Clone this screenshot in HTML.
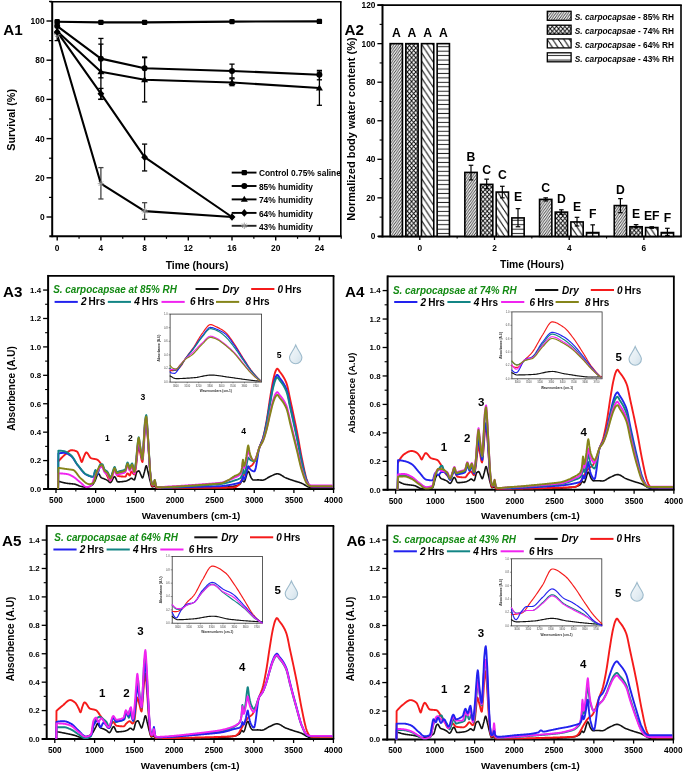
<!DOCTYPE html>
<html><head><meta charset="utf-8"><style>
html,body{margin:0;padding:0;background:#fff;}
svg{display:block;font-family:"Liberation Sans",sans-serif;will-change:transform;}
</style></head><body>
<svg width="685" height="774" viewBox="0 0 685 774">
<rect width="685" height="774" fill="#fff"/>
<line x1="49.7" y1="1.8" x2="341.6" y2="1.8" stroke="#000" stroke-width="1.6" stroke-linecap="butt"/>
<line x1="340.8" y1="1.8" x2="340.8" y2="236.2" stroke="#000" stroke-width="1.6" stroke-linecap="butt"/>
<line x1="52.2" y1="1" x2="52.2" y2="237.2" stroke="#000" stroke-width="2.0" stroke-linecap="butt"/>
<line x1="49.3" y1="236.2" x2="341.6" y2="236.2" stroke="#000" stroke-width="2.0" stroke-linecap="butt"/>
<line x1="46.5" y1="217" x2="52.2" y2="217" stroke="#000" stroke-width="1.4" stroke-linecap="butt"/>
<text x="44.6" y="220.01" font-size="8.4" text-anchor="end" font-weight="bold" font-style="normal" fill="#000">0</text>
<line x1="46.5" y1="177.8" x2="52.2" y2="177.8" stroke="#000" stroke-width="1.4" stroke-linecap="butt"/>
<text x="44.6" y="180.81" font-size="8.4" text-anchor="end" font-weight="bold" font-style="normal" fill="#000">20</text>
<line x1="46.5" y1="138.6" x2="52.2" y2="138.6" stroke="#000" stroke-width="1.4" stroke-linecap="butt"/>
<text x="44.6" y="141.61" font-size="8.4" text-anchor="end" font-weight="bold" font-style="normal" fill="#000">40</text>
<line x1="46.5" y1="99.4" x2="52.2" y2="99.4" stroke="#000" stroke-width="1.4" stroke-linecap="butt"/>
<text x="44.6" y="102.41" font-size="8.4" text-anchor="end" font-weight="bold" font-style="normal" fill="#000">60</text>
<line x1="46.5" y1="60.2" x2="52.2" y2="60.2" stroke="#000" stroke-width="1.4" stroke-linecap="butt"/>
<text x="44.6" y="63.21" font-size="8.4" text-anchor="end" font-weight="bold" font-style="normal" fill="#000">80</text>
<line x1="46.5" y1="21" x2="52.2" y2="21" stroke="#000" stroke-width="1.4" stroke-linecap="butt"/>
<text x="44.6" y="24.01" font-size="8.4" text-anchor="end" font-weight="bold" font-style="normal" fill="#000">100</text>
<line x1="49" y1="197.4" x2="52.2" y2="197.4" stroke="#000" stroke-width="1.2" stroke-linecap="butt"/>
<line x1="49" y1="158.2" x2="52.2" y2="158.2" stroke="#000" stroke-width="1.2" stroke-linecap="butt"/>
<line x1="49" y1="119" x2="52.2" y2="119" stroke="#000" stroke-width="1.2" stroke-linecap="butt"/>
<line x1="49" y1="79.8" x2="52.2" y2="79.8" stroke="#000" stroke-width="1.2" stroke-linecap="butt"/>
<line x1="49" y1="40.6" x2="52.2" y2="40.6" stroke="#000" stroke-width="1.2" stroke-linecap="butt"/>
<line x1="49" y1="1.4" x2="52.2" y2="1.4" stroke="#000" stroke-width="1.2" stroke-linecap="butt"/>
<line x1="57.2" y1="236.2" x2="57.2" y2="240.4" stroke="#000" stroke-width="1.4" stroke-linecap="butt"/>
<text x="57.2" y="250.91" font-size="8.4" text-anchor="middle" font-weight="bold" font-style="normal" fill="#000">0</text>
<line x1="100.9" y1="236.2" x2="100.9" y2="240.4" stroke="#000" stroke-width="1.4" stroke-linecap="butt"/>
<text x="100.9" y="250.91" font-size="8.4" text-anchor="middle" font-weight="bold" font-style="normal" fill="#000">4</text>
<line x1="144.6" y1="236.2" x2="144.6" y2="240.4" stroke="#000" stroke-width="1.4" stroke-linecap="butt"/>
<text x="144.6" y="250.91" font-size="8.4" text-anchor="middle" font-weight="bold" font-style="normal" fill="#000">8</text>
<line x1="188.3" y1="236.2" x2="188.3" y2="240.4" stroke="#000" stroke-width="1.4" stroke-linecap="butt"/>
<text x="188.3" y="250.91" font-size="8.4" text-anchor="middle" font-weight="bold" font-style="normal" fill="#000">12</text>
<line x1="232" y1="236.2" x2="232" y2="240.4" stroke="#000" stroke-width="1.4" stroke-linecap="butt"/>
<text x="232" y="250.91" font-size="8.4" text-anchor="middle" font-weight="bold" font-style="normal" fill="#000">16</text>
<line x1="275.7" y1="236.2" x2="275.7" y2="240.4" stroke="#000" stroke-width="1.4" stroke-linecap="butt"/>
<text x="275.7" y="250.91" font-size="8.4" text-anchor="middle" font-weight="bold" font-style="normal" fill="#000">20</text>
<line x1="319.4" y1="236.2" x2="319.4" y2="240.4" stroke="#000" stroke-width="1.4" stroke-linecap="butt"/>
<text x="319.4" y="250.91" font-size="8.4" text-anchor="middle" font-weight="bold" font-style="normal" fill="#000">24</text>
<line x1="79.05" y1="236.2" x2="79.05" y2="238.8" stroke="#000" stroke-width="1.2" stroke-linecap="butt"/>
<line x1="122.75" y1="236.2" x2="122.75" y2="238.8" stroke="#000" stroke-width="1.2" stroke-linecap="butt"/>
<line x1="166.45" y1="236.2" x2="166.45" y2="238.8" stroke="#000" stroke-width="1.2" stroke-linecap="butt"/>
<line x1="210.15" y1="236.2" x2="210.15" y2="238.8" stroke="#000" stroke-width="1.2" stroke-linecap="butt"/>
<line x1="253.85" y1="236.2" x2="253.85" y2="238.8" stroke="#000" stroke-width="1.2" stroke-linecap="butt"/>
<line x1="297.55" y1="236.2" x2="297.55" y2="238.8" stroke="#000" stroke-width="1.2" stroke-linecap="butt"/>
<line x1="341.25" y1="236.2" x2="341.25" y2="238.8" stroke="#000" stroke-width="1.2" stroke-linecap="butt"/>
<text x="197" y="268.92" font-size="10.4" text-anchor="middle" font-weight="bold" font-style="normal" fill="#000">Time (hours)</text>
<text x="11.2" y="123.77" font-size="10.8" text-anchor="middle" font-weight="bold" font-style="normal" fill="#000" transform="rotate(-90 11.2 119.9)">Survival (%)</text>
<text x="3.2" y="35.24" font-size="15.2" text-anchor="start" font-weight="bold" font-style="normal" fill="#000">A1</text>
<clipPath id="c1"><rect x="52" y="2" width="288" height="234"/></clipPath>
<g clip-path="url(#c1)">
<line x1="57.2" y1="40.6" x2="57.2" y2="21.98" stroke="#000" stroke-width="1.3" stroke-linecap="butt"/>
<line x1="54.6" y1="40.6" x2="59.8" y2="40.6" stroke="#000" stroke-width="1.3" stroke-linecap="butt"/>
<line x1="54.6" y1="21.98" x2="59.8" y2="21.98" stroke="#000" stroke-width="1.3" stroke-linecap="butt"/>
<line x1="100.9" y1="77.84" x2="100.9" y2="38.44" stroke="#000" stroke-width="1.3" stroke-linecap="butt"/>
<line x1="98.3" y1="77.84" x2="103.5" y2="77.84" stroke="#000" stroke-width="1.3" stroke-linecap="butt"/>
<line x1="98.3" y1="38.44" x2="103.5" y2="38.44" stroke="#000" stroke-width="1.3" stroke-linecap="butt"/>
<line x1="100.9" y1="99.4" x2="100.9" y2="44.13" stroke="#000" stroke-width="1.3" stroke-linecap="butt"/>
<line x1="98.3" y1="99.4" x2="103.5" y2="99.4" stroke="#000" stroke-width="1.3" stroke-linecap="butt"/>
<line x1="98.3" y1="44.13" x2="103.5" y2="44.13" stroke="#000" stroke-width="1.3" stroke-linecap="butt"/>
<line x1="100.9" y1="99.2" x2="100.9" y2="88.42" stroke="#000" stroke-width="1.3" stroke-linecap="butt"/>
<line x1="98.3" y1="99.2" x2="103.5" y2="99.2" stroke="#000" stroke-width="1.3" stroke-linecap="butt"/>
<line x1="98.3" y1="88.42" x2="103.5" y2="88.42" stroke="#000" stroke-width="1.3" stroke-linecap="butt"/>
<line x1="144.6" y1="79.8" x2="144.6" y2="57.06" stroke="#000" stroke-width="1.3" stroke-linecap="butt"/>
<line x1="142" y1="79.8" x2="147.2" y2="79.8" stroke="#000" stroke-width="1.3" stroke-linecap="butt"/>
<line x1="142" y1="57.06" x2="147.2" y2="57.06" stroke="#000" stroke-width="1.3" stroke-linecap="butt"/>
<line x1="144.6" y1="101.95" x2="144.6" y2="57.65" stroke="#000" stroke-width="1.3" stroke-linecap="butt"/>
<line x1="142" y1="101.95" x2="147.2" y2="101.95" stroke="#000" stroke-width="1.3" stroke-linecap="butt"/>
<line x1="142" y1="57.65" x2="147.2" y2="57.65" stroke="#000" stroke-width="1.3" stroke-linecap="butt"/>
<line x1="144.6" y1="170.94" x2="144.6" y2="144.09" stroke="#000" stroke-width="1.3" stroke-linecap="butt"/>
<line x1="142" y1="170.94" x2="147.2" y2="170.94" stroke="#000" stroke-width="1.3" stroke-linecap="butt"/>
<line x1="142" y1="144.09" x2="147.2" y2="144.09" stroke="#000" stroke-width="1.3" stroke-linecap="butt"/>
<line x1="232" y1="77.84" x2="232" y2="64.12" stroke="#000" stroke-width="1.3" stroke-linecap="butt"/>
<line x1="229.4" y1="77.84" x2="234.6" y2="77.84" stroke="#000" stroke-width="1.3" stroke-linecap="butt"/>
<line x1="229.4" y1="64.12" x2="234.6" y2="64.12" stroke="#000" stroke-width="1.3" stroke-linecap="butt"/>
<line x1="232" y1="85.68" x2="232" y2="78.82" stroke="#000" stroke-width="1.3" stroke-linecap="butt"/>
<line x1="229.4" y1="85.68" x2="234.6" y2="85.68" stroke="#000" stroke-width="1.3" stroke-linecap="butt"/>
<line x1="229.4" y1="78.82" x2="234.6" y2="78.82" stroke="#000" stroke-width="1.3" stroke-linecap="butt"/>
<line x1="319.4" y1="79.8" x2="319.4" y2="70.39" stroke="#000" stroke-width="1.3" stroke-linecap="butt"/>
<line x1="316.8" y1="79.8" x2="322" y2="79.8" stroke="#000" stroke-width="1.3" stroke-linecap="butt"/>
<line x1="316.8" y1="70.39" x2="322" y2="70.39" stroke="#000" stroke-width="1.3" stroke-linecap="butt"/>
<line x1="319.4" y1="105.28" x2="319.4" y2="71.96" stroke="#000" stroke-width="1.3" stroke-linecap="butt"/>
<line x1="316.8" y1="105.28" x2="322" y2="105.28" stroke="#000" stroke-width="1.3" stroke-linecap="butt"/>
<line x1="316.8" y1="71.96" x2="322" y2="71.96" stroke="#000" stroke-width="1.3" stroke-linecap="butt"/>
<line x1="100.9" y1="198.97" x2="100.9" y2="167.61" stroke="#444" stroke-width="1.3" stroke-linecap="butt"/>
<line x1="98.3" y1="198.97" x2="103.5" y2="198.97" stroke="#444" stroke-width="1.3" stroke-linecap="butt"/>
<line x1="98.3" y1="167.61" x2="103.5" y2="167.61" stroke="#444" stroke-width="1.3" stroke-linecap="butt"/>
<line x1="144.6" y1="219.35" x2="144.6" y2="202.69" stroke="#444" stroke-width="1.3" stroke-linecap="butt"/>
<line x1="142" y1="219.35" x2="147.2" y2="219.35" stroke="#444" stroke-width="1.3" stroke-linecap="butt"/>
<line x1="142" y1="202.69" x2="147.2" y2="202.69" stroke="#444" stroke-width="1.3" stroke-linecap="butt"/>
<polyline points="57.2,21.78 100.9,22.37 144.6,22.37 232,21.59 319.4,21.39" fill="none" stroke="#000" stroke-width="2.1" stroke-linejoin="round" stroke-linecap="round"/>
<polyline points="57.2,26.1 100.9,58.63 144.6,68.24 232,70.98 319.4,74.7" fill="none" stroke="#000" stroke-width="2.1" stroke-linejoin="round" stroke-linecap="round"/>
<polyline points="57.2,31.19 100.9,71.76 144.6,79.8 232,82.54 319.4,88.03" fill="none" stroke="#000" stroke-width="2.1" stroke-linejoin="round" stroke-linecap="round"/>
<polyline points="57.2,31.98 100.9,93.72 144.6,157.22 232,217" fill="none" stroke="#000" stroke-width="2.1" stroke-linejoin="round" stroke-linecap="round"/>
<polyline points="57.2,34.72 100.9,183.68 144.6,211.12 232,217" fill="none" stroke="#000" stroke-width="2.1" stroke-linejoin="round" stroke-linecap="round"/>
<path d="M54,34.72 H60.4 M54.96,32.48 L59.44,36.96 M54.96,36.96 L59.44,32.48 M57.2,31.52 V37.92" stroke="#999" stroke-width="0.9" fill="none"/>
<path d="M97.7,183.68 H104.1 M98.66,181.44 L103.14,185.92 M98.66,185.92 L103.14,181.44 M100.9,180.48 V186.88" stroke="#999" stroke-width="0.9" fill="none"/>
<path d="M141.4,211.12 H147.8 M142.36,208.88 L146.84,213.36 M142.36,213.36 L146.84,208.88 M144.6,207.92 V214.32" stroke="#999" stroke-width="0.9" fill="none"/>
<path d="M228.8,217 H235.2 M229.76,214.76 L234.24,219.24 M229.76,219.24 L234.24,214.76 M232,213.8 V220.2" stroke="#999" stroke-width="0.9" fill="none"/>
<rect x="54.5" y="19.08" width="5.4" height="5.4" rx="1.2" fill="#000"/>
<rect x="98.2" y="19.67" width="5.4" height="5.4" rx="1.2" fill="#000"/>
<rect x="141.9" y="19.67" width="5.4" height="5.4" rx="1.2" fill="#000"/>
<rect x="229.3" y="18.89" width="5.4" height="5.4" rx="1.2" fill="#000"/>
<rect x="316.7" y="18.69" width="5.4" height="5.4" rx="1.2" fill="#000"/>
<circle cx="57.2" cy="26.1" r="3" fill="#000"/>
<circle cx="100.9" cy="58.63" r="3" fill="#000"/>
<circle cx="144.6" cy="68.24" r="3" fill="#000"/>
<circle cx="232" cy="70.98" r="3" fill="#000"/>
<circle cx="319.4" cy="74.7" r="3" fill="#000"/>
<path d="M57.2,27.59 L60.7,33.59 L53.7,33.59Z" fill="#000"/>
<path d="M100.9,68.16 L104.4,74.16 L97.4,74.16Z" fill="#000"/>
<path d="M144.6,76.2 L148.1,82.2 L141.1,82.2Z" fill="#000"/>
<path d="M232,78.94 L235.5,84.94 L228.5,84.94Z" fill="#000"/>
<path d="M319.4,84.43 L322.9,90.43 L315.9,90.43Z" fill="#000"/>
<path d="M57.2,28.18 L60.6,31.98 L57.2,35.78 L53.8,31.98Z" fill="#000"/>
<path d="M100.9,89.92 L104.3,93.72 L100.9,97.52 L97.5,93.72Z" fill="#000"/>
<path d="M144.6,153.42 L148,157.22 L144.6,161.02 L141.2,157.22Z" fill="#000"/>
<path d="M232,213.2 L235.4,217 L232,220.8 L228.6,217Z" fill="#000"/>
<line x1="231.7" y1="172.6" x2="256.5" y2="172.6" stroke="#000" stroke-width="1.9" stroke-linecap="butt"/>
<rect x="241.6" y="169.9" width="5.4" height="5.4" rx="1.2" fill="#000"/>
<text x="258.9" y="176.41" font-size="8.4" text-anchor="start" font-weight="bold" font-style="normal" fill="#000">Control 0.75% saline</text>
<line x1="231.7" y1="186" x2="256.5" y2="186" stroke="#000" stroke-width="1.9" stroke-linecap="butt"/>
<circle cx="244.3" cy="186" r="3" fill="#000"/>
<text x="258.9" y="189.81" font-size="8.4" text-anchor="start" font-weight="bold" font-style="normal" fill="#000">85% humidity</text>
<line x1="231.7" y1="199.4" x2="256.5" y2="199.4" stroke="#000" stroke-width="1.9" stroke-linecap="butt"/>
<path d="M244.3,195.8 L247.8,201.8 L240.8,201.8Z" fill="#000"/>
<text x="258.9" y="203.21" font-size="8.4" text-anchor="start" font-weight="bold" font-style="normal" fill="#000">74% humidity</text>
<line x1="231.7" y1="212.9" x2="256.5" y2="212.9" stroke="#000" stroke-width="1.9" stroke-linecap="butt"/>
<path d="M244.3,209.1 L247.7,212.9 L244.3,216.7 L240.9,212.9Z" fill="#000"/>
<text x="258.9" y="216.71" font-size="8.4" text-anchor="start" font-weight="bold" font-style="normal" fill="#000">64% humidity</text>
<line x1="231.7" y1="225.8" x2="256.5" y2="225.8" stroke="#222" stroke-width="1.9" stroke-linecap="butt"/>
<path d="M241.1,225.8 H247.5 M242.06,223.56 L246.54,228.04 M242.06,228.04 L246.54,223.56 M244.3,222.6 V229" stroke="#999" stroke-width="0.9" fill="none"/>
<text x="258.9" y="229.61" font-size="8.4" text-anchor="start" font-weight="bold" font-style="normal" fill="#000">43% humidity</text>
</g>
<defs>
<pattern id="h85" patternUnits="userSpaceOnUse" width="2.5" height="3.6">
<rect width="2.5" height="3.6" fill="#fff"/><path d="M-1.25,5.4 L1.25,1.8 M-1.25,1.8 L1.25,-1.8 M0,3.6 L2.5,0 M1.25,5.4 L3.75,1.8 M1.25,1.8 L3.75,-1.8" stroke="#2a2a2a" stroke-width="0.85"/></pattern>
<pattern id="h74" patternUnits="userSpaceOnUse" width="4.2" height="4.8">
<rect width="4.2" height="4.8" fill="#fff"/><path d="M0,0 L4.2,4.8 M0,4.8 L4.2,0" stroke="#000" stroke-width="0.9"/></pattern>
<pattern id="h64" patternUnits="userSpaceOnUse" width="5.6" height="8.4">
<rect width="5.6" height="8.4" fill="#fff"/><path d="M0,0 L5.6,8.4 M-5.6,0 L0,8.4 M5.6,0 L11.2,8.4" stroke="#111" stroke-width="1.1"/></pattern>
<pattern id="h43" patternUnits="userSpaceOnUse" width="10" height="4.45">
<rect width="10" height="4.45" fill="#fff"/><path d="M0,2.2 H10" stroke="#222" stroke-width="1.0"/></pattern>
</defs>
<line x1="377.4" y1="5.1" x2="681.8" y2="5.1" stroke="#000" stroke-width="1.6" stroke-linecap="butt"/>
<line x1="681" y1="5.1" x2="681" y2="236.4" stroke="#000" stroke-width="1.6" stroke-linecap="butt"/>
<line x1="382.5" y1="4.3" x2="382.5" y2="237.4" stroke="#000" stroke-width="2.0" stroke-linecap="butt"/>
<line x1="378.2" y1="236.4" x2="681.8" y2="236.4" stroke="#000" stroke-width="2.0" stroke-linecap="butt"/>
<line x1="377.4" y1="236.4" x2="382.5" y2="236.4" stroke="#000" stroke-width="1.3" stroke-linecap="butt"/>
<text x="375.4" y="239.37" font-size="8.3" text-anchor="end" font-weight="bold" font-style="normal" fill="#000">0</text>
<line x1="377.4" y1="197.85" x2="382.5" y2="197.85" stroke="#000" stroke-width="1.3" stroke-linecap="butt"/>
<text x="375.4" y="200.82" font-size="8.3" text-anchor="end" font-weight="bold" font-style="normal" fill="#000">20</text>
<line x1="377.4" y1="159.3" x2="382.5" y2="159.3" stroke="#000" stroke-width="1.3" stroke-linecap="butt"/>
<text x="375.4" y="162.27" font-size="8.3" text-anchor="end" font-weight="bold" font-style="normal" fill="#000">40</text>
<line x1="377.4" y1="120.75" x2="382.5" y2="120.75" stroke="#000" stroke-width="1.3" stroke-linecap="butt"/>
<text x="375.4" y="123.72" font-size="8.3" text-anchor="end" font-weight="bold" font-style="normal" fill="#000">60</text>
<line x1="377.4" y1="82.2" x2="382.5" y2="82.2" stroke="#000" stroke-width="1.3" stroke-linecap="butt"/>
<text x="375.4" y="85.17" font-size="8.3" text-anchor="end" font-weight="bold" font-style="normal" fill="#000">80</text>
<line x1="377.4" y1="43.65" x2="382.5" y2="43.65" stroke="#000" stroke-width="1.3" stroke-linecap="butt"/>
<text x="375.4" y="46.62" font-size="8.3" text-anchor="end" font-weight="bold" font-style="normal" fill="#000">100</text>
<line x1="377.4" y1="5.1" x2="382.5" y2="5.1" stroke="#000" stroke-width="1.3" stroke-linecap="butt"/>
<text x="375.4" y="8.07" font-size="8.3" text-anchor="end" font-weight="bold" font-style="normal" fill="#000">120</text>
<line x1="379.6" y1="217.12" x2="382.5" y2="217.12" stroke="#000" stroke-width="1.1" stroke-linecap="butt"/>
<line x1="379.6" y1="178.57" x2="382.5" y2="178.57" stroke="#000" stroke-width="1.1" stroke-linecap="butt"/>
<line x1="379.6" y1="140.03" x2="382.5" y2="140.03" stroke="#000" stroke-width="1.1" stroke-linecap="butt"/>
<line x1="379.6" y1="101.47" x2="382.5" y2="101.47" stroke="#000" stroke-width="1.1" stroke-linecap="butt"/>
<line x1="379.6" y1="62.93" x2="382.5" y2="62.93" stroke="#000" stroke-width="1.1" stroke-linecap="butt"/>
<line x1="379.6" y1="24.38" x2="382.5" y2="24.38" stroke="#000" stroke-width="1.1" stroke-linecap="butt"/>
<line x1="419.8" y1="236.4" x2="419.8" y2="240" stroke="#000" stroke-width="1.3" stroke-linecap="butt"/>
<text x="419.8" y="251.17" font-size="8.3" text-anchor="middle" font-weight="bold" font-style="normal" fill="#000">0</text>
<line x1="494.5" y1="236.4" x2="494.5" y2="240" stroke="#000" stroke-width="1.3" stroke-linecap="butt"/>
<text x="494.5" y="251.17" font-size="8.3" text-anchor="middle" font-weight="bold" font-style="normal" fill="#000">2</text>
<line x1="569.2" y1="236.4" x2="569.2" y2="240" stroke="#000" stroke-width="1.3" stroke-linecap="butt"/>
<text x="569.2" y="251.17" font-size="8.3" text-anchor="middle" font-weight="bold" font-style="normal" fill="#000">4</text>
<line x1="643.9" y1="236.4" x2="643.9" y2="240" stroke="#000" stroke-width="1.3" stroke-linecap="butt"/>
<text x="643.9" y="251.17" font-size="8.3" text-anchor="middle" font-weight="bold" font-style="normal" fill="#000">6</text>
<line x1="457.15" y1="236.4" x2="457.15" y2="238.6" stroke="#000" stroke-width="1.1" stroke-linecap="butt"/>
<line x1="531.85" y1="236.4" x2="531.85" y2="238.6" stroke="#000" stroke-width="1.1" stroke-linecap="butt"/>
<line x1="606.55" y1="236.4" x2="606.55" y2="238.6" stroke="#000" stroke-width="1.1" stroke-linecap="butt"/>
<text x="532" y="268.32" font-size="10.4" text-anchor="middle" font-weight="bold" font-style="normal" fill="#000">Time (Hours)</text>
<text x="351.3" y="132.94" font-size="11.0" text-anchor="middle" font-weight="bold" font-style="normal" fill="#000" transform="rotate(-90 351.3 129)">Normalized body water content (%)</text>
<text x="344.6" y="34.74" font-size="15.2" text-anchor="start" font-weight="bold" font-style="normal" fill="#000">A2</text>
<rect x="390.15" y="43.65" width="12.3" height="192.75" fill="url(#h85)" stroke="#000" stroke-width="1.6"/>
<rect x="405.82" y="43.65" width="12.3" height="192.75" fill="url(#h74)" stroke="#000" stroke-width="1.6"/>
<rect x="421.48" y="43.65" width="12.3" height="192.75" fill="url(#h64)" stroke="#000" stroke-width="1.6"/>
<rect x="437.15" y="43.65" width="12.3" height="192.75" fill="url(#h43)" stroke="#000" stroke-width="1.6"/>
<rect x="464.85" y="172.41" width="12.3" height="63.99" fill="url(#h85)" stroke="#000" stroke-width="1.6"/>
<rect x="480.52" y="184.36" width="12.3" height="52.04" fill="url(#h74)" stroke="#000" stroke-width="1.6"/>
<rect x="496.18" y="192.07" width="12.3" height="44.33" fill="url(#h64)" stroke="#000" stroke-width="1.6"/>
<rect x="511.85" y="217.9" width="12.3" height="18.5" fill="url(#h43)" stroke="#000" stroke-width="1.6"/>
<rect x="539.55" y="199.39" width="12.3" height="37.01" fill="url(#h85)" stroke="#000" stroke-width="1.6"/>
<rect x="555.22" y="212.11" width="12.3" height="24.29" fill="url(#h74)" stroke="#000" stroke-width="1.6"/>
<rect x="570.88" y="221.94" width="12.3" height="14.46" fill="url(#h64)" stroke="#000" stroke-width="1.6"/>
<rect x="586.55" y="232.55" width="12.3" height="3.85" fill="url(#h43)" stroke="#000" stroke-width="1.6"/>
<rect x="614.25" y="205.56" width="12.3" height="30.84" fill="url(#h85)" stroke="#000" stroke-width="1.6"/>
<rect x="629.92" y="226.76" width="12.3" height="9.64" fill="url(#h74)" stroke="#000" stroke-width="1.6"/>
<rect x="645.58" y="227.53" width="12.3" height="8.87" fill="url(#h64)" stroke="#000" stroke-width="1.6"/>
<rect x="661.25" y="232.55" width="12.3" height="3.85" fill="url(#h43)" stroke="#000" stroke-width="1.6"/>
<line x1="471" y1="179.92" x2="471" y2="165.28" stroke="#000" stroke-width="1.2" stroke-linecap="butt"/>
<line x1="468.7" y1="165.28" x2="473.3" y2="165.28" stroke="#000" stroke-width="1.2" stroke-linecap="butt"/>
<line x1="468.7" y1="179.92" x2="473.3" y2="179.92" stroke="#000" stroke-width="1.2" stroke-linecap="butt"/>
<line x1="486.67" y1="188.79" x2="486.67" y2="179.15" stroke="#000" stroke-width="1.2" stroke-linecap="butt"/>
<line x1="484.37" y1="179.15" x2="488.97" y2="179.15" stroke="#000" stroke-width="1.2" stroke-linecap="butt"/>
<line x1="484.37" y1="188.79" x2="488.97" y2="188.79" stroke="#000" stroke-width="1.2" stroke-linecap="butt"/>
<line x1="502.33" y1="197.85" x2="502.33" y2="186.28" stroke="#000" stroke-width="1.2" stroke-linecap="butt"/>
<line x1="500.03" y1="186.28" x2="504.63" y2="186.28" stroke="#000" stroke-width="1.2" stroke-linecap="butt"/>
<line x1="500.03" y1="197.85" x2="504.63" y2="197.85" stroke="#000" stroke-width="1.2" stroke-linecap="butt"/>
<line x1="518" y1="226.76" x2="518" y2="208.64" stroke="#000" stroke-width="1.2" stroke-linecap="butt"/>
<line x1="515.7" y1="208.64" x2="520.3" y2="208.64" stroke="#000" stroke-width="1.2" stroke-linecap="butt"/>
<line x1="515.7" y1="226.76" x2="520.3" y2="226.76" stroke="#000" stroke-width="1.2" stroke-linecap="butt"/>
<line x1="545.7" y1="200.93" x2="545.7" y2="197.85" stroke="#000" stroke-width="1.2" stroke-linecap="butt"/>
<line x1="543.4" y1="197.85" x2="548" y2="197.85" stroke="#000" stroke-width="1.2" stroke-linecap="butt"/>
<line x1="543.4" y1="200.93" x2="548" y2="200.93" stroke="#000" stroke-width="1.2" stroke-linecap="butt"/>
<line x1="561.37" y1="214.23" x2="561.37" y2="209.8" stroke="#000" stroke-width="1.2" stroke-linecap="butt"/>
<line x1="559.07" y1="209.8" x2="563.67" y2="209.8" stroke="#000" stroke-width="1.2" stroke-linecap="butt"/>
<line x1="559.07" y1="214.23" x2="563.67" y2="214.23" stroke="#000" stroke-width="1.2" stroke-linecap="butt"/>
<line x1="577.03" y1="225.99" x2="577.03" y2="217.32" stroke="#000" stroke-width="1.2" stroke-linecap="butt"/>
<line x1="574.73" y1="217.32" x2="579.33" y2="217.32" stroke="#000" stroke-width="1.2" stroke-linecap="butt"/>
<line x1="574.73" y1="225.99" x2="579.33" y2="225.99" stroke="#000" stroke-width="1.2" stroke-linecap="butt"/>
<line x1="592.7" y1="236.4" x2="592.7" y2="224.84" stroke="#000" stroke-width="1.2" stroke-linecap="butt"/>
<line x1="590.4" y1="224.84" x2="595" y2="224.84" stroke="#000" stroke-width="1.2" stroke-linecap="butt"/>
<line x1="590.4" y1="236.4" x2="595" y2="236.4" stroke="#000" stroke-width="1.2" stroke-linecap="butt"/>
<line x1="620.4" y1="212.69" x2="620.4" y2="198.62" stroke="#000" stroke-width="1.2" stroke-linecap="butt"/>
<line x1="618.1" y1="198.62" x2="622.7" y2="198.62" stroke="#000" stroke-width="1.2" stroke-linecap="butt"/>
<line x1="618.1" y1="212.69" x2="622.7" y2="212.69" stroke="#000" stroke-width="1.2" stroke-linecap="butt"/>
<line x1="636.07" y1="227.73" x2="636.07" y2="224.64" stroke="#000" stroke-width="1.2" stroke-linecap="butt"/>
<line x1="633.77" y1="224.64" x2="638.37" y2="224.64" stroke="#000" stroke-width="1.2" stroke-linecap="butt"/>
<line x1="633.77" y1="227.73" x2="638.37" y2="227.73" stroke="#000" stroke-width="1.2" stroke-linecap="butt"/>
<line x1="651.73" y1="228.3" x2="651.73" y2="226.76" stroke="#000" stroke-width="1.2" stroke-linecap="butt"/>
<line x1="649.43" y1="226.76" x2="654.03" y2="226.76" stroke="#000" stroke-width="1.2" stroke-linecap="butt"/>
<line x1="649.43" y1="228.3" x2="654.03" y2="228.3" stroke="#000" stroke-width="1.2" stroke-linecap="butt"/>
<line x1="667.4" y1="235.44" x2="667.4" y2="228.3" stroke="#000" stroke-width="1.2" stroke-linecap="butt"/>
<line x1="665.1" y1="228.3" x2="669.7" y2="228.3" stroke="#000" stroke-width="1.2" stroke-linecap="butt"/>
<line x1="665.1" y1="235.44" x2="669.7" y2="235.44" stroke="#000" stroke-width="1.2" stroke-linecap="butt"/>
<text x="396.3" y="37.17" font-size="12.2" text-anchor="middle" font-weight="bold" font-style="normal" fill="#000">A</text>
<text x="411.97" y="37.17" font-size="12.2" text-anchor="middle" font-weight="bold" font-style="normal" fill="#000">A</text>
<text x="427.63" y="37.17" font-size="12.2" text-anchor="middle" font-weight="bold" font-style="normal" fill="#000">A</text>
<text x="443.3" y="37.17" font-size="12.2" text-anchor="middle" font-weight="bold" font-style="normal" fill="#000">A</text>
<text x="471" y="160.67" font-size="12.2" text-anchor="middle" font-weight="bold" font-style="normal" fill="#000">B</text>
<text x="486.67" y="173.77" font-size="12.2" text-anchor="middle" font-weight="bold" font-style="normal" fill="#000">C</text>
<text x="502.33" y="179.07" font-size="12.2" text-anchor="middle" font-weight="bold" font-style="normal" fill="#000">C</text>
<text x="518" y="201.37" font-size="12.2" text-anchor="middle" font-weight="bold" font-style="normal" fill="#000">E</text>
<text x="545.7" y="191.67" font-size="12.2" text-anchor="middle" font-weight="bold" font-style="normal" fill="#000">C</text>
<text x="561.37" y="203.17" font-size="12.2" text-anchor="middle" font-weight="bold" font-style="normal" fill="#000">D</text>
<text x="577.03" y="211.07" font-size="12.2" text-anchor="middle" font-weight="bold" font-style="normal" fill="#000">E</text>
<text x="592.7" y="218.37" font-size="12.2" text-anchor="middle" font-weight="bold" font-style="normal" fill="#000">F</text>
<text x="620.4" y="194.37" font-size="12.2" text-anchor="middle" font-weight="bold" font-style="normal" fill="#000">D</text>
<text x="636.07" y="218.37" font-size="12.2" text-anchor="middle" font-weight="bold" font-style="normal" fill="#000">E</text>
<text x="651.73" y="219.77" font-size="12.2" text-anchor="middle" font-weight="bold" font-style="normal" fill="#000">EF</text>
<text x="667.4" y="221.87" font-size="12.2" text-anchor="middle" font-weight="bold" font-style="normal" fill="#000">F</text>
<rect x="547.3" y="11.3" width="23.8" height="9" fill="url(#h85)" stroke="#000" stroke-width="1.3"/>
<text x="574.8" y="20.07" font-size="8.3" font-weight="bold"><tspan font-style="italic">S. carpocapsae</tspan> - 85% RH</text>
<rect x="547.3" y="25.2" width="23.8" height="9" fill="url(#h74)" stroke="#000" stroke-width="1.3"/>
<text x="574.8" y="33.97" font-size="8.3" font-weight="bold"><tspan font-style="italic">S. carpocapsae</tspan> - 74% RH</text>
<rect x="547.3" y="38.9" width="23.8" height="9" fill="url(#h64)" stroke="#000" stroke-width="1.3"/>
<text x="574.8" y="47.67" font-size="8.3" font-weight="bold"><tspan font-style="italic">S. carpocapsae</tspan> - 64% RH</text>
<rect x="547.3" y="52.8" width="23.8" height="9" fill="url(#h43)" stroke="#000" stroke-width="1.3"/>
<text x="574.8" y="61.57" font-size="8.3" font-weight="bold"><tspan font-style="italic">S. carpocapsae</tspan> - 43% RH</text>
<defs><linearGradient id="dropg" x1="0" y1="0" x2="1" y2="1"><stop offset="0" stop-color="#f4f8fb"/><stop offset="0.6" stop-color="#e3edf3"/><stop offset="1" stop-color="#cfdfe9"/></linearGradient></defs>
<line x1="47.9" y1="275.85" x2="334.35" y2="275.85" stroke="#000" stroke-width="1.8" stroke-linecap="butt"/>
<line x1="333.55" y1="275.85" x2="333.55" y2="489" stroke="#000" stroke-width="1.8" stroke-linecap="butt"/>
<line x1="48.1" y1="274.95" x2="48.1" y2="490" stroke="#000" stroke-width="2.0" stroke-linecap="butt"/>
<line x1="43.1" y1="489" x2="334.35" y2="489" stroke="#000" stroke-width="2.0" stroke-linecap="butt"/>
<line x1="43.1" y1="489" x2="48.1" y2="489" stroke="#000" stroke-width="1.3" stroke-linecap="butt"/>
<text x="41.1" y="491.83" font-size="7.9" text-anchor="end" font-weight="bold" font-style="normal" fill="#000">0.0</text>
<line x1="43.1" y1="460.58" x2="48.1" y2="460.58" stroke="#000" stroke-width="1.3" stroke-linecap="butt"/>
<text x="41.1" y="463.41" font-size="7.9" text-anchor="end" font-weight="bold" font-style="normal" fill="#000">0.2</text>
<line x1="43.1" y1="432.16" x2="48.1" y2="432.16" stroke="#000" stroke-width="1.3" stroke-linecap="butt"/>
<text x="41.1" y="434.99" font-size="7.9" text-anchor="end" font-weight="bold" font-style="normal" fill="#000">0.4</text>
<line x1="43.1" y1="403.74" x2="48.1" y2="403.74" stroke="#000" stroke-width="1.3" stroke-linecap="butt"/>
<text x="41.1" y="406.57" font-size="7.9" text-anchor="end" font-weight="bold" font-style="normal" fill="#000">0.6</text>
<line x1="43.1" y1="375.32" x2="48.1" y2="375.32" stroke="#000" stroke-width="1.3" stroke-linecap="butt"/>
<text x="41.1" y="378.15" font-size="7.9" text-anchor="end" font-weight="bold" font-style="normal" fill="#000">0.8</text>
<line x1="43.1" y1="346.9" x2="48.1" y2="346.9" stroke="#000" stroke-width="1.3" stroke-linecap="butt"/>
<text x="41.1" y="349.73" font-size="7.9" text-anchor="end" font-weight="bold" font-style="normal" fill="#000">1.0</text>
<line x1="43.1" y1="318.48" x2="48.1" y2="318.48" stroke="#000" stroke-width="1.3" stroke-linecap="butt"/>
<text x="41.1" y="321.31" font-size="7.9" text-anchor="end" font-weight="bold" font-style="normal" fill="#000">1.2</text>
<line x1="43.1" y1="290.06" x2="48.1" y2="290.06" stroke="#000" stroke-width="1.3" stroke-linecap="butt"/>
<text x="41.1" y="292.89" font-size="7.9" text-anchor="end" font-weight="bold" font-style="normal" fill="#000">1.4</text>
<line x1="45.1" y1="474.79" x2="48.1" y2="474.79" stroke="#000" stroke-width="1.1" stroke-linecap="butt"/>
<line x1="45.1" y1="446.37" x2="48.1" y2="446.37" stroke="#000" stroke-width="1.1" stroke-linecap="butt"/>
<line x1="45.1" y1="417.95" x2="48.1" y2="417.95" stroke="#000" stroke-width="1.1" stroke-linecap="butt"/>
<line x1="45.1" y1="389.53" x2="48.1" y2="389.53" stroke="#000" stroke-width="1.1" stroke-linecap="butt"/>
<line x1="45.1" y1="361.11" x2="48.1" y2="361.11" stroke="#000" stroke-width="1.1" stroke-linecap="butt"/>
<line x1="45.1" y1="332.69" x2="48.1" y2="332.69" stroke="#000" stroke-width="1.1" stroke-linecap="butt"/>
<line x1="45.1" y1="304.27" x2="48.1" y2="304.27" stroke="#000" stroke-width="1.1" stroke-linecap="butt"/>
<line x1="56" y1="489" x2="56" y2="493" stroke="#000" stroke-width="1.3" stroke-linecap="butt"/>
<text x="56" y="502.72" font-size="8.3" text-anchor="middle" font-weight="bold" font-style="normal" fill="#000">500</text>
<line x1="95.65" y1="489" x2="95.65" y2="493" stroke="#000" stroke-width="1.3" stroke-linecap="butt"/>
<text x="95.65" y="502.72" font-size="8.3" text-anchor="middle" font-weight="bold" font-style="normal" fill="#000">1000</text>
<line x1="135.3" y1="489" x2="135.3" y2="493" stroke="#000" stroke-width="1.3" stroke-linecap="butt"/>
<text x="135.3" y="502.72" font-size="8.3" text-anchor="middle" font-weight="bold" font-style="normal" fill="#000">1500</text>
<line x1="174.95" y1="489" x2="174.95" y2="493" stroke="#000" stroke-width="1.3" stroke-linecap="butt"/>
<text x="174.95" y="502.72" font-size="8.3" text-anchor="middle" font-weight="bold" font-style="normal" fill="#000">2000</text>
<line x1="214.6" y1="489" x2="214.6" y2="493" stroke="#000" stroke-width="1.3" stroke-linecap="butt"/>
<text x="214.6" y="502.72" font-size="8.3" text-anchor="middle" font-weight="bold" font-style="normal" fill="#000">2500</text>
<line x1="254.25" y1="489" x2="254.25" y2="493" stroke="#000" stroke-width="1.3" stroke-linecap="butt"/>
<text x="254.25" y="502.72" font-size="8.3" text-anchor="middle" font-weight="bold" font-style="normal" fill="#000">3000</text>
<line x1="293.9" y1="489" x2="293.9" y2="493" stroke="#000" stroke-width="1.3" stroke-linecap="butt"/>
<text x="293.9" y="502.72" font-size="8.3" text-anchor="middle" font-weight="bold" font-style="normal" fill="#000">3500</text>
<line x1="333.55" y1="489" x2="333.55" y2="493" stroke="#000" stroke-width="1.3" stroke-linecap="butt"/>
<text x="333.55" y="502.72" font-size="8.3" text-anchor="middle" font-weight="bold" font-style="normal" fill="#000">4000</text>
<line x1="75.83" y1="489" x2="75.83" y2="491.5" stroke="#000" stroke-width="1.1" stroke-linecap="butt"/>
<line x1="115.47" y1="489" x2="115.47" y2="491.5" stroke="#000" stroke-width="1.1" stroke-linecap="butt"/>
<line x1="155.12" y1="489" x2="155.12" y2="491.5" stroke="#000" stroke-width="1.1" stroke-linecap="butt"/>
<line x1="194.78" y1="489" x2="194.78" y2="491.5" stroke="#000" stroke-width="1.1" stroke-linecap="butt"/>
<line x1="234.42" y1="489" x2="234.42" y2="491.5" stroke="#000" stroke-width="1.1" stroke-linecap="butt"/>
<line x1="274.07" y1="489" x2="274.07" y2="491.5" stroke="#000" stroke-width="1.1" stroke-linecap="butt"/>
<line x1="313.72" y1="489" x2="313.72" y2="491.5" stroke="#000" stroke-width="1.1" stroke-linecap="butt"/>
<text x="11.3" y="392.08" font-size="10.0" text-anchor="middle" font-weight="bold" font-style="normal" fill="#000" transform="rotate(-90 11.3 388.5)">Absorbence (A.U)</text>
<text x="191" y="518.81" font-size="9.8" text-anchor="middle" font-weight="bold" font-style="normal" fill="#000">Wavenumbers (cm-1)</text>
<text x="3" y="296.94" font-size="15.2" text-anchor="start" font-weight="bold" font-style="normal" fill="#000">A3</text>
<text x="53.2" y="292.82" font-size="10.1" font-weight="bold" font-style="italic" fill="#138a13" textLength="123.6" lengthAdjust="spacingAndGlyphs">S. carpocapsae at 85% RH</text>
<line x1="195.5" y1="289" x2="218.7" y2="289" stroke="#111111" stroke-width="2.0" stroke-linecap="butt"/>
<text x="222.5" y="292.58" font-size="10" font-weight="bold" font-style="italic">Dry</text>
<line x1="251.2" y1="289" x2="274.4" y2="289" stroke="#f51b1b" stroke-width="2.0" stroke-linecap="butt"/>
<text x="277.4" y="292.58" font-size="10" font-weight="bold"><tspan font-style="italic">0</tspan><tspan dx="2">Hrs</tspan></text>
<line x1="54.6" y1="301.9" x2="77.8" y2="301.9" stroke="#2222ee" stroke-width="2.0" stroke-linecap="butt"/>
<text x="81" y="305.48" font-size="10" font-weight="bold"><tspan font-style="italic">2</tspan><tspan dx="2">Hrs</tspan></text>
<line x1="107.8" y1="301.9" x2="131" y2="301.9" stroke="#138585" stroke-width="2.0" stroke-linecap="butt"/>
<text x="134.2" y="305.48" font-size="10" font-weight="bold"><tspan font-style="italic">4</tspan><tspan dx="2">Hrs</tspan></text>
<line x1="161.5" y1="301.9" x2="184.7" y2="301.9" stroke="#f024f0" stroke-width="2.0" stroke-linecap="butt"/>
<text x="190" y="305.48" font-size="10" font-weight="bold"><tspan font-style="italic">6</tspan><tspan dx="2">Hrs</tspan></text>
<line x1="216" y1="301.9" x2="239.2" y2="301.9" stroke="#85851a" stroke-width="2.0" stroke-linecap="butt"/>
<text x="245.4" y="305.48" font-size="10" font-weight="bold"><tspan font-style="italic">8</tspan><tspan dx="2">Hrs</tspan></text>
<clipPath id="cpA3"><rect x="49.1" y="276.85" width="283.45" height="212.15"/></clipPath>
<g clip-path="url(#cpA3)">
<polyline points="58.14,489 58.38,481.18 58.85,481.33 59.33,481.48 59.81,481.62 60.28,481.76 60.76,481.9 61.23,482.03 61.71,482.16 62.19,482.28 62.66,482.41 63.14,482.52 63.61,482.64 64.09,482.75 64.56,482.85 65.04,482.95 65.52,483.04 65.99,483.13 66.47,483.21 66.94,483.29 67.1,483.32 67.42,483.36 67.89,483.43 68.37,483.48 68.85,483.54 69.32,483.58 69.8,483.63 70.27,483.67 70.75,483.71 71.23,483.75 71.7,483.8 72.18,483.84 72.65,483.89 73.13,483.95 73.6,484.01 74.08,484.08 74.56,484.15 74.64,484.17 75.03,484.25 75.51,484.38 75.98,484.54 76.46,484.71 76.94,484.91 77.41,485.11 77.89,485.32 78.36,485.52 78.84,485.72 79.31,485.91 79.79,486.08 80.27,486.22 80.58,486.3 80.74,486.34 81.22,486.45 81.69,486.56 82.17,486.67 82.64,486.78 83.12,486.88 83.6,486.97 84.07,487.06 84.55,487.14 85.02,487.2 85.5,487.25 85.98,487.28 86.45,487.29 86.53,487.29 86.93,487.28 87.4,487.23 87.88,487.13 88.35,487 88.83,486.84 89.31,486.64 89.78,486.42 90.26,486.17 90.73,485.9 91.21,485.61 91.69,485.29 92.16,484.96 92.48,484.74 92.64,484.61 93.11,484.08 93.59,483.39 94.06,482.59 94.54,481.74 94.86,481.18 95.02,480.89 95.49,479.81 95.97,478.54 96.44,477.2 96.92,475.91 97.39,474.81 97.87,474.02 98.35,473.66 98.43,473.65 98.82,473.84 99.3,474.47 99.77,475.35 100.25,476.29 100.73,477.12 101.2,477.63 101.68,477.9 102.15,478.11 102.63,478.28 103.1,478.43 103.58,478.58 104.06,478.75 104.45,478.91 104.53,478.95 105.01,479.16 105.48,479.38 105.96,479.61 106.43,479.85 106.91,480.11 107.39,480.38 107.54,480.47 107.86,480.7 108.34,481.13 108.81,481.6 109.29,482.05 109.77,482.4 110.24,482.59 110.4,482.61 110.72,482.51 111.19,482.05 111.67,481.3 112.14,480.37 112.62,479.37 113.1,478.39 113.57,477.54 114.05,476.92 114.52,476.64 114.6,476.64 115,476.85 115.47,477.57 115.95,478.6 116.43,479.74 116.9,480.81 117.38,481.59 117.85,481.89 118.33,481.89 118.81,481.88 119.28,481.86 119.76,481.84 120.23,481.81 120.71,481.77 121.18,481.73 121.66,481.68 122.14,481.63 122.61,481.58 123.09,481.52 123.56,481.45 124.04,481.38 124.52,481.31 124.99,481.24 125.31,481.18 125.47,481.16 125.94,481.04 126.42,480.9 126.89,480.72 127.37,480.52 127.85,480.31 128.32,480.08 128.8,479.84 128.96,479.76 129.27,479.57 129.75,479.18 130.22,478.77 130.7,478.41 131.18,478.22 131.33,478.2 131.65,478.26 132.13,478.51 132.6,478.88 133.08,479.29 133.56,479.65 134.03,479.87 134.27,479.91 134.51,479.74 134.98,478.59 135.46,476.74 135.93,474.7 136.41,472.94 136.89,471.95 137.36,471.53 137.84,471.17 138.31,470.92 138.79,470.81 138.87,470.81 139.26,471.1 139.74,472.02 140.22,473.25 140.69,474.45 140.85,474.79 141.17,475.52 141.64,476.75 142.12,477.69 142.44,477.92 142.6,477.85 143.07,476.92 143.55,475.28 144.02,473.38 144.42,471.95 144.5,471.68 144.97,469.7 145.45,467.59 145.93,466.05 146.24,465.7 146.4,465.79 146.88,467.01 147.35,469.08 147.83,471.3 147.99,471.95 148.31,473.22 148.78,475.29 149.26,477.42 149.73,479.48 150.21,481.34 150.37,481.89 150.68,483.04 151.16,484.84 151.64,486.28 152.11,486.87 152.59,486.81 153.06,486.65 153.54,486.46 154.01,486.29 154.49,486.17 154.73,486.16 154.97,486.28 155.44,487.04 155.92,487.93 156.31,488.29 156.39,488.3 156.87,488.36 157.35,488.4 157.82,488.42 158.3,488.43 158.77,488.43 159.25,488.43 159.72,488.43 160.2,488.43 160.68,488.43 161.15,488.43 161.63,488.43 162.1,488.43 162.58,488.43 163.06,488.43 163.53,488.43 164.01,488.43 164.48,488.43 164.96,488.43 165.43,488.43 165.91,488.43 166.39,488.43 166.86,488.43 167.34,488.43 167.81,488.43 168.29,488.43 168.76,488.43 169.24,488.43 169.72,488.43 170.19,488.43 170.67,488.43 171.14,488.43 171.62,488.43 172.1,488.43 172.57,488.43 173.05,488.43 173.52,488.43 174,488.43 174.47,488.43 174.95,488.43 175.43,488.43 175.9,488.43 176.38,488.43 176.85,488.43 177.33,488.43 177.8,488.43 178.28,488.43 178.76,488.43 179.23,488.43 179.71,488.42 180.18,488.42 180.66,488.42 181.14,488.42 181.61,488.42 182.09,488.42 182.56,488.41 183.04,488.41 183.51,488.41 183.99,488.41 184.47,488.4 184.94,488.4 185.42,488.4 185.89,488.39 186.37,488.39 186.84,488.39 187.32,488.38 187.8,488.38 188.27,488.38 188.75,488.37 189.22,488.37 189.7,488.37 190.18,488.36 190.65,488.36 191.13,488.35 191.6,488.35 192.08,488.34 192.55,488.34 193.03,488.33 193.51,488.33 193.98,488.32 194.46,488.32 194.93,488.31 195.41,488.31 195.89,488.3 196.36,488.3 196.84,488.29 197.31,488.28 197.79,488.28 198.26,488.27 198.74,488.27 199.22,488.26 199.69,488.25 200.17,488.25 200.64,488.24 201.12,488.23 201.59,488.23 202.07,488.22 202.55,488.21 203.02,488.21 203.5,488.2 203.97,488.19 204.45,488.18 204.93,488.18 205.4,488.17 205.88,488.16 206.35,488.15 206.67,488.15 206.83,488.14 207.3,488.14 207.78,488.12 208.26,488.11 208.73,488.1 209.21,488.08 209.68,488.07 210.16,488.05 210.63,488.03 211.11,488.01 211.59,487.99 212.06,487.96 212.54,487.94 213.01,487.92 213.49,487.89 213.97,487.86 214.44,487.84 214.92,487.81 215.39,487.78 215.87,487.75 216.34,487.72 216.82,487.69 217.3,487.66 217.77,487.62 218.25,487.59 218.72,487.56 219.2,487.53 219.68,487.49 220.15,487.46 220.63,487.43 221.1,487.39 221.58,487.36 222.05,487.33 222.53,487.29 223.01,487.26 223.48,487.23 223.96,487.2 224.43,487.17 224.91,487.13 225.38,487.1 225.86,487.07 226.34,487.03 226.81,487 227.29,486.96 227.76,486.93 228.24,486.89 228.72,486.85 229.19,486.81 229.67,486.76 230.14,486.71 230.62,486.67 231.09,486.61 231.57,486.56 232.05,486.5 232.52,486.44 233,486.38 233.47,486.31 233.95,486.23 234.42,486.16 234.9,486.07 235.38,485.97 235.85,485.86 236.33,485.73 236.8,485.58 237.28,485.41 237.76,485.22 238.23,485.01 238.71,484.77 239.18,484.51 239.66,484.23 239.98,484.03 240.13,483.89 240.61,483.18 241.09,482.22 241.56,481.28 242.04,480.62 242.35,480.47 242.51,480.51 242.99,480.97 243.47,481.59 243.94,481.89 244.42,481.55 244.89,480.61 245.37,479.25 245.84,477.64 246.32,475.92 246.8,474.28 247.27,472.86 247.75,471.85 248.22,471.39 248.3,471.38 248.7,471.66 249.17,472.58 249.65,473.9 250.13,475.36 250.6,476.69 251.08,477.63 251.55,478.31 252.03,478.96 252.51,479.51 252.98,479.9 253.46,480.05 253.93,480.04 254.41,480.03 254.88,480.02 255.36,480 255.84,479.98 256.31,479.96 256.79,479.94 257.26,479.92 257.74,479.91 258.21,479.91 258.69,479.92 259.17,479.95 259.64,479.99 260.12,480.04 260.59,480.09 261.07,480.14 261.55,480.17 262.02,480.19 262.18,480.19 262.5,480.18 262.97,480.12 263.45,480.01 263.92,479.86 264.4,479.67 264.88,479.45 265.35,479.2 265.83,478.94 266.3,478.66 266.78,478.36 267.26,478.07 267.73,477.77 268.21,477.48 268.68,477.21 269.16,476.95 269.63,476.71 270.11,476.5 270.59,476.29 271.06,476.07 271.54,475.85 272.01,475.61 272.49,475.38 272.96,475.14 273.44,474.92 273.92,474.7 274.39,474.5 274.87,474.31 275.34,474.15 275.82,474.01 276.3,473.9 276.77,473.83 277.25,473.8 277.41,473.8 277.72,473.81 278.2,473.87 278.67,473.97 279.15,474.12 279.63,474.31 280.1,474.52 280.58,474.77 281.05,475.04 281.53,475.32 282,475.62 282.48,475.92 282.96,476.23 283.43,476.53 283.91,476.83 284.38,477.11 284.86,477.38 285.34,477.63 285.81,477.85 285.97,477.92 286.29,478.05 286.76,478.23 287.24,478.42 287.71,478.6 288.19,478.78 288.67,478.95 289.14,479.13 289.62,479.3 290.09,479.46 290.57,479.63 291.05,479.79 291.52,479.95 292,480.11 292.47,480.28 292.95,480.44 293.42,480.6 293.9,480.76 294.38,480.92 294.85,481.07 295.33,481.22 295.8,481.36 296.28,481.5 296.75,481.64 297.23,481.78 297.71,481.92 298.18,482.06 298.66,482.2 299.13,482.35 299.61,482.5 300.09,482.66 300.56,482.83 301.04,483 301.51,483.19 301.83,483.32 301.99,483.38 302.46,483.61 302.94,483.85 303.42,484.12 303.89,484.4 304.37,484.7 304.84,485 305.32,485.3 305.79,485.6 306.27,485.89 306.75,486.17 307.22,486.43 307.7,486.66 308.17,486.87 308.65,487.06 309.13,487.27 309.6,487.47 310.08,487.65 310.55,487.82 311.03,487.97 311.5,488.07 311.98,488.14 312.14,488.15 312.46,488.16 312.93,488.18 313.41,488.2 313.88,488.22 314.36,488.24 314.84,488.26 315.31,488.28 315.79,488.3 316.26,488.32 316.74,488.33 317.21,488.35 317.69,488.36 318.17,488.38 318.64,488.39 319.12,488.4 319.59,488.42 320.07,488.43 320.54,488.44 321.02,488.45 321.5,488.46 321.97,488.47 322.45,488.48 322.92,488.49 323.4,488.5 323.88,488.5 324.35,488.51 324.83,488.52 325.3,488.52 325.78,488.53 326.25,488.54 326.73,488.54 327.21,488.55 327.68,488.55 328.16,488.55 328.63,488.56 329.11,488.56 329.58,488.56 330.06,488.57 330.54,488.57 331.01,488.57 331.49,488.57 331.96,488.57 332.44,488.57 332.92,488.57 333.39,488.57 333.55,488.57" fill="none" stroke="#111111" stroke-width="1.6" stroke-linejoin="round" stroke-linecap="round"/>
<polyline points="58.54,461.15 59.01,460.6 59.49,460.06 59.97,459.53 60.44,459.01 60.92,458.5 61.39,458 61.87,457.52 62.34,457.05 62.82,456.59 63.3,456.16 63.77,455.74 63.93,455.61 64.25,455.33 64.72,454.91 65.2,454.47 65.67,454.02 66.15,453.57 66.63,453.12 67.1,452.69 67.58,452.26 68.05,451.87 68.53,451.5 69.01,451.16 69.48,450.87 69.96,450.62 70.43,450.42 70.91,450.29 71.38,450.22 71.62,450.21 71.86,450.21 72.34,450.23 72.81,450.28 73.29,450.34 73.76,450.43 74.24,450.54 74.71,450.67 75.19,450.82 75.67,450.99 76.14,451.17 76.62,451.38 76.86,451.49 77.09,451.64 77.57,452.21 78.05,453.05 78.52,454.07 79,455.19 79.47,456.31 79.79,457.03 79.95,457.41 80.42,458.87 80.9,460.43 81.38,461.62 81.77,462 81.85,461.98 82.33,461.29 82.8,459.91 83.28,458.33 83.75,457.03 84.23,455.95 84.71,454.81 85.18,453.75 85.66,452.94 86.13,452.51 86.29,452.48 86.61,452.54 87.09,452.86 87.56,453.38 88.04,454.05 88.51,454.81 88.99,455.62 89.46,456.4 89.94,457.11 90.42,457.69 90.89,458.09 91.05,458.16 91.37,458.29 91.84,458.44 92.32,458.56 92.8,458.67 93.27,458.76 93.75,458.83 94.22,458.91 94.7,458.98 95.17,459.07 95.65,459.17 96.13,459.29 96.6,459.44 97,459.59 97.08,459.62 97.55,459.88 98.03,460.24 98.5,460.68 98.98,461.19 99.46,461.75 99.93,462.35 100.41,462.99 100.73,463.42 100.88,463.65 101.36,464.47 101.84,465.41 102.31,466.4 102.79,467.38 102.95,467.69 103.26,468.29 103.74,469.21 104.21,470.13 104.69,471.04 105.17,471.94 105.64,472.81 105.96,473.37 106.12,473.65 106.59,474.57 107.07,475.57 107.54,476.58 108.02,477.57 108.5,478.49 108.97,479.29 109.45,479.91 109.92,480.33 110.4,480.47 110.88,480.05 111.35,478.98 111.83,477.52 112.3,475.97 112.7,474.79 112.78,474.57 113.25,472.9 113.73,471.09 114.21,469.69 114.6,469.25 114.68,469.26 115.16,469.75 115.63,470.79 116.11,472.14 116.59,473.57 117.06,474.83 117.54,475.7 117.85,475.93 118.01,475.96 118.49,476.05 118.96,476.14 119.44,476.21 119.92,476.28 120.39,476.35 120.87,476.4 121.34,476.45 121.82,476.5 122.29,476.53 122.77,476.56 123.25,476.59 123.72,476.61 124.2,476.62 124.67,476.63 125.15,476.64 125.31,476.64 125.63,476.46 126.1,475.68 126.58,474.66 127.05,473.75 127.53,473.37 128,473.6 128.48,474.16 128.96,474.81 129.43,475.33 129.83,475.5 129.91,475.47 130.38,474.28 130.86,472.46 131.33,471.52 131.81,471.73 132.29,472.26 132.76,472.95 133.24,473.66 133.71,474.23 134.19,474.5 134.27,474.51 134.67,473.93 135.14,472.02 135.62,469.29 136.09,466.26 136.57,462.03 137.04,456.97 137.28,454.9 137.52,453.04 138,449.31 138.47,446.76 138.71,446.37 138.95,446.69 139.42,448.72 139.9,451.32 140.06,452.05 140.38,453.54 140.85,456.11 141.33,458.68 141.8,460.78 142.28,461.92 142.44,462 142.75,460.73 143.23,455.41 143.71,448.52 143.86,446.37 144.18,441.52 144.66,433.39 144.97,429.32 145.13,427.81 145.61,423.56 146.08,420.99 146.24,420.79 146.56,422.07 147.04,427.38 147.51,433.99 147.59,435 147.99,440.52 148.46,448.11 148.94,455.7 149.18,459.16 149.42,462.51 149.89,469.29 150.37,475.33 150.76,479.05 150.84,479.64 151.32,483.08 151.79,485.58 152.11,486.16 152.27,486.14 152.75,485.95 153.22,485.61 153.7,485.22 154.17,484.9 154.65,484.74 154.73,484.74 155.12,485.16 155.6,486.31 156.08,487.36 156.31,487.58 156.55,487.64 157.03,487.74 157.5,487.82 157.98,487.86 158.3,487.86 158.46,487.86 158.93,487.86 159.41,487.86 159.88,487.86 160.36,487.86 160.83,487.86 161.31,487.86 161.79,487.86 162.26,487.86 162.74,487.86 163.21,487.86 163.69,487.86 164.17,487.86 164.64,487.86 165.12,487.86 165.59,487.86 166.07,487.86 166.54,487.86 167.02,487.86 167.5,487.86 167.97,487.86 168.45,487.86 168.92,487.86 169.4,487.86 169.87,487.86 170.35,487.86 170.83,487.86 171.3,487.86 171.78,487.86 172.25,487.86 172.73,487.86 173.21,487.86 173.68,487.86 174.16,487.86 174.63,487.86 175.11,487.86 175.58,487.86 176.06,487.86 176.54,487.86 177.01,487.86 177.49,487.86 177.96,487.86 178.44,487.86 178.91,487.86 179.39,487.86 179.87,487.86 180.34,487.86 180.82,487.86 181.29,487.86 181.77,487.86 182.25,487.86 182.72,487.86 183.2,487.86 183.67,487.86 184.15,487.86 184.62,487.86 185.1,487.86 185.58,487.86 186.05,487.86 186.53,487.86 187,487.86 187.48,487.86 187.96,487.86 188.43,487.86 188.91,487.86 189.38,487.86 189.86,487.86 190.33,487.86 190.81,487.86 191.29,487.86 191.76,487.86 192.24,487.86 192.71,487.86 193.19,487.86 193.66,487.86 194.14,487.86 194.62,487.86 195.09,487.86 195.57,487.86 196.04,487.86 196.52,487.86 197,487.86 197.47,487.86 197.95,487.86 198.42,487.86 198.9,487.86 199.37,487.86 199.85,487.86 200.33,487.86 200.8,487.86 201.28,487.86 201.75,487.86 202.23,487.86 202.7,487.86 203.18,487.86 203.66,487.86 204.13,487.86 204.61,487.86 205.08,487.86 205.56,487.86 206.04,487.86 206.51,487.86 206.99,487.86 207.46,487.86 207.94,487.86 208.41,487.86 208.89,487.86 209.37,487.86 209.84,487.86 210.32,487.86 210.79,487.86 211.27,487.86 211.75,487.86 212.22,487.86 212.62,487.86 212.7,487.86 213.17,487.86 213.65,487.86 214.12,487.86 214.6,487.86 215.08,487.86 215.55,487.86 216.03,487.86 216.5,487.86 216.98,487.86 217.45,487.86 217.93,487.86 218.41,487.86 218.88,487.86 219.36,487.86 219.83,487.86 220.31,487.86 220.55,487.86 220.79,487.86 221.26,487.86 221.74,487.85 222.21,487.84 222.69,487.83 223.16,487.82 223.64,487.8 224.12,487.79 224.59,487.77 225.07,487.75 225.54,487.73 226.02,487.71 226.49,487.69 226.97,487.66 227.45,487.64 227.92,487.62 228.4,487.6 228.87,487.58 229.35,487.56 229.83,487.54 230.3,487.53 230.78,487.51 231.25,487.49 231.73,487.47 232.2,487.45 232.68,487.43 233.16,487.4 233.63,487.36 234.11,487.32 234.42,487.29 234.58,487.28 235.06,487.17 235.54,487.01 236.01,486.8 236.49,486.54 236.96,486.24 237.44,485.9 237.91,485.54 238.39,485.16 238.87,484.69 239.34,484.07 239.82,483.34 240.29,482.52 240.77,481.65 241.24,480.77 241.56,480.19 241.72,479.89 242.2,478.92 242.67,477.86 243.15,476.75 243.62,475.65 244.1,474.6 244.58,473.65 244.73,473.37 245.05,472.82 245.53,472.03 246,471.26 246.48,470.53 246.95,469.84 247.43,469.18 247.91,468.58 248.38,468.02 248.7,467.69 248.86,467.53 249.33,467.11 249.81,466.74 250.28,466.42 250.76,466.1 251.24,465.78 251.71,465.41 252.19,464.98 252.58,464.56 252.66,464.46 253.14,463.81 253.62,463.02 254.09,462.11 254.57,461.11 255.04,460.04 255.52,458.93 255.99,457.79 256.07,457.6 256.47,456.59 256.95,455.24 257.42,453.79 257.9,452.28 258.37,450.74 258.85,449.23 259.33,447.77 259.56,447.08 259.8,446.42 260.28,445.17 260.75,443.99 261.23,442.83 261.7,441.63 262.18,440.36 262.66,438.96 263.05,437.67 263.13,437.39 263.61,435.61 264.08,433.62 264.56,431.46 265.03,429.15 265.51,426.73 265.99,424.21 266.46,421.63 266.54,421.2 266.94,418.92 267.41,415.96 267.89,412.81 268.37,409.56 268.84,406.28 269.32,403.05 269.79,399.93 270.03,398.45 270.27,396.98 270.74,394 271.22,391.02 271.7,388.1 272.17,385.3 272.65,382.69 273.12,380.34 273.28,379.62 273.6,378.23 274.07,376.19 274.55,374.31 275.03,372.66 275.5,371.34 275.66,370.99 275.98,370.33 276.45,369.41 276.93,368.78 277.25,368.64 277.41,368.67 277.88,369 278.36,369.61 278.83,370.37 279.31,371.14 279.63,371.6 279.78,371.8 280.26,372.42 280.74,373.03 281.21,373.65 281.69,374.29 282.16,374.95 282.64,375.65 283.12,376.39 283.43,376.92 283.59,377.19 284.07,378.01 284.54,378.88 285.02,379.81 285.49,380.81 285.97,381.91 286.45,383.13 286.76,384.01 286.92,384.49 287.4,386.18 287.87,388.17 288.35,390.39 288.82,392.73 289.3,395.13 289.78,397.5 290.17,399.38 290.25,399.75 290.73,401.93 291.2,404.12 291.68,406.31 292.16,408.5 292.63,410.7 293.11,412.9 293.58,415.13 294.06,417.36 294.53,419.62 295.01,421.9 295.49,424.2 295.96,426.54 296.44,428.9 296.91,431.3 297.39,433.78 297.87,436.35 298.34,438.99 298.82,441.68 299.29,444.39 299.77,447.09 300.24,449.76 300.72,452.38 301.2,454.91 301.67,457.33 301.91,458.49 302.15,459.65 302.62,461.98 303.1,464.33 303.57,466.67 304.05,468.96 304.53,471.18 305,473.3 305.48,475.28 305.95,477.11 306.43,478.74 306.91,480.15 306.98,480.37 307.38,481.4 307.86,482.57 308.33,483.64 308.81,484.53 309.28,485.21 309.52,485.45 309.76,485.65 310.24,486.03 310.71,486.37 311.19,486.63 311.66,486.81 312.14,486.87 312.61,486.87 313.09,486.87 313.57,486.87 314.04,486.87 314.52,486.87 314.99,486.87 315.47,486.87 315.95,486.87 316.42,486.87 316.9,486.87 317.37,486.87 317.85,486.87 318.32,486.87 318.8,486.87 319.28,486.87 319.75,486.87 320.23,486.87 320.7,486.87 321.18,486.87 321.65,486.87 322.13,486.87 322.61,486.87 323.08,486.87 323.56,486.87 324.03,486.87 324.51,486.87 324.99,486.87 325.46,486.87 325.94,486.87 326.41,486.87 326.89,486.87 327.36,486.87 327.84,486.87 328.32,486.87 328.79,486.87 329.27,486.87 329.74,486.87 330.22,486.87 330.7,486.87 331.17,486.87 331.65,486.87 332.12,486.87 332.6,486.87 333.07,486.87 333.55,486.87" fill="none" stroke="#f51b1b" stroke-width="1.9" stroke-linejoin="round" stroke-linecap="round"/>
<polyline points="58.14,489 58.38,453.62 58.85,453.46 59.33,453.32 59.81,453.21 60.28,453.12 60.76,453.05 61.23,453 61.71,452.96 62.19,452.94 62.66,452.92 63.14,452.91 63.61,452.91 64.09,452.91 64.17,452.91 64.56,452.92 65.04,452.98 65.52,453.07 65.99,453.2 66.47,453.37 66.94,453.56 67.42,453.78 67.89,454.02 68.37,454.28 68.85,454.56 69.32,454.85 69.8,455.16 70.27,455.47 70.75,455.78 70.91,455.89 71.23,456.13 71.7,456.56 72.18,457.07 72.65,457.66 73.13,458.31 73.6,459 74.08,459.73 74.56,460.49 75.03,461.25 75.51,462.02 75.98,462.77 76.46,463.5 76.94,464.19 77.41,464.83 77.65,465.13 77.89,465.42 78.36,466.02 78.84,466.62 79.31,467.24 79.79,467.86 80.27,468.48 80.74,469.09 81.22,469.7 81.69,470.3 82.17,470.88 82.64,471.44 83.12,471.98 83.6,472.49 84.07,472.96 84.55,473.41 85.02,473.81 85.5,474.17 85.98,474.49 86.45,474.75 86.53,474.79 86.93,474.98 87.4,475.2 87.88,475.42 88.35,475.64 88.83,475.84 89.31,476.04 89.78,476.22 90.26,476.38 90.73,476.53 91.21,476.65 91.69,476.76 92.16,476.84 92.64,476.89 93.11,476.92 93.27,476.92 93.59,476.57 94.06,475.06 94.54,473.04 95.02,471.28 95.49,470.53 95.97,471.28 96.44,472.86 96.92,474.27 97.24,474.63 97.39,474.55 97.87,473.56 98.35,471.78 98.82,469.69 99.3,467.74 99.77,466.42 100.01,466.13 100.25,466.01 100.73,465.79 101.2,465.61 101.68,465.5 102.15,465.45 102.23,465.45 102.63,465.79 103.1,466.87 103.58,468.29 104.06,469.63 104.45,470.38 104.53,470.48 105.01,470.97 105.48,471.36 105.96,471.69 106.43,472.01 106.91,472.37 107.39,472.81 107.54,472.98 107.86,473.45 108.34,474.44 108.81,475.61 109.29,476.75 109.77,477.66 110.24,478.15 110.4,478.19 110.72,478.01 111.19,477.19 111.67,475.93 112.14,474.51 112.62,473.18 112.7,472.98 113.1,471.85 113.57,470.27 114.05,468.9 114.52,468.2 114.6,468.19 115,468.65 115.47,470.04 115.95,471.66 116.43,472.81 116.66,472.98 116.9,472.97 117.38,472.91 117.85,472.79 118.33,472.65 118.81,472.49 119.28,472.34 119.44,472.3 119.76,472.21 120.23,472.1 120.71,472 121.18,471.9 121.66,471.79 122.14,471.68 122.61,471.56 123.09,471.42 123.56,471.26 124.04,471.07 124.52,470.85 124.99,470.58 125.31,470.38 125.47,470.19 125.94,468.89 126.42,466.97 126.89,465.13 127.37,464.03 127.53,463.94 127.85,464.2 128.32,465.33 128.8,466.87 129.27,468.27 129.75,468.99 129.83,469.01 130.22,468.65 130.7,467.56 131.18,466.21 131.65,465.12 132.05,464.76 132.13,464.79 132.6,465.88 133.08,467.94 133.56,470.15 134.03,471.66 134.27,471.89 134.51,471.65 134.98,470 135.46,467.26 135.93,464.04 136.09,462.95 136.41,460.19 136.89,454.9 137.28,451.04 137.36,450.41 137.84,446.43 138.31,443.18 138.71,442.11 138.79,442.15 139.26,443.99 139.74,447.1 140.06,448.93 140.22,449.71 140.69,452.32 141.17,455.01 141.64,457.33 142.12,458.83 142.44,459.16 142.6,458.77 143.07,453.99 143.55,446.56 143.86,441.89 144.02,439.67 144.5,432.15 144.97,426.55 145.45,423.44 145.93,421.28 146.24,420.79 146.4,421.12 146.88,425.11 147.35,431.37 147.59,434.43 147.83,437.53 148.31,444.73 148.78,452.37 149.18,458.31 149.26,459.43 149.73,466.58 150.21,473.37 150.68,478.25 150.76,478.77 151.16,480.95 151.64,482.97 152.11,484.03 152.59,484.43 153.06,484.68 153.38,484.74 153.54,484.63 154.01,483.44 154.49,482.13 154.73,481.89 154.97,482.21 155.44,484.05 155.92,485.88 156.08,486.16 156.39,486.44 156.87,486.79 157.35,487.05 157.82,487.22 158.3,487.29 158.77,487.32 159.25,487.34 159.72,487.36 160.2,487.38 160.68,487.4 161.15,487.41 161.63,487.43 162.1,487.44 162.58,487.45 163.06,487.46 163.53,487.47 164.01,487.48 164.48,487.48 164.96,487.49 165.43,487.49 165.91,487.49 166.39,487.49 166.86,487.49 167.02,487.49 167.34,487.49 167.81,487.49 168.29,487.49 168.76,487.49 169.24,487.48 169.72,487.47 170.19,487.47 170.67,487.46 171.14,487.45 171.62,487.44 172.1,487.43 172.57,487.42 173.05,487.41 173.52,487.4 174,487.39 174.47,487.37 174.95,487.36 175.43,487.35 175.9,487.34 176.38,487.33 176.85,487.31 177.33,487.3 177.8,487.29 178.28,487.28 178.76,487.27 178.91,487.27 179.23,487.26 179.71,487.25 180.18,487.24 180.66,487.23 181.14,487.22 181.61,487.21 182.09,487.2 182.56,487.18 183.04,487.17 183.51,487.16 183.99,487.15 184.47,487.14 184.94,487.13 185.42,487.12 185.89,487.1 186.37,487.09 186.84,487.08 187.32,487.07 187.8,487.06 188.27,487.04 188.75,487.03 189.22,487.02 189.7,487.01 190.18,487 190.65,486.99 190.81,486.98 191.13,486.97 191.6,486.96 192.08,486.95 192.55,486.94 193.03,486.93 193.51,486.92 193.98,486.9 194.46,486.89 194.93,486.88 195.41,486.87 195.89,486.86 196.36,486.85 196.84,486.83 197.31,486.82 197.79,486.81 198.26,486.8 198.74,486.79 199.22,486.77 199.69,486.76 200.17,486.75 200.64,486.74 201.12,486.72 201.59,486.71 202.07,486.7 202.55,486.69 202.7,486.68 203.02,486.68 203.5,486.66 203.97,486.65 204.45,486.64 204.93,486.63 205.4,486.61 205.88,486.6 206.35,486.59 206.83,486.58 207.3,486.56 207.78,486.55 208.26,486.54 208.73,486.52 209.21,486.51 209.68,486.5 210.16,486.48 210.63,486.47 211.11,486.46 211.59,486.44 212.06,486.43 212.54,486.42 212.62,486.41 213.01,486.4 213.49,486.39 213.97,486.38 214.44,486.36 214.92,486.35 215.39,486.34 215.87,486.33 216.34,486.31 216.82,486.3 217.3,486.29 217.77,486.27 218.25,486.26 218.72,486.24 219.2,486.22 219.68,486.2 220.15,486.18 220.55,486.16 220.63,486.15 221.1,486.13 221.58,486.09 222.05,486.05 222.53,486 223.01,485.95 223.48,485.9 223.96,485.84 224.43,485.77 224.91,485.71 225.38,485.64 225.86,485.57 226.34,485.49 226.81,485.42 227.29,485.34 227.76,485.27 228.24,485.19 228.72,485.12 228.87,485.09 229.19,485.04 229.67,484.96 230.14,484.88 230.62,484.8 231.09,484.71 231.57,484.61 232.05,484.52 232.52,484.42 233,484.33 233.47,484.23 233.95,484.13 234.42,484.03 234.9,483.93 235.38,483.83 235.85,483.72 236.33,483.62 236.8,483.51 237.28,483.4 237.76,483.27 238.23,483.14 238.39,483.09 238.71,482.99 239.18,482.85 239.66,482.67 240.13,482.45 240.37,482.31 240.61,482.13 241.09,481.62 241.56,480.89 241.96,480.12 242.04,479.9 242.51,477.47 242.91,476.21 242.99,476.25 243.47,477.55 243.94,479.04 244.1,479.18 244.42,478.99 244.89,478.11 245.37,476.72 245.84,475.06 246.32,473.37 246.8,471.26 247.27,469.11 247.75,467.26 248.22,466.26 248.7,466.76 249.17,467.75 249.49,468.31 249.65,468.52 250.13,469.14 250.6,469.66 250.84,469.84 251.08,470.01 251.55,470.32 252.03,470.61 252.51,470.87 252.98,471.09 253.46,471.25 253.93,471.35 254.33,471.38 254.41,471.37 254.88,470.78 255.36,469.44 255.84,467.48 256.31,465.04 256.79,462.27 257.26,459.32 257.74,456.33 258.21,453.44 258.69,450.8 259.17,448.55 259.56,447.08 259.64,446.83 260.12,445.48 260.59,444.31 261.07,443.26 261.55,442.23 262.02,441.18 262.5,440.01 262.97,438.67 263.05,438.42 263.45,437.09 263.92,435.32 264.4,433.38 264.88,431.3 265.35,429.1 265.83,426.81 266.3,424.45 266.54,423.26 266.78,422.02 267.26,419.37 267.73,416.52 268.21,413.56 268.68,410.54 269.16,407.54 269.63,404.63 270.03,402.32 270.11,401.88 270.59,399.15 271.06,396.4 271.54,393.68 272.01,391.07 272.49,388.6 272.96,386.35 273.28,385 273.44,384.36 273.92,382.46 274.39,380.67 274.87,379.07 275.34,377.75 275.66,377.06 275.82,376.76 276.3,375.87 276.77,375.17 277.25,374.89 277.72,375.1 278.2,375.64 278.67,376.36 279.15,377.15 279.63,377.85 280.1,378.47 280.58,379.08 281.05,379.7 281.53,380.33 282,380.98 282.48,381.67 282.96,382.39 283.43,383.17 283.91,383.99 284.38,384.84 284.86,385.74 285.34,386.71 285.81,387.77 286.29,388.94 286.76,390.24 287.24,391.8 287.71,393.68 288.19,395.81 288.67,398.1 289.14,400.47 289.62,402.82 290.09,405.08 290.17,405.44 290.57,407.23 291.05,409.38 291.52,411.52 292,413.66 292.47,415.81 292.95,417.96 293.42,420.12 293.9,422.29 294.38,424.48 294.85,426.68 295.33,428.9 295.8,431.14 296.28,433.4 296.75,435.69 296.91,436.46 297.23,438.02 297.71,440.45 298.18,442.94 298.66,445.48 299.13,448.04 299.61,450.6 300.09,453.12 300.56,455.58 301.04,457.96 301.51,460.23 301.91,462.02 301.99,462.36 302.46,464.47 302.94,466.6 303.42,468.71 303.89,470.79 304.37,472.8 304.84,474.71 305.32,476.51 305.79,478.15 306.27,479.62 306.75,480.89 306.98,481.44 307.22,481.95 307.7,482.95 308.17,483.85 308.65,484.63 309.13,485.23 309.52,485.56 309.6,485.61 310.08,485.9 310.55,486.15 311.03,486.36 311.5,486.51 311.98,486.58 312.14,486.58 312.46,486.58 312.93,486.58 313.41,486.58 313.88,486.58 314.36,486.58 314.84,486.58 315.31,486.58 315.79,486.58 316.26,486.58 316.74,486.58 317.21,486.58 317.69,486.58 318.17,486.58 318.64,486.58 319.12,486.58 319.59,486.58 320.07,486.58 320.54,486.58 321.02,486.58 321.5,486.58 321.65,486.58 321.97,486.58 322.45,486.58 322.92,486.58 323.4,486.58 323.88,486.58 324.35,486.58 324.83,486.58 325.3,486.58 325.78,486.58 326.25,486.58 326.73,486.58 327.21,486.58 327.68,486.58 328.16,486.58 328.63,486.58 329.11,486.58 329.58,486.58 330.06,486.58 330.54,486.58 331.01,486.58 331.49,486.58 331.96,486.58 332.44,486.58 332.92,486.58 333.39,486.58 333.55,486.58" fill="none" stroke="#2222ee" stroke-width="1.9" stroke-linejoin="round" stroke-linecap="round"/>
<polyline points="58.14,489 58.38,450.63 58.85,450.64 59.33,450.65 59.81,450.68 60.28,450.71 60.76,450.75 61.23,450.79 61.71,450.85 62.19,450.91 62.66,450.97 63.14,451.04 63.61,451.11 64.09,451.19 64.17,451.2 64.56,451.28 65.04,451.41 65.52,451.58 65.99,451.78 66.47,452.01 66.94,452.27 67.42,452.55 67.89,452.86 68.37,453.19 68.85,453.53 69.32,453.89 69.8,454.27 70.27,454.65 70.75,455.05 70.91,455.18 71.23,455.47 71.7,455.96 72.18,456.54 72.65,457.17 73.13,457.86 73.6,458.59 74.08,459.35 74.56,460.12 75.03,460.91 75.51,461.68 75.98,462.45 76.46,463.19 76.94,463.89 77.41,464.54 77.65,464.84 77.89,465.14 78.36,465.75 78.84,466.36 79.31,466.98 79.79,467.6 80.27,468.23 80.74,468.84 81.22,469.45 81.69,470.04 82.17,470.62 82.64,471.18 83.12,471.71 83.6,472.22 84.07,472.69 84.55,473.13 85.02,473.53 85.5,473.89 85.98,474.2 86.45,474.47 86.53,474.51 86.93,474.69 87.4,474.92 87.88,475.14 88.35,475.35 88.83,475.56 89.31,475.75 89.78,475.93 90.26,476.1 90.73,476.24 91.21,476.37 91.69,476.48 92.16,476.56 92.64,476.61 93.11,476.64 93.27,476.64 93.59,476.27 94.06,474.69 94.54,472.59 95.02,470.75 95.49,469.96 95.97,470.63 96.44,472.06 96.92,473.33 97.24,473.65 97.39,473.58 97.87,472.55 98.35,470.7 98.82,468.53 99.3,466.51 99.77,465.14 100.01,464.84 100.25,464.71 100.73,464.48 101.2,464.31 101.68,464.18 102.15,464.13 102.23,464.13 102.63,464.49 103.1,465.61 103.58,467.08 104.06,468.47 104.45,469.25 104.53,469.35 105.01,469.86 105.48,470.27 105.96,470.61 106.43,470.94 106.91,471.31 107.39,471.77 107.54,471.95 107.86,472.43 108.34,473.46 108.81,474.67 109.29,475.85 109.77,476.8 110.24,477.31 110.4,477.35 110.72,477.16 111.19,476.31 111.67,475.01 112.14,473.53 112.62,472.15 112.7,471.95 113.1,470.77 113.57,469.14 114.05,467.71 114.52,466.99 114.6,466.97 115,467.46 115.47,468.89 115.95,470.57 116.43,471.76 116.66,471.95 116.9,471.94 117.38,471.87 117.85,471.75 118.33,471.6 118.81,471.44 119.28,471.28 119.44,471.24 119.76,471.15 120.23,471.03 120.71,470.92 121.18,470.82 121.66,470.71 122.14,470.6 122.61,470.48 123.09,470.33 123.56,470.16 124.04,469.96 124.52,469.73 124.99,469.46 125.31,469.25 125.47,469.06 125.94,467.7 126.42,465.72 126.89,463.8 127.37,462.66 127.53,462.57 127.85,462.84 128.32,464.01 128.8,465.6 129.27,467.06 129.75,467.81 129.83,467.83 130.22,467.46 130.7,466.32 131.18,464.93 131.65,463.79 132.05,463.42 132.13,463.45 132.6,464.58 133.08,466.72 133.56,469.01 134.03,470.57 134.27,470.81 134.51,470.55 134.98,468.69 135.46,465.6 135.93,461.97 136.09,460.75 136.41,457.64 136.89,451.68 137.28,447.34 137.36,446.63 137.84,442.14 138.31,438.48 138.71,437.28 138.79,437.33 139.26,439.49 139.74,443.15 140.06,445.29 140.22,446.2 140.69,449.28 141.17,452.44 141.64,455.16 142.12,456.93 142.44,457.31 142.6,456.88 143.07,451.62 143.55,443.45 143.86,438.32 144.02,435.87 144.5,427.61 144.97,421.44 145.45,418.02 145.93,415.65 146.24,415.11 146.4,415.46 146.88,419.78 147.35,426.56 147.59,429.89 147.83,433.24 148.31,441.04 148.78,449.32 149.18,455.75 149.26,456.96 149.73,464.67 150.21,471.99 150.68,477.33 150.76,477.92 151.16,480.44 151.64,482.82 152.11,484.03 152.59,484.44 153.06,484.68 153.38,484.74 153.54,484.56 154.01,482.6 154.49,480.43 154.73,480.05 154.97,480.52 155.44,483.2 155.92,485.8 156.08,486.16 156.39,486.45 156.87,486.81 157.35,487.07 157.82,487.23 158.3,487.29 158.77,487.3 159.25,487.31 159.72,487.32 160.2,487.33 160.68,487.33 161.15,487.34 161.63,487.34 162.1,487.35 162.58,487.35 163.06,487.35 163.53,487.36 164.01,487.36 164.48,487.36 164.96,487.36 165.43,487.36 165.91,487.37 166.39,487.37 166.86,487.37 167.02,487.37 167.34,487.37 167.81,487.36 168.29,487.35 168.76,487.34 169.24,487.33 169.72,487.32 170.19,487.3 170.67,487.28 171.14,487.26 171.62,487.23 172.1,487.21 172.57,487.18 173.05,487.16 173.52,487.13 174,487.1 174.47,487.07 174.95,487.04 175.43,487.01 175.9,486.98 176.38,486.95 176.85,486.92 177.33,486.89 177.8,486.86 178.28,486.83 178.76,486.81 178.91,486.8 179.23,486.78 179.71,486.75 180.18,486.73 180.66,486.7 181.14,486.68 181.61,486.65 182.09,486.62 182.56,486.59 183.04,486.56 183.51,486.54 183.99,486.51 184.47,486.48 184.94,486.45 185.42,486.42 185.89,486.39 186.37,486.36 186.84,486.33 187.32,486.3 187.8,486.27 188.27,486.24 188.75,486.21 189.22,486.18 189.7,486.16 190.18,486.13 190.65,486.1 190.81,486.09 191.13,486.07 191.6,486.04 192.08,486.01 192.55,485.98 193.03,485.95 193.51,485.92 193.98,485.89 194.46,485.86 194.93,485.83 195.41,485.8 195.89,485.77 196.36,485.74 196.84,485.72 197.31,485.69 197.79,485.66 198.26,485.63 198.74,485.6 199.22,485.57 199.69,485.54 200.17,485.5 200.64,485.47 201.12,485.44 201.59,485.41 202.07,485.38 202.55,485.35 202.7,485.34 203.02,485.32 203.5,485.29 203.97,485.26 204.45,485.23 204.93,485.2 205.4,485.16 205.88,485.13 206.35,485.1 206.83,485.07 207.3,485.04 207.78,485.01 208.26,484.97 208.73,484.94 209.21,484.91 209.68,484.88 210.16,484.84 210.63,484.81 211.11,484.78 211.59,484.74 212.06,484.71 212.54,484.67 212.62,484.67 213.01,484.64 213.49,484.6 213.97,484.57 214.44,484.54 214.92,484.51 215.39,484.47 215.87,484.44 216.34,484.41 216.82,484.37 217.3,484.33 217.77,484.3 218.25,484.26 218.72,484.21 219.2,484.17 219.68,484.12 220.15,484.07 220.55,484.03 220.63,484.02 221.1,483.96 221.58,483.89 222.05,483.81 222.53,483.73 223.01,483.64 223.48,483.55 223.96,483.45 224.43,483.35 224.91,483.24 225.38,483.13 225.86,483.02 226.34,482.9 226.81,482.78 227.29,482.66 227.76,482.54 228.24,482.41 228.72,482.29 228.87,482.25 229.19,482.17 229.67,482.03 230.14,481.89 230.62,481.75 231.09,481.59 231.57,481.44 232.05,481.28 232.52,481.12 233,480.96 233.47,480.79 233.95,480.63 234.42,480.47 234.9,480.32 235.38,480.17 235.85,480.02 236.33,479.87 236.8,479.72 237.28,479.55 237.76,479.37 238.23,479.18 238.39,479.11 238.71,478.97 239.18,478.76 239.66,478.5 240.13,478.17 240.37,477.97 240.61,477.72 241.09,476.98 241.56,475.92 241.96,474.79 242.04,474.47 242.51,470.94 242.91,469.11 242.99,469.16 243.47,471.05 243.94,473.22 244.1,473.43 244.42,473.19 244.89,472.11 245.37,470.41 245.84,468.38 246.32,466.3 246.8,463.71 247.27,461.08 247.75,458.81 248.22,457.6 248.7,457.96 249.17,458.67 249.49,459.07 249.65,459.23 250.13,459.67 250.6,460.05 250.84,460.18 251.08,460.3 251.55,460.52 252.03,460.73 252.51,460.92 252.98,461.08 253.46,461.2 253.93,461.27 254.33,461.29 254.41,461.28 254.88,460.98 255.36,460.27 255.84,459.22 256.31,457.9 256.79,456.38 257.26,454.73 257.74,453.02 258.21,451.31 258.69,449.67 259.17,448.17 259.56,447.08 259.64,446.88 260.12,445.74 260.59,444.68 261.07,443.64 261.55,442.59 262.02,441.49 262.5,440.29 262.97,438.95 263.05,438.71 263.45,437.43 263.92,435.72 264.4,433.84 264.88,431.83 265.35,429.7 265.83,427.49 266.3,425.21 266.54,424.06 266.78,422.86 267.26,420.3 267.73,417.54 268.21,414.68 268.68,411.76 269.16,408.86 269.63,406.05 270.03,403.82 270.11,403.39 270.59,400.75 271.06,398.09 271.54,395.47 272.01,392.94 272.49,390.56 272.96,388.38 273.28,387.08 273.44,386.46 273.92,384.62 274.39,382.89 274.87,381.34 275.34,380.07 275.66,379.4 275.82,379.11 276.3,378.25 276.77,377.58 277.25,377.31 277.72,377.52 278.2,378.05 278.67,378.77 279.15,379.55 279.63,380.25 280.1,380.87 280.58,381.48 281.05,382.09 281.53,382.72 282,383.36 282.48,384.05 282.96,384.77 283.43,385.54 283.91,386.35 284.38,387.19 284.86,388.09 285.34,389.05 285.81,390.1 286.29,391.26 286.76,392.55 287.24,394.1 287.71,395.97 288.19,398.08 288.67,400.35 289.14,402.69 289.62,405.01 290.09,407.25 290.17,407.6 290.57,409.37 291.05,411.49 291.52,413.6 292,415.72 292.47,417.83 292.95,419.96 293.42,422.08 293.9,424.22 294.38,426.37 294.85,428.53 295.33,430.71 295.8,432.91 296.28,435.12 296.75,437.36 296.91,438.11 297.23,439.64 297.71,442.01 298.18,444.45 298.66,446.93 299.13,449.42 299.61,451.91 300.09,454.36 300.56,456.75 301.04,459.05 301.51,461.24 301.91,462.96 301.99,463.29 302.46,465.32 302.94,467.35 303.42,469.38 303.89,471.36 304.37,473.28 304.84,475.1 305.32,476.81 305.79,478.37 306.27,479.75 306.75,480.94 306.98,481.45 307.22,481.93 307.7,482.85 308.17,483.69 308.65,484.4 309.13,484.95 309.52,485.25 309.6,485.3 310.08,485.55 310.55,485.78 311.03,485.96 311.5,486.09 311.98,486.15 312.14,486.16 312.46,486.16 312.93,486.16 313.41,486.16 313.88,486.16 314.36,486.16 314.84,486.16 315.31,486.16 315.79,486.16 316.26,486.16 316.74,486.16 317.21,486.16 317.69,486.16 318.17,486.16 318.64,486.16 319.12,486.16 319.59,486.16 320.07,486.16 320.54,486.16 321.02,486.16 321.5,486.16 321.65,486.16 321.97,486.16 322.45,486.16 322.92,486.16 323.4,486.16 323.88,486.16 324.35,486.16 324.83,486.16 325.3,486.16 325.78,486.16 326.25,486.16 326.73,486.16 327.21,486.16 327.68,486.16 328.16,486.16 328.63,486.16 329.11,486.16 329.58,486.16 330.06,486.16 330.54,486.16 331.01,486.16 331.49,486.16 331.96,486.16 332.44,486.16 332.92,486.16 333.39,486.16 333.55,486.16" fill="none" stroke="#138585" stroke-width="1.9" stroke-linejoin="round" stroke-linecap="round"/>
<polyline points="58.14,489 58.38,473.37 58.85,473.37 59.33,473.38 59.81,473.39 60.28,473.41 60.76,473.43 61.23,473.46 61.71,473.49 62.19,473.52 62.66,473.56 63.14,473.6 63.61,473.65 64.09,473.7 64.56,473.75 65.04,473.81 65.52,473.87 65.99,473.93 66.47,473.99 66.94,474.06 67.1,474.08 67.42,474.13 67.89,474.24 68.37,474.37 68.85,474.54 69.32,474.72 69.8,474.93 70.27,475.15 70.75,475.39 71.23,475.64 71.7,475.89 72.18,476.15 72.65,476.42 73.05,476.64 73.13,476.68 73.6,476.96 74.08,477.27 74.56,477.61 75.03,477.96 75.51,478.33 75.98,478.72 76.46,479.12 76.94,479.52 77.41,479.94 77.89,480.35 78.36,480.77 78.84,481.18 79.31,481.58 79.79,481.98 80.27,482.36 80.58,482.61 80.74,482.73 81.22,483.13 81.69,483.57 82.17,484.03 82.64,484.5 83.12,484.96 83.6,485.41 84.07,485.83 84.55,486.21 85.02,486.52 85.5,486.77 85.98,486.94 86.45,487.01 86.53,487.01 86.93,487 87.4,486.94 87.88,486.85 88.35,486.73 88.83,486.57 89.31,486.39 89.78,486.17 90.26,485.94 90.73,485.68 90.89,485.59 91.21,485.32 91.69,484.63 92.16,483.67 92.64,482.5 93.11,481.21 93.59,479.87 94.06,478.56 94.54,477.35 94.86,476.64 95.02,476.31 95.49,475.32 95.97,474.34 96.44,473.41 96.92,472.51 97.24,471.95 97.39,471.67 97.87,470.79 98.35,469.89 98.82,469.06 99.3,468.35 99.77,467.84 100.01,467.69 100.25,467.56 100.73,467.34 101.2,467.16 101.68,467.03 102.15,466.98 102.23,466.97 102.63,467.33 103.1,468.45 103.58,469.92 104.06,471.31 104.45,472.09 104.53,472.19 105.01,472.71 105.48,473.11 105.96,473.45 106.43,473.78 106.91,474.15 107.39,474.61 107.54,474.79 107.86,475.28 108.34,476.31 108.81,477.51 109.29,478.69 109.77,479.64 110.24,480.15 110.4,480.19 110.72,480 111.19,479.15 111.67,477.85 112.14,476.37 112.62,474.99 112.7,474.79 113.1,473.62 113.57,471.98 114.05,470.55 114.52,469.83 114.6,469.82 115,470.3 115.47,471.73 115.95,473.41 116.43,474.61 116.66,474.79 116.9,474.78 117.38,474.71 117.85,474.59 118.33,474.44 118.81,474.28 119.28,474.13 119.44,474.08 119.76,473.99 120.23,473.87 120.71,473.77 121.18,473.66 121.66,473.56 122.14,473.44 122.61,473.32 123.09,473.17 123.56,473 124.04,472.81 124.52,472.57 124.99,472.3 125.31,472.09 125.47,471.9 125.94,470.54 126.42,468.56 126.89,466.65 127.37,465.5 127.53,465.41 127.85,465.68 128.32,466.86 128.8,468.45 129.27,469.9 129.75,470.65 129.83,470.67 130.22,470.3 130.7,469.16 131.18,467.77 131.65,466.64 132.05,466.26 132.13,466.29 132.6,467.42 133.08,469.56 133.56,471.85 134.03,473.42 134.27,473.65 134.51,473.39 134.98,471.56 135.46,468.53 135.93,464.96 136.09,463.76 136.41,460.71 136.89,454.85 137.28,450.58 137.36,449.88 137.84,445.47 138.31,441.87 138.71,440.69 138.79,440.74 139.26,442.73 139.74,446.1 140.06,448.08 140.22,448.92 140.69,451.75 141.17,454.67 141.64,457.18 142.12,458.81 142.44,459.16 142.6,458.74 143.07,453.6 143.55,445.62 143.86,440.61 144.02,438.23 144.5,430.15 144.97,424.13 145.45,420.8 145.93,418.47 146.24,417.95 146.4,418.29 146.88,422.45 147.35,428.97 147.59,432.16 147.83,435.39 148.31,442.89 148.78,450.85 149.18,457.03 149.26,458.19 149.73,465.63 150.21,472.68 150.68,477.79 150.76,478.34 151.16,480.7 151.64,482.89 152.11,484.03 152.59,484.43 153.06,484.68 153.38,484.74 153.54,484.57 154.01,482.79 154.49,480.83 154.73,480.47 154.97,480.91 155.44,483.39 155.92,485.82 156.08,486.16 156.39,486.45 156.87,486.81 157.35,487.07 157.82,487.24 158.3,487.29 158.77,487.29 159.25,487.28 159.72,487.26 160.2,487.23 160.68,487.2 161.15,487.17 161.63,487.13 162.1,487.08 162.58,487.04 163.06,486.99 163.53,486.94 164.01,486.89 164.48,486.84 164.96,486.79 165.43,486.75 165.91,486.71 166.39,486.67 166.86,486.63 167.02,486.62 167.34,486.6 167.81,486.57 168.29,486.54 168.76,486.51 169.24,486.49 169.72,486.46 170.19,486.43 170.67,486.41 171.14,486.38 171.62,486.36 172.1,486.33 172.57,486.31 173.05,486.28 173.52,486.26 174,486.23 174.47,486.21 174.95,486.18 175.43,486.16 175.9,486.13 176.38,486.11 176.85,486.08 177.33,486.06 177.8,486.03 178.28,486 178.76,485.97 178.91,485.96 179.23,485.94 179.71,485.91 180.18,485.88 180.66,485.85 181.14,485.82 181.61,485.79 182.09,485.76 182.56,485.72 183.04,485.69 183.51,485.66 183.99,485.63 184.47,485.59 184.94,485.56 185.42,485.52 185.89,485.49 186.37,485.46 186.84,485.42 187.32,485.39 187.8,485.35 188.27,485.32 188.75,485.29 189.22,485.25 189.7,485.22 190.18,485.18 190.65,485.15 190.81,485.14 191.13,485.12 191.6,485.08 192.08,485.05 192.55,485.01 193.03,484.98 193.51,484.95 193.98,484.91 194.46,484.88 194.93,484.84 195.41,484.81 195.89,484.78 196.36,484.74 196.84,484.71 197.31,484.67 197.79,484.64 198.26,484.6 198.74,484.57 199.22,484.53 199.69,484.5 200.17,484.46 200.64,484.43 201.12,484.39 201.59,484.36 202.07,484.32 202.55,484.28 202.7,484.27 203.02,484.25 203.5,484.21 203.97,484.18 204.45,484.14 204.93,484.1 205.4,484.07 205.88,484.03 206.35,483.99 206.83,483.96 207.3,483.92 207.78,483.88 208.26,483.85 208.73,483.81 209.21,483.77 209.68,483.73 210.16,483.69 210.63,483.66 211.11,483.62 211.59,483.58 212.06,483.54 212.54,483.5 212.62,483.49 213.01,483.46 213.49,483.42 213.97,483.38 214.44,483.34 214.92,483.31 215.39,483.27 215.87,483.23 216.34,483.19 216.82,483.15 217.3,483.11 217.77,483.07 218.25,483.02 218.72,482.97 219.2,482.92 219.68,482.86 220.15,482.8 220.55,482.75 220.63,482.74 221.1,482.66 221.58,482.57 222.05,482.47 222.53,482.35 223.01,482.23 223.48,482.09 223.96,481.95 224.43,481.8 224.91,481.64 225.38,481.48 225.86,481.31 226.34,481.14 226.81,480.96 227.29,480.79 227.76,480.61 228.24,480.43 228.72,480.25 228.87,480.19 229.19,480.07 229.67,479.88 230.14,479.67 230.62,479.46 231.09,479.24 231.57,479.01 232.05,478.78 232.52,478.55 233,478.32 233.47,478.09 233.95,477.86 234.42,477.63 234.9,477.42 235.38,477.21 235.85,477 236.33,476.8 236.8,476.59 237.28,476.36 237.76,476.12 238.23,475.85 238.39,475.76 238.71,475.57 239.18,475.27 239.66,474.92 240.13,474.47 240.37,474.19 240.61,473.84 241.09,472.82 241.56,471.37 241.96,469.82 242.04,469.38 242.51,464.53 242.91,462 242.99,462.08 243.47,464.67 243.94,467.65 244.1,467.94 244.42,467.69 244.89,466.51 245.37,464.64 245.84,462.42 246.32,460.15 246.8,457.32 247.27,454.44 247.75,451.97 248.22,450.63 248.7,451.6 249.17,453.53 249.49,454.61 249.65,455.03 250.13,456.23 250.6,457.23 250.84,457.6 251.08,457.91 251.55,458.52 252.03,459.08 252.51,459.59 252.98,460.01 253.46,460.33 253.93,460.53 254.33,460.58 254.41,460.57 254.88,460.27 255.36,459.57 255.84,458.54 256.31,457.24 256.79,455.77 257.26,454.17 257.74,452.53 258.21,450.91 258.69,449.39 259.17,448.03 259.56,447.08 259.64,446.91 260.12,445.96 260.59,445.1 261.07,444.29 261.55,443.48 262.02,442.64 262.5,441.71 262.97,440.67 263.05,440.48 263.45,439.47 263.92,438.12 264.4,436.65 264.88,435.06 265.35,433.38 265.83,431.64 266.3,429.84 266.54,428.93 266.78,427.99 267.26,425.97 267.73,423.8 268.21,421.54 268.68,419.24 269.16,416.96 269.63,414.74 270.03,412.99 270.11,412.64 270.59,410.56 271.06,408.47 271.54,406.4 272.01,404.41 272.49,402.53 272.96,400.82 273.28,399.79 273.44,399.3 273.92,397.85 274.39,396.49 274.87,395.27 275.34,394.26 275.66,393.74 275.82,393.51 276.3,392.83 276.77,392.3 277.25,392.09 277.72,392.29 278.2,392.8 278.67,393.5 279.15,394.25 279.63,394.92 280.1,395.51 280.58,396.1 281.05,396.69 281.53,397.29 282,397.91 282.48,398.56 282.96,399.25 283.43,399.99 283.91,400.76 284.38,401.57 284.86,402.42 285.34,403.34 285.81,404.34 286.29,405.44 286.76,406.66 287.24,408.12 287.71,409.89 288.19,411.87 288.67,414 289.14,416.2 289.62,418.36 290.09,420.43 290.17,420.76 290.57,422.39 291.05,424.33 291.52,426.27 292,428.21 292.47,430.14 292.95,432.07 293.42,434 293.9,435.94 294.38,437.87 294.85,439.8 295.33,441.74 295.8,443.68 296.28,445.63 296.75,447.59 296.91,448.24 297.23,449.56 297.71,451.61 298.18,453.71 298.66,455.82 299.13,457.94 299.61,460.04 300.09,462.08 300.56,464.06 301.04,465.93 301.51,467.69 301.91,469.04 301.99,469.3 302.46,470.87 302.94,472.43 303.42,473.98 303.89,475.48 304.37,476.91 304.84,478.26 305.32,479.51 305.79,480.62 306.27,481.59 306.75,482.39 306.98,482.72 307.22,483.02 307.7,483.6 308.17,484.11 308.65,484.54 309.13,484.86 309.52,485.02 309.6,485.04 310.08,485.17 310.55,485.27 311.03,485.36 311.5,485.42 311.98,485.45 312.14,485.45 312.46,485.45 312.93,485.45 313.41,485.45 313.88,485.45 314.36,485.45 314.84,485.45 315.31,485.45 315.79,485.45 316.26,485.45 316.74,485.45 317.21,485.45 317.69,485.45 318.17,485.45 318.64,485.45 319.12,485.45 319.59,485.45 320.07,485.45 320.54,485.45 321.02,485.45 321.5,485.45 321.65,485.45 321.97,485.45 322.45,485.45 322.92,485.45 323.4,485.45 323.88,485.45 324.35,485.45 324.83,485.45 325.3,485.45 325.78,485.45 326.25,485.45 326.73,485.45 327.21,485.45 327.68,485.45 328.16,485.45 328.63,485.45 329.11,485.45 329.58,485.45 330.06,485.45 330.54,485.45 331.01,485.45 331.49,485.45 331.96,485.45 332.44,485.45 332.92,485.45 333.39,485.45 333.55,485.45" fill="none" stroke="#f024f0" stroke-width="1.9" stroke-linejoin="round" stroke-linecap="round"/>
<polyline points="58.14,489 58.38,467.83 58.85,467.9 59.33,467.98 59.81,468.05 60.28,468.12 60.76,468.2 61.23,468.27 61.71,468.34 62.19,468.41 62.66,468.48 63.14,468.55 63.61,468.63 64.09,468.7 64.56,468.77 65.04,468.84 65.52,468.9 65.99,468.97 66.47,469.04 66.94,469.11 67.42,469.18 67.89,469.25 68.37,469.31 68.85,469.37 69.32,469.42 69.8,469.47 70.27,469.52 70.75,469.58 71.23,469.64 71.7,469.7 72.18,469.78 72.65,469.87 73.05,469.96 73.13,469.98 73.6,470.17 74.08,470.46 74.56,470.84 75.03,471.3 75.51,471.82 75.98,472.4 76.46,473.02 76.94,473.67 77.41,474.33 77.89,474.99 78.36,475.65 78.84,476.28 79.31,476.88 79.79,477.43 80.27,477.91 80.58,478.2 80.74,478.34 81.22,478.75 81.69,479.18 82.17,479.62 82.64,480.06 83.12,480.5 83.6,480.94 84.07,481.36 84.55,481.78 85.02,482.17 85.5,482.54 85.98,482.89 86.45,483.2 86.93,483.48 87.4,483.72 87.88,483.91 88.35,484.05 88.83,484.14 89.31,484.17 89.78,484.15 90.26,484.09 90.73,483.99 91.21,483.86 91.69,483.68 92.16,483.48 92.64,483.24 93.11,482.96 93.59,482.66 93.67,482.61 94.06,482.02 94.54,480.64 95.02,478.77 95.49,476.68 95.97,474.63 96.44,472.9 96.68,472.23 96.92,471.65 97.39,470.48 97.87,469.35 98.35,468.31 98.82,467.39 99.3,466.65 99.77,466.14 100.01,465.98 100.25,465.86 100.73,465.64 101.2,465.45 101.68,465.33 102.15,465.27 102.23,465.27 102.63,465.62 103.1,466.75 103.58,468.22 104.06,469.61 104.45,470.38 104.53,470.49 105.01,471 105.48,471.4 105.96,471.75 106.43,472.07 106.91,472.44 107.39,472.9 107.54,473.08 107.86,473.57 108.34,474.6 108.81,475.81 109.29,476.99 109.77,477.93 110.24,478.45 110.4,478.48 110.72,478.3 111.19,477.45 111.67,476.14 112.14,474.67 112.62,473.29 112.7,473.08 113.1,471.91 113.57,470.27 114.05,468.85 114.52,468.13 114.6,468.11 115,468.59 115.47,470.03 115.95,471.71 116.43,472.9 116.66,473.08 116.9,473.08 117.38,473.01 117.85,472.89 118.33,472.74 118.81,472.58 119.28,472.42 119.44,472.37 119.76,472.29 120.23,472.17 120.71,472.06 121.18,471.96 121.66,471.85 122.14,471.74 122.61,471.61 123.09,471.47 123.56,471.3 124.04,471.1 124.52,470.87 124.99,470.59 125.31,470.38 125.47,470.19 125.94,468.84 126.42,466.85 126.89,464.94 127.37,463.8 127.53,463.71 127.85,463.98 128.32,465.15 128.8,466.74 129.27,468.19 129.75,468.95 129.83,468.96 130.22,468.59 130.7,467.46 131.18,466.06 131.65,464.93 132.05,464.56 132.13,464.59 132.6,465.71 133.08,467.86 133.56,470.15 134.03,471.71 134.27,471.95 134.51,471.68 134.98,469.79 135.46,466.65 135.93,462.96 136.09,461.72 136.41,458.56 136.89,452.5 137.28,448.08 137.36,447.36 137.84,442.8 138.31,439.07 138.71,437.84 138.79,437.9 139.26,440.2 139.74,444.09 140.06,446.37 140.22,447.34 140.69,450.61 141.17,453.98 141.64,456.88 142.12,458.75 142.44,459.16 142.6,458.73 143.07,453.41 143.55,445.15 143.86,439.98 144.02,437.5 144.5,429.15 144.97,422.92 145.45,419.47 145.93,417.07 146.24,416.53 146.4,416.87 146.88,421.12 147.35,427.76 147.59,431.02 147.83,434.31 148.31,441.96 148.78,450.08 149.18,456.39 149.26,457.58 149.73,465.15 150.21,472.33 150.68,477.56 150.76,478.13 151.16,480.57 151.64,482.86 152.11,484.03 152.59,484.43 153.06,484.68 153.38,484.74 153.54,484.56 154.01,482.6 154.49,480.43 154.73,480.05 154.97,480.52 155.44,483.2 155.92,485.8 156.08,486.16 156.39,486.45 156.87,486.81 157.35,487.08 157.82,487.24 158.3,487.29 158.77,487.29 159.25,487.29 159.72,487.28 160.2,487.28 160.68,487.27 161.15,487.26 161.63,487.24 162.1,487.23 162.58,487.22 163.06,487.2 163.53,487.18 164.01,487.17 164.48,487.15 164.96,487.13 165.43,487.11 165.91,487.1 166.39,487.08 166.86,487.06 167.02,487.06 167.34,487.04 167.81,487.03 168.29,487.01 168.76,486.99 169.24,486.97 169.72,486.94 170.19,486.92 170.67,486.9 171.14,486.87 171.62,486.85 172.1,486.82 172.57,486.8 173.05,486.77 173.52,486.74 174,486.71 174.47,486.69 174.95,486.66 175.43,486.63 175.9,486.6 176.38,486.57 176.85,486.54 177.33,486.51 177.8,486.49 178.28,486.46 178.76,486.43 178.91,486.42 179.23,486.4 179.71,486.37 180.18,486.34 180.66,486.31 181.14,486.28 181.61,486.25 182.09,486.22 182.56,486.19 183.04,486.16 183.51,486.13 183.99,486.09 184.47,486.06 184.94,486.03 185.42,486 185.89,485.96 186.37,485.93 186.84,485.9 187.32,485.87 187.8,485.83 188.27,485.8 188.75,485.77 189.22,485.73 189.7,485.7 190.18,485.67 190.65,485.63 190.81,485.62 191.13,485.6 191.6,485.57 192.08,485.54 192.55,485.5 193.03,485.47 193.51,485.44 193.98,485.41 194.46,485.37 194.93,485.34 195.41,485.31 195.89,485.27 196.36,485.24 196.84,485.21 197.31,485.17 197.79,485.14 198.26,485.11 198.74,485.07 199.22,485.04 199.69,485.01 200.17,484.97 200.64,484.94 201.12,484.9 201.59,484.87 202.07,484.83 202.55,484.8 202.7,484.79 203.02,484.76 203.5,484.73 203.97,484.7 204.45,484.66 204.93,484.63 205.4,484.59 205.88,484.56 206.35,484.52 206.83,484.48 207.3,484.45 207.78,484.41 208.26,484.38 208.73,484.34 209.21,484.3 209.68,484.27 210.16,484.23 210.63,484.19 211.11,484.15 211.59,484.12 212.06,484.08 212.54,484.04 212.62,484.03 213.01,484 213.49,483.96 213.97,483.93 214.44,483.89 214.92,483.86 215.39,483.83 215.87,483.79 216.34,483.76 216.82,483.72 217.3,483.68 217.77,483.64 218.25,483.59 218.72,483.55 219.2,483.49 219.68,483.44 220.15,483.37 220.55,483.32 220.63,483.3 221.1,483.22 221.58,483.11 222.05,482.98 222.53,482.82 223.01,482.65 223.48,482.47 223.96,482.27 224.43,482.06 224.91,481.83 225.38,481.6 225.86,481.36 226.34,481.11 226.81,480.86 227.29,480.6 227.76,480.35 228.24,480.1 228.72,479.85 228.87,479.76 229.19,479.59 229.67,479.32 230.14,479.02 230.62,478.72 231.09,478.4 231.57,478.07 232.05,477.74 232.52,477.41 233,477.09 233.47,476.78 233.95,476.49 234.42,476.21 234.9,475.96 235.38,475.73 235.85,475.51 236.33,475.29 236.8,475.07 237.28,474.84 237.76,474.59 238.23,474.32 238.39,474.22 238.71,474.01 239.18,473.7 239.66,473.33 240.13,472.85 240.37,472.55 240.61,472.18 241.09,471.1 241.56,469.55 241.96,467.9 242.04,467.43 242.51,462.27 242.91,459.59 242.99,459.67 243.47,462.43 243.94,465.6 244.1,465.9 244.42,465.6 244.89,464.2 245.37,461.99 245.84,459.35 246.32,456.67 246.8,453.31 247.27,449.89 247.75,446.96 248.22,445.38 248.7,446.93 249.17,450 249.49,451.74 249.65,452.4 250.13,454.32 250.6,455.93 250.84,456.52 251.08,457.02 251.55,457.99 252.03,458.89 252.51,459.7 252.98,460.38 253.46,460.89 253.93,461.2 254.33,461.29 254.41,461.28 254.88,460.96 255.36,460.2 255.84,459.09 256.31,457.71 256.79,456.14 257.26,454.44 257.74,452.7 258.21,451.01 258.69,449.42 259.17,448.03 259.56,447.08 259.64,446.91 260.12,445.99 260.59,445.16 261.07,444.39 261.55,443.64 262.02,442.85 262.5,441.98 262.97,441 263.05,440.82 263.45,439.86 263.92,438.59 264.4,437.19 264.88,435.68 265.35,434.09 265.83,432.44 266.3,430.73 266.54,429.87 266.78,428.98 267.26,427.06 267.73,425 268.21,422.86 268.68,420.68 269.16,418.51 269.63,416.41 270.03,414.75 270.11,414.42 270.59,412.45 271.06,410.47 271.54,408.5 272.01,406.61 272.49,404.83 272.96,403.21 273.28,402.23 273.44,401.77 273.92,400.39 274.39,399.1 274.87,397.95 275.34,396.99 275.66,396.49 275.82,396.28 276.3,395.63 276.77,395.13 277.25,394.93 277.72,395.13 278.2,395.64 278.67,396.34 279.15,397.08 279.63,397.76 280.1,398.35 280.58,398.93 281.05,399.52 281.53,400.12 282,400.74 282.48,401.39 282.96,402.07 283.43,402.81 283.91,403.58 284.38,404.38 284.86,405.23 285.34,406.14 285.81,407.14 286.29,408.23 286.76,409.45 287.24,410.9 287.71,412.65 288.19,414.63 288.67,416.75 289.14,418.92 289.62,421.07 290.09,423.11 290.17,423.44 290.57,425.05 291.05,426.97 291.52,428.89 292,430.8 292.47,432.71 292.95,434.62 293.42,436.52 293.9,438.43 294.38,440.33 294.85,442.23 295.33,444.14 295.8,446.04 296.28,447.95 296.75,449.87 296.91,450.51 297.23,451.8 297.71,453.8 298.18,455.85 298.66,457.91 299.13,459.97 299.61,462.01 300.09,464 300.56,465.91 301.04,467.72 301.51,469.41 301.91,470.71 301.99,470.96 302.46,472.46 302.94,473.95 303.42,475.43 303.89,476.85 304.37,478.22 304.84,479.5 305.32,480.68 305.79,481.73 306.27,482.64 306.75,483.38 306.98,483.69 307.22,483.97 307.7,484.49 308.17,484.96 308.65,485.35 309.13,485.64 309.52,485.79 309.6,485.81 310.08,485.91 310.55,486.01 311.03,486.08 311.5,486.13 311.98,486.16 312.14,486.16 312.46,486.16 312.93,486.16 313.41,486.16 313.88,486.16 314.36,486.16 314.84,486.16 315.31,486.16 315.79,486.16 316.26,486.16 316.74,486.16 317.21,486.16 317.69,486.16 318.17,486.16 318.64,486.16 319.12,486.16 319.59,486.16 320.07,486.16 320.54,486.16 321.02,486.16 321.5,486.16 321.65,486.16 321.97,486.16 322.45,486.16 322.92,486.16 323.4,486.16 323.88,486.16 324.35,486.16 324.83,486.16 325.3,486.16 325.78,486.16 326.25,486.16 326.73,486.16 327.21,486.16 327.68,486.16 328.16,486.16 328.63,486.16 329.11,486.16 329.58,486.16 330.06,486.16 330.54,486.16 331.01,486.16 331.49,486.16 331.96,486.16 332.44,486.16 332.92,486.16 333.39,486.16 333.55,486.16" fill="none" stroke="#85851a" stroke-width="1.9" stroke-linejoin="round" stroke-linecap="round"/>
</g>
<rect x="170.1" y="314.1" width="91.5" height="68" fill="#fff" stroke="#333" stroke-width="0.8"/>
<line x1="168.6" y1="382.1" x2="170.1" y2="382.1" stroke="#333" stroke-width="0.5" stroke-linecap="butt"/>
<text x="167.6" y="383.03" font-size="2.6" text-anchor="end" font-weight="normal" font-style="normal" fill="#444">0.0</text>
<line x1="168.6" y1="368.5" x2="170.1" y2="368.5" stroke="#333" stroke-width="0.5" stroke-linecap="butt"/>
<text x="167.6" y="369.43" font-size="2.6" text-anchor="end" font-weight="normal" font-style="normal" fill="#444">0.2</text>
<line x1="168.6" y1="354.9" x2="170.1" y2="354.9" stroke="#333" stroke-width="0.5" stroke-linecap="butt"/>
<text x="167.6" y="355.83" font-size="2.6" text-anchor="end" font-weight="normal" font-style="normal" fill="#444">0.4</text>
<line x1="168.6" y1="341.3" x2="170.1" y2="341.3" stroke="#333" stroke-width="0.5" stroke-linecap="butt"/>
<text x="167.6" y="342.23" font-size="2.6" text-anchor="end" font-weight="normal" font-style="normal" fill="#444">0.6</text>
<line x1="168.6" y1="327.7" x2="170.1" y2="327.7" stroke="#333" stroke-width="0.5" stroke-linecap="butt"/>
<text x="167.6" y="328.63" font-size="2.6" text-anchor="end" font-weight="normal" font-style="normal" fill="#444">0.8</text>
<line x1="168.6" y1="314.1" x2="170.1" y2="314.1" stroke="#333" stroke-width="0.5" stroke-linecap="butt"/>
<text x="167.6" y="315.03" font-size="2.6" text-anchor="end" font-weight="normal" font-style="normal" fill="#444">1.0</text>
<line x1="175.82" y1="382.1" x2="175.82" y2="383.3" stroke="#333" stroke-width="0.5" stroke-linecap="butt"/>
<text x="175.82" y="386.63" font-size="2.6" text-anchor="middle" font-weight="normal" font-style="normal" fill="#444">3000</text>
<line x1="187.26" y1="382.1" x2="187.26" y2="383.3" stroke="#333" stroke-width="0.5" stroke-linecap="butt"/>
<text x="187.26" y="386.63" font-size="2.6" text-anchor="middle" font-weight="normal" font-style="normal" fill="#444">3100</text>
<line x1="198.69" y1="382.1" x2="198.69" y2="383.3" stroke="#333" stroke-width="0.5" stroke-linecap="butt"/>
<text x="198.69" y="386.63" font-size="2.6" text-anchor="middle" font-weight="normal" font-style="normal" fill="#444">3200</text>
<line x1="210.13" y1="382.1" x2="210.13" y2="383.3" stroke="#333" stroke-width="0.5" stroke-linecap="butt"/>
<text x="210.13" y="386.63" font-size="2.6" text-anchor="middle" font-weight="normal" font-style="normal" fill="#444">3300</text>
<line x1="221.57" y1="382.1" x2="221.57" y2="383.3" stroke="#333" stroke-width="0.5" stroke-linecap="butt"/>
<text x="221.57" y="386.63" font-size="2.6" text-anchor="middle" font-weight="normal" font-style="normal" fill="#444">3400</text>
<line x1="233.01" y1="382.1" x2="233.01" y2="383.3" stroke="#333" stroke-width="0.5" stroke-linecap="butt"/>
<text x="233.01" y="386.63" font-size="2.6" text-anchor="middle" font-weight="normal" font-style="normal" fill="#444">3500</text>
<line x1="244.44" y1="382.1" x2="244.44" y2="383.3" stroke="#333" stroke-width="0.5" stroke-linecap="butt"/>
<text x="244.44" y="386.63" font-size="2.6" text-anchor="middle" font-weight="normal" font-style="normal" fill="#444">3600</text>
<line x1="255.88" y1="382.1" x2="255.88" y2="383.3" stroke="#333" stroke-width="0.5" stroke-linecap="butt"/>
<text x="255.88" y="386.63" font-size="2.6" text-anchor="middle" font-weight="normal" font-style="normal" fill="#444">3700</text>
<text x="215.85" y="392.05" font-size="3.2" text-anchor="middle" font-weight="bold" font-style="normal" fill="#333">Wavenumbers (cm-1)</text>
<text x="159.1" y="349.25" font-size="3.2" text-anchor="middle" font-weight="bold" font-style="normal" fill="#333" transform="rotate(-90 159.1 348.1)">Absorbance (A.U)</text>
<polyline points="170.1,375.97 171.1,376.54 172.1,377.12 173.1,377.67 174.1,378.13 175.1,378.45 176.1,378.59 176.24,378.59 177.1,378.59 178.1,378.58 179.1,378.56 180.1,378.54 181.1,378.5 182.1,378.46 183.1,378.42 184.1,378.37 185.1,378.32 186.1,378.26 187.1,378.19 188.1,378.13 189.1,378.06 190.1,377.99 191.1,377.92 192.1,377.84 193.1,377.77 193.76,377.72 194.1,377.69 195.1,377.59 196.1,377.46 197.1,377.31 198.1,377.13 199.1,376.94 200.1,376.74 201.1,376.54 202.1,376.33 203.1,376.12 204.1,375.92 205.1,375.74 206.1,375.56 207.1,375.41 208.1,375.28 209.1,375.18 210.1,375.12 211.1,375.09 211.29,375.09 212.1,375.1 213.1,375.13 214.1,375.19 215.1,375.26 216.1,375.35 217.1,375.46 218.1,375.59 219.1,375.72 220.1,375.87 221.1,376.02 222.1,376.17 223.1,376.33 224.1,376.49 225.1,376.65 226.1,376.81 227.1,376.96 228.1,377.1 228.82,377.19 229.1,377.23 230.1,377.36 231.1,377.49 232.1,377.63 233.1,377.77 234.1,377.92 235.1,378.06 236.1,378.21 237.1,378.35 238.1,378.5 239.1,378.65 240.1,378.8 241.1,378.94 242.1,379.09 243.1,379.23 244.1,379.38 245.1,379.52 246.1,379.65 247.1,379.79 248.1,379.92 249.1,380.05 250.1,380.17 251.1,380.29 251.61,380.35 252.1,380.4 253.1,380.51 254.1,380.62 255.1,380.72 256.1,380.82 257.1,380.92 258.1,381.02 259.1,381.11 260.1,381.2 260.37,381.22" fill="none" stroke="#111111" stroke-width="1.15" stroke-linejoin="round" stroke-linecap="round"/>
<polyline points="170.1,370.71 171.1,370.69 172.1,370.65 173.1,370.57 174.1,370.47 175.1,370.35 176.1,370.2 176.24,370.18 177.1,369.89 178.1,369.21 179.1,368.27 180.1,367.14 181.1,365.93 181.49,365.45 182.1,364.6 183.1,362.82 184.1,360.9 185,359.32 185.1,359.16 186.1,357.64 187.1,356.19 188.1,354.81 189.1,353.46 190.1,352.13 191.1,350.8 192.1,349.43 193.1,348.02 193.76,347.05 194.1,346.54 195.1,344.96 196.1,343.3 197.1,341.59 198.1,339.88 199.1,338.19 200.1,336.55 201.1,335.01 202.1,333.59 202.53,333.03 203.1,332.27 204.1,330.87 205.1,329.44 206.1,328.05 207.1,326.8 208.1,325.75 209.1,325.01 210.1,324.64 210.42,324.62 211.1,324.66 212.1,324.88 213.1,325.24 214.1,325.69 215.1,326.19 216.1,326.68 216.55,326.89 217.1,327.14 218.1,327.62 219.1,328.12 220.1,328.65 221.1,329.22 222.1,329.83 223.1,330.49 224.1,331.2 225.1,331.98 225.32,332.15 226.1,332.85 227.1,333.89 228.1,335.07 229.1,336.36 230.1,337.74 231.1,339.18 232.1,340.64 233.1,342.12 234.08,343.54 234.1,343.57 235.1,345.05 236.1,346.6 237.1,348.2 238.1,349.83 239.1,351.49 240.1,353.14 241.1,354.79 242.1,356.4 242.84,357.56 243.1,357.96 244.1,359.53 245.1,361.11 246.1,362.68 247.1,364.25 248.1,365.78 249.1,367.27 250.1,368.69 251.1,370.05 251.61,370.71 252.1,371.33 253.1,372.56 254.1,373.77 255.1,374.93 256.1,376.05 257.1,377.13 258.1,378.17 259.1,379.16 260.1,380.1 260.37,380.35" fill="none" stroke="#f51b1b" stroke-width="1.15" stroke-linejoin="round" stroke-linecap="round"/>
<polyline points="170.1,371.94 171.1,372.69 172.1,373.11 173.1,373.29 174.1,373.34 174.48,373.34 175.1,373.19 176.1,372.4 177.1,371.15 178.1,369.64 179.1,368.1 179.74,367.2 180.1,366.72 181.1,365.28 182.1,363.74 183.1,362.17 184.1,360.63 185,359.32 185.1,359.18 186.1,357.81 187.1,356.48 188.1,355.19 189.1,353.92 190.1,352.66 191.1,351.39 192.1,350.11 193.1,348.81 193.76,347.92 194.1,347.47 195.1,346.07 196.1,344.63 197.1,343.16 198.1,341.69 199.1,340.24 200.1,338.82 201.1,337.46 202.1,336.18 202.53,335.66 203.1,334.95 204.1,333.6 205.1,332.21 206.1,330.84 207.1,329.6 208.1,328.56 209.1,327.81 210.1,327.44 210.42,327.42 211.1,327.46 212.1,327.62 213.1,327.89 214.1,328.23 215.1,328.61 216.1,329 216.55,329.17 217.1,329.38 218.1,329.78 219.1,330.21 220.1,330.69 221.1,331.2 222.1,331.76 223.1,332.37 224.1,333.03 225.1,333.74 225.32,333.9 226.1,334.56 227.1,335.55 228.1,336.68 229.1,337.94 230.1,339.28 231.1,340.69 232.1,342.13 233.1,343.56 234.08,344.95 234.1,344.97 235.1,346.4 236.1,347.89 237.1,349.42 238.1,350.99 239.1,352.58 240.1,354.18 241.1,355.76 242.1,357.31 242.84,358.44 243.1,358.82 244.1,360.34 245.1,361.88 246.1,363.41 247.1,364.93 248.1,366.42 249.1,367.87 250.1,369.27 251.1,370.59 251.61,371.23 252.1,371.84 253.1,373.05 254.1,374.23 255.1,375.37 256.1,376.47 257.1,377.53 258.1,378.55 259.1,379.53 260.1,380.45 260.37,380.7" fill="none" stroke="#2222ee" stroke-width="1.15" stroke-linejoin="round" stroke-linecap="round"/>
<polyline points="170.1,368.43 171.1,369.22 172.1,369.73 173.1,370.02 174.1,370.15 175.1,370.18 175.36,370.18 176.1,370.03 177.1,369.39 178.1,368.42 179.1,367.25 180.1,366.04 180.62,365.45 181.1,364.88 182.1,363.54 183.1,362.07 184.1,360.58 185,359.32 185.1,359.18 186.1,357.89 187.1,356.63 188.1,355.4 189.1,354.19 190.1,352.99 191.1,351.78 192.1,350.55 193.1,349.3 193.76,348.45 194.1,348.01 195.1,346.66 196.1,345.26 197.1,343.83 198.1,342.4 199.1,340.98 200.1,339.6 201.1,338.28 202.1,337.03 202.53,336.53 203.1,335.85 204.1,334.56 205.1,333.22 206.1,331.92 207.1,330.73 208.1,329.73 209.1,329.02 210.1,328.67 210.42,328.65 211.1,328.68 212.1,328.84 213.1,329.1 214.1,329.43 215.1,329.82 216.1,330.22 216.55,330.4 217.1,330.63 218.1,331.12 219.1,331.7 220.1,332.34 221.1,333.05 222.1,333.82 223.1,334.63 224.1,335.47 225.1,336.34 225.32,336.53 226.1,337.26 227.1,338.29 228.1,339.4 229.1,340.59 230.1,341.83 231.1,343.12 232.1,344.43 233.1,345.76 234.08,347.05 234.1,347.07 235.1,348.42 236.1,349.82 237.1,351.25 238.1,352.72 239.1,354.21 240.1,355.69 241.1,357.17 242.1,358.61 242.84,359.67 243.1,360.03 244.1,361.44 245.1,362.86 246.1,364.28 247.1,365.69 248.1,367.08 249.1,368.43 250.1,369.73 251.1,370.98 251.61,371.58 252.1,372.16 253.1,373.31 254.1,374.43 255.1,375.52 256.1,376.58 257.1,377.61 258.1,378.59 259.1,379.54 260.1,380.46 260.37,380.7" fill="none" stroke="#138585" stroke-width="1.15" stroke-linejoin="round" stroke-linecap="round"/>
<polyline points="170.1,369.48 171.1,369.47 172.1,369.42 173.1,369.35 174.1,369.25 175.1,369.13 176.1,368.98 176.24,368.96 177.1,368.53 178.1,367.51 179.1,366.19 180.1,364.84 180.62,364.22 181.1,363.68 182.1,362.53 183.1,361.37 184.1,360.25 185,359.32 185.1,359.22 186.1,358.27 187.1,357.38 188.1,356.53 189.1,355.7 190.1,354.86 191.1,354 192.01,353.18 192.1,353.1 193.1,352.15 194.1,351.15 195.1,350.14 196.1,349.1 197.1,348.06 198.1,347.02 199.1,345.99 200.1,344.98 201.1,344 202.1,343.06 202.53,342.67 203.1,342.13 204.1,341.09 205.1,340 206.1,338.92 207.1,337.93 208.1,337.1 209.1,336.5 210.1,336.2 210.42,336.18 211.1,336.22 212.1,336.42 213.1,336.74 214.1,337.15 215.1,337.61 216.1,338.08 216.55,338.29 217.1,338.55 218.1,339.09 219.1,339.7 220.1,340.38 221.1,341.11 222.1,341.87 223.1,342.66 224.1,343.45 225.1,344.25 225.32,344.42 226.1,345.04 227.1,345.86 228.1,346.7 229.1,347.57 230.1,348.46 231.1,349.38 232.1,350.33 233.1,351.31 234.08,352.31 234.1,352.33 235.1,353.39 236.1,354.52 237.1,355.71 238.1,356.93 239.1,358.17 240.1,359.43 241.1,360.68 242.1,361.92 242.84,362.82 243.1,363.13 244.1,364.35 245.1,365.6 246.1,366.86 247.1,368.11 248.1,369.34 249.1,370.55 250.1,371.7 251.1,372.8 251.61,373.34 252.1,373.84 253.1,374.84 254.1,375.82 255.1,376.77 256.1,377.68 257.1,378.57 258.1,379.42 259.1,380.24 260.1,381.02 260.37,381.22" fill="none" stroke="#f024f0" stroke-width="1.15" stroke-linejoin="round" stroke-linecap="round"/>
<polyline points="170.1,365.45 171.1,366.74 172.1,367.68 173.1,368.31 174.1,368.7 175.1,368.89 176.1,368.95 176.24,368.96 177.1,368.66 178.1,367.73 179.1,366.47 180.1,365.17 180.62,364.57 181.1,364.05 182.1,362.87 183.1,361.66 184.1,360.54 185,359.67 185.1,359.58 186.1,358.8 187.1,358.12 188.1,357.5 189.1,356.9 190.1,356.29 191.1,355.62 192.01,354.94 192.1,354.86 193.1,353.99 194.1,353.02 195.1,351.98 196.1,350.88 197.1,349.75 198.1,348.6 199.1,347.47 200.1,346.36 201.1,345.29 202.1,344.29 202.53,343.89 203.1,343.35 204.1,342.3 205.1,341.2 206.1,340.13 207.1,339.14 208.1,338.32 209.1,337.72 210.1,337.43 210.42,337.41 211.1,337.44 212.1,337.6 213.1,337.86 214.1,338.2 215.1,338.58 216.1,338.98 216.55,339.16 217.1,339.4 218.1,339.91 219.1,340.51 220.1,341.19 221.1,341.93 222.1,342.71 223.1,343.51 224.1,344.32 225.1,345.13 225.32,345.3 226.1,345.92 227.1,346.74 228.1,347.58 229.1,348.44 230.1,349.34 231.1,350.26 232.1,351.21 233.1,352.19 234.08,353.18 234.1,353.2 235.1,354.27 236.1,355.41 237.1,356.6 238.1,357.83 239.1,359.09 240.1,360.34 241.1,361.59 242.1,362.81 242.84,363.7 243.1,364 244.1,365.18 245.1,366.37 246.1,367.57 247.1,368.75 248.1,369.91 249.1,371.05 250.1,372.14 251.1,373.18 251.61,373.69 252.1,374.17 253.1,375.12 254.1,376.05 255.1,376.96 256.1,377.84 257.1,378.68 258.1,379.5 259.1,380.28 260.1,381.03 260.37,381.22" fill="none" stroke="#85851a" stroke-width="1.15" stroke-linejoin="round" stroke-linecap="round"/>
<text x="107.3" y="440.98" font-size="8.6" text-anchor="middle" font-weight="bold" font-style="normal" fill="#000">1</text>
<text x="130.3" y="440.98" font-size="8.6" text-anchor="middle" font-weight="bold" font-style="normal" fill="#000">2</text>
<text x="143" y="400.38" font-size="8.6" text-anchor="middle" font-weight="bold" font-style="normal" fill="#000">3</text>
<text x="243.6" y="434.08" font-size="8.6" text-anchor="middle" font-weight="bold" font-style="normal" fill="#000">4</text>
<text x="279.2" y="357.58" font-size="8.6" text-anchor="middle" font-weight="bold" font-style="normal" fill="#000">5</text>
<path d="M295.7,345 C297.87,350.67 301.9,354.19 301.9,357.6 A6.2,6.2 0 0 1 289.5,357.6 C289.5,354.19 293.53,350.67 295.7,345Z" fill="url(#dropg)" stroke="#9dbacb" stroke-width="1.1"/>
<line x1="387.4" y1="276.35" x2="674.65" y2="276.35" stroke="#000" stroke-width="1.8" stroke-linecap="butt"/>
<line x1="673.85" y1="276.35" x2="673.85" y2="489.8" stroke="#000" stroke-width="1.8" stroke-linecap="butt"/>
<line x1="387.6" y1="275.45" x2="387.6" y2="490.8" stroke="#000" stroke-width="2.0" stroke-linecap="butt"/>
<line x1="382.6" y1="489.8" x2="674.65" y2="489.8" stroke="#000" stroke-width="2.0" stroke-linecap="butt"/>
<line x1="382.6" y1="489.8" x2="387.6" y2="489.8" stroke="#000" stroke-width="1.3" stroke-linecap="butt"/>
<text x="380.6" y="492.63" font-size="7.9" text-anchor="end" font-weight="bold" font-style="normal" fill="#000">0.0</text>
<line x1="382.6" y1="461.34" x2="387.6" y2="461.34" stroke="#000" stroke-width="1.3" stroke-linecap="butt"/>
<text x="380.6" y="464.17" font-size="7.9" text-anchor="end" font-weight="bold" font-style="normal" fill="#000">0.2</text>
<line x1="382.6" y1="432.88" x2="387.6" y2="432.88" stroke="#000" stroke-width="1.3" stroke-linecap="butt"/>
<text x="380.6" y="435.71" font-size="7.9" text-anchor="end" font-weight="bold" font-style="normal" fill="#000">0.4</text>
<line x1="382.6" y1="404.42" x2="387.6" y2="404.42" stroke="#000" stroke-width="1.3" stroke-linecap="butt"/>
<text x="380.6" y="407.25" font-size="7.9" text-anchor="end" font-weight="bold" font-style="normal" fill="#000">0.6</text>
<line x1="382.6" y1="375.96" x2="387.6" y2="375.96" stroke="#000" stroke-width="1.3" stroke-linecap="butt"/>
<text x="380.6" y="378.79" font-size="7.9" text-anchor="end" font-weight="bold" font-style="normal" fill="#000">0.8</text>
<line x1="382.6" y1="347.5" x2="387.6" y2="347.5" stroke="#000" stroke-width="1.3" stroke-linecap="butt"/>
<text x="380.6" y="350.33" font-size="7.9" text-anchor="end" font-weight="bold" font-style="normal" fill="#000">1.0</text>
<line x1="382.6" y1="319.04" x2="387.6" y2="319.04" stroke="#000" stroke-width="1.3" stroke-linecap="butt"/>
<text x="380.6" y="321.87" font-size="7.9" text-anchor="end" font-weight="bold" font-style="normal" fill="#000">1.2</text>
<line x1="382.6" y1="290.58" x2="387.6" y2="290.58" stroke="#000" stroke-width="1.3" stroke-linecap="butt"/>
<text x="380.6" y="293.41" font-size="7.9" text-anchor="end" font-weight="bold" font-style="normal" fill="#000">1.4</text>
<line x1="384.6" y1="475.57" x2="387.6" y2="475.57" stroke="#000" stroke-width="1.1" stroke-linecap="butt"/>
<line x1="384.6" y1="447.11" x2="387.6" y2="447.11" stroke="#000" stroke-width="1.1" stroke-linecap="butt"/>
<line x1="384.6" y1="418.65" x2="387.6" y2="418.65" stroke="#000" stroke-width="1.1" stroke-linecap="butt"/>
<line x1="384.6" y1="390.19" x2="387.6" y2="390.19" stroke="#000" stroke-width="1.1" stroke-linecap="butt"/>
<line x1="384.6" y1="361.73" x2="387.6" y2="361.73" stroke="#000" stroke-width="1.1" stroke-linecap="butt"/>
<line x1="384.6" y1="333.27" x2="387.6" y2="333.27" stroke="#000" stroke-width="1.1" stroke-linecap="butt"/>
<line x1="384.6" y1="304.81" x2="387.6" y2="304.81" stroke="#000" stroke-width="1.1" stroke-linecap="butt"/>
<line x1="395.6" y1="489.8" x2="395.6" y2="493.8" stroke="#000" stroke-width="1.3" stroke-linecap="butt"/>
<text x="395.6" y="503.52" font-size="8.3" text-anchor="middle" font-weight="bold" font-style="normal" fill="#000">500</text>
<line x1="435.35" y1="489.8" x2="435.35" y2="493.8" stroke="#000" stroke-width="1.3" stroke-linecap="butt"/>
<text x="435.35" y="503.52" font-size="8.3" text-anchor="middle" font-weight="bold" font-style="normal" fill="#000">1000</text>
<line x1="475.1" y1="489.8" x2="475.1" y2="493.8" stroke="#000" stroke-width="1.3" stroke-linecap="butt"/>
<text x="475.1" y="503.52" font-size="8.3" text-anchor="middle" font-weight="bold" font-style="normal" fill="#000">1500</text>
<line x1="514.85" y1="489.8" x2="514.85" y2="493.8" stroke="#000" stroke-width="1.3" stroke-linecap="butt"/>
<text x="514.85" y="503.52" font-size="8.3" text-anchor="middle" font-weight="bold" font-style="normal" fill="#000">2000</text>
<line x1="554.6" y1="489.8" x2="554.6" y2="493.8" stroke="#000" stroke-width="1.3" stroke-linecap="butt"/>
<text x="554.6" y="503.52" font-size="8.3" text-anchor="middle" font-weight="bold" font-style="normal" fill="#000">2500</text>
<line x1="594.35" y1="489.8" x2="594.35" y2="493.8" stroke="#000" stroke-width="1.3" stroke-linecap="butt"/>
<text x="594.35" y="503.52" font-size="8.3" text-anchor="middle" font-weight="bold" font-style="normal" fill="#000">3000</text>
<line x1="634.1" y1="489.8" x2="634.1" y2="493.8" stroke="#000" stroke-width="1.3" stroke-linecap="butt"/>
<text x="634.1" y="503.52" font-size="8.3" text-anchor="middle" font-weight="bold" font-style="normal" fill="#000">3500</text>
<line x1="673.85" y1="489.8" x2="673.85" y2="493.8" stroke="#000" stroke-width="1.3" stroke-linecap="butt"/>
<text x="673.85" y="503.52" font-size="8.3" text-anchor="middle" font-weight="bold" font-style="normal" fill="#000">4000</text>
<line x1="415.48" y1="489.8" x2="415.48" y2="492.3" stroke="#000" stroke-width="1.1" stroke-linecap="butt"/>
<line x1="455.23" y1="489.8" x2="455.23" y2="492.3" stroke="#000" stroke-width="1.1" stroke-linecap="butt"/>
<line x1="494.98" y1="489.8" x2="494.98" y2="492.3" stroke="#000" stroke-width="1.1" stroke-linecap="butt"/>
<line x1="534.73" y1="489.8" x2="534.73" y2="492.3" stroke="#000" stroke-width="1.1" stroke-linecap="butt"/>
<line x1="574.48" y1="489.8" x2="574.48" y2="492.3" stroke="#000" stroke-width="1.1" stroke-linecap="butt"/>
<line x1="614.23" y1="489.8" x2="614.23" y2="492.3" stroke="#000" stroke-width="1.1" stroke-linecap="butt"/>
<line x1="653.98" y1="489.8" x2="653.98" y2="492.3" stroke="#000" stroke-width="1.1" stroke-linecap="butt"/>
<text x="351.5" y="396.22" font-size="9.55" text-anchor="middle" font-weight="bold" font-style="normal" fill="#000" transform="rotate(-90 351.5 392.8)">Absorbence (A.U)</text>
<text x="530.4" y="519.31" font-size="9.8" text-anchor="middle" font-weight="bold" font-style="normal" fill="#000">Wavenumbers (cm-1)</text>
<text x="345" y="296.94" font-size="15.2" text-anchor="start" font-weight="bold" font-style="normal" fill="#000">A4</text>
<text x="393" y="293.82" font-size="10.1" font-weight="bold" font-style="italic" fill="#138a13" textLength="123.6" lengthAdjust="spacingAndGlyphs">S. carpocapsae at 74% RH</text>
<line x1="535.1" y1="290" x2="558.3" y2="290" stroke="#111111" stroke-width="2.0" stroke-linecap="butt"/>
<text x="562.1" y="293.58" font-size="10" font-weight="bold" font-style="italic">Dry</text>
<line x1="590.8" y1="290" x2="614" y2="290" stroke="#f51b1b" stroke-width="2.0" stroke-linecap="butt"/>
<text x="617" y="293.58" font-size="10" font-weight="bold"><tspan font-style="italic">0</tspan><tspan dx="2">Hrs</tspan></text>
<line x1="394.2" y1="302" x2="417.4" y2="302" stroke="#2222ee" stroke-width="2.0" stroke-linecap="butt"/>
<text x="420.6" y="305.58" font-size="10" font-weight="bold"><tspan font-style="italic">2</tspan><tspan dx="2">Hrs</tspan></text>
<line x1="447.4" y1="302" x2="470.6" y2="302" stroke="#138585" stroke-width="2.0" stroke-linecap="butt"/>
<text x="473.8" y="305.58" font-size="10" font-weight="bold"><tspan font-style="italic">4</tspan><tspan dx="2">Hrs</tspan></text>
<line x1="501.1" y1="302" x2="524.3" y2="302" stroke="#f024f0" stroke-width="2.0" stroke-linecap="butt"/>
<text x="529.6" y="305.58" font-size="10" font-weight="bold"><tspan font-style="italic">6</tspan><tspan dx="2">Hrs</tspan></text>
<line x1="555.6" y1="302" x2="578.8" y2="302" stroke="#85851a" stroke-width="2.0" stroke-linecap="butt"/>
<text x="585" y="305.58" font-size="10" font-weight="bold"><tspan font-style="italic">8</tspan><tspan dx="2">Hrs</tspan></text>
<clipPath id="cpA4"><rect x="388.6" y="277.35" width="284.25" height="212.45"/></clipPath>
<g clip-path="url(#cpA4)">
<polyline points="397.51,489.8 397.99,481.83 398.46,481.86 398.94,481.95 399.42,482.08 399.89,482.26 400.37,482.46 400.85,482.68 401.32,482.92 401.8,483.16 402.28,483.39 402.75,483.61 403.23,483.81 403.71,483.98 404.19,484.11 404.66,484.21 405.14,484.3 405.62,484.39 406.09,484.46 406.57,484.54 407.05,484.6 407.53,484.66 408,484.72 408.48,484.78 408.96,484.84 409.43,484.89 409.91,484.94 410.39,485 410.86,485.06 411.34,485.12 411.82,485.18 412.3,485.25 412.77,485.32 413.25,485.4 413.73,485.49 414.2,485.59 414.6,485.67 414.68,485.69 415.16,485.83 415.63,486 416.11,486.21 416.59,486.44 417.06,486.69 417.54,486.96 418.02,487.22 418.5,487.48 418.97,487.74 419.45,487.97 419.93,488.19 420.4,488.37 420.88,488.51 421.36,488.61 421.84,488.66 421.99,488.66 422.31,488.66 422.79,488.66 423.27,488.65 423.74,488.64 424.22,488.63 424.7,488.62 425.17,488.6 425.65,488.58 426.13,488.55 426.61,488.52 427.08,488.49 427.56,488.45 428.04,488.41 428.51,488.36 428.99,488.31 429.47,488.26 429.94,488.2 430.42,488.13 430.9,488.06 431.38,487.99 431.85,487.91 432.33,487.82 432.41,487.81 432.81,487.44 433.28,486.36 433.76,484.77 434.24,482.88 434.71,480.91 435.19,479.06 435.67,477.56 436.07,476.71 436.15,476.58 436.62,475.84 437.1,475.17 437.58,474.67 438.05,474.44 438.13,474.43 438.53,474.62 439.01,475.25 439.48,476.13 439.96,477.07 440.44,477.9 440.92,478.42 441.39,478.68 441.87,478.89 442.35,479.07 442.82,479.22 443.3,479.37 443.78,479.54 444.17,479.7 444.25,479.73 444.73,479.95 445.21,480.17 445.69,480.4 446.16,480.64 446.64,480.89 447.12,481.17 447.28,481.26 447.59,481.49 448.07,481.91 448.55,482.39 449.02,482.84 449.5,483.19 449.98,483.38 450.14,483.4 450.46,483.3 450.93,482.84 451.41,482.09 451.89,481.16 452.36,480.15 452.84,479.17 453.32,478.32 453.79,477.71 454.27,477.43 454.35,477.42 454.75,477.64 455.23,478.35 455.7,479.38 456.18,480.53 456.66,481.6 457.13,482.38 457.61,482.69 458.09,482.68 458.56,482.67 459.04,482.65 459.52,482.63 460,482.6 460.47,482.56 460.95,482.52 461.43,482.47 461.9,482.42 462.38,482.37 462.86,482.31 463.33,482.24 463.81,482.17 464.29,482.1 464.77,482.03 465.08,481.97 465.24,481.95 465.72,481.83 466.2,481.69 466.67,481.51 467.15,481.31 467.63,481.09 468.1,480.87 468.58,480.63 468.74,480.55 469.06,480.36 469.54,479.97 470.01,479.55 470.49,479.2 470.97,479 471.12,478.99 471.44,479.04 471.92,479.29 472.4,479.67 472.87,480.08 473.35,480.44 473.83,480.66 474.07,480.69 474.31,480.53 474.78,479.37 475.26,477.53 475.74,475.48 476.21,473.72 476.69,472.72 477.17,472.3 477.64,471.95 478.12,471.7 478.6,471.59 478.68,471.59 479.08,471.87 479.55,472.79 480.03,474.02 480.51,475.23 480.67,475.57 480.98,476.3 481.46,477.53 481.94,478.48 482.25,478.7 482.41,478.63 482.89,477.7 483.37,476.06 483.85,474.16 484.24,472.72 484.32,472.46 484.8,470.47 485.28,468.36 485.75,466.82 486.07,466.46 486.23,466.56 486.71,467.78 487.18,469.85 487.66,472.07 487.82,472.72 488.14,474 488.62,476.07 489.09,478.2 489.57,480.27 490.05,482.13 490.21,482.69 490.52,483.83 491,485.63 491.48,487.07 491.95,487.67 492.43,487.6 492.91,487.45 493.38,487.26 493.86,487.08 494.34,486.97 494.58,486.95 494.82,487.08 495.29,487.84 495.77,488.72 496.17,489.09 496.25,489.1 496.72,489.16 497.2,489.2 497.68,489.22 498.16,489.23 498.63,489.23 499.11,489.23 499.59,489.23 500.06,489.23 500.54,489.23 501.02,489.23 501.49,489.23 501.97,489.23 502.45,489.23 502.93,489.23 503.4,489.23 503.88,489.23 504.36,489.23 504.83,489.23 505.31,489.23 505.79,489.23 506.26,489.23 506.74,489.23 507.22,489.23 507.7,489.23 508.17,489.23 508.65,489.23 509.13,489.23 509.6,489.23 510.08,489.23 510.56,489.23 511.03,489.23 511.51,489.23 511.99,489.23 512.47,489.23 512.94,489.23 513.42,489.23 513.9,489.23 514.37,489.23 514.85,489.23 515.33,489.23 515.8,489.23 516.28,489.23 516.76,489.23 517.24,489.23 517.71,489.23 518.19,489.23 518.67,489.23 519.14,489.22 519.62,489.22 520.1,489.22 520.57,489.22 521.05,489.22 521.53,489.22 522,489.21 522.48,489.21 522.96,489.21 523.44,489.21 523.91,489.21 524.39,489.2 524.87,489.2 525.34,489.2 525.82,489.19 526.3,489.19 526.78,489.19 527.25,489.18 527.73,489.18 528.21,489.18 528.68,489.17 529.16,489.17 529.64,489.16 530.11,489.16 530.59,489.16 531.07,489.15 531.55,489.15 532.02,489.14 532.5,489.14 532.98,489.13 533.45,489.13 533.93,489.12 534.41,489.12 534.88,489.11 535.36,489.11 535.84,489.1 536.32,489.1 536.79,489.09 537.27,489.08 537.75,489.08 538.22,489.07 538.7,489.07 539.18,489.06 539.65,489.05 540.13,489.05 540.61,489.04 541.09,489.03 541.56,489.03 542.04,489.02 542.52,489.01 542.99,489 543.47,489 543.95,488.99 544.42,488.98 544.9,488.97 545.38,488.97 545.86,488.96 546.33,488.95 546.65,488.95 546.81,488.94 547.29,488.93 547.76,488.92 548.24,488.91 548.72,488.9 549.19,488.88 549.67,488.86 550.15,488.85 550.62,488.83 551.1,488.81 551.58,488.79 552.06,488.76 552.53,488.74 553.01,488.71 553.49,488.69 553.96,488.66 554.44,488.63 554.92,488.61 555.39,488.58 555.87,488.55 556.35,488.52 556.83,488.49 557.3,488.45 557.78,488.42 558.26,488.39 558.73,488.36 559.21,488.33 559.69,488.29 560.16,488.26 560.64,488.23 561.12,488.19 561.6,488.16 562.07,488.13 562.55,488.09 563.03,488.06 563.5,488.03 563.98,487.99 564.46,487.96 564.94,487.93 565.41,487.9 565.89,487.87 566.37,487.83 566.84,487.8 567.32,487.76 567.8,487.72 568.27,487.69 568.75,487.64 569.23,487.6 569.71,487.56 570.18,487.51 570.66,487.46 571.14,487.41 571.61,487.36 572.09,487.3 572.57,487.24 573.04,487.17 573.52,487.1 574,487.03 574.48,486.95 574.95,486.87 575.43,486.77 575.91,486.65 576.38,486.52 576.86,486.37 577.34,486.2 577.81,486.01 578.29,485.8 578.77,485.57 579.25,485.31 579.72,485.02 580.04,484.82 580.2,484.68 580.68,483.97 581.15,483.01 581.63,482.07 582.11,481.41 582.43,481.26 582.58,481.3 583.06,481.76 583.54,482.38 584.01,482.69 584.49,482.34 584.97,481.4 585.45,480.04 585.92,478.42 586.4,476.7 586.88,475.06 587.35,473.64 587.83,472.62 588.31,472.17 588.39,472.15 588.79,472.43 589.26,473.36 589.74,474.68 590.22,476.14 590.69,477.47 591.17,478.42 591.65,479.09 592.12,479.74 592.6,480.3 593.08,480.69 593.56,480.84 594.03,480.83 594.51,480.82 594.99,480.8 595.46,480.79 595.94,480.76 596.42,480.74 596.89,480.72 597.37,480.71 597.85,480.7 598.33,480.69 598.8,480.7 599.28,480.73 599.76,480.78 600.23,480.83 600.71,480.88 601.19,480.92 601.66,480.96 602.14,480.98 602.3,480.98 602.62,480.97 603.1,480.9 603.57,480.79 604.05,480.64 604.53,480.45 605,480.23 605.48,479.99 605.96,479.72 606.43,479.44 606.91,479.15 607.39,478.85 607.87,478.56 608.34,478.27 608.82,477.99 609.3,477.73 609.77,477.49 610.25,477.28 610.73,477.07 611.2,476.85 611.68,476.63 612.16,476.39 612.63,476.16 613.11,475.92 613.59,475.7 614.07,475.48 614.54,475.28 615.02,475.09 615.5,474.93 615.97,474.79 616.45,474.68 616.93,474.61 617.4,474.58 617.56,474.57 617.88,474.59 618.36,474.65 618.84,474.75 619.31,474.9 619.79,475.09 620.27,475.3 620.74,475.55 621.22,475.82 621.7,476.1 622.18,476.4 622.65,476.7 623.13,477.01 623.61,477.31 624.08,477.61 624.56,477.9 625.04,478.17 625.51,478.41 625.99,478.63 626.15,478.7 626.47,478.83 626.95,479.02 627.42,479.21 627.9,479.39 628.38,479.57 628.85,479.74 629.33,479.91 629.81,480.08 630.28,480.25 630.76,480.41 631.24,480.58 631.72,480.74 632.19,480.9 632.67,481.06 633.15,481.22 633.62,481.39 634.1,481.55 634.58,481.7 635.05,481.86 635.53,482 636.01,482.15 636.49,482.29 636.96,482.43 637.44,482.57 637.92,482.71 638.39,482.85 638.87,482.99 639.35,483.14 639.82,483.29 640.3,483.45 640.78,483.62 641.25,483.79 641.73,483.98 642.05,484.11 642.21,484.18 642.69,484.4 643.16,484.65 643.64,484.91 644.12,485.2 644.59,485.49 645.07,485.8 645.55,486.1 646.03,486.4 646.5,486.69 646.98,486.97 647.46,487.22 647.93,487.46 648.41,487.67 648.89,487.86 649.36,488.06 649.84,488.26 650.32,488.45 650.8,488.62 651.27,488.76 651.75,488.87 652.23,488.94 652.38,488.95 652.7,488.96 653.18,488.98 653.66,489 654.13,489.02 654.61,489.04 655.09,489.06 655.57,489.08 656.04,489.1 656.52,489.11 657,489.13 657.47,489.15 657.95,489.16 658.43,489.18 658.9,489.19 659.38,489.2 659.86,489.21 660.34,489.23 660.81,489.24 661.29,489.25 661.77,489.26 662.24,489.27 662.72,489.28 663.2,489.29 663.67,489.3 664.15,489.3 664.63,489.31 665.11,489.32 665.58,489.32 666.06,489.33 666.54,489.34 667.01,489.34 667.49,489.35 667.97,489.35 668.44,489.35 668.92,489.36 669.4,489.36 669.88,489.36 670.35,489.37 670.83,489.37 671.31,489.37 671.78,489.37 672.26,489.37 672.74,489.37 673.21,489.37 673.69,489.37 673.85,489.37" fill="none" stroke="#111111" stroke-width="1.6" stroke-linejoin="round" stroke-linecap="round"/>
<polyline points="397.99,462.48 398.46,461.66 398.94,460.85 399.42,460.06 399.89,459.3 400.37,458.57 400.85,457.87 401.32,457.2 401.8,456.58 402.28,456 402.75,455.47 403.23,455 403.71,454.58 404.19,454.23 404.66,453.9 405.14,453.59 405.62,453.28 406.09,452.98 406.57,452.69 407.05,452.41 407.53,452.15 408,451.91 408.48,451.69 408.96,451.49 409.43,451.32 409.91,451.18 410.39,451.07 410.86,451 411.34,450.96 411.58,450.95 411.82,450.96 412.3,451 412.77,451.08 413.25,451.19 413.73,451.33 414.2,451.5 414.68,451.7 415.16,451.92 415.63,452.15 416.11,452.4 416.59,452.67 416.83,452.8 417.06,452.96 417.54,453.36 418.02,453.87 418.5,454.47 418.97,455.11 419.45,455.79 419.85,456.36 419.93,456.48 420.4,457.43 420.88,458.51 421.36,459.3 421.68,459.49 421.84,459.44 422.31,458.78 422.79,457.71 423.27,456.64 423.43,456.36 423.74,455.81 424.22,454.92 424.7,454.06 425.17,453.4 425.65,453.09 425.73,453.09 426.13,453.16 426.61,453.41 427.08,453.8 427.56,454.31 428.04,454.9 428.51,455.52 428.99,456.16 429.47,456.77 429.94,457.31 430.42,457.75 430.9,458.07 431.38,458.28 431.85,458.46 432.33,458.62 432.81,458.75 433.28,458.87 433.76,458.97 434.24,459.08 434.71,459.18 435.19,459.3 435.67,459.43 436.15,459.58 436.62,459.75 437.1,459.96 437.58,460.2 438.05,460.56 438.53,461.07 439.01,461.7 439.48,462.41 439.96,463.16 440.44,463.92 440.52,464.04 440.92,464.71 441.39,465.62 441.87,466.61 442.35,467.64 442.82,468.67 443.3,469.68 443.78,470.61 444.25,471.44 444.73,472.2 445.21,472.92 445.69,473.6 446.16,474.25 446.64,474.85 447.12,475.4 447.28,475.57 447.59,475.92 448.07,476.48 448.55,477.03 449.02,477.52 449.5,477.89 449.98,478.1 450.22,478.13 450.46,478.05 450.93,477.46 451.41,476.46 451.89,475.22 452.36,473.92 452.84,472.74 453.32,471.86 453.79,471.45 453.87,471.44 454.27,471.6 454.75,472.14 455.23,472.95 455.7,473.9 456.18,474.87 456.66,475.75 457.13,476.4 457.61,476.71 458.09,476.8 458.56,476.89 459.04,476.96 459.52,477.04 460,477.1 460.47,477.16 460.95,477.21 461.43,477.26 461.9,477.3 462.38,477.33 462.86,477.36 463.33,477.39 463.81,477.4 464.29,477.41 464.77,477.42 465,477.42 465.24,477.38 465.72,477.06 466.2,476.53 466.67,475.86 467.15,475.16 467.63,474.5 467.95,474.15 468.1,473.98 468.58,473.44 469.06,472.88 469.54,472.33 470.01,471.88 470.49,471.56 470.97,471.44 471.44,471.7 471.92,472.36 472.4,473.22 472.87,474.09 473.35,474.8 473.83,475.14 473.91,475.14 474.31,474.15 474.78,472.26 475.26,469.72 475.74,466.7 475.9,465.61 476.21,462.93 476.69,458.01 477.09,454.23 477.17,453.55 477.64,449.09 478.12,445.95 478.28,445.69 478.6,446.2 479.08,448.35 479.55,451.15 479.87,452.8 480.03,453.57 480.51,456.26 480.98,459.07 481.46,461.34 481.94,462.45 482.02,462.48 482.41,461.06 482.89,456.61 483.37,450.83 483.69,447.11 483.85,445.21 484.32,438.44 484.8,432.88 485.28,429.17 485.75,426.41 486.07,425.76 486.23,426.07 486.71,429.81 487.18,435.68 487.42,438.57 487.66,441.5 488.14,448.34 488.62,455.64 489.01,461.34 489.09,462.42 489.57,469.31 490.05,475.88 490.52,480.72 490.6,481.26 491,483.68 491.48,486.01 491.95,486.95 492.43,486.83 492.91,486.53 493.38,486.15 493.86,485.79 494.34,485.56 494.58,485.53 494.82,485.71 495.29,486.79 495.77,488.08 496.17,488.66 496.25,488.69 496.72,488.86 497.2,488.98 497.68,489.06 498.16,489.09 498.63,489.09 499.11,489.09 499.59,489.08 500.06,489.08 500.54,489.08 501.02,489.08 501.49,489.07 501.97,489.07 502.45,489.06 502.93,489.06 503.4,489.05 503.88,489.04 504.36,489.04 504.83,489.03 505.31,489.02 505.79,489.02 506.26,489.01 506.74,489.01 506.9,489 507.22,489 507.7,488.99 508.17,488.99 508.65,488.98 509.13,488.97 509.6,488.96 510.08,488.95 510.56,488.95 511.03,488.94 511.51,488.93 511.99,488.92 512.47,488.91 512.94,488.9 513.42,488.89 513.9,488.88 514.37,488.87 514.85,488.86 515.33,488.85 515.8,488.84 516.28,488.83 516.76,488.82 517.24,488.81 517.71,488.8 518.19,488.79 518.67,488.78 518.83,488.78 519.14,488.77 519.62,488.76 520.1,488.75 520.57,488.74 521.05,488.73 521.53,488.72 522,488.7 522.48,488.69 522.96,488.68 523.44,488.67 523.91,488.66 524.39,488.65 524.87,488.64 525.34,488.62 525.82,488.61 526.3,488.6 526.78,488.59 527.25,488.58 527.73,488.57 528.21,488.55 528.68,488.54 529.16,488.53 529.64,488.52 530.11,488.51 530.59,488.49 530.75,488.49 531.07,488.48 531.55,488.47 532.02,488.46 532.5,488.45 532.98,488.44 533.45,488.42 533.93,488.41 534.41,488.4 534.88,488.39 535.36,488.38 535.84,488.37 536.32,488.35 536.79,488.34 537.27,488.33 537.75,488.32 538.22,488.31 538.7,488.29 539.18,488.28 539.65,488.27 540.13,488.26 540.61,488.25 541.09,488.23 541.56,488.22 542.04,488.21 542.52,488.2 542.67,488.19 542.99,488.18 543.47,488.17 543.95,488.16 544.42,488.15 544.9,488.13 545.38,488.12 545.86,488.11 546.33,488.1 546.81,488.08 547.29,488.07 547.76,488.06 548.24,488.05 548.72,488.03 549.19,488.02 549.67,488.01 550.15,487.99 550.62,487.98 551.1,487.97 551.58,487.95 552.06,487.94 552.53,487.92 552.61,487.92 553.01,487.91 553.49,487.9 553.96,487.88 554.44,487.87 554.92,487.85 555.39,487.84 555.87,487.82 556.35,487.81 556.83,487.79 557.3,487.78 557.78,487.76 558.26,487.75 558.73,487.73 559.21,487.71 559.69,487.7 560.16,487.68 560.56,487.67 560.64,487.66 561.12,487.64 561.6,487.63 562.07,487.61 562.55,487.59 563.03,487.57 563.5,487.55 563.98,487.53 564.46,487.52 564.94,487.5 565.41,487.47 565.89,487.45 566.37,487.43 566.84,487.41 567.32,487.39 567.8,487.37 568.27,487.34 568.75,487.32 568.91,487.31 569.23,487.29 569.71,487.27 570.18,487.25 570.66,487.23 571.14,487.21 571.61,487.18 572.09,487.16 572.57,487.13 573.04,487.09 573.52,487.05 574,487.01 574.48,486.95 574.95,486.87 575.43,486.72 575.91,486.52 576.38,486.28 576.86,485.99 577.34,485.67 577.81,485.32 578.29,484.95 578.45,484.82 578.77,484.52 579.25,483.93 579.72,483.2 580.2,482.39 580.68,481.53 581.15,480.67 581.63,479.84 582.11,479.01 582.58,478.15 583.06,477.26 583.54,476.37 584.01,475.5 584.49,474.67 584.81,474.15 584.97,473.89 585.45,473.13 585.92,472.37 586.4,471.62 586.88,470.9 587.35,470.21 587.83,469.57 588.31,468.98 588.79,468.45 589.26,468.01 589.74,467.63 590.22,467.29 590.69,466.98 591.17,466.66 591.65,466.31 592.12,465.9 592.6,465.41 592.68,465.32 593.08,464.81 593.56,464.06 594.03,463.19 594.51,462.21 594.99,461.16 595.46,460.06 595.94,458.92 596.18,458.35 596.42,457.76 596.89,456.45 597.37,455.03 597.85,453.53 598.33,452 598.8,450.47 599.28,448.99 599.68,447.82 599.76,447.6 600.23,446.32 600.71,445.13 601.19,443.97 601.66,442.79 602.14,441.56 602.62,440.21 603.1,438.72 603.17,438.45 603.57,437.01 604.05,435.1 604.53,433 605,430.75 605.48,428.37 605.96,425.89 606.43,423.33 606.67,422.04 606.91,420.71 607.39,417.83 607.87,414.75 608.34,411.54 608.82,408.27 609.3,405.03 609.77,401.88 610.17,399.39 610.25,398.9 610.73,395.95 611.2,392.97 611.68,390.03 612.16,387.2 612.63,384.54 613.11,382.1 613.43,380.64 613.59,379.94 614.07,377.88 614.54,375.95 615.02,374.22 615.5,372.79 615.82,372.04 615.97,371.71 616.45,370.75 616.93,370 617.4,369.7 617.88,369.91 618.36,370.44 618.84,371.16 619.31,371.94 619.79,372.65 620.27,373.26 620.74,373.87 621.22,374.49 621.7,375.12 622.18,375.77 622.65,376.45 623.13,377.18 623.61,377.96 624.08,378.77 624.56,379.62 625.04,380.52 625.51,381.5 625.99,382.56 626.47,383.73 626.95,385.03 627.42,386.6 627.9,388.5 628.38,390.64 628.85,392.95 629.33,395.33 629.81,397.71 630.28,400 630.36,400.37 630.76,402.19 631.24,404.37 631.72,406.55 632.19,408.74 632.67,410.93 633.15,413.13 633.62,415.34 634.1,417.57 634.58,419.81 635.05,422.08 635.53,424.37 636.01,426.69 636.49,429.04 636.96,431.42 637.12,432.22 637.44,433.86 637.92,436.39 638.39,439.01 638.87,441.68 639.35,444.38 639.82,447.08 640.3,449.76 640.78,452.39 641.25,454.95 641.73,457.4 642.13,459.35 642.21,459.74 642.69,462.05 643.16,464.39 643.64,466.73 644.12,469.04 644.59,471.28 645.07,473.43 645.55,475.46 646.03,477.34 646.5,479.04 646.98,480.52 647.22,481.18 647.46,481.8 647.93,483 648.41,484.1 648.89,485.06 649.36,485.81 649.76,486.25 649.84,486.32 650.32,486.71 650.8,487.06 651.27,487.35 651.75,487.56 652.23,487.66 652.38,487.67 652.7,487.67 653.18,487.67 653.66,487.67 654.13,487.67 654.61,487.67 655.09,487.67 655.57,487.67 656.04,487.67 656.52,487.67 657,487.67 657.47,487.67 657.95,487.67 658.43,487.67 658.9,487.67 659.38,487.67 659.86,487.67 660.34,487.67 660.81,487.67 661.29,487.67 661.77,487.67 661.92,487.67 662.24,487.67 662.72,487.67 663.2,487.67 663.67,487.67 664.15,487.67 664.63,487.67 665.11,487.67 665.58,487.67 666.06,487.67 666.54,487.67 667.01,487.67 667.49,487.67 667.97,487.67 668.44,487.67 668.92,487.67 669.4,487.67 669.88,487.67 670.35,487.67 670.83,487.67 671.31,487.67 671.78,487.67 672.26,487.67 672.74,487.67 673.21,487.67 673.69,487.67 673.85,487.67" fill="none" stroke="#f51b1b" stroke-width="1.9" stroke-linejoin="round" stroke-linecap="round"/>
<polyline points="397.51,489.8 397.99,460.2 398.46,460.21 398.94,460.23 399.42,460.27 399.89,460.31 400.37,460.37 400.85,460.44 401.32,460.51 401.8,460.59 402.28,460.68 402.75,460.77 403.23,460.86 403.71,460.96 404.19,461.06 404.66,461.16 405.14,461.28 405.62,461.4 406.09,461.55 406.57,461.7 407.05,461.87 407.53,462.05 408,462.24 408.48,462.45 408.96,462.66 409.43,462.89 409.91,463.13 410.39,463.37 410.86,463.63 411.34,463.9 411.58,464.04 411.82,464.19 412.3,464.53 412.77,464.92 413.25,465.37 413.73,465.85 414.2,466.36 414.68,466.91 415.16,467.47 415.63,468.06 416.11,468.65 416.59,469.25 417.06,469.84 417.54,470.43 418.02,471 418.5,471.55 418.97,472.07 419.05,472.15 419.45,472.59 419.93,473.14 420.4,473.73 420.88,474.33 421.36,474.94 421.84,475.56 422.31,476.16 422.79,476.75 423.27,477.32 423.74,477.84 424.22,478.32 424.7,478.75 425.17,479.11 425.65,479.4 426.13,479.61 426.45,479.7 426.61,479.73 427.08,479.82 427.56,479.91 428.04,480 428.51,480.08 428.99,480.15 429.47,480.21 429.94,480.27 430.42,480.32 430.9,480.35 431.38,480.38 431.85,480.4 432.33,480.41 432.41,480.41 432.81,480.04 433.28,478.84 433.76,477.16 434.24,475.39 434.71,473.9 435.19,473.07 435.35,473.01 435.67,473.08 436.15,473.39 436.62,473.86 437.1,474.38 437.58,474.83 438.05,475.1 438.29,475.14 438.53,475.09 439.01,474.72 439.48,474.11 439.96,473.42 440.44,472.76 440.92,472.3 441.31,472.15 441.39,472.15 441.87,472.15 442.35,472.15 442.82,472.15 443.3,472.15 443.78,472.15 444.17,472.15 444.25,472.15 444.73,472.28 445.21,472.56 445.69,472.97 446.16,473.46 446.64,474.01 447.12,474.57 447.28,474.76 447.59,475.23 448.07,476.22 448.55,477.39 449.02,478.52 449.5,479.44 449.98,479.93 450.14,479.97 450.46,479.79 450.93,478.97 451.41,477.71 451.89,476.29 452.36,474.95 452.44,474.76 452.84,473.62 453.32,472.04 453.79,470.67 454.27,469.97 454.35,469.95 454.75,470.42 455.23,471.81 455.7,473.43 456.18,474.58 456.42,474.76 456.66,474.75 457.13,474.68 457.61,474.57 458.09,474.42 458.56,474.27 459.04,474.12 459.2,474.07 459.52,473.99 460,473.87 460.47,473.77 460.95,473.67 461.43,473.57 461.9,473.46 462.38,473.33 462.86,473.2 463.33,473.03 463.81,472.84 464.29,472.62 464.77,472.35 465.08,472.15 465.24,471.96 465.72,470.65 466.2,468.74 466.67,466.89 467.15,465.79 467.31,465.7 467.63,465.96 468.1,467.1 468.58,468.63 469.06,470.03 469.54,470.76 469.61,470.78 470.01,470.42 470.49,469.32 470.97,467.98 471.44,466.88 471.84,466.52 471.92,466.55 472.4,467.64 472.87,469.71 473.35,471.92 473.83,473.43 474.07,473.66 474.31,473.38 474.78,471.44 475.26,468.21 475.74,464.41 475.9,463.13 476.21,459.88 476.69,453.65 477.09,449.1 477.17,448.36 477.64,443.67 478.12,439.83 478.52,438.57 478.6,438.63 479.08,440.93 479.55,444.83 479.87,447.11 480.03,448.08 480.51,451.36 480.98,454.73 481.46,457.63 481.94,459.51 482.25,459.92 482.41,459.54 482.89,454.93 483.37,447.76 483.69,443.27 483.85,441.12 484.32,433.87 484.8,428.47 485.28,425.47 485.75,423.39 486.07,422.92 486.23,423.24 486.71,427.15 487.18,433.29 487.42,436.3 487.66,439.33 488.14,446.39 488.62,453.88 489.01,459.7 489.09,460.8 489.57,467.83 490.05,474.5 490.52,479.27 490.6,479.77 491,481.87 491.48,483.8 491.95,484.82 492.43,485.22 492.91,485.48 493.23,485.53 493.38,485.42 493.86,484.23 494.34,482.92 494.58,482.69 494.82,483 495.29,484.84 495.77,486.67 495.93,486.95 496.25,487.23 496.72,487.58 497.2,487.83 497.68,488 498.16,488.09 498.63,488.14 499.11,488.18 499.59,488.22 500.06,488.25 500.54,488.28 501.02,488.31 501.49,488.34 501.97,488.36 502.45,488.39 502.93,488.4 503.4,488.42 503.88,488.43 504.36,488.45 504.83,488.46 505.31,488.46 505.79,488.47 506.26,488.47 506.74,488.47 506.9,488.47 507.22,488.47 507.7,488.47 508.17,488.46 508.65,488.45 509.13,488.44 509.6,488.43 510.08,488.41 510.56,488.4 511.03,488.38 511.51,488.36 511.99,488.34 512.47,488.31 512.94,488.29 513.42,488.26 513.9,488.24 514.37,488.21 514.85,488.19 515.33,488.16 515.8,488.13 516.28,488.11 516.76,488.08 517.24,488.05 517.71,488.03 518.19,488 518.67,487.98 518.83,487.97 519.14,487.96 519.62,487.94 520.1,487.91 520.57,487.89 521.05,487.87 521.53,487.84 522,487.82 522.48,487.79 522.96,487.77 523.44,487.74 523.91,487.72 524.39,487.69 524.87,487.67 525.34,487.64 525.82,487.61 526.3,487.59 526.78,487.56 527.25,487.54 527.73,487.51 528.21,487.48 528.68,487.46 529.16,487.43 529.64,487.41 530.11,487.38 530.59,487.36 530.75,487.35 531.07,487.33 531.55,487.3 532.02,487.28 532.5,487.25 532.98,487.23 533.45,487.2 533.93,487.18 534.41,487.15 534.88,487.12 535.36,487.1 535.84,487.07 536.32,487.05 536.79,487.02 537.27,486.99 537.75,486.97 538.22,486.94 538.7,486.91 539.18,486.89 539.65,486.86 540.13,486.83 540.61,486.81 541.09,486.78 541.56,486.75 542.04,486.73 542.52,486.7 542.67,486.69 542.99,486.67 543.47,486.64 543.95,486.62 544.42,486.59 544.9,486.56 545.38,486.53 545.86,486.51 546.33,486.48 546.81,486.45 547.29,486.42 547.76,486.39 548.24,486.37 548.72,486.34 549.19,486.31 549.67,486.28 550.15,486.25 550.62,486.22 551.1,486.19 551.58,486.16 552.06,486.13 552.53,486.1 552.61,486.09 553.01,486.07 553.49,486.04 553.96,486.01 554.44,485.98 554.92,485.95 555.39,485.92 555.87,485.89 556.35,485.85 556.83,485.82 557.3,485.79 557.78,485.76 558.26,485.72 558.73,485.68 559.21,485.65 559.69,485.61 560.16,485.57 560.56,485.53 560.64,485.52 561.12,485.48 561.6,485.43 562.07,485.38 562.55,485.33 563.03,485.28 563.5,485.22 563.98,485.16 564.46,485.1 564.94,485.04 565.41,484.98 565.89,484.91 566.37,484.84 566.84,484.77 567.32,484.7 567.8,484.63 568.27,484.56 568.75,484.49 568.91,484.46 569.23,484.41 569.71,484.33 570.18,484.25 570.66,484.17 571.14,484.08 571.61,483.99 572.09,483.89 572.57,483.8 573.04,483.7 573.52,483.6 574,483.5 574.48,483.4 574.95,483.3 575.43,483.2 575.91,483.09 576.38,482.99 576.86,482.88 577.34,482.76 577.81,482.64 578.29,482.5 578.45,482.46 578.77,482.36 579.25,482.21 579.72,482.04 580.2,481.81 580.44,481.67 580.68,481.5 581.15,480.99 581.63,480.26 582.03,479.48 582.11,479.26 582.58,476.83 582.98,475.57 583.06,475.61 583.54,476.91 584.01,478.4 584.17,478.54 584.49,478.3 584.97,477.18 585.45,475.4 585.92,473.28 586.4,471.12 586.88,468.43 587.35,465.68 587.83,463.32 588.31,462.05 588.79,463.71 589.26,467.02 589.58,468.88 589.74,469.59 590.22,471.65 590.69,473.37 590.93,474 591.17,474.54 591.65,475.58 592.12,476.56 592.6,477.42 593.08,478.15 593.56,478.7 594.03,479.03 594.43,479.13 594.51,479.11 594.99,478.29 595.46,476.42 595.94,473.7 596.42,470.36 596.89,466.61 597.37,462.66 597.85,458.74 598.33,455.06 598.8,451.84 599.28,449.28 599.68,447.82 599.76,447.6 600.23,446.45 600.71,445.51 601.19,444.71 601.66,443.96 602.14,443.21 602.62,442.36 603.1,441.35 603.17,441.16 603.57,440.14 604.05,438.78 604.53,437.29 605,435.69 605.48,434 605.96,432.24 606.43,430.43 606.67,429.51 606.91,428.56 607.39,426.52 607.87,424.33 608.34,422.05 608.82,419.73 609.3,417.42 609.77,415.19 610.17,413.41 610.25,413.07 610.73,410.97 611.2,408.86 611.68,406.77 612.16,404.76 612.63,402.86 613.11,401.13 613.43,400.09 613.59,399.6 614.07,398.14 614.54,396.76 615.02,395.53 615.5,394.52 615.82,393.99 615.97,393.76 616.45,393.07 616.93,392.54 617.4,392.32 617.88,392.57 618.36,393.22 618.84,394.09 619.31,395.02 619.79,395.87 620.27,396.6 620.74,397.33 621.22,398.05 621.7,398.8 622.18,399.57 622.65,400.37 623.13,401.22 623.61,402.13 624.08,403.08 624.56,404.06 625.04,405.11 625.51,406.23 625.99,407.44 626.47,408.77 626.95,410.24 627.42,412 627.9,414.12 628.38,416.49 628.85,419.02 629.33,421.6 629.81,424.13 630.28,426.51 630.36,426.88 630.76,428.73 631.24,430.94 631.72,433.14 632.19,435.32 632.67,437.48 633.15,439.63 633.62,441.77 634.1,443.89 634.58,445.98 635.05,448.06 635.53,450.12 636.01,452.16 636.49,454.18 636.96,456.17 637.12,456.83 637.44,458.16 637.92,460.2 638.39,462.27 638.87,464.34 639.35,466.38 639.82,468.37 640.3,470.28 640.78,472.08 641.25,473.75 641.73,475.26 642.13,476.38 642.21,476.58 642.69,477.83 643.16,479.06 643.64,480.25 644.12,481.39 644.59,482.47 645.07,483.46 645.55,484.34 646.03,485.11 646.5,485.75 646.98,486.24 647.22,486.42 647.46,486.58 647.93,486.87 648.41,487.13 648.89,487.33 649.36,487.47 649.76,487.54 649.84,487.54 650.32,487.58 650.8,487.61 651.27,487.64 651.75,487.66 652.23,487.66 652.38,487.67 652.7,487.67 653.18,487.67 653.66,487.67 654.13,487.67 654.61,487.67 655.09,487.67 655.57,487.67 656.04,487.67 656.52,487.67 657,487.67 657.47,487.67 657.95,487.67 658.43,487.67 658.9,487.67 659.38,487.67 659.86,487.67 660.34,487.67 660.81,487.67 661.29,487.67 661.77,487.67 661.92,487.67 662.24,487.67 662.72,487.67 663.2,487.67 663.67,487.67 664.15,487.67 664.63,487.67 665.11,487.67 665.58,487.67 666.06,487.67 666.54,487.67 667.01,487.67 667.49,487.67 667.97,487.67 668.44,487.67 668.92,487.67 669.4,487.67 669.88,487.67 670.35,487.67 670.83,487.67 671.31,487.67 671.78,487.67 672.26,487.67 672.74,487.67 673.21,487.67 673.69,487.67 673.85,487.67" fill="none" stroke="#2222ee" stroke-width="1.9" stroke-linejoin="round" stroke-linecap="round"/>
<polyline points="397.51,489.8 397.99,475.57 398.46,475.57 398.94,475.57 399.42,475.57 399.89,475.57 400.37,475.57 400.85,475.57 401.32,475.57 401.8,475.57 402.28,475.57 402.75,475.57 403.23,475.57 403.71,475.57 404.19,475.57 404.66,475.58 405.14,475.62 405.62,475.69 406.09,475.77 406.57,475.87 407.05,476 407.53,476.14 408,476.29 408.48,476.46 408.96,476.63 409.43,476.82 409.91,477.01 410.39,477.2 410.86,477.4 411.34,477.6 411.58,477.7 411.82,477.81 412.3,478.05 412.77,478.34 413.25,478.66 413.73,479.01 414.2,479.38 414.68,479.77 415.16,480.18 415.63,480.59 416.11,481.02 416.59,481.43 417.06,481.85 417.54,482.25 418.02,482.64 418.5,483 418.97,483.34 419.05,483.4 419.45,483.67 419.93,484.02 420.4,484.39 420.88,484.77 421.36,485.15 421.84,485.52 422.31,485.89 422.79,486.25 423.27,486.58 423.74,486.89 424.22,487.16 424.7,487.4 425.17,487.58 425.65,487.72 426.13,487.79 426.45,487.81 426.61,487.81 427.08,487.79 427.56,487.76 428.04,487.71 428.51,487.65 428.99,487.56 429.47,487.46 429.94,487.34 430.42,487.2 430.9,487.03 431.38,486.85 431.85,486.65 432.33,486.42 432.41,486.38 432.81,485.74 433.28,484.04 433.76,481.69 434.24,479.1 434.71,476.69 435.19,474.85 435.35,474.43 435.67,473.76 436.15,472.87 436.62,472.11 437.1,471.44 437.58,470.81 438.05,470.19 438.29,469.88 438.53,469.55 439.01,468.83 439.48,468.09 439.96,467.36 440.44,466.7 440.92,466.16 441.39,465.78 441.87,465.61 441.95,465.61 442.35,465.97 442.82,467.09 443.3,468.56 443.78,469.95 444.17,470.73 444.25,470.83 444.73,471.35 445.21,471.75 445.69,472.09 446.16,472.42 446.64,472.79 447.12,473.25 447.28,473.44 447.59,473.92 448.07,474.95 448.55,476.16 449.02,477.34 449.5,478.29 449.98,478.8 450.14,478.84 450.46,478.66 450.93,477.8 451.41,476.5 451.89,475.02 452.36,473.64 452.44,473.44 452.84,472.26 453.32,470.62 453.79,469.19 454.27,468.47 454.35,468.45 454.75,468.94 455.23,470.38 455.7,472.06 456.18,473.25 456.42,473.44 456.66,473.43 457.13,473.36 457.61,473.24 458.09,473.09 458.56,472.93 459.04,472.77 459.2,472.72 459.52,472.64 460,472.52 460.47,472.41 460.95,472.31 461.43,472.2 461.9,472.09 462.38,471.96 462.86,471.82 463.33,471.65 463.81,471.45 464.29,471.22 464.77,470.94 465.08,470.73 465.24,470.54 465.72,469.18 466.2,467.2 466.67,465.28 467.15,464.13 467.31,464.04 467.63,464.32 468.1,465.49 468.58,467.08 469.06,468.54 469.54,469.29 469.61,469.31 470.01,468.94 470.49,467.8 470.97,466.41 471.44,465.27 471.84,464.9 471.92,464.93 472.4,466.05 472.87,468.2 473.35,470.5 473.83,472.06 474.07,472.3 474.31,471.99 474.78,469.8 475.26,466.18 475.74,461.9 475.9,460.47 476.21,456.82 476.69,449.82 477.09,444.71 477.17,443.87 477.64,438.6 478.12,434.29 478.52,432.88 478.6,432.95 479.08,435.56 479.55,439.97 479.87,442.56 480.03,443.66 480.51,447.37 480.98,451.19 481.46,454.48 481.94,456.61 482.25,457.07 482.41,456.61 482.89,450.93 483.37,442.11 483.69,436.58 483.85,433.94 484.32,425.02 484.8,418.37 485.28,414.68 485.75,412.11 486.07,411.53 486.23,411.91 486.71,416.49 487.18,423.67 487.42,427.19 487.66,430.74 488.14,439 488.62,447.77 489.01,454.58 489.09,455.86 489.57,464 490.05,471.72 490.52,477.42 490.6,478.06 491,480.85 491.48,483.49 491.95,484.82 492.43,485.23 492.91,485.48 493.23,485.53 493.38,485.37 493.86,483.58 494.34,481.61 494.58,481.26 494.82,481.7 495.29,484.19 495.77,486.62 495.93,486.95 496.25,487.24 496.72,487.61 497.2,487.87 497.68,488.04 498.16,488.09 498.63,488.09 499.11,488.09 499.59,488.08 500.06,488.07 500.54,488.07 501.02,488.05 501.49,488.04 501.97,488.03 502.45,488.01 502.93,488 503.4,487.98 503.88,487.97 504.36,487.95 504.83,487.93 505.31,487.91 505.79,487.89 506.26,487.88 506.74,487.86 506.9,487.85 507.22,487.84 507.7,487.82 508.17,487.8 508.65,487.78 509.13,487.76 509.6,487.74 510.08,487.72 510.56,487.69 511.03,487.67 511.51,487.64 511.99,487.62 512.47,487.59 512.94,487.57 513.42,487.54 513.9,487.51 514.37,487.48 514.85,487.45 515.33,487.43 515.8,487.4 516.28,487.37 516.76,487.34 517.24,487.31 517.71,487.28 518.19,487.25 518.67,487.23 518.83,487.22 519.14,487.2 519.62,487.17 520.1,487.14 520.57,487.11 521.05,487.08 521.53,487.05 522,487.02 522.48,486.99 522.96,486.95 523.44,486.92 523.91,486.89 524.39,486.86 524.87,486.83 525.34,486.79 525.82,486.76 526.3,486.73 526.78,486.69 527.25,486.66 527.73,486.63 528.21,486.59 528.68,486.56 529.16,486.53 529.64,486.5 530.11,486.46 530.59,486.43 530.75,486.42 531.07,486.4 531.55,486.36 532.02,486.33 532.5,486.3 532.98,486.27 533.45,486.23 533.93,486.2 534.41,486.17 534.88,486.13 535.36,486.1 535.84,486.07 536.32,486.04 536.79,486 537.27,485.97 537.75,485.94 538.22,485.9 538.7,485.87 539.18,485.83 539.65,485.8 540.13,485.77 540.61,485.73 541.09,485.7 541.56,485.66 542.04,485.63 542.52,485.59 542.67,485.58 542.99,485.56 543.47,485.52 543.95,485.49 544.42,485.45 544.9,485.42 545.38,485.38 545.86,485.35 546.33,485.31 546.81,485.28 547.29,485.24 547.76,485.21 548.24,485.17 548.72,485.13 549.19,485.1 549.67,485.06 550.15,485.02 550.62,484.99 551.1,484.95 551.58,484.91 552.06,484.87 552.53,484.83 552.61,484.83 553.01,484.79 553.49,484.76 553.96,484.72 554.44,484.68 554.92,484.65 555.39,484.61 555.87,484.57 556.35,484.54 556.83,484.5 557.3,484.46 557.78,484.41 558.26,484.37 558.73,484.32 559.21,484.27 559.69,484.22 560.16,484.16 560.56,484.11 560.64,484.1 561.12,484.03 561.6,483.95 562.07,483.86 562.55,483.76 563.03,483.66 563.5,483.54 563.98,483.43 564.46,483.3 564.94,483.17 565.41,483.04 565.89,482.9 566.37,482.76 566.84,482.61 567.32,482.47 567.8,482.32 568.27,482.17 568.75,482.02 568.91,481.97 569.23,481.87 569.71,481.71 570.18,481.54 570.66,481.36 571.14,481.18 571.61,480.99 572.09,480.8 572.57,480.6 573.04,480.41 573.52,480.22 574,480.03 574.48,479.84 574.95,479.66 575.43,479.49 575.91,479.32 576.38,479.15 576.86,478.98 577.34,478.8 577.81,478.6 578.29,478.38 578.45,478.3 578.77,478.15 579.25,477.9 579.72,477.62 580.2,477.25 580.44,477.02 580.68,476.73 581.15,475.9 581.63,474.71 582.03,473.44 582.11,473.07 582.58,469.1 582.98,467.03 583.06,467.09 583.54,469.22 584.01,471.66 584.17,471.9 584.49,471.64 584.97,470.43 585.45,468.53 585.92,466.26 586.4,463.95 586.88,461.06 587.35,458.11 587.83,455.59 588.31,454.23 588.79,455.61 589.26,458.36 589.58,459.92 589.74,460.51 590.22,462.23 590.69,463.66 590.93,464.19 591.17,464.63 591.65,465.5 592.12,466.31 592.6,467.03 593.08,467.64 593.56,468.1 594.03,468.38 594.43,468.45 594.51,468.44 594.99,467.93 595.46,466.76 595.94,465.04 596.42,462.92 596.89,460.53 597.37,457.98 597.85,455.43 598.33,452.98 598.8,450.79 599.28,448.96 599.68,447.82 599.76,447.64 600.23,446.64 600.71,445.8 601.19,445.05 601.66,444.34 602.14,443.62 602.62,442.81 603.1,441.87 603.17,441.69 603.57,440.75 604.05,439.5 604.53,438.13 605,436.66 605.48,435.1 605.96,433.48 606.43,431.81 606.67,430.96 606.91,430.09 607.39,428.21 607.87,426.2 608.34,424.1 608.82,421.96 609.3,419.84 609.77,417.78 610.17,416.15 610.25,415.83 610.73,413.9 611.2,411.95 611.68,410.03 612.16,408.18 612.63,406.44 613.11,404.85 613.43,403.89 613.59,403.43 614.07,402.09 614.54,400.82 615.02,399.69 615.5,398.75 615.82,398.27 615.97,398.05 616.45,397.42 616.93,396.93 617.4,396.74 617.88,396.99 618.36,397.63 618.84,398.5 619.31,399.45 619.79,400.29 620.27,401.03 620.74,401.75 621.22,402.48 621.7,403.23 622.18,404 622.65,404.8 623.13,405.65 623.61,406.56 624.08,407.5 624.56,408.49 625.04,409.53 625.51,410.64 625.99,411.85 626.47,413.18 626.95,414.64 627.42,416.38 627.9,418.47 628.38,420.82 628.85,423.32 629.33,425.86 629.81,428.34 630.28,430.66 630.36,431.03 630.76,432.82 631.24,434.97 631.72,437.1 632.19,439.22 632.67,441.31 633.15,443.39 633.62,445.45 634.1,447.48 634.58,449.5 635.05,451.48 635.53,453.44 636.01,455.37 636.49,457.27 636.96,459.14 637.12,459.75 637.44,460.99 637.92,462.89 638.39,464.81 638.87,466.72 639.35,468.6 639.82,470.42 640.3,472.16 640.78,473.79 641.25,475.29 641.73,476.63 642.13,477.6 642.21,477.78 642.69,478.85 643.16,479.91 643.64,480.93 644.12,481.9 644.59,482.8 645.07,483.63 645.55,484.38 646.03,485.01 646.5,485.53 646.98,485.91 647.22,486.05 647.46,486.17 647.93,486.39 648.41,486.58 648.89,486.73 649.36,486.83 649.76,486.87 649.84,486.88 650.32,486.9 650.8,486.92 651.27,486.94 651.75,486.95 652.23,486.95 652.38,486.95 652.7,486.95 653.18,486.95 653.66,486.95 654.13,486.95 654.61,486.95 655.09,486.95 655.57,486.95 656.04,486.95 656.52,486.95 657,486.95 657.47,486.95 657.95,486.95 658.43,486.95 658.9,486.95 659.38,486.95 659.86,486.95 660.34,486.95 660.81,486.95 661.29,486.95 661.77,486.95 661.92,486.95 662.24,486.95 662.72,486.95 663.2,486.95 663.67,486.95 664.15,486.95 664.63,486.95 665.11,486.95 665.58,486.95 666.06,486.95 666.54,486.95 667.01,486.95 667.49,486.95 667.97,486.95 668.44,486.95 668.92,486.95 669.4,486.95 669.88,486.95 670.35,486.95 670.83,486.95 671.31,486.95 671.78,486.95 672.26,486.95 672.74,486.95 673.21,486.95 673.69,486.95 673.85,486.95" fill="none" stroke="#138585" stroke-width="1.9" stroke-linejoin="round" stroke-linecap="round"/>
<polyline points="397.51,489.8 397.99,474.43 398.46,474.35 398.94,474.27 399.42,474.21 399.89,474.16 400.37,474.12 400.85,474.08 401.32,474.06 401.8,474.04 402.28,474.02 402.75,474.01 403.23,474.01 403.71,474.01 404.19,474 404.66,474.02 405.14,474.07 405.62,474.16 406.09,474.27 406.57,474.41 407.05,474.57 407.53,474.75 408,474.94 408.48,475.16 408.96,475.38 409.43,475.61 409.91,475.86 410.39,476.1 410.86,476.34 411.34,476.59 411.58,476.71 411.82,476.83 412.3,477.11 412.77,477.43 413.25,477.78 413.73,478.15 414.2,478.55 414.68,478.96 415.16,479.38 415.63,479.82 416.11,480.25 416.59,480.68 417.06,481.1 417.54,481.52 418.02,481.91 418.5,482.28 418.97,482.63 419.05,482.69 419.45,482.97 419.93,483.32 420.4,483.69 420.88,484.07 421.36,484.45 421.84,484.83 422.31,485.2 422.79,485.55 423.27,485.88 423.74,486.19 424.22,486.46 424.7,486.69 425.17,486.87 425.65,487.01 426.13,487.08 426.45,487.1 426.61,487.1 427.08,487.08 427.56,487.05 428.04,487 428.51,486.94 428.99,486.85 429.47,486.75 429.94,486.63 430.42,486.48 430.9,486.32 431.38,486.14 431.85,485.94 432.33,485.71 432.41,485.67 432.81,485.03 433.28,483.33 433.76,480.98 434.24,478.39 434.71,475.98 435.19,474.14 435.35,473.72 435.67,473 436.15,471.95 436.62,470.98 437.1,470.16 437.58,469.55 438.05,469.21 438.29,469.17 438.53,469.19 439.01,469.34 439.48,469.61 439.96,469.93 440.44,470.26 440.92,470.55 441.31,470.73 441.39,470.76 441.87,470.91 442.35,471.02 442.82,471.12 443.3,471.21 443.78,471.29 444.25,471.36 444.73,471.45 445.21,471.54 445.69,471.65 446.16,471.78 446.64,471.94 447.12,472.14 447.28,472.22 447.59,472.54 448.07,473.51 448.55,474.82 449.02,476.19 449.5,477.33 449.98,477.96 450.14,478.01 450.46,477.81 450.93,476.89 451.41,475.5 451.89,473.91 452.36,472.43 452.44,472.22 452.84,470.96 453.32,469.2 453.79,467.67 454.27,466.9 454.35,466.88 454.75,467.4 455.23,468.94 455.7,470.74 456.18,472.02 456.42,472.22 456.66,472.21 457.13,472.13 457.61,472.01 458.09,471.84 458.56,471.67 459.04,471.5 459.2,471.45 459.52,471.36 460,471.23 460.47,471.12 460.95,471.01 461.43,470.89 461.9,470.77 462.38,470.64 462.86,470.48 463.33,470.3 463.81,470.09 464.29,469.84 464.77,469.54 465.08,469.32 465.24,469.11 465.72,467.66 466.2,465.53 466.67,463.48 467.15,462.25 467.31,462.15 467.63,462.45 468.1,463.7 468.58,465.41 469.06,466.97 469.54,467.77 469.61,467.79 470.01,467.4 470.49,466.18 470.97,464.68 471.44,463.47 471.84,463.07 471.92,463.1 472.4,464.31 472.87,466.61 473.35,469.07 473.83,470.74 474.07,471 474.31,470.66 474.78,468.28 475.26,464.35 475.74,459.71 475.9,458.15 476.21,454.19 476.69,446.58 477.09,441.03 477.17,440.12 477.64,434.4 478.12,429.72 478.52,428.18 478.6,428.26 479.08,431.22 479.55,436.23 479.87,439.17 480.03,440.42 480.51,444.63 480.98,448.97 481.46,452.71 481.94,455.12 482.25,455.65 482.41,455.14 482.89,448.88 483.37,439.15 483.69,433.04 483.85,430.13 484.32,420.29 484.8,412.95 485.28,408.89 485.75,406.06 486.07,405.42 486.23,405.82 486.71,410.76 487.18,418.5 487.42,422.29 487.66,426.13 488.14,435.03 488.62,444.49 489.01,451.83 489.09,453.21 489.57,461.94 490.05,470.24 490.52,476.43 490.6,477.14 491,480.3 491.48,483.32 491.95,484.82 492.43,485.23 492.91,485.48 493.23,485.53 493.38,485.31 493.86,482.94 494.34,480.31 494.58,479.84 494.82,480.39 495.29,483.53 495.77,486.56 495.93,486.95 496.25,487.25 496.72,487.61 497.2,487.88 497.68,488.04 498.16,488.09 498.63,488.09 499.11,488.08 499.59,488.06 500.06,488.03 500.54,488 501.02,487.96 501.49,487.92 501.97,487.88 502.45,487.83 502.93,487.78 503.4,487.73 503.88,487.68 504.36,487.63 504.83,487.59 505.31,487.54 505.79,487.5 506.26,487.46 506.74,487.42 506.9,487.41 507.22,487.39 507.7,487.36 508.17,487.33 508.65,487.3 509.13,487.27 509.6,487.24 510.08,487.22 510.56,487.19 511.03,487.16 511.51,487.14 511.99,487.11 512.47,487.08 512.94,487.06 513.42,487.03 513.9,487.01 514.37,486.98 514.85,486.96 515.33,486.93 515.8,486.9 516.28,486.88 516.76,486.85 517.24,486.82 517.71,486.8 518.19,486.77 518.67,486.74 518.83,486.73 519.14,486.71 519.62,486.67 520.1,486.64 520.57,486.61 521.05,486.58 521.53,486.55 522,486.51 522.48,486.48 522.96,486.45 523.44,486.41 523.91,486.38 524.39,486.34 524.87,486.31 525.34,486.27 525.82,486.24 526.3,486.2 526.78,486.17 527.25,486.13 527.73,486.1 528.21,486.06 528.68,486.03 529.16,485.99 529.64,485.95 530.11,485.92 530.59,485.88 530.75,485.87 531.07,485.85 531.55,485.81 532.02,485.78 532.5,485.74 532.98,485.71 533.45,485.67 533.93,485.64 534.41,485.6 534.88,485.57 535.36,485.53 535.84,485.5 536.32,485.46 536.79,485.43 537.27,485.39 537.75,485.35 538.22,485.32 538.7,485.28 539.18,485.25 539.65,485.21 540.13,485.17 540.61,485.14 541.09,485.1 541.56,485.06 542.04,485.03 542.52,484.99 542.67,484.98 542.99,484.95 543.47,484.91 543.95,484.88 544.42,484.84 544.9,484.8 545.38,484.76 545.86,484.73 546.33,484.69 546.81,484.65 547.29,484.61 547.76,484.57 548.24,484.54 548.72,484.5 549.19,484.46 549.67,484.42 550.15,484.38 550.62,484.34 551.1,484.3 551.58,484.26 552.06,484.21 552.53,484.17 552.61,484.16 553.01,484.13 553.49,484.09 553.96,484.05 554.44,484.01 554.92,483.97 555.39,483.94 555.87,483.9 556.35,483.86 556.83,483.82 557.3,483.77 557.78,483.73 558.26,483.68 558.73,483.63 559.21,483.57 559.69,483.52 560.16,483.45 560.56,483.4 560.64,483.38 561.12,483.31 561.6,483.22 562.07,483.12 562.55,483 563.03,482.88 563.5,482.75 563.98,482.61 564.46,482.47 564.94,482.31 565.41,482.16 565.89,481.99 566.37,481.83 566.84,481.66 567.32,481.49 567.8,481.31 568.27,481.14 568.75,480.96 568.91,480.91 569.23,480.79 569.71,480.6 570.18,480.41 570.66,480.21 571.14,480 571.61,479.78 572.09,479.56 572.57,479.33 573.04,479.11 573.52,478.88 574,478.65 574.48,478.42 574.95,478.19 575.43,477.97 575.91,477.75 576.38,477.52 576.86,477.28 577.34,477.03 577.81,476.76 578.29,476.47 578.45,476.37 578.77,476.16 579.25,475.84 579.72,475.45 580.2,474.96 580.44,474.66 580.68,474.28 581.15,473.16 581.63,471.57 582.03,469.88 582.11,469.4 582.58,464.1 582.98,461.34 583.06,461.42 583.54,464.26 584.01,467.51 584.17,467.83 584.49,467.55 584.97,466.23 585.45,464.15 585.92,461.67 586.4,459.15 586.88,455.99 587.35,452.78 587.83,450.02 588.31,448.53 588.79,449.92 589.26,452.67 589.58,454.23 589.74,454.82 590.22,456.53 590.69,457.97 590.93,458.49 591.17,458.94 591.65,459.81 592.12,460.62 592.6,461.34 593.08,461.95 593.56,462.4 594.03,462.69 594.43,462.76 594.51,462.76 594.99,462.4 595.46,461.58 595.94,460.38 596.42,458.89 596.89,457.2 597.37,455.39 597.85,453.55 598.33,451.77 598.8,450.14 599.28,448.74 599.68,447.82 599.76,447.67 600.23,446.81 600.71,446.07 601.19,445.39 601.66,444.73 602.14,444.06 602.62,443.31 603.1,442.45 603.17,442.29 603.57,441.44 604.05,440.31 604.53,439.07 605,437.74 605.48,436.34 605.96,434.88 606.43,433.37 606.67,432.61 606.91,431.82 607.39,430.12 607.87,428.3 608.34,426.41 608.82,424.48 609.3,422.57 609.77,420.71 610.17,419.24 610.25,418.95 610.73,417.21 611.2,415.45 611.68,413.72 612.16,412.05 612.63,410.47 613.11,409.04 613.43,408.17 613.59,407.76 614.07,406.55 614.54,405.4 615.02,404.38 615.5,403.54 615.82,403.1 615.97,402.91 616.45,402.34 616.93,401.89 617.4,401.72 617.88,401.97 618.36,402.61 618.84,403.49 619.31,404.43 619.79,405.28 620.27,406.02 620.74,406.74 621.22,407.48 621.7,408.22 622.18,408.99 622.65,409.79 623.13,410.64 623.61,411.54 624.08,412.48 624.56,413.46 625.04,414.5 625.51,415.6 625.99,416.8 626.47,418.12 626.95,419.56 627.42,421.28 627.9,423.35 628.38,425.66 628.85,428.12 629.33,430.61 629.81,433.03 630.28,435.29 630.36,435.64 630.76,437.38 631.24,439.46 631.72,441.52 632.19,443.55 632.67,445.57 633.15,447.57 633.62,449.54 634.1,451.48 634.58,453.39 635.05,455.27 635.53,457.12 636.01,458.93 636.49,460.71 636.96,462.44 637.12,463.01 637.44,464.15 637.92,465.89 638.39,467.65 638.87,469.4 639.35,471.1 639.82,472.75 640.3,474.32 640.78,475.77 641.25,477.09 641.73,478.25 642.13,479.09 642.21,479.24 642.69,480.15 643.16,481.03 643.64,481.88 644.12,482.69 644.59,483.44 645.07,484.12 645.55,484.72 646.03,485.23 646.5,485.64 646.98,485.94 647.22,486.04 647.46,486.13 647.93,486.28 648.41,486.42 648.89,486.52 649.36,486.59 649.76,486.62 649.84,486.62 650.32,486.64 650.8,486.65 651.27,486.66 651.75,486.67 652.23,486.67 652.38,486.67 652.7,486.67 653.18,486.67 653.66,486.67 654.13,486.67 654.61,486.67 655.09,486.67 655.57,486.67 656.04,486.67 656.52,486.67 657,486.67 657.47,486.67 657.95,486.67 658.43,486.67 658.9,486.67 659.38,486.67 659.86,486.67 660.34,486.67 660.81,486.67 661.29,486.67 661.77,486.67 661.92,486.67 662.24,486.67 662.72,486.67 663.2,486.67 663.67,486.67 664.15,486.67 664.63,486.67 665.11,486.67 665.58,486.67 666.06,486.67 666.54,486.67 667.01,486.67 667.49,486.67 667.97,486.67 668.44,486.67 668.92,486.67 669.4,486.67 669.88,486.67 670.35,486.67 670.83,486.67 671.31,486.67 671.78,486.67 672.26,486.67 672.74,486.67 673.21,486.67 673.69,486.67 673.85,486.67" fill="none" stroke="#f024f0" stroke-width="1.9" stroke-linejoin="round" stroke-linecap="round"/>
<polyline points="397.51,489.8 397.99,476.71 398.46,476.65 398.94,476.6 399.42,476.56 399.89,476.53 400.37,476.5 400.85,476.48 401.32,476.46 401.8,476.45 402.28,476.44 402.75,476.43 403.23,476.43 403.71,476.42 404.19,476.42 404.66,476.44 405.14,476.49 405.62,476.56 406.09,476.66 406.57,476.78 407.05,476.93 407.53,477.09 408,477.27 408.48,477.46 408.96,477.66 409.43,477.87 409.91,478.08 410.39,478.3 410.86,478.52 411.34,478.74 411.58,478.84 411.82,478.95 412.3,479.2 412.77,479.47 413.25,479.77 413.73,480.09 414.2,480.43 414.68,480.79 415.16,481.15 415.63,481.53 416.11,481.91 416.59,482.28 417.06,482.66 417.54,483.03 418.02,483.38 418.5,483.73 418.97,484.06 419.05,484.11 419.45,484.38 419.93,484.73 420.4,485.1 420.88,485.49 421.36,485.88 421.84,486.27 422.31,486.65 422.79,487.02 423.27,487.37 423.74,487.69 424.22,487.98 424.7,488.23 425.17,488.42 425.65,488.57 426.13,488.65 426.45,488.66 426.61,488.66 427.08,488.65 427.56,488.61 428.04,488.56 428.51,488.48 428.99,488.39 429.47,488.28 429.94,488.14 430.42,487.99 430.9,487.81 431.38,487.61 431.85,487.39 432.33,487.14 432.41,487.1 432.81,486.47 433.28,484.83 433.76,482.57 434.24,480.04 434.71,477.61 435.19,475.64 435.35,475.14 435.67,474.23 436.15,472.84 436.62,471.5 437.1,470.33 437.58,469.45 438.05,468.95 438.29,468.88 438.53,468.88 439.01,468.89 439.48,468.92 439.96,468.95 440.44,468.99 440.92,469.03 441.39,469.09 441.87,469.15 442.03,469.17 442.35,469.22 442.82,469.36 443.3,469.56 443.78,469.81 444.25,470.12 444.73,470.47 445.21,470.86 445.69,471.29 446.16,471.75 446.64,472.24 447.12,472.75 447.28,472.93 447.59,473.41 448.07,474.48 448.55,475.78 449.02,477.07 449.5,478.11 449.98,478.68 450.14,478.72 450.46,478.52 450.93,477.61 451.41,476.21 451.89,474.63 452.36,473.14 452.44,472.93 452.84,471.67 453.32,469.91 453.79,468.38 454.27,467.61 454.35,467.59 454.75,468.11 455.23,469.65 455.7,471.45 456.18,472.73 456.42,472.93 456.66,472.92 457.13,472.84 457.61,472.72 458.09,472.56 458.56,472.38 459.04,472.22 459.2,472.16 459.52,472.07 460,471.94 460.47,471.83 460.95,471.72 461.43,471.6 461.9,471.48 462.38,471.35 462.86,471.19 463.33,471.01 463.81,470.8 464.29,470.55 464.77,470.25 465.08,470.03 465.24,469.82 465.72,468.37 466.2,466.24 466.67,464.19 467.15,462.96 467.31,462.86 467.63,463.16 468.1,464.41 468.58,466.12 469.06,467.68 469.54,468.49 469.61,468.51 470.01,468.11 470.49,466.89 470.97,465.39 471.44,464.18 471.84,463.78 471.92,463.81 472.4,465.02 472.87,467.32 473.35,469.78 473.83,471.45 474.07,471.71 474.31,471.38 474.78,469.07 475.26,465.24 475.74,460.72 475.9,459.21 476.21,455.35 476.69,447.94 477.09,442.54 477.17,441.66 477.64,436.08 478.12,431.53 478.52,430.03 478.6,430.11 479.08,432.87 479.55,437.54 479.87,440.28 480.03,441.45 480.51,445.38 480.98,449.42 481.46,452.9 481.94,455.16 482.25,455.65 482.41,455.16 482.89,449.12 483.37,439.75 483.69,433.88 483.85,431.07 484.32,421.59 484.8,414.52 485.28,410.61 485.75,407.88 486.07,407.27 486.23,407.66 486.71,412.49 487.18,420.06 487.42,423.77 487.66,427.52 488.14,436.23 488.62,445.48 489.01,452.66 489.09,454.01 489.57,462.57 490.05,470.69 490.52,476.73 490.6,477.42 491,480.46 491.48,483.38 491.95,484.82 492.43,485.23 492.91,485.48 493.23,485.53 493.38,485.31 493.86,482.94 494.34,480.31 494.58,479.84 494.82,480.39 495.29,483.53 495.77,486.56 495.93,486.95 496.25,487.25 496.72,487.61 497.2,487.88 497.68,488.04 498.16,488.09 498.63,488.09 499.11,488.07 499.59,488.05 500.06,488.03 500.54,487.99 501.02,487.95 501.49,487.91 501.97,487.86 502.45,487.81 502.93,487.76 503.4,487.71 503.88,487.65 504.36,487.6 504.83,487.54 505.31,487.49 505.79,487.44 506.26,487.4 506.74,487.35 506.9,487.34 507.22,487.32 507.7,487.28 508.17,487.24 508.65,487.21 509.13,487.17 509.6,487.14 510.08,487.1 510.56,487.07 511.03,487.04 511.51,487 511.99,486.97 512.47,486.94 512.94,486.91 513.42,486.87 513.9,486.84 514.37,486.81 514.85,486.77 515.33,486.74 515.8,486.7 516.28,486.67 516.76,486.64 517.24,486.6 517.71,486.56 518.19,486.53 518.67,486.49 518.83,486.48 519.14,486.45 519.62,486.41 520.1,486.37 520.57,486.33 521.05,486.29 521.53,486.25 522,486.21 522.48,486.16 522.96,486.12 523.44,486.08 523.91,486.03 524.39,485.99 524.87,485.95 525.34,485.9 525.82,485.86 526.3,485.81 526.78,485.77 527.25,485.72 527.73,485.68 528.21,485.63 528.68,485.59 529.16,485.54 529.64,485.5 530.11,485.45 530.59,485.41 530.75,485.39 531.07,485.36 531.55,485.32 532.02,485.28 532.5,485.23 532.98,485.19 533.45,485.14 533.93,485.1 534.41,485.05 534.88,485.01 535.36,484.96 535.84,484.92 536.32,484.87 536.79,484.83 537.27,484.78 537.75,484.74 538.22,484.69 538.7,484.65 539.18,484.6 539.65,484.55 540.13,484.51 540.61,484.46 541.09,484.42 541.56,484.37 542.04,484.32 542.52,484.27 542.67,484.26 542.99,484.23 543.47,484.18 543.95,484.13 544.42,484.09 544.9,484.04 545.38,483.99 545.86,483.94 546.33,483.89 546.81,483.85 547.29,483.8 547.76,483.75 548.24,483.7 548.72,483.65 549.19,483.6 549.67,483.55 550.15,483.5 550.62,483.45 551.1,483.4 551.58,483.35 552.06,483.29 552.53,483.24 552.61,483.23 553.01,483.19 553.49,483.14 553.96,483.09 554.44,483.04 554.92,482.99 555.39,482.94 555.87,482.89 556.35,482.84 556.83,482.78 557.3,482.73 557.78,482.67 558.26,482.61 558.73,482.55 559.21,482.48 559.69,482.41 560.16,482.33 560.56,482.26 560.64,482.24 561.12,482.15 561.6,482.04 562.07,481.92 562.55,481.79 563.03,481.65 563.5,481.5 563.98,481.35 564.46,481.18 564.94,481.01 565.41,480.83 565.89,480.65 566.37,480.46 566.84,480.27 567.32,480.07 567.8,479.87 568.27,479.68 568.75,479.48 568.91,479.41 569.23,479.28 569.71,479.07 570.18,478.85 570.66,478.61 571.14,478.38 571.61,478.13 572.09,477.88 572.57,477.62 573.04,477.36 573.52,477.1 574,476.83 574.48,476.57 574.95,476.3 575.43,476.05 575.91,475.78 576.38,475.52 576.86,475.24 577.34,474.94 577.81,474.63 578.29,474.28 578.45,474.16 578.77,473.91 579.25,473.54 579.72,473.09 580.2,472.51 580.44,472.15 580.68,471.7 581.15,470.39 581.63,468.53 582.03,466.53 582.11,465.97 582.58,459.74 582.98,456.5 583.06,456.6 583.54,459.93 584.01,463.76 584.17,464.13 584.49,463.76 584.97,462.05 585.45,459.37 585.92,456.16 586.4,452.88 586.88,448.8 587.35,444.64 587.83,441.07 588.31,439.14 588.79,441.18 589.26,445.23 589.58,447.51 589.74,448.38 590.22,450.9 590.69,453.01 590.93,453.78 591.17,454.44 591.65,455.72 592.12,456.91 592.6,457.97 593.08,458.86 593.56,459.53 594.03,459.95 594.43,460.06 594.51,460.05 594.99,459.77 595.46,459.11 595.94,458.15 596.42,456.95 596.89,455.58 597.37,454.12 597.85,452.62 598.33,451.16 598.8,449.8 599.28,448.62 599.68,447.82 599.76,447.68 600.23,446.92 600.71,446.24 601.19,445.61 601.66,444.99 602.14,444.35 602.62,443.65 603.1,442.84 603.17,442.7 603.57,441.91 604.05,440.87 604.53,439.72 605,438.49 605.48,437.19 605.96,435.83 606.43,434.44 606.67,433.73 606.91,433 607.39,431.43 607.87,429.75 608.34,428 608.82,426.21 609.3,424.44 609.77,422.72 610.17,421.35 610.25,421.09 610.73,419.47 611.2,417.85 611.68,416.24 612.16,414.7 612.63,413.24 613.11,411.91 613.43,411.11 613.59,410.73 614.07,409.6 614.54,408.55 615.02,407.6 615.5,406.82 615.82,406.41 615.97,406.23 616.45,405.71 616.93,405.3 617.4,405.13 617.88,405.38 618.36,406.03 618.84,406.91 619.31,407.86 619.79,408.71 620.27,409.44 620.74,410.17 621.22,410.91 621.7,411.65 622.18,412.42 622.65,413.22 623.13,414.07 623.61,414.97 624.08,415.91 624.56,416.89 625.04,417.92 625.51,419.03 625.99,420.22 626.47,421.53 626.95,422.96 627.42,424.67 627.9,426.73 628.38,429.02 628.85,431.45 629.33,433.91 629.81,436.3 630.28,438.52 630.36,438.86 630.76,440.57 631.24,442.59 631.72,444.61 632.19,446.6 632.67,448.56 633.15,450.51 633.62,452.42 634.1,454.31 634.58,456.16 635.05,457.97 635.53,459.75 636.01,461.49 636.49,463.18 636.96,464.83 637.12,465.37 637.44,466.45 637.92,468.1 638.39,469.76 638.87,471.4 639.35,473 639.82,474.54 640.3,475.99 640.78,477.34 641.25,478.56 641.73,479.62 642.13,480.36 642.21,480.5 642.69,481.31 643.16,482.09 643.64,482.85 644.12,483.56 644.59,484.22 645.07,484.81 645.55,485.34 646.03,485.78 646.5,486.13 646.98,486.38 647.22,486.46 647.46,486.53 647.93,486.66 648.41,486.76 648.89,486.84 649.36,486.9 649.76,486.92 649.84,486.92 650.32,486.93 650.8,486.94 651.27,486.95 651.75,486.95 652.23,486.95 652.38,486.95 652.7,486.95 653.18,486.95 653.66,486.95 654.13,486.95 654.61,486.95 655.09,486.95 655.57,486.95 656.04,486.95 656.52,486.95 657,486.95 657.47,486.95 657.95,486.95 658.43,486.95 658.9,486.95 659.38,486.95 659.86,486.95 660.34,486.95 660.81,486.95 661.29,486.95 661.77,486.95 661.92,486.95 662.24,486.95 662.72,486.95 663.2,486.95 663.67,486.95 664.15,486.95 664.63,486.95 665.11,486.95 665.58,486.95 666.06,486.95 666.54,486.95 667.01,486.95 667.49,486.95 667.97,486.95 668.44,486.95 668.92,486.95 669.4,486.95 669.88,486.95 670.35,486.95 670.83,486.95 671.31,486.95 671.78,486.95 672.26,486.95 672.74,486.95 673.21,486.95 673.69,486.95 673.85,486.95" fill="none" stroke="#85851a" stroke-width="1.9" stroke-linejoin="round" stroke-linecap="round"/>
</g>
<rect x="511.9" y="311.9" width="90.2" height="66.9" fill="#fff" stroke="#333" stroke-width="0.8"/>
<line x1="510.4" y1="378.8" x2="511.9" y2="378.8" stroke="#333" stroke-width="0.5" stroke-linecap="butt"/>
<text x="509.4" y="379.73" font-size="2.6" text-anchor="end" font-weight="normal" font-style="normal" fill="#444">0.0</text>
<line x1="510.4" y1="365.42" x2="511.9" y2="365.42" stroke="#333" stroke-width="0.5" stroke-linecap="butt"/>
<text x="509.4" y="366.35" font-size="2.6" text-anchor="end" font-weight="normal" font-style="normal" fill="#444">0.2</text>
<line x1="510.4" y1="352.04" x2="511.9" y2="352.04" stroke="#333" stroke-width="0.5" stroke-linecap="butt"/>
<text x="509.4" y="352.97" font-size="2.6" text-anchor="end" font-weight="normal" font-style="normal" fill="#444">0.4</text>
<line x1="510.4" y1="338.66" x2="511.9" y2="338.66" stroke="#333" stroke-width="0.5" stroke-linecap="butt"/>
<text x="509.4" y="339.59" font-size="2.6" text-anchor="end" font-weight="normal" font-style="normal" fill="#444">0.6</text>
<line x1="510.4" y1="325.28" x2="511.9" y2="325.28" stroke="#333" stroke-width="0.5" stroke-linecap="butt"/>
<text x="509.4" y="326.21" font-size="2.6" text-anchor="end" font-weight="normal" font-style="normal" fill="#444">0.8</text>
<line x1="510.4" y1="311.9" x2="511.9" y2="311.9" stroke="#333" stroke-width="0.5" stroke-linecap="butt"/>
<text x="509.4" y="312.83" font-size="2.6" text-anchor="end" font-weight="normal" font-style="normal" fill="#444">1.0</text>
<line x1="517.54" y1="378.8" x2="517.54" y2="380" stroke="#333" stroke-width="0.5" stroke-linecap="butt"/>
<text x="517.54" y="383.33" font-size="2.6" text-anchor="middle" font-weight="normal" font-style="normal" fill="#444">3000</text>
<line x1="528.81" y1="378.8" x2="528.81" y2="380" stroke="#333" stroke-width="0.5" stroke-linecap="butt"/>
<text x="528.81" y="383.33" font-size="2.6" text-anchor="middle" font-weight="normal" font-style="normal" fill="#444">3100</text>
<line x1="540.09" y1="378.8" x2="540.09" y2="380" stroke="#333" stroke-width="0.5" stroke-linecap="butt"/>
<text x="540.09" y="383.33" font-size="2.6" text-anchor="middle" font-weight="normal" font-style="normal" fill="#444">3200</text>
<line x1="551.36" y1="378.8" x2="551.36" y2="380" stroke="#333" stroke-width="0.5" stroke-linecap="butt"/>
<text x="551.36" y="383.33" font-size="2.6" text-anchor="middle" font-weight="normal" font-style="normal" fill="#444">3300</text>
<line x1="562.64" y1="378.8" x2="562.64" y2="380" stroke="#333" stroke-width="0.5" stroke-linecap="butt"/>
<text x="562.64" y="383.33" font-size="2.6" text-anchor="middle" font-weight="normal" font-style="normal" fill="#444">3400</text>
<line x1="573.91" y1="378.8" x2="573.91" y2="380" stroke="#333" stroke-width="0.5" stroke-linecap="butt"/>
<text x="573.91" y="383.33" font-size="2.6" text-anchor="middle" font-weight="normal" font-style="normal" fill="#444">3500</text>
<line x1="585.19" y1="378.8" x2="585.19" y2="380" stroke="#333" stroke-width="0.5" stroke-linecap="butt"/>
<text x="585.19" y="383.33" font-size="2.6" text-anchor="middle" font-weight="normal" font-style="normal" fill="#444">3600</text>
<line x1="596.46" y1="378.8" x2="596.46" y2="380" stroke="#333" stroke-width="0.5" stroke-linecap="butt"/>
<text x="596.46" y="383.33" font-size="2.6" text-anchor="middle" font-weight="normal" font-style="normal" fill="#444">3700</text>
<text x="557" y="388.75" font-size="3.2" text-anchor="middle" font-weight="bold" font-style="normal" fill="#333">Wavenumbers (cm-1)</text>
<text x="500.9" y="346.5" font-size="3.2" text-anchor="middle" font-weight="bold" font-style="normal" fill="#333" transform="rotate(-90 500.9 345.35)">Absorbance (A.U)</text>
<polyline points="511.9,372.67 512.9,373.24 513.9,373.83 514.9,374.35 515.9,374.74 516.9,374.94 517.15,374.95 517.9,374.95 518.9,374.94 519.9,374.93 520.9,374.91 521.9,374.89 522.9,374.87 523.9,374.84 524.9,374.81 525.9,374.78 526.9,374.74 527.9,374.7 528.9,374.66 529.9,374.61 530.9,374.57 531.9,374.52 532.9,374.47 533.79,374.42 533.9,374.42 534.9,374.34 535.9,374.23 536.9,374.08 537.9,373.91 538.9,373.72 539.9,373.51 540.9,373.29 541.9,373.06 542.9,372.83 543.9,372.61 544.9,372.38 545.9,372.18 546.9,371.98 547.9,371.81 548.9,371.67 549.9,371.56 550.9,371.48 551.9,371.45 552.18,371.44 552.9,371.46 553.9,371.53 554.9,371.65 555.9,371.81 556.9,372 557.9,372.22 558.9,372.46 559.9,372.71 560.9,372.96 561.9,373.2 562.9,373.44 563.9,373.65 564.9,373.83 565.32,373.9 565.9,373.98 566.9,374.14 567.9,374.3 568.9,374.46 569.9,374.62 570.9,374.78 571.9,374.94 572.9,375.11 573.9,375.27 574.9,375.43 575.9,375.58 576.9,375.74 577.9,375.88 578.9,376.03 579.9,376.16 580.9,376.29 581.9,376.42 582.9,376.53 583.9,376.63 584.9,376.73 585.9,376.81 586.9,376.89 587.9,376.95 588.9,376.99 589.9,377.03 590.9,377.04 591.59,377.05 591.9,377.05 592.9,377.04 593.9,377.03 594.9,377.01 595.9,376.98 596.9,376.95 597.9,376.91 598.9,376.85 599.9,376.79 600.9,376.72 601.22,376.7" fill="none" stroke="#111111" stroke-width="1.15" stroke-linejoin="round" stroke-linecap="round"/>
<polyline points="511.9,365.67 512.9,366.4 513.9,366.9 514.9,367.2 515.9,367.36 516.9,367.41 517.15,367.42 517.9,367.28 518.9,366.73 519.9,365.84 520.9,364.7 521.9,363.42 522.9,362.09 523.9,360.81 524.9,359.67 525.04,359.54 525.9,358.69 526.9,357.76 527.9,356.83 528.9,355.89 529.9,354.91 530.9,353.86 531.9,352.7 532.04,352.53 532.9,351.41 533.9,349.94 534.9,348.33 535.9,346.62 536.9,344.84 537.9,343.02 538.9,341.2 539.9,339.4 540.9,337.67 541.9,336.02 542.55,335.02 542.9,334.48 543.9,332.82 544.9,331.04 545.9,329.22 546.9,327.44 547.9,325.78 548.9,324.32 549.9,323.13 550.9,322.3 551.9,321.9 552.18,321.88 552.9,321.91 553.9,322.06 554.9,322.31 555.9,322.66 556.9,323.08 557.9,323.58 558.9,324.14 559.9,324.74 560.9,325.37 561.9,326.03 562.9,326.69 563.57,327.14 563.9,327.37 564.9,328.15 565.9,329.08 566.9,330.11 567.9,331.24 568.9,332.44 569.9,333.68 570.9,334.95 571.9,336.23 572.33,336.77 572.9,337.51 573.9,338.85 574.9,340.26 575.9,341.72 576.9,343.23 577.9,344.77 578.9,346.34 579.9,347.91 580.9,349.5 581.9,351.07 582.83,352.53 582.9,352.63 583.9,354.23 584.9,355.89 585.9,357.58 586.9,359.28 587.9,360.96 588.9,362.59 589.9,364.15 590.9,365.61 591.59,366.54 591.9,366.94 592.9,368.21 593.9,369.45 594.9,370.65 595.9,371.8 596.9,372.91 597.9,373.96 598.9,374.96 599.9,375.9 600.9,376.78 601.22,377.05" fill="none" stroke="#f51b1b" stroke-width="1.15" stroke-linejoin="round" stroke-linecap="round"/>
<polyline points="511.9,370.04 512.9,371.17 513.9,371.95 514.9,372.44 515.9,372.65 516.28,372.67 516.9,372.51 517.9,371.63 518.9,370.17 519.9,368.31 520.9,366.23 521.9,364.14 522.9,362.22 523.9,360.65 524.9,359.62 525.04,359.54 525.9,359.09 526.9,358.7 527.9,358.39 528.9,358.11 529.9,357.82 530.9,357.46 531.9,356.99 532.04,356.91 532.9,356.29 533.9,355.27 534.9,354 535.9,352.53 536.9,350.92 537.9,349.22 538.9,347.51 539.9,345.83 540.9,344.26 541.9,342.83 542.55,342.02 542.9,341.61 543.9,340.34 544.9,339.01 545.9,337.67 546.9,336.37 547.9,335.17 548.9,334.12 549.9,333.27 550.9,332.68 551.9,332.41 552.18,332.39 552.9,332.42 553.9,332.54 554.9,332.76 555.9,333.05 556.9,333.42 557.9,333.84 558.9,334.31 559.9,334.81 560.9,335.33 561.9,335.87 562.9,336.41 563.57,336.77 563.9,336.95 564.9,337.55 565.9,338.23 566.9,338.97 567.9,339.78 568.9,340.63 569.9,341.52 570.9,342.44 571.9,343.37 572.33,343.77 572.9,344.33 573.9,345.34 574.9,346.42 575.9,347.55 576.9,348.71 577.9,349.91 578.9,351.14 579.9,352.38 580.9,353.63 581.9,354.88 582.83,356.03 582.9,356.11 583.9,357.38 584.9,358.68 585.9,360.01 586.9,361.35 587.9,362.7 588.9,364.02 589.9,365.32 590.9,366.58 591.59,367.42 591.9,367.78 592.9,368.96 593.9,370.11 594.9,371.25 595.9,372.36 596.9,373.45 597.9,374.53 598.9,375.58 599.9,376.6 600.9,377.6 601.22,377.92" fill="none" stroke="#2222ee" stroke-width="1.15" stroke-linejoin="round" stroke-linecap="round"/>
<polyline points="511.9,361.29 512.9,362.38 513.9,363.31 514.9,364.05 515.9,364.55 516.9,364.78 517.15,364.79 517.9,364.71 518.9,364.38 519.9,363.87 520.9,363.21 521.9,362.49 522.9,361.75 523.9,361.06 524.9,360.48 525.04,360.41 525.9,360.03 526.9,359.63 527.9,359.27 528.9,358.91 529.9,358.52 530.9,358.07 531.9,357.52 532.04,357.43 532.9,356.8 533.9,355.83 534.9,354.65 535.9,353.32 536.9,351.87 537.9,350.35 538.9,348.82 539.9,347.3 540.9,345.87 541.9,344.55 542.55,343.77 542.9,343.37 543.9,342.13 544.9,340.82 545.9,339.48 546.9,338.18 547.9,336.97 548.9,335.9 549.9,335.04 550.9,334.44 551.9,334.16 552.18,334.14 552.9,334.18 553.9,334.33 554.9,334.6 555.9,334.97 556.9,335.42 557.9,335.94 558.9,336.51 559.9,337.11 560.9,337.74 561.9,338.37 562.9,338.99 563.57,339.4 563.9,339.6 564.9,340.24 565.9,340.95 566.9,341.7 567.9,342.51 568.9,343.34 569.9,344.21 570.9,345.1 571.9,346.01 572.33,346.4 572.9,346.94 573.9,347.9 574.9,348.92 575.9,349.97 576.9,351.05 577.9,352.15 578.9,353.28 579.9,354.42 580.9,355.57 581.9,356.72 582.83,357.78 582.9,357.86 583.9,359.03 584.9,360.23 585.9,361.46 586.9,362.7 587.9,363.94 588.9,365.17 589.9,366.37 590.9,367.52 591.59,368.29 591.9,368.63 592.9,369.71 593.9,370.77 594.9,371.81 595.9,372.83 596.9,373.84 597.9,374.82 598.9,375.78 599.9,376.72 600.9,377.63 601.22,377.92" fill="none" stroke="#138585" stroke-width="1.15" stroke-linejoin="round" stroke-linecap="round"/>
<polyline points="511.9,364.79 512.9,366.38 513.9,367.7 514.9,368.64 515.9,369.13 516.28,369.17 516.9,369.05 517.9,368.4 518.9,367.31 519.9,365.94 520.9,364.41 521.9,362.87 522.9,361.46 523.9,360.32 524.9,359.59 525.04,359.54 525.9,359.23 526.9,358.97 527.9,358.77 528.9,358.59 529.9,358.4 530.9,358.16 531.9,357.84 532.04,357.78 532.9,357.33 533.9,356.55 534.9,355.54 535.9,354.34 536.9,353.02 537.9,351.62 538.9,350.19 539.9,348.79 540.9,347.45 541.9,346.23 542.55,345.53 542.9,345.16 543.9,344.04 544.9,342.85 545.9,341.63 546.9,340.45 547.9,339.34 548.9,338.37 549.9,337.59 550.9,337.04 551.9,336.78 552.18,336.77 552.9,336.8 553.9,336.97 554.9,337.25 555.9,337.62 556.9,338.08 557.9,338.61 558.9,339.19 559.9,339.79 560.9,340.41 561.9,341.04 562.9,341.64 563.57,342.02 563.9,342.21 564.9,342.8 565.9,343.43 566.9,344.08 567.9,344.77 568.9,345.49 569.9,346.24 570.9,347.01 571.9,347.81 572.33,348.15 572.9,348.63 573.9,349.51 574.9,350.43 575.9,351.39 576.9,352.39 577.9,353.41 578.9,354.46 579.9,355.52 580.9,356.59 581.9,357.66 582.83,358.66 582.9,358.73 583.9,359.83 584.9,360.96 585.9,362.13 586.9,363.31 587.9,364.49 588.9,365.65 589.9,366.8 590.9,367.91 591.59,368.64 591.9,368.96 592.9,370 593.9,371.02 594.9,372.02 595.9,373 596.9,373.97 597.9,374.91 598.9,375.84 599.9,376.75 600.9,377.64 601.22,377.92" fill="none" stroke="#f024f0" stroke-width="1.15" stroke-linejoin="round" stroke-linecap="round"/>
<polyline points="511.9,360.94 512.9,362.23 513.9,363.34 514.9,364.23 515.9,364.85 516.9,365.13 517.15,365.14 517.9,365.04 518.9,364.65 519.9,364.04 520.9,363.28 521.9,362.46 522.9,361.66 523.9,360.97 524.9,360.46 525.04,360.41 525.9,360.14 526.9,359.9 527.9,359.69 528.9,359.5 529.9,359.3 530.9,359.04 531.9,358.71 532.04,358.66 532.9,358.22 533.9,357.46 534.9,356.49 535.9,355.35 536.9,354.09 537.9,352.75 538.9,351.39 539.9,350.04 540.9,348.76 541.9,347.6 542.55,346.93 542.9,346.58 543.9,345.5 544.9,344.36 545.9,343.19 546.9,342.05 547.9,340.99 548.9,340.06 549.9,339.31 550.9,338.78 551.9,338.53 552.18,338.52 552.9,338.55 553.9,338.7 554.9,338.96 555.9,339.31 556.9,339.74 557.9,340.23 558.9,340.76 559.9,341.33 560.9,341.91 561.9,342.49 562.9,343.06 563.57,343.42 563.9,343.6 564.9,344.17 565.9,344.77 566.9,345.41 567.9,346.08 568.9,346.78 569.9,347.51 570.9,348.27 571.9,349.04 572.33,349.38 572.9,349.84 573.9,350.69 574.9,351.58 575.9,352.51 576.9,353.48 577.9,354.47 578.9,355.48 579.9,356.5 580.9,357.53 581.9,358.57 582.83,359.54 582.9,359.6 583.9,360.66 584.9,361.76 585.9,362.89 586.9,364.03 587.9,365.17 588.9,366.3 589.9,367.4 590.9,368.46 591.59,369.17 591.9,369.47 592.9,370.46 593.9,371.43 594.9,372.38 595.9,373.31 596.9,374.22 597.9,375.11 598.9,375.98 599.9,376.83 600.9,377.66 601.22,377.92" fill="none" stroke="#85851a" stroke-width="1.15" stroke-linejoin="round" stroke-linecap="round"/>
<text x="444" y="451.12" font-size="11.5" text-anchor="middle" font-weight="bold" font-style="normal" fill="#000">1</text>
<text x="467.2" y="442.22" font-size="11.5" text-anchor="middle" font-weight="bold" font-style="normal" fill="#000">2</text>
<text x="481.3" y="405.72" font-size="11.5" text-anchor="middle" font-weight="bold" font-style="normal" fill="#000">3</text>
<text x="583.6" y="435.92" font-size="11.5" text-anchor="middle" font-weight="bold" font-style="normal" fill="#000">4</text>
<text x="618.6" y="360.52" font-size="11.5" text-anchor="middle" font-weight="bold" font-style="normal" fill="#000">5</text>
<path d="M635.2,346.5 C637.37,352.17 641.4,355.69 641.4,359.1 A6.2,6.2 0 0 1 629,359.1 C629,355.69 633.03,352.17 635.2,346.5Z" fill="url(#dropg)" stroke="#9dbacb" stroke-width="1.1"/>
<line x1="46.5" y1="525.85" x2="334.2" y2="525.85" stroke="#000" stroke-width="1.8" stroke-linecap="butt"/>
<line x1="333.4" y1="525.85" x2="333.4" y2="739" stroke="#000" stroke-width="1.8" stroke-linecap="butt"/>
<line x1="46.7" y1="524.95" x2="46.7" y2="740" stroke="#000" stroke-width="2.0" stroke-linecap="butt"/>
<line x1="41.7" y1="739" x2="334.2" y2="739" stroke="#000" stroke-width="2.0" stroke-linecap="butt"/>
<line x1="41.7" y1="739" x2="46.7" y2="739" stroke="#000" stroke-width="1.3" stroke-linecap="butt"/>
<text x="39.7" y="741.83" font-size="7.9" text-anchor="end" font-weight="bold" font-style="normal" fill="#000">0.0</text>
<line x1="41.7" y1="710.58" x2="46.7" y2="710.58" stroke="#000" stroke-width="1.3" stroke-linecap="butt"/>
<text x="39.7" y="713.41" font-size="7.9" text-anchor="end" font-weight="bold" font-style="normal" fill="#000">0.2</text>
<line x1="41.7" y1="682.16" x2="46.7" y2="682.16" stroke="#000" stroke-width="1.3" stroke-linecap="butt"/>
<text x="39.7" y="684.99" font-size="7.9" text-anchor="end" font-weight="bold" font-style="normal" fill="#000">0.4</text>
<line x1="41.7" y1="653.74" x2="46.7" y2="653.74" stroke="#000" stroke-width="1.3" stroke-linecap="butt"/>
<text x="39.7" y="656.57" font-size="7.9" text-anchor="end" font-weight="bold" font-style="normal" fill="#000">0.6</text>
<line x1="41.7" y1="625.32" x2="46.7" y2="625.32" stroke="#000" stroke-width="1.3" stroke-linecap="butt"/>
<text x="39.7" y="628.15" font-size="7.9" text-anchor="end" font-weight="bold" font-style="normal" fill="#000">0.8</text>
<line x1="41.7" y1="596.9" x2="46.7" y2="596.9" stroke="#000" stroke-width="1.3" stroke-linecap="butt"/>
<text x="39.7" y="599.73" font-size="7.9" text-anchor="end" font-weight="bold" font-style="normal" fill="#000">1.0</text>
<line x1="41.7" y1="568.48" x2="46.7" y2="568.48" stroke="#000" stroke-width="1.3" stroke-linecap="butt"/>
<text x="39.7" y="571.31" font-size="7.9" text-anchor="end" font-weight="bold" font-style="normal" fill="#000">1.2</text>
<line x1="41.7" y1="540.06" x2="46.7" y2="540.06" stroke="#000" stroke-width="1.3" stroke-linecap="butt"/>
<text x="39.7" y="542.89" font-size="7.9" text-anchor="end" font-weight="bold" font-style="normal" fill="#000">1.4</text>
<line x1="43.7" y1="724.79" x2="46.7" y2="724.79" stroke="#000" stroke-width="1.1" stroke-linecap="butt"/>
<line x1="43.7" y1="696.37" x2="46.7" y2="696.37" stroke="#000" stroke-width="1.1" stroke-linecap="butt"/>
<line x1="43.7" y1="667.95" x2="46.7" y2="667.95" stroke="#000" stroke-width="1.1" stroke-linecap="butt"/>
<line x1="43.7" y1="639.53" x2="46.7" y2="639.53" stroke="#000" stroke-width="1.1" stroke-linecap="butt"/>
<line x1="43.7" y1="611.11" x2="46.7" y2="611.11" stroke="#000" stroke-width="1.1" stroke-linecap="butt"/>
<line x1="43.7" y1="582.69" x2="46.7" y2="582.69" stroke="#000" stroke-width="1.1" stroke-linecap="butt"/>
<line x1="43.7" y1="554.27" x2="46.7" y2="554.27" stroke="#000" stroke-width="1.1" stroke-linecap="butt"/>
<line x1="54.8" y1="739" x2="54.8" y2="743" stroke="#000" stroke-width="1.3" stroke-linecap="butt"/>
<text x="54.8" y="752.72" font-size="8.3" text-anchor="middle" font-weight="bold" font-style="normal" fill="#000">500</text>
<line x1="94.6" y1="739" x2="94.6" y2="743" stroke="#000" stroke-width="1.3" stroke-linecap="butt"/>
<text x="94.6" y="752.72" font-size="8.3" text-anchor="middle" font-weight="bold" font-style="normal" fill="#000">1000</text>
<line x1="134.4" y1="739" x2="134.4" y2="743" stroke="#000" stroke-width="1.3" stroke-linecap="butt"/>
<text x="134.4" y="752.72" font-size="8.3" text-anchor="middle" font-weight="bold" font-style="normal" fill="#000">1500</text>
<line x1="174.2" y1="739" x2="174.2" y2="743" stroke="#000" stroke-width="1.3" stroke-linecap="butt"/>
<text x="174.2" y="752.72" font-size="8.3" text-anchor="middle" font-weight="bold" font-style="normal" fill="#000">2000</text>
<line x1="214" y1="739" x2="214" y2="743" stroke="#000" stroke-width="1.3" stroke-linecap="butt"/>
<text x="214" y="752.72" font-size="8.3" text-anchor="middle" font-weight="bold" font-style="normal" fill="#000">2500</text>
<line x1="253.8" y1="739" x2="253.8" y2="743" stroke="#000" stroke-width="1.3" stroke-linecap="butt"/>
<text x="253.8" y="752.72" font-size="8.3" text-anchor="middle" font-weight="bold" font-style="normal" fill="#000">3000</text>
<line x1="293.6" y1="739" x2="293.6" y2="743" stroke="#000" stroke-width="1.3" stroke-linecap="butt"/>
<text x="293.6" y="752.72" font-size="8.3" text-anchor="middle" font-weight="bold" font-style="normal" fill="#000">3500</text>
<line x1="333.4" y1="739" x2="333.4" y2="743" stroke="#000" stroke-width="1.3" stroke-linecap="butt"/>
<text x="333.4" y="752.72" font-size="8.3" text-anchor="middle" font-weight="bold" font-style="normal" fill="#000">4000</text>
<line x1="74.7" y1="739" x2="74.7" y2="741.5" stroke="#000" stroke-width="1.1" stroke-linecap="butt"/>
<line x1="114.5" y1="739" x2="114.5" y2="741.5" stroke="#000" stroke-width="1.1" stroke-linecap="butt"/>
<line x1="154.3" y1="739" x2="154.3" y2="741.5" stroke="#000" stroke-width="1.1" stroke-linecap="butt"/>
<line x1="194.1" y1="739" x2="194.1" y2="741.5" stroke="#000" stroke-width="1.1" stroke-linecap="butt"/>
<line x1="233.9" y1="739" x2="233.9" y2="741.5" stroke="#000" stroke-width="1.1" stroke-linecap="butt"/>
<line x1="273.7" y1="739" x2="273.7" y2="741.5" stroke="#000" stroke-width="1.1" stroke-linecap="butt"/>
<line x1="313.5" y1="739" x2="313.5" y2="741.5" stroke="#000" stroke-width="1.1" stroke-linecap="butt"/>
<text x="10.4" y="642.58" font-size="10.0" text-anchor="middle" font-weight="bold" font-style="normal" fill="#000" transform="rotate(-90 10.4 639)">Absorbence (A.U)</text>
<text x="190.2" y="769.41" font-size="9.8" text-anchor="middle" font-weight="bold" font-style="normal" fill="#000">Wavenumbers (cm-1)</text>
<text x="2" y="545.94" font-size="15.2" text-anchor="start" font-weight="bold" font-style="normal" fill="#000">A5</text>
<text x="54.3" y="541.12" font-size="10.1" font-weight="bold" font-style="italic" fill="#138a13" textLength="123.6" lengthAdjust="spacingAndGlyphs">S. carpocapsae at 64% RH</text>
<line x1="194.3" y1="537.3" x2="217.5" y2="537.3" stroke="#111111" stroke-width="2.0" stroke-linecap="butt"/>
<text x="221.3" y="540.88" font-size="10" font-weight="bold" font-style="italic">Dry</text>
<line x1="250" y1="537.3" x2="273.2" y2="537.3" stroke="#f51b1b" stroke-width="2.0" stroke-linecap="butt"/>
<text x="276.2" y="540.88" font-size="10" font-weight="bold"><tspan font-style="italic">0</tspan><tspan dx="2">Hrs</tspan></text>
<line x1="53.4" y1="549.5" x2="76.6" y2="549.5" stroke="#2222ee" stroke-width="2.0" stroke-linecap="butt"/>
<text x="79.8" y="553.08" font-size="10" font-weight="bold"><tspan font-style="italic">2</tspan><tspan dx="2">Hrs</tspan></text>
<line x1="106.6" y1="549.5" x2="129.8" y2="549.5" stroke="#138585" stroke-width="2.0" stroke-linecap="butt"/>
<text x="133" y="553.08" font-size="10" font-weight="bold"><tspan font-style="italic">4</tspan><tspan dx="2">Hrs</tspan></text>
<line x1="160.3" y1="549.5" x2="183.5" y2="549.5" stroke="#f024f0" stroke-width="2.0" stroke-linecap="butt"/>
<text x="188.8" y="553.08" font-size="10" font-weight="bold"><tspan font-style="italic">6</tspan><tspan dx="2">Hrs</tspan></text>
<clipPath id="cpA5"><rect x="47.7" y="526.85" width="284.7" height="212.15"/></clipPath>
<g clip-path="url(#cpA5)">
<polyline points="56.31,739 56.47,731.61 56.95,731.69 57.43,731.78 57.9,731.87 58.38,731.95 58.86,732.04 59.34,732.13 59.81,732.22 60.29,732.3 60.77,732.39 61.25,732.49 61.73,732.58 62.2,732.67 62.68,732.76 63.16,732.86 63.64,732.95 64.03,733.03 64.11,733.05 64.59,733.14 65.07,733.24 65.55,733.34 66.02,733.43 66.5,733.53 66.98,733.63 67.46,733.72 67.93,733.82 68.41,733.92 68.89,734.02 69.37,734.12 69.84,734.22 70.32,734.33 70.8,734.43 71.28,734.54 71.75,734.65 72.23,734.76 72.71,734.87 73.19,734.99 73.67,735.1 74.14,735.22 74.46,735.31 74.62,735.35 75.1,735.49 75.58,735.65 76.05,735.82 76.53,736.01 77.01,736.2 77.49,736.39 77.96,736.59 78.44,736.77 78.92,736.95 79.4,737.11 79.87,737.26 80.35,737.38 80.83,737.48 81.31,737.55 81.78,737.58 81.94,737.58 82.26,737.57 82.74,737.55 83.22,737.51 83.69,737.45 84.17,737.37 84.65,737.27 85.13,737.16 85.61,737.03 86.08,736.89 86.56,736.73 87.04,736.56 87.52,736.37 87.99,736.17 88.47,735.96 88.95,735.74 89.43,735.5 89.9,735.26 90.38,735 90.86,734.74 91.34,734.39 91.81,733.91 92.29,733.31 92.77,732.61 93.25,731.82 93.72,730.97 94.2,730.07 94.68,729.14 95.16,728.2 95.63,727.27 96.11,726.35 96.59,725.15 97.07,723.96 97.39,723.65 97.55,723.69 98.02,724.11 98.5,724.89 98.98,725.82 99.46,726.73 99.93,727.42 100.17,727.63 100.41,727.77 100.89,728.01 101.37,728.2 101.84,728.36 102.32,728.51 102.8,728.66 103.28,728.84 103.44,728.91 103.75,729.05 104.23,729.27 104.71,729.49 105.19,729.73 105.66,729.98 106.14,730.24 106.54,730.47 106.62,730.52 107.1,730.9 107.57,731.36 108.05,731.83 108.53,732.24 109.01,732.52 109.41,732.61 109.49,732.6 109.96,732.32 110.44,731.7 110.92,730.85 111.4,729.87 111.87,728.87 112.35,727.94 112.83,727.19 113.31,726.73 113.62,726.64 113.78,726.67 114.26,727.16 114.74,728.06 115.22,729.17 115.69,730.3 116.17,731.25 116.65,731.81 116.89,731.89 117.13,731.89 117.6,731.89 118.08,731.87 118.56,731.85 119.04,731.82 119.51,731.79 119.99,731.75 120.47,731.71 120.95,731.66 121.43,731.61 121.9,731.55 122.38,731.48 122.86,731.42 123.34,731.35 123.81,731.27 124.29,731.2 124.37,731.18 124.77,731.11 125.25,730.98 125.72,730.81 126.2,730.63 126.68,730.42 127.16,730.19 127.63,729.96 128.03,729.76 128.11,729.72 128.59,729.39 129.07,728.97 129.54,728.58 130.02,728.29 130.42,728.2 130.5,728.2 130.98,728.36 131.45,728.68 131.93,729.09 132.41,729.48 132.89,729.79 133.37,729.91 133.84,729.28 134.32,727.72 134.8,725.72 135.28,723.75 135.75,722.32 135.99,721.95 136.23,721.73 136.71,721.34 137.19,721.03 137.66,720.85 137.98,720.81 138.14,720.86 138.62,721.5 139.1,722.61 139.57,723.87 139.97,724.79 140.05,724.95 140.53,726.14 141.01,727.29 141.48,727.9 141.56,727.92 141.96,727.5 142.44,726.16 142.92,724.33 143.39,722.49 143.55,721.95 143.87,720.75 144.35,718.62 144.83,716.7 145.31,715.72 145.38,715.7 145.78,716.25 146.26,717.98 146.74,720.22 147.14,721.95 147.22,722.26 147.69,724.24 148.17,726.36 148.65,728.47 149.13,730.45 149.52,731.89 149.6,732.17 150.08,733.95 150.56,735.63 151.04,736.71 151.28,736.87 151.51,736.85 151.99,736.74 152.47,736.56 152.95,736.37 153.42,736.22 153.9,736.16 154.38,736.6 154.86,737.51 155.33,738.21 155.49,738.29 155.81,738.33 156.29,738.38 156.77,738.41 157.25,738.43 157.48,738.43 157.72,738.43 158.2,738.43 158.68,738.43 159.16,738.43 159.63,738.43 160.11,738.43 160.59,738.43 161.07,738.43 161.54,738.43 162.02,738.43 162.5,738.43 162.98,738.43 163.45,738.43 163.93,738.43 164.41,738.43 164.89,738.43 165.36,738.43 165.84,738.43 166.32,738.43 166.8,738.43 167.27,738.43 167.75,738.43 168.23,738.43 168.71,738.43 169.19,738.43 169.66,738.43 170.14,738.43 170.62,738.43 171.1,738.43 171.57,738.43 172.05,738.43 172.53,738.43 173.01,738.43 173.48,738.43 173.96,738.43 174.2,738.43 174.44,738.43 174.92,738.43 175.39,738.43 175.87,738.43 176.35,738.43 176.83,738.43 177.3,738.43 177.78,738.43 178.26,738.43 178.74,738.43 179.21,738.42 179.69,738.42 180.17,738.42 180.65,738.42 181.13,738.42 181.6,738.41 182.08,738.41 182.56,738.41 183.04,738.41 183.51,738.4 183.99,738.4 184.47,738.4 184.95,738.4 185.42,738.39 185.9,738.39 186.38,738.39 186.86,738.38 187.33,738.38 187.81,738.38 188.29,738.37 188.77,738.37 189.24,738.36 189.72,738.36 190.2,738.35 190.68,738.35 191.15,738.35 191.63,738.34 192.11,738.34 192.59,738.33 193.07,738.33 193.54,738.32 194.02,738.32 194.5,738.31 194.98,738.3 195.45,738.3 195.93,738.29 196.41,738.29 196.89,738.28 197.36,738.28 197.84,738.27 198.32,738.26 198.8,738.26 199.27,738.25 199.75,738.24 200.23,738.24 200.71,738.23 201.18,738.22 201.66,738.22 202.14,738.21 202.62,738.2 203.09,738.19 203.57,738.19 204.05,738.18 204.53,738.17 205.01,738.16 205.48,738.16 205.96,738.15 206.04,738.15 206.44,738.14 206.92,738.13 207.39,738.12 207.87,738.11 208.35,738.09 208.83,738.07 209.3,738.06 209.78,738.04 210.26,738.02 210.74,738 211.21,737.98 211.69,737.95 212.17,737.93 212.65,737.9 213.12,737.88 213.6,737.85 214.08,737.82 214.56,737.79 215.03,737.76 215.51,737.73 215.99,737.7 216.47,737.67 216.95,737.64 217.42,737.61 217.9,737.58 218.38,737.54 218.86,737.51 219.33,737.48 219.81,737.44 220.29,737.41 220.77,737.38 221.24,737.34 221.72,737.31 221.96,737.29 222.2,737.28 222.68,737.25 223.15,737.21 223.63,737.18 224.11,737.15 224.59,737.12 225.06,737.08 225.54,737.05 226.02,737.02 226.5,736.98 226.97,736.95 227.45,736.91 227.93,736.87 228.41,736.83 228.89,736.78 229.36,736.74 229.84,736.69 230.32,736.64 230.8,736.59 231.27,736.53 231.75,736.47 232.23,736.41 232.71,736.34 233.18,736.27 233.66,736.2 233.9,736.16 234.14,736.12 234.62,736.02 235.09,735.92 235.57,735.79 236.05,735.65 236.53,735.5 237,735.32 237.48,735.12 237.96,734.89 238.44,734.65 238.91,734.38 239.39,734.08 239.47,734.03 239.87,733.58 240.35,732.71 240.83,731.73 241.3,730.9 241.78,730.48 241.86,730.47 242.26,730.7 242.74,731.29 243.21,731.81 243.45,731.89 243.69,731.8 244.17,731.14 244.65,729.98 245.12,728.47 245.6,726.78 246.08,725.08 246.56,723.53 247.03,722.3 247.51,721.54 247.83,721.38 247.99,721.43 248.47,722.06 248.94,723.21 249.42,724.63 249.9,726.06 250.38,727.23 250.62,727.63 250.85,727.97 251.33,728.64 251.81,729.25 252.29,729.73 252.77,730.01 253,730.05 253.24,730.05 253.72,730.04 254.2,730.03 254.68,730.01 255.15,729.99 255.63,729.97 256.11,729.95 256.59,729.93 257.06,729.91 257.54,729.91 257.78,729.91 258.02,729.91 258.5,729.93 258.97,729.97 259.45,730.01 259.93,730.06 260.41,730.11 260.88,730.15 261.36,730.18 261.76,730.19 261.84,730.19 262.32,730.15 262.79,730.07 263.27,729.94 263.75,729.77 264.23,729.56 264.71,729.33 265.18,729.07 265.66,728.8 266.14,728.51 266.62,728.22 267.09,727.92 267.57,727.63 268.05,727.34 268.53,727.07 269,726.82 269.48,726.6 269.72,726.5 269.96,726.4 270.44,726.18 270.91,725.96 271.39,725.73 271.87,725.49 272.35,725.26 272.82,725.03 273.3,724.81 273.78,724.6 274.26,724.4 274.73,724.23 275.21,724.08 275.69,723.95 276.17,723.86 276.65,723.81 277.04,723.8 277.12,723.8 277.6,723.83 278.08,723.92 278.56,724.04 279.03,724.21 279.51,724.41 279.99,724.64 280.47,724.9 280.94,725.18 281.42,725.47 281.9,725.77 282.38,726.07 282.85,726.38 283.33,726.68 283.81,726.97 284.29,727.25 284.76,727.51 285.24,727.74 285.64,727.92 285.72,727.95 286.2,728.14 286.67,728.33 287.15,728.51 287.63,728.69 288.11,728.87 288.59,729.04 289.06,729.21 289.54,729.38 290.02,729.55 290.5,729.71 290.97,729.87 291.45,730.03 291.93,730.2 292.41,730.36 292.88,730.52 293.36,730.68 293.6,730.76 293.84,730.84 294.32,730.99 294.79,731.14 295.27,731.29 295.75,731.43 296.23,731.57 296.7,731.71 297.18,731.85 297.66,731.99 298.14,732.13 298.61,732.28 299.09,732.43 299.57,732.58 300.05,732.74 300.53,732.91 301,733.09 301.48,733.28 301.56,733.32 301.96,733.49 302.44,733.73 302.91,733.98 303.39,734.26 303.87,734.55 304.35,734.85 304.82,735.15 305.3,735.45 305.78,735.75 306.26,736.03 306.73,736.3 307.21,736.55 307.69,736.77 307.93,736.87 308.17,736.97 308.64,737.17 309.12,737.37 309.6,737.56 310.08,737.74 310.55,737.9 311.03,738.02 311.51,738.11 311.91,738.15 311.99,738.15 312.47,738.17 312.94,738.19 313.42,738.21 313.9,738.23 314.38,738.25 314.85,738.27 315.33,738.29 315.81,738.31 316.29,738.32 316.76,738.34 317.24,738.35 317.72,738.37 318.2,738.38 318.67,738.4 319.15,738.41 319.63,738.42 320.11,738.43 320.58,738.44 321.06,738.45 321.54,738.46 322.02,738.47 322.49,738.48 322.97,738.49 323.45,738.5 323.93,738.51 324.41,738.51 324.88,738.52 325.36,738.53 325.84,738.53 326.32,738.54 326.79,738.54 327.27,738.55 327.75,738.55 328.23,738.56 328.7,738.56 329.18,738.56 329.66,738.56 330.14,738.57 330.61,738.57 331.09,738.57 331.57,738.57 332.05,738.57 332.52,738.57 333,738.57 333.4,738.57" fill="none" stroke="#111111" stroke-width="1.6" stroke-linejoin="round" stroke-linecap="round"/>
<polyline points="56.31,739 56.47,710.86 56.95,710.43 57.43,710 57.9,709.58 58.38,709.15 58.86,708.73 59.34,708.32 59.81,707.91 60.29,707.5 60.77,707.1 61.25,706.7 61.73,706.31 62.2,705.93 62.6,705.61 62.68,705.54 63.16,705.14 63.64,704.71 64.11,704.25 64.59,703.78 65.07,703.31 65.55,702.84 66.02,702.39 66.5,701.95 66.98,701.53 67.46,701.16 67.93,700.82 68.41,700.54 68.89,700.32 69.37,700.16 69.84,700.08 70.08,700.06 70.32,700.07 70.8,700.14 71.28,700.26 71.75,700.43 72.23,700.65 72.71,700.91 73.19,701.2 73.67,701.53 74.14,701.88 74.62,702.25 75.1,702.63 75.26,702.76 75.58,703.07 76.05,703.66 76.53,704.4 77.01,705.23 77.49,706.13 77.96,707.06 78.44,707.99 78.68,708.45 78.92,708.97 79.4,710.25 79.87,711.49 80.35,712.23 80.51,712.29 80.83,711.94 81.31,710.51 81.78,708.62 82.26,707.03 82.74,705.74 83.22,704.4 83.69,703.25 84.17,702.5 84.49,702.34 84.65,702.35 85.13,702.54 85.61,702.93 86.08,703.47 86.56,704.12 87.04,704.85 87.52,705.62 87.99,706.38 88.47,707.09 88.95,707.72 89.43,708.22 89.9,708.55 89.98,708.59 90.38,708.75 90.86,708.91 91.34,709.04 91.81,709.15 92.29,709.24 92.77,709.33 93.25,709.41 93.72,709.5 94.2,709.59 94.68,709.71 95.16,709.85 95.63,710.02 95.95,710.15 96.11,710.23 96.59,710.57 97.07,711.02 97.55,711.58 98.02,712.22 98.5,712.91 98.98,713.63 99.46,714.36 99.93,715.08 100.41,715.76 100.57,715.98 100.89,716.41 101.37,717.06 101.84,717.72 102.32,718.39 102.8,719.06 103.28,719.74 103.75,720.43 104.23,721.12 104.31,721.24 104.71,721.87 105.19,722.73 105.66,723.66 106.14,724.61 106.62,725.53 107.1,726.37 107.57,727.07 108.05,727.59 108.53,727.88 108.77,727.92 109.01,727.87 109.49,727.5 109.96,726.86 110.44,726.03 110.92,725.09 111.4,724.14 111.87,723.26 112.35,722.55 112.83,722.08 113.23,721.95 113.31,721.96 113.78,722.26 114.26,722.9 114.74,723.72 115.22,724.55 115.69,725.24 116.17,725.62 116.25,725.64 116.65,725.72 117.13,725.81 117.6,725.89 118.08,725.96 118.56,726.03 119.04,726.09 119.51,726.14 119.99,726.19 120.47,726.23 120.95,726.26 121.43,726.29 121.9,726.32 122.38,726.33 122.86,726.35 123.34,726.35 123.65,726.35 123.81,726.33 124.29,726.05 124.77,725.52 125.25,724.87 125.72,724.19 126.2,723.6 126.44,723.37 126.68,723.17 127.16,722.74 127.63,722.31 128.11,721.91 128.59,721.58 129.07,721.34 129.54,721.24 129.62,721.24 130.02,721.35 130.5,721.7 130.98,722.2 131.45,722.73 131.93,723.19 132.41,723.47 132.65,723.51 132.89,723.44 133.37,722.93 133.84,722.01 134.32,720.76 134.4,720.53 134.8,718.18 135.28,713.59 135.59,710.58 135.75,709.1 136.23,703.77 136.71,699.09 137.11,697.51 137.19,697.52 137.66,698.23 138.14,699.69 138.62,701.48 139.1,703.22 139.18,703.48 139.57,704.93 140.05,707.04 140.53,709.12 141.01,710.77 141.48,711.56 141.56,711.57 141.96,709.64 142.44,703.9 142.92,697.33 143,696.37 143.39,691.12 143.87,684.67 144.11,682.16 144.35,679.98 144.83,675.89 145.31,673.69 145.38,673.63 145.78,675.6 146.26,681.37 146.74,687.84 147.22,694.24 147.69,701.36 148.17,708.4 148.33,710.58 148.65,715.05 149.13,721.94 149.6,727.82 149.92,730.47 150.08,731.46 150.56,734.17 151.04,735.9 151.28,736.16 151.51,736.12 151.99,735.9 152.47,735.54 152.95,735.16 153.42,734.86 153.9,734.74 154.38,735.37 154.86,736.67 155.33,737.72 155.49,737.86 155.81,737.98 156.29,738.13 156.77,738.23 157.25,738.28 157.48,738.29 157.72,738.29 158.2,738.29 158.68,738.29 159.16,738.28 159.63,738.28 160.11,738.28 160.59,738.27 161.07,738.27 161.54,738.26 162.02,738.26 162.5,738.25 162.98,738.25 163.45,738.24 163.93,738.23 164.41,738.23 164.89,738.22 165.36,738.22 165.84,738.21 166.24,738.2 166.32,738.2 166.8,738.2 167.27,738.19 167.75,738.18 168.23,738.18 168.71,738.17 169.19,738.16 169.66,738.15 170.14,738.14 170.62,738.13 171.1,738.13 171.57,738.12 172.05,738.11 172.53,738.1 173.01,738.09 173.48,738.08 173.96,738.07 174.44,738.06 174.92,738.05 175.39,738.04 175.87,738.03 176.35,738.02 176.83,738.01 177.3,738 177.78,737.99 178.18,737.98 178.26,737.98 178.74,737.96 179.21,737.95 179.69,737.94 180.17,737.93 180.65,737.92 181.13,737.91 181.6,737.9 182.08,737.89 182.56,737.88 183.04,737.87 183.51,737.86 183.99,737.84 184.47,737.83 184.95,737.82 185.42,737.81 185.9,737.8 186.38,737.78 186.86,737.77 187.33,737.76 187.81,737.75 188.29,737.74 188.77,737.73 189.24,737.71 189.72,737.7 190.12,737.69 190.2,737.69 190.68,737.68 191.15,737.67 191.63,737.66 192.11,737.64 192.59,737.63 193.07,737.62 193.54,737.61 194.02,737.6 194.5,737.59 194.98,737.57 195.45,737.56 195.93,737.55 196.41,737.54 196.89,737.53 197.36,737.51 197.84,737.5 198.32,737.49 198.8,737.48 199.27,737.47 199.75,737.45 200.23,737.44 200.71,737.43 201.18,737.42 201.66,737.4 202.06,737.39 202.14,737.39 202.62,737.38 203.09,737.37 203.57,737.35 204.05,737.34 204.53,737.33 205.01,737.32 205.48,737.3 205.96,737.29 206.44,737.28 206.92,737.27 207.39,737.25 207.87,737.24 208.35,737.23 208.83,737.21 209.3,737.2 209.78,737.19 210.26,737.17 210.74,737.16 211.21,737.15 211.69,737.13 212.01,737.12 212.17,737.12 212.65,737.11 213.12,737.09 213.6,737.08 214.08,737.06 214.56,737.05 215.03,737.03 215.51,737.02 215.99,737 216.47,736.99 216.95,736.97 217.42,736.96 217.9,736.94 218.38,736.92 218.86,736.91 219.33,736.89 219.81,736.87 219.97,736.87 220.29,736.86 220.77,736.84 221.24,736.82 221.72,736.8 222.2,736.78 222.68,736.77 223.15,736.75 223.63,736.73 224.11,736.71 224.59,736.69 225.06,736.67 225.54,736.65 226.02,736.63 226.5,736.6 226.97,736.58 227.45,736.56 227.93,736.53 228.33,736.51 228.41,736.51 228.89,736.49 229.36,736.46 229.84,736.44 230.32,736.42 230.8,736.4 231.27,736.37 231.75,736.35 232.23,736.31 232.71,736.28 233.18,736.23 233.66,736.19 233.9,736.16 234.14,736.12 234.62,736 235.09,735.83 235.57,735.61 236.05,735.34 236.53,735.04 237,734.71 237.48,734.34 237.88,734.03 237.96,733.96 238.44,733.45 238.91,732.79 239.39,732.02 239.87,731.18 240.35,730.31 240.83,729.46 241.06,729.05 241.3,728.65 241.78,727.8 242.26,726.92 242.74,726.03 243.21,725.15 243.69,724.3 244.17,723.5 244.25,723.37 244.65,722.73 245.12,721.97 245.6,721.22 246.08,720.48 246.56,719.78 247.03,719.11 247.51,718.5 247.99,717.94 248.23,717.68 248.47,717.45 248.94,717.04 249.42,716.69 249.9,716.37 250.38,716.05 250.85,715.72 251.33,715.34 251.81,714.9 252.13,714.56 252.29,714.37 252.77,713.69 253.24,712.87 253.72,711.95 254.2,710.94 254.68,709.86 255.15,708.74 255.63,707.6 256.11,706.37 256.59,705.01 257.06,703.55 257.54,702.03 258.02,700.49 258.5,698.98 258.97,697.54 259.13,697.08 259.45,696.2 259.93,694.96 260.41,693.78 260.88,692.6 261.36,691.39 261.84,690.09 262.32,688.65 262.64,687.6 262.79,687.04 263.27,685.21 263.75,683.17 264.23,680.97 264.71,678.62 265.18,676.16 265.66,673.61 266.14,671.01 266.62,668.23 267.09,665.21 267.57,662.02 268.05,658.74 268.53,655.44 269,652.19 269.48,649.09 269.64,648.1 269.96,646.12 270.44,643.11 270.91,640.11 271.39,637.19 271.87,634.4 272.35,631.81 272.82,629.49 272.9,629.13 273.3,627.38 273.78,625.35 274.26,623.48 274.73,621.87 275.21,620.61 275.29,620.44 275.69,619.61 276.17,618.72 276.65,618.15 276.88,618.07 277.12,618.13 277.6,618.52 278.08,619.17 278.56,619.94 279.03,620.71 279.27,621.04 279.51,621.35 279.99,621.97 280.47,622.59 280.94,623.21 281.42,623.86 281.9,624.53 282.38,625.24 282.85,625.99 283.09,626.39 283.33,626.8 283.81,627.63 284.29,628.51 284.76,629.45 285.24,630.48 285.72,631.6 286.2,632.84 286.44,633.52 286.67,634.26 287.15,636.01 287.63,638.06 288.11,640.31 288.59,642.68 289.06,645.09 289.54,647.45 289.86,648.96 290.02,649.69 290.5,651.89 290.97,654.09 291.45,656.29 291.93,658.49 292.41,660.7 292.88,662.92 293.36,665.15 293.84,667.41 294.32,669.68 294.79,671.97 295.27,674.29 295.75,676.64 296.23,679.02 296.62,681.03 296.7,681.44 297.18,683.95 297.66,686.54 298.14,689.21 298.61,691.92 299.09,694.64 299.57,697.35 300.05,700.03 300.53,702.64 301,705.17 301.48,707.58 301.64,708.36 301.96,709.9 302.44,712.25 302.91,714.61 303.39,716.96 303.87,719.25 304.35,721.47 304.82,723.57 305.3,725.54 305.78,727.35 306.26,728.95 306.73,730.33 307.21,731.57 307.69,732.74 308.17,733.78 308.64,734.65 309.12,735.29 309.28,735.44 309.6,735.71 310.08,736.09 310.55,736.41 311.03,736.67 311.51,736.82 311.91,736.87 311.99,736.87 312.47,736.87 312.94,736.87 313.42,736.87 313.9,736.87 314.38,736.87 314.85,736.87 315.33,736.87 315.81,736.87 316.29,736.87 316.76,736.87 317.24,736.87 317.72,736.87 318.2,736.87 318.67,736.87 319.15,736.87 319.63,736.87 320.11,736.87 320.58,736.87 321.06,736.87 321.46,736.87 321.54,736.87 322.02,736.87 322.49,736.87 322.97,736.87 323.45,736.87 323.93,736.87 324.41,736.87 324.88,736.87 325.36,736.87 325.84,736.87 326.32,736.87 326.79,736.87 327.27,736.87 327.75,736.87 328.23,736.87 328.7,736.87 329.18,736.87 329.66,736.87 330.14,736.87 330.61,736.87 331.09,736.87 331.57,736.87 332.05,736.87 332.52,736.87 333,736.87 333.4,736.87" fill="none" stroke="#f51b1b" stroke-width="1.9" stroke-linejoin="round" stroke-linecap="round"/>
<polyline points="56.31,739 56.47,727.21 56.95,727.21 57.43,727.21 57.9,727.21 58.38,727.21 58.86,727.21 59.34,727.21 59.81,727.21 60.29,727.21 60.77,727.21 61.25,727.21 61.73,727.21 62.2,727.21 62.68,727.21 63.16,727.21 63.64,727.21 64.03,727.21 64.11,727.21 64.59,727.23 65.07,727.29 65.55,727.37 66.02,727.48 66.5,727.62 66.98,727.78 67.46,727.95 67.93,728.14 68.41,728.33 68.89,728.54 69.37,728.75 69.84,728.96 70.32,729.17 70.72,729.34 70.8,729.37 71.28,729.59 71.75,729.83 72.23,730.09 72.71,730.37 73.19,730.66 73.67,730.97 74.14,731.29 74.62,731.62 75.1,731.96 75.58,732.3 76.05,732.64 76.53,732.98 77.01,733.32 77.49,733.65 77.96,733.98 78.44,734.29 78.92,734.59 79.4,734.91 79.87,735.26 80.35,735.63 80.83,736.01 81.31,736.39 81.78,736.77 82.26,737.12 82.74,737.45 83.22,737.74 83.69,737.97 84.17,738.15 84.65,738.26 85.05,738.29 85.13,738.29 85.61,738.27 86.08,738.23 86.56,738.17 87.04,738.08 87.52,737.97 87.99,737.83 88.47,737.67 88.95,737.48 89.43,737.26 89.9,737.01 90.38,736.74 90.86,736.44 91.34,735.36 91.81,733.11 92.29,730.21 92.77,727.17 93.25,724.53 93.72,722.82 93.8,722.66 94.2,721.98 94.68,721.21 95.16,720.48 95.63,719.82 96.11,719.2 96.59,718.65 97.07,718.17 97.55,717.75 98.02,717.41 98.5,717.14 98.98,716.96 99.46,716.85 99.77,716.83 99.93,716.84 100.41,716.96 100.89,717.19 101.37,717.5 101.84,717.89 102.32,718.3 102.8,718.73 103.28,719.13 103.44,719.26 103.75,719.51 104.23,719.88 104.71,720.27 105.19,720.69 105.66,721.15 106.14,721.67 106.54,722.15 106.62,722.26 107.1,723.19 107.57,724.41 108.05,725.72 108.53,726.88 109.01,727.69 109.41,727.94 109.49,727.92 109.96,727.36 110.44,726.17 110.92,724.64 111.4,723.08 111.71,722.15 111.87,721.69 112.35,720.02 112.83,718.32 113.31,717.1 113.62,716.82 113.78,716.91 114.26,718.03 114.74,719.79 115.22,721.43 115.69,722.15 116.17,722.11 116.65,722.01 117.13,721.86 117.6,721.69 118.08,721.52 118.48,721.39 118.56,721.37 119.04,721.23 119.51,721.11 119.99,721 120.47,720.89 120.95,720.77 121.43,720.64 121.9,720.5 122.38,720.33 122.86,720.14 123.34,719.91 123.81,719.63 124.29,719.32 124.37,719.26 124.77,718.46 125.25,716.57 125.72,714.39 126.2,712.66 126.6,712.1 126.68,712.12 127.16,712.93 127.63,714.48 128.11,716.19 128.59,717.44 128.91,717.74 129.07,717.67 129.54,716.8 130.02,715.38 130.5,713.95 130.98,713.08 131.14,713.02 131.45,713.45 131.93,715.32 132.41,717.82 132.89,720 133.37,720.93 133.84,719.69 134.32,716.52 134.8,712.25 135.2,708.45 135.28,707.64 135.75,700.97 136.23,693.73 136.39,691.8 136.71,688.15 137.19,682.83 137.66,679.58 137.82,679.32 138.14,680.46 138.62,684.99 139.1,690.02 139.18,690.69 139.57,694.1 140.05,698.61 140.53,702.88 141.01,706.16 141.48,707.7 141.56,707.74 141.96,704.77 142.44,696.03 142.92,686.14 143,684.72 143.39,676.76 143.87,667.33 144.11,664.26 144.35,662.1 144.83,658.44 145.31,656.63 145.38,656.58 145.78,658.82 146.26,665.46 146.74,673.07 147.22,681.01 147.69,690.14 148.17,699.16 148.33,701.91 148.65,707.49 149.13,716.02 149.6,723.29 149.92,726.64 150.08,727.89 150.56,731.27 151.04,733.53 151.28,734.03 151.51,734.25 151.99,734.59 152.47,734.73 152.55,734.74 152.95,733.85 153.42,731.69 153.9,730.47 154.38,731.99 154.86,734.78 155.26,736.16 155.33,736.23 155.81,736.64 156.29,736.95 156.77,737.17 157.25,737.28 157.48,737.29 157.72,737.29 158.2,737.29 158.68,737.29 159.16,737.28 159.63,737.26 160.11,737.25 160.59,737.24 161.07,737.22 161.54,737.2 162.02,737.18 162.5,737.16 162.98,737.13 163.45,737.11 163.93,737.09 164.41,737.06 164.89,737.04 165.36,737.01 165.84,736.99 166.24,736.97 166.32,736.97 166.8,736.94 167.27,736.92 167.75,736.89 168.23,736.86 168.71,736.83 169.19,736.8 169.66,736.77 170.14,736.74 170.62,736.7 171.1,736.67 171.57,736.64 172.05,736.6 172.53,736.56 173.01,736.53 173.48,736.49 173.96,736.45 174.44,736.41 174.92,736.37 175.39,736.33 175.87,736.29 176.35,736.26 176.83,736.22 177.3,736.18 177.78,736.14 178.18,736.11 178.26,736.1 178.74,736.06 179.21,736.02 179.69,735.98 180.17,735.94 180.65,735.9 181.13,735.86 181.6,735.82 182.08,735.77 182.56,735.73 183.04,735.69 183.51,735.64 183.99,735.6 184.47,735.56 184.95,735.51 185.42,735.47 185.9,735.42 186.38,735.38 186.86,735.33 187.33,735.29 187.81,735.24 188.29,735.2 188.77,735.15 189.24,735.11 189.72,735.06 190.12,735.03 190.2,735.02 190.68,734.98 191.15,734.93 191.63,734.89 192.11,734.84 192.59,734.8 193.07,734.75 193.54,734.71 194.02,734.66 194.5,734.62 194.98,734.57 195.45,734.53 195.93,734.48 196.41,734.44 196.89,734.39 197.36,734.35 197.84,734.3 198.32,734.26 198.8,734.21 199.27,734.17 199.75,734.12 200.23,734.07 200.71,734.03 201.18,733.98 201.66,733.93 202.06,733.89 202.14,733.89 202.62,733.84 203.09,733.79 203.57,733.74 204.05,733.7 204.53,733.65 205.01,733.6 205.48,733.55 205.96,733.51 206.44,733.46 206.92,733.41 207.39,733.36 207.87,733.31 208.35,733.26 208.83,733.21 209.3,733.16 209.78,733.11 210.26,733.06 210.74,733.01 211.21,732.96 211.69,732.9 212.01,732.87 212.17,732.85 212.65,732.8 213.12,732.75 213.6,732.7 214.08,732.65 214.56,732.6 215.03,732.55 215.51,732.49 215.99,732.44 216.47,732.39 216.95,732.33 217.42,732.27 217.9,732.21 218.38,732.14 218.86,732.07 219.33,732 219.81,731.92 219.97,731.89 220.29,731.84 220.77,731.74 221.24,731.64 221.72,731.53 222.2,731.41 222.68,731.28 223.15,731.15 223.63,731.01 224.11,730.86 224.59,730.71 225.06,730.55 225.54,730.39 226.02,730.23 226.5,730.06 226.97,729.89 227.45,729.72 227.93,729.55 228.33,729.41 228.41,729.38 228.89,729.2 229.36,729.02 229.84,728.83 230.32,728.63 230.8,728.43 231.27,728.22 231.75,728 232.23,727.77 232.71,727.54 233.18,727.3 233.66,727.05 233.9,726.92 234.14,726.79 234.62,726.53 235.09,726.25 235.57,725.96 236.05,725.65 236.53,725.33 237,724.98 237.48,724.61 237.88,724.28 237.96,724.21 238.44,723.81 238.91,723.36 239.39,722.81 239.87,722.08 240.35,720.94 240.83,719.2 241.3,716.84 241.46,715.91 241.78,712.2 242.26,705.58 242.42,704.9 242.74,706.36 243.21,711.1 243.61,713.27 243.69,713.24 244.17,712.15 244.65,709.79 245.12,706.65 245.6,703.2 245.84,701.51 246.08,699.56 246.56,694.89 246.8,692.88 247.03,691.01 247.51,687.71 247.75,687.13 247.99,687.73 248.47,691.29 248.94,695.34 249.02,695.83 249.42,698.08 249.9,700.53 250.38,702.35 250.85,703.71 251.33,705 251.81,706.17 252.29,707.19 252.77,708.01 253.24,708.58 253.72,708.86 253.88,708.87 254.2,708.78 254.68,708.32 255.15,707.53 255.63,706.48 256.11,705.24 256.59,703.87 257.06,702.43 257.54,701 258.02,699.63 258.5,698.4 258.97,697.37 259.13,697.08 259.45,696.56 259.93,695.87 260.41,695.24 260.88,694.64 261.36,694.04 261.84,693.39 262.32,692.66 262.64,692.12 262.79,691.82 263.27,690.87 263.75,689.8 264.23,688.65 264.71,687.42 265.18,686.13 265.66,684.8 266.14,683.43 266.62,681.98 267.09,680.4 267.57,678.73 268.05,677.01 268.53,675.28 269,673.59 269.48,671.96 269.64,671.44 269.96,670.41 270.44,668.83 270.91,667.27 271.39,665.73 271.87,664.28 272.35,662.92 272.82,661.71 272.9,661.52 273.3,660.6 273.78,659.54 274.26,658.56 274.73,657.72 275.21,657.06 275.29,656.97 275.69,656.54 276.17,656.07 276.65,655.77 276.88,655.73 277.12,655.78 277.6,656.16 278.08,656.78 278.56,657.52 279.03,658.25 279.27,658.57 279.51,658.87 279.99,659.46 280.47,660.04 280.94,660.63 281.42,661.24 281.9,661.87 282.38,662.54 282.85,663.25 283.09,663.62 283.33,664 283.81,664.78 284.29,665.59 284.76,666.47 285.24,667.41 285.72,668.44 286.2,669.57 286.44,670.18 286.67,670.85 287.15,672.44 287.63,674.27 288.11,676.28 288.59,678.37 289.06,680.46 289.54,682.48 289.86,683.75 290.02,684.36 290.5,686.18 290.97,688 291.45,689.8 291.93,691.6 292.41,693.38 292.88,695.16 293.36,696.92 293.84,698.68 294.32,700.42 294.79,702.15 295.27,703.87 295.75,705.58 296.23,707.28 296.62,708.68 296.7,708.96 297.18,710.68 297.66,712.43 298.14,714.21 298.61,715.97 299.09,717.71 299.57,719.4 300.05,721.02 300.53,722.54 301,723.95 301.48,725.21 301.64,725.59 301.96,726.35 302.44,727.47 302.91,728.57 303.39,729.64 303.87,730.66 304.35,731.61 304.82,732.48 305.3,733.26 305.78,733.92 306.26,734.46 306.73,734.86 307.21,735.17 307.69,735.45 308.17,735.69 308.64,735.87 309.12,735.99 309.28,736.01 309.6,736.04 310.08,736.08 310.55,736.11 311.03,736.14 311.51,736.15 311.91,736.16 311.99,736.16 312.47,736.16 312.94,736.16 313.42,736.16 313.9,736.16 314.38,736.16 314.85,736.16 315.33,736.16 315.81,736.16 316.29,736.16 316.76,736.16 317.24,736.16 317.72,736.16 318.2,736.16 318.67,736.16 319.15,736.16 319.63,736.16 320.11,736.16 320.58,736.16 321.06,736.16 321.46,736.16 321.54,736.16 322.02,736.16 322.49,736.16 322.97,736.16 323.45,736.16 323.93,736.16 324.41,736.16 324.88,736.16 325.36,736.16 325.84,736.16 326.32,736.16 326.79,736.16 327.27,736.16 327.75,736.16 328.23,736.16 328.7,736.16 329.18,736.16 329.66,736.16 330.14,736.16 330.61,736.16 331.09,736.16 331.57,736.16 332.05,736.16 332.52,736.16 333,736.16 333.4,736.16" fill="none" stroke="#138585" stroke-width="1.9" stroke-linejoin="round" stroke-linecap="round"/>
<polyline points="56.31,739 56.47,721.95 56.95,721.82 57.43,721.71 57.9,721.62 58.38,721.53 58.86,721.47 59.34,721.41 59.81,721.36 60.29,721.32 60.77,721.29 61.25,721.27 61.73,721.26 62.2,721.25 62.68,721.24 63.16,721.24 63.64,721.24 64.03,721.24 64.11,721.24 64.59,721.26 65.07,721.32 65.55,721.41 66.02,721.52 66.5,721.66 66.98,721.82 67.46,722 67.93,722.19 68.41,722.4 68.89,722.62 69.37,722.85 69.84,723.08 70.32,723.32 70.72,723.51 70.8,723.55 71.28,723.81 71.75,724.12 72.23,724.47 72.71,724.85 73.19,725.26 73.67,725.69 74.14,726.15 74.62,726.62 75.1,727.11 75.58,727.6 76.05,728.1 76.53,728.6 77.01,729.09 77.49,729.57 77.96,730.03 78.44,730.48 78.92,730.9 79.4,731.33 79.87,731.8 80.35,732.3 80.83,732.82 81.31,733.34 81.78,733.86 82.26,734.36 82.74,734.83 83.22,735.26 83.69,735.64 84.17,735.96 84.65,736.21 85.13,736.37 85.61,736.44 85.68,736.44 86.08,736.44 86.56,736.41 87.04,736.37 87.52,736.3 87.99,736.22 88.47,736.12 88.95,736 89.43,735.86 89.9,735.69 90.38,735.51 90.86,735.31 91.34,734.54 91.81,732.92 92.29,730.8 92.77,728.55 93.25,726.53 93.72,725.09 93.8,724.93 94.2,724.22 94.68,723.4 95.16,722.63 95.63,721.94 96.11,721.36 96.59,720.91 97.07,720.63 97.55,720.53 98.02,720.97 98.5,722.1 98.98,723.6 99.46,725.15 99.93,726.44 100.41,727.15 100.57,727.21 100.89,727.06 101.37,726.39 101.84,725.39 102.32,724.29 102.8,723.33 103.28,722.74 103.52,722.66 103.75,722.69 104.23,722.93 104.71,723.35 105.19,723.92 105.66,724.58 106.14,725.29 106.62,726 107.1,726.66 107.57,727.22 108.05,727.65 108.53,727.88 108.77,727.92 109.01,727.83 109.49,727.2 109.96,726.08 110.44,724.63 110.92,723.01 111.4,721.36 111.87,719.83 112.35,718.59 112.83,717.78 113.23,717.54 113.31,717.55 113.78,717.87 114.26,718.54 114.74,719.39 115.22,720.24 115.69,720.91 116.17,721.23 116.25,721.24 116.65,721.23 117.13,721.22 117.6,721.2 118.08,721.16 118.56,721.11 119.04,721.05 119.51,720.98 119.99,720.89 120.47,720.78 120.95,720.67 121.43,720.53 121.9,720.38 122.38,720.21 122.86,720.03 123.34,719.82 123.65,719.67 123.81,719.49 124.29,717.91 124.77,715.49 125.25,713.12 125.72,711.69 125.88,711.57 126.2,711.82 126.68,712.86 127.16,714.25 127.63,715.46 128.11,715.98 128.59,715.16 129.07,713.23 129.54,710.97 130.02,709.17 130.42,708.59 130.5,708.63 130.98,710.14 131.45,713.13 131.93,716.55 132.41,719.36 132.89,720.53 133.37,719.62 133.84,717.27 134.32,714.07 134.8,710.58 135.28,705.92 135.75,700.29 135.99,697.79 136.23,695.33 136.71,690.11 137.19,686.7 137.35,686.42 137.66,687 138.14,689.49 138.62,692.88 139.1,695.97 139.18,696.37 139.57,698.44 140.05,701.12 140.53,703.63 141.01,705.54 141.48,706.44 141.56,706.46 141.96,704.55 142.44,698.76 142.92,691.77 143,690.69 143.39,683.95 143.87,675.23 144.11,672.21 144.35,670 144.83,666.13 145.31,664.16 145.38,664.11 145.78,666.2 146.26,672.34 146.74,679.32 147.22,686.41 147.69,694.44 148.17,702.42 148.33,704.9 148.65,709.96 149.13,717.76 149.6,724.49 149.92,727.63 150.08,728.84 150.56,732.22 151.04,734.41 151.28,734.74 151.51,734.74 151.99,734.74 152.47,734.74 152.55,734.74 152.95,733.11 153.42,729.15 153.9,726.92 154.38,729.45 154.86,734.03 155.26,736.16 155.33,736.24 155.81,736.66 156.29,736.97 156.77,737.18 157.25,737.28 157.48,737.29 157.72,737.29 158.2,737.29 158.68,737.29 159.16,737.28 159.63,737.27 160.11,737.26 160.59,737.24 161.07,737.23 161.54,737.21 162.02,737.19 162.5,737.17 162.98,737.16 163.45,737.13 163.93,737.11 164.41,737.09 164.89,737.07 165.36,737.05 165.84,737.03 166.24,737.01 166.32,737.01 166.8,736.99 167.27,736.97 167.75,736.94 168.23,736.92 168.71,736.89 169.19,736.87 169.66,736.84 170.14,736.81 170.62,736.78 171.1,736.75 171.57,736.72 172.05,736.69 172.53,736.66 173.01,736.63 173.48,736.59 173.96,736.56 174.44,736.53 174.92,736.49 175.39,736.46 175.87,736.43 176.35,736.39 176.83,736.36 177.3,736.32 177.78,736.29 178.18,736.26 178.26,736.26 178.74,736.22 179.21,736.19 179.69,736.15 180.17,736.12 180.65,736.08 181.13,736.05 181.6,736.01 182.08,735.97 182.56,735.94 183.04,735.9 183.51,735.86 183.99,735.82 184.47,735.78 184.95,735.75 185.42,735.71 185.9,735.67 186.38,735.63 186.86,735.59 187.33,735.55 187.81,735.51 188.29,735.47 188.77,735.43 189.24,735.4 189.72,735.36 190.12,735.33 190.2,735.32 190.68,735.28 191.15,735.24 191.63,735.2 192.11,735.16 192.59,735.13 193.07,735.09 193.54,735.05 194.02,735.01 194.5,734.97 194.98,734.93 195.45,734.89 195.93,734.85 196.41,734.81 196.89,734.78 197.36,734.74 197.84,734.7 198.32,734.66 198.8,734.62 199.27,734.58 199.75,734.54 200.23,734.5 200.71,734.46 201.18,734.42 201.66,734.37 202.06,734.34 202.14,734.33 202.62,734.29 203.09,734.25 203.57,734.21 204.05,734.17 204.53,734.13 205.01,734.09 205.48,734.05 205.96,734 206.44,733.96 206.92,733.92 207.39,733.88 207.87,733.83 208.35,733.79 208.83,733.75 209.3,733.71 209.78,733.66 210.26,733.62 210.74,733.57 211.21,733.53 211.69,733.48 212.01,733.45 212.17,733.43 212.65,733.39 213.12,733.34 213.6,733.3 214.08,733.25 214.56,733.21 215.03,733.16 215.51,733.12 215.99,733.07 216.47,733.02 216.95,732.97 217.42,732.92 217.9,732.87 218.38,732.81 218.86,732.75 219.33,732.69 219.81,732.63 219.97,732.61 220.29,732.56 220.77,732.49 221.24,732.41 221.72,732.32 222.2,732.24 222.68,732.15 223.15,732.05 223.63,731.95 224.11,731.85 224.59,731.74 225.06,731.63 225.54,731.52 226.02,731.41 226.5,731.29 226.97,731.17 227.45,731.05 227.93,730.93 228.33,730.83 228.41,730.81 228.89,730.68 229.36,730.53 229.84,730.38 230.32,730.21 230.8,730.05 231.27,729.88 231.75,729.72 232.23,729.55 232.71,729.4 233.18,729.25 233.66,729.12 233.9,729.05 234.14,728.99 234.62,728.89 235.09,728.79 235.57,728.7 236.05,728.61 236.53,728.51 237,728.41 237.48,728.3 237.88,728.2 237.96,728.18 238.44,728.05 238.91,727.9 239.39,727.73 239.87,727.49 240.35,727.12 240.83,726.56 241.3,725.8 241.46,725.5 241.78,724.3 242.26,722.17 242.42,721.95 242.74,722.42 243.21,723.95 243.61,724.65 243.69,724.63 244.17,724.05 244.65,722.78 245.12,721.08 245.6,719.23 245.84,718.32 246.08,717.27 246.56,714.76 246.8,713.67 247.03,712.67 247.51,710.89 247.75,710.58 247.99,711.05 248.47,713.84 248.94,717.01 249.02,717.4 249.42,719.16 249.9,721.09 250.38,722.52 250.85,723.58 251.33,724.59 251.81,725.51 252.29,726.31 252.77,726.95 253.24,727.4 253.72,727.62 253.88,727.63 254.2,727.35 254.68,725.97 255.15,723.65 255.63,720.6 256.11,717.04 256.59,713.2 257.06,709.3 257.54,705.56 258.02,702.2 258.5,699.44 258.97,697.5 259.13,697.08 259.45,696.41 259.93,695.58 260.41,694.9 260.88,694.31 261.36,693.75 261.84,693.14 262.32,692.44 262.64,691.88 262.79,691.57 263.27,690.57 263.75,689.45 264.23,688.24 264.71,686.95 265.18,685.6 265.66,684.21 266.14,682.78 266.62,681.26 267.09,679.6 267.57,677.85 268.05,676.05 268.53,674.24 269,672.46 269.48,670.75 269.64,670.21 269.96,669.12 270.44,667.48 270.91,665.83 271.39,664.23 271.87,662.7 272.35,661.28 272.82,660 272.9,659.81 273.3,658.85 273.78,657.73 274.26,656.71 274.73,655.83 275.21,655.13 275.29,655.04 275.69,654.58 276.17,654.09 276.65,653.78 276.88,653.74 277.12,653.79 277.6,654.17 278.08,654.8 278.56,655.55 279.03,656.29 279.27,656.61 279.51,656.91 279.99,657.5 280.47,658.09 280.94,658.69 281.42,659.3 281.9,659.94 282.38,660.61 282.85,661.33 283.09,661.7 283.33,662.09 283.81,662.87 284.29,663.7 284.76,664.58 285.24,665.53 285.72,666.58 286.2,667.72 286.44,668.34 286.67,669.02 287.15,670.62 287.63,672.48 288.11,674.51 288.59,676.63 289.06,678.75 289.54,680.8 289.86,682.09 290.02,682.71 290.5,684.56 290.97,686.41 291.45,688.25 291.93,690.07 292.41,691.89 292.88,693.7 293.36,695.5 293.84,697.29 294.32,699.07 294.79,700.83 295.27,702.59 295.75,704.34 296.23,706.08 296.62,707.52 296.7,707.81 297.18,709.57 297.66,711.38 298.14,713.2 298.61,715.02 299.09,716.81 299.57,718.56 300.05,720.23 300.53,721.81 301,723.26 301.48,724.58 301.64,724.98 301.96,725.77 302.44,726.95 302.91,728.1 303.39,729.22 303.87,730.29 304.35,731.29 304.82,732.21 305.3,733.03 305.78,733.73 306.26,734.31 306.73,734.74 307.21,735.08 307.69,735.38 308.17,735.64 308.64,735.84 309.12,735.97 309.28,735.99 309.6,736.02 310.08,736.07 310.55,736.11 311.03,736.14 311.51,736.15 311.91,736.16 311.99,736.16 312.47,736.16 312.94,736.16 313.42,736.16 313.9,736.16 314.38,736.16 314.85,736.16 315.33,736.16 315.81,736.16 316.29,736.16 316.76,736.16 317.24,736.16 317.72,736.16 318.2,736.16 318.67,736.16 319.15,736.16 319.63,736.16 320.11,736.16 320.58,736.16 321.06,736.16 321.46,736.16 321.54,736.16 322.02,736.16 322.49,736.16 322.97,736.16 323.45,736.16 323.93,736.16 324.41,736.16 324.88,736.16 325.36,736.16 325.84,736.16 326.32,736.16 326.79,736.16 327.27,736.16 327.75,736.16 328.23,736.16 328.7,736.16 329.18,736.16 329.66,736.16 330.14,736.16 330.61,736.16 331.09,736.16 331.57,736.16 332.05,736.16 332.52,736.16 333,736.16 333.4,736.16" fill="none" stroke="#2222ee" stroke-width="1.9" stroke-linejoin="round" stroke-linecap="round"/>
<polyline points="56.31,739 56.47,723.37 56.95,723.37 57.43,723.38 57.9,723.39 58.38,723.4 58.86,723.42 59.34,723.44 59.81,723.47 60.29,723.49 60.77,723.53 61.25,723.56 61.73,723.59 62.2,723.63 62.68,723.67 63.16,723.71 63.64,723.76 64.03,723.8 64.11,723.8 64.59,723.86 65.07,723.93 65.55,724.01 66.02,724.11 66.5,724.22 66.98,724.35 67.46,724.48 67.93,724.63 68.41,724.78 68.89,724.95 69.37,725.12 69.84,725.3 70.32,725.48 70.72,725.64 70.8,725.68 71.28,725.9 71.75,726.17 72.23,726.48 72.71,726.83 73.19,727.21 73.67,727.61 74.14,728.03 74.62,728.47 75.1,728.92 75.58,729.38 76.05,729.83 76.53,730.29 77.01,730.73 77.49,731.16 77.96,731.57 78.44,731.96 78.92,732.32 79.4,732.68 79.87,733.07 80.35,733.47 80.83,733.89 81.31,734.3 81.78,734.71 82.26,735.1 82.74,735.47 83.22,735.81 83.69,736.11 84.17,736.35 84.65,736.55 85.13,736.67 85.61,736.73 85.68,736.73 86.08,736.71 86.56,736.67 87.04,736.58 87.52,736.47 87.99,736.31 88.47,736.12 88.95,735.89 89.43,735.62 89.9,735.32 90.38,734.98 90.86,734.59 91.34,733.3 91.81,730.65 92.29,727.35 92.77,724.08 93.25,721.51 93.57,720.53 93.72,720.23 94.2,719.38 94.68,718.64 95.16,718.06 95.63,717.68 96.11,717.54 96.59,718.06 97.07,719.28 97.55,720.66 98.02,721.7 98.34,721.95 98.5,721.92 98.98,721.5 99.46,720.76 99.93,719.88 100.41,719.04 100.89,718.44 101.29,718.25 101.37,718.26 101.84,718.48 102.32,718.97 102.8,719.65 103.28,720.41 103.75,721.17 104.23,721.85 104.31,721.95 104.71,722.46 105.19,723.16 105.66,723.9 106.14,724.64 106.62,725.36 107.1,726.01 107.57,726.56 108.05,726.96 108.53,727.18 108.77,727.21 109.01,727.11 109.49,726.43 109.96,725.22 110.44,723.65 110.92,721.89 111.4,720.11 111.87,718.46 112.35,717.11 112.83,716.23 113.23,715.98 113.31,715.99 113.78,716.31 114.26,716.98 114.74,717.83 115.22,718.67 115.69,719.34 116.17,719.67 116.25,719.67 116.65,719.67 117.13,719.65 117.6,719.61 118.08,719.56 118.56,719.49 119.04,719.4 119.51,719.3 119.99,719.17 120.47,719.03 120.95,718.87 121.43,718.69 121.9,718.48 122.38,718.25 122.86,718.01 123.34,717.74 123.65,717.54 123.81,717.35 124.29,715.88 124.77,713.67 125.25,711.54 125.72,710.25 125.88,710.15 126.2,710.4 126.68,711.44 127.16,712.83 127.63,714.04 128.11,714.56 128.59,713.98 129.07,712.55 129.54,710.71 130.02,708.9 130.5,707.58 130.9,707.17 130.98,707.22 131.45,709.43 131.93,713.42 132.41,717.25 132.89,718.96 133.37,717.46 133.84,713.65 134.32,708.63 134.8,703.48 135.28,697.55 135.75,690.86 135.99,687.84 136.23,684.8 136.71,678.35 137.19,674.12 137.35,673.78 137.66,674.89 138.14,679.63 138.62,685.94 139.1,691.44 139.18,692.11 139.57,695.38 140.05,699.44 140.53,703.12 141.01,705.87 141.48,707.14 141.56,707.17 141.96,704.44 142.44,696.24 142.92,686.49 143,685 143.39,676.09 143.87,664.78 144.11,660.85 144.35,657.91 144.83,652.75 145.31,650.11 145.38,650.05 145.78,652.48 146.26,659.69 146.74,667.95 147.22,676.56 147.69,686.44 148.17,696.22 148.33,699.21 148.65,705.27 149.13,714.53 149.6,722.48 149.92,726.21 150.08,727.66 150.56,731.72 151.04,734.35 151.28,734.74 151.51,734.74 151.99,734.74 152.47,734.74 152.55,734.74 152.95,733.55 153.42,730.68 153.9,729.05 154.38,731.01 154.86,734.55 155.26,736.16 155.33,736.21 155.81,736.47 156.29,736.67 156.77,736.8 157.25,736.86 157.48,736.87 157.72,736.87 158.2,736.86 158.68,736.86 159.16,736.85 159.63,736.83 160.11,736.82 160.59,736.8 161.07,736.78 161.54,736.75 162.02,736.73 162.5,736.7 162.98,736.67 163.45,736.65 163.93,736.62 164.41,736.59 164.89,736.56 165.36,736.53 165.84,736.5 166.24,736.48 166.32,736.47 166.8,736.44 167.27,736.41 167.75,736.38 168.23,736.35 168.71,736.31 169.19,736.27 169.66,736.23 170.14,736.19 170.62,736.15 171.1,736.11 171.57,736.07 172.05,736.03 172.53,735.98 173.01,735.94 173.48,735.89 173.96,735.85 174.44,735.8 174.92,735.75 175.39,735.71 175.87,735.66 176.35,735.61 176.83,735.56 177.3,735.52 177.78,735.47 178.18,735.43 178.26,735.42 178.74,735.38 179.21,735.33 179.69,735.28 180.17,735.23 180.65,735.18 181.13,735.13 181.6,735.08 182.08,735.03 182.56,734.98 183.04,734.92 183.51,734.87 183.99,734.82 184.47,734.76 184.95,734.71 185.42,734.66 185.9,734.6 186.38,734.55 186.86,734.49 187.33,734.44 187.81,734.38 188.29,734.33 188.77,734.28 189.24,734.22 189.72,734.17 190.12,734.12 190.2,734.11 190.68,734.06 191.15,734.01 191.63,733.95 192.11,733.9 192.59,733.85 193.07,733.79 193.54,733.74 194.02,733.68 194.5,733.63 194.98,733.58 195.45,733.52 195.93,733.47 196.41,733.41 196.89,733.36 197.36,733.3 197.84,733.25 198.32,733.19 198.8,733.14 199.27,733.08 199.75,733.02 200.23,732.97 200.71,732.91 201.18,732.85 201.66,732.8 202.06,732.75 202.14,732.74 202.62,732.68 203.09,732.63 203.57,732.57 204.05,732.51 204.53,732.45 205.01,732.4 205.48,732.34 205.96,732.28 206.44,732.22 206.92,732.16 207.39,732.1 207.87,732.05 208.35,731.99 208.83,731.93 209.3,731.86 209.78,731.8 210.26,731.74 210.74,731.68 211.21,731.62 211.69,731.55 212.01,731.51 212.17,731.49 212.65,731.42 213.12,731.36 213.6,731.29 214.08,731.23 214.56,731.17 215.03,731.1 215.51,731.04 215.99,730.97 216.47,730.9 216.95,730.83 217.42,730.76 217.9,730.68 218.38,730.61 218.86,730.53 219.33,730.45 219.81,730.36 219.97,730.33 220.29,730.27 220.77,730.18 221.24,730.08 221.72,729.98 222.2,729.88 222.68,729.77 223.15,729.66 223.63,729.55 224.11,729.43 224.59,729.31 225.06,729.19 225.54,729.06 226.02,728.93 226.5,728.8 226.97,728.67 227.45,728.53 227.93,728.39 228.33,728.27 228.41,728.25 228.89,728.1 229.36,727.95 229.84,727.8 230.32,727.64 230.8,727.47 231.27,727.3 231.75,727.12 232.23,726.93 232.71,726.74 233.18,726.53 233.66,726.32 233.9,726.21 234.14,726.1 234.62,725.87 235.09,725.62 235.57,725.35 236.05,725.08 236.53,724.78 237,724.46 237.48,724.12 237.88,723.82 237.96,723.76 238.44,723.4 238.91,723 239.39,722.49 239.87,721.83 240.35,720.81 240.83,719.23 241.3,717.1 241.46,716.26 241.78,712.91 242.26,706.93 242.42,706.32 242.74,707.64 243.21,711.92 243.61,713.88 243.69,713.86 244.17,713.13 244.65,711.55 245.12,709.44 245.6,707.13 245.84,706 246.08,704.69 246.56,701.57 246.8,700.22 247.03,698.97 247.51,696.76 247.75,696.37 247.99,696.8 248.47,699.36 248.94,702.27 249.02,702.62 249.42,704.24 249.9,706 250.38,707.31 250.85,708.29 251.33,709.21 251.81,710.06 252.29,710.79 252.77,711.38 253.24,711.79 253.72,711.99 253.88,712 254.2,711.88 254.68,711.27 255.15,710.23 255.63,708.86 256.11,707.24 256.59,705.46 257.06,703.62 257.54,701.8 258.02,700.1 258.5,698.6 258.97,697.4 259.13,697.08 259.45,696.52 259.93,695.79 260.41,695.14 260.88,694.55 261.36,693.95 261.84,693.32 262.32,692.6 262.64,692.05 262.79,691.75 263.27,690.78 263.75,689.7 264.23,688.53 264.71,687.29 265.18,685.98 265.66,684.63 266.14,683.25 266.62,681.78 267.09,680.17 267.57,678.48 268.05,676.74 268.53,674.98 269,673.26 269.48,671.62 269.64,671.09 269.96,670.04 270.44,668.45 270.91,666.86 271.39,665.3 271.87,663.82 272.35,662.45 272.82,661.22 272.9,661.03 273.3,660.1 273.78,659.02 274.26,658.03 274.73,657.18 275.21,656.51 275.29,656.42 275.69,655.98 276.17,655.5 276.65,655.2 276.88,655.16 277.12,655.21 277.6,655.59 278.08,656.21 278.56,656.95 279.03,657.68 279.27,658 279.51,658.3 279.99,658.88 280.47,659.47 280.94,660.06 281.42,660.67 281.9,661.3 282.38,661.96 282.85,662.67 283.09,663.04 283.33,663.42 283.81,664.2 284.29,665.02 284.76,665.89 285.24,666.83 285.72,667.86 286.2,669 286.44,669.61 286.67,670.28 287.15,671.86 287.63,673.7 288.11,675.7 288.59,677.79 289.06,679.89 289.54,681.91 289.86,683.18 290.02,683.79 290.5,685.62 290.97,687.43 291.45,689.24 291.93,691.04 292.41,692.83 292.88,694.61 293.36,696.37 293.84,698.13 294.32,699.88 294.79,701.62 295.27,703.34 295.75,705.05 296.23,706.76 296.62,708.16 296.7,708.45 297.18,710.17 297.66,711.93 298.14,713.72 298.61,715.49 299.09,717.24 299.57,718.94 300.05,720.57 300.53,722.1 301,723.51 301.48,724.79 301.64,725.18 301.96,725.94 302.44,727.07 302.91,728.18 303.39,729.26 303.87,730.29 304.35,731.25 304.82,732.13 305.3,732.92 305.78,733.59 306.26,734.14 306.73,734.55 307.21,734.86 307.69,735.15 308.17,735.4 308.64,735.58 309.12,735.7 309.28,735.72 309.6,735.75 310.08,735.79 310.55,735.83 311.03,735.85 311.51,735.87 311.91,735.87 311.99,735.87 312.47,735.87 312.94,735.87 313.42,735.87 313.9,735.87 314.38,735.87 314.85,735.87 315.33,735.87 315.81,735.87 316.29,735.87 316.76,735.87 317.24,735.87 317.72,735.87 318.2,735.87 318.67,735.87 319.15,735.87 319.63,735.87 320.11,735.87 320.58,735.87 321.06,735.87 321.46,735.87 321.54,735.87 322.02,735.87 322.49,735.87 322.97,735.87 323.45,735.87 323.93,735.87 324.41,735.87 324.88,735.87 325.36,735.87 325.84,735.87 326.32,735.87 326.79,735.87 327.27,735.87 327.75,735.87 328.23,735.87 328.7,735.87 329.18,735.87 329.66,735.87 330.14,735.87 330.61,735.87 331.09,735.87 331.57,735.87 332.05,735.87 332.52,735.87 333,735.87 333.4,735.87" fill="none" stroke="#f024f0" stroke-width="1.9" stroke-linejoin="round" stroke-linecap="round"/>
</g>
<rect x="172.2" y="556.5" width="90.3" height="66.7" fill="#fff" stroke="#333" stroke-width="0.8"/>
<line x1="170.7" y1="623.2" x2="172.2" y2="623.2" stroke="#333" stroke-width="0.5" stroke-linecap="butt"/>
<text x="169.7" y="624.13" font-size="2.6" text-anchor="end" font-weight="normal" font-style="normal" fill="#444">0.0</text>
<line x1="170.7" y1="609.86" x2="172.2" y2="609.86" stroke="#333" stroke-width="0.5" stroke-linecap="butt"/>
<text x="169.7" y="610.79" font-size="2.6" text-anchor="end" font-weight="normal" font-style="normal" fill="#444">0.2</text>
<line x1="170.7" y1="596.52" x2="172.2" y2="596.52" stroke="#333" stroke-width="0.5" stroke-linecap="butt"/>
<text x="169.7" y="597.45" font-size="2.6" text-anchor="end" font-weight="normal" font-style="normal" fill="#444">0.4</text>
<line x1="170.7" y1="583.18" x2="172.2" y2="583.18" stroke="#333" stroke-width="0.5" stroke-linecap="butt"/>
<text x="169.7" y="584.11" font-size="2.6" text-anchor="end" font-weight="normal" font-style="normal" fill="#444">0.6</text>
<line x1="170.7" y1="569.84" x2="172.2" y2="569.84" stroke="#333" stroke-width="0.5" stroke-linecap="butt"/>
<text x="169.7" y="570.77" font-size="2.6" text-anchor="end" font-weight="normal" font-style="normal" fill="#444">0.8</text>
<line x1="170.7" y1="556.5" x2="172.2" y2="556.5" stroke="#333" stroke-width="0.5" stroke-linecap="butt"/>
<text x="169.7" y="557.43" font-size="2.6" text-anchor="end" font-weight="normal" font-style="normal" fill="#444">1.0</text>
<line x1="177.84" y1="623.2" x2="177.84" y2="624.4" stroke="#333" stroke-width="0.5" stroke-linecap="butt"/>
<text x="177.84" y="627.73" font-size="2.6" text-anchor="middle" font-weight="normal" font-style="normal" fill="#444">3000</text>
<line x1="189.13" y1="623.2" x2="189.13" y2="624.4" stroke="#333" stroke-width="0.5" stroke-linecap="butt"/>
<text x="189.13" y="627.73" font-size="2.6" text-anchor="middle" font-weight="normal" font-style="normal" fill="#444">3100</text>
<line x1="200.42" y1="623.2" x2="200.42" y2="624.4" stroke="#333" stroke-width="0.5" stroke-linecap="butt"/>
<text x="200.42" y="627.73" font-size="2.6" text-anchor="middle" font-weight="normal" font-style="normal" fill="#444">3200</text>
<line x1="211.71" y1="623.2" x2="211.71" y2="624.4" stroke="#333" stroke-width="0.5" stroke-linecap="butt"/>
<text x="211.71" y="627.73" font-size="2.6" text-anchor="middle" font-weight="normal" font-style="normal" fill="#444">3300</text>
<line x1="222.99" y1="623.2" x2="222.99" y2="624.4" stroke="#333" stroke-width="0.5" stroke-linecap="butt"/>
<text x="222.99" y="627.73" font-size="2.6" text-anchor="middle" font-weight="normal" font-style="normal" fill="#444">3400</text>
<line x1="234.28" y1="623.2" x2="234.28" y2="624.4" stroke="#333" stroke-width="0.5" stroke-linecap="butt"/>
<text x="234.28" y="627.73" font-size="2.6" text-anchor="middle" font-weight="normal" font-style="normal" fill="#444">3500</text>
<line x1="245.57" y1="623.2" x2="245.57" y2="624.4" stroke="#333" stroke-width="0.5" stroke-linecap="butt"/>
<text x="245.57" y="627.73" font-size="2.6" text-anchor="middle" font-weight="normal" font-style="normal" fill="#444">3600</text>
<line x1="256.86" y1="623.2" x2="256.86" y2="624.4" stroke="#333" stroke-width="0.5" stroke-linecap="butt"/>
<text x="256.86" y="627.73" font-size="2.6" text-anchor="middle" font-weight="normal" font-style="normal" fill="#444">3700</text>
<text x="217.35" y="633.15" font-size="3.2" text-anchor="middle" font-weight="bold" font-style="normal" fill="#333">Wavenumbers (cm-1)</text>
<text x="161.2" y="591" font-size="3.2" text-anchor="middle" font-weight="bold" font-style="normal" fill="#333" transform="rotate(-90 161.2 589.85)">Absorbance (A.U)</text>
<polyline points="172.2,616.55 173.2,617.28 174.2,618.02 175.2,618.7 176.2,619.25 177.2,619.61 177.99,619.7 178.2,619.7 179.2,619.69 180.2,619.67 181.2,619.65 182.2,619.61 183.2,619.56 184.2,619.51 185.2,619.46 186.2,619.39 187.2,619.33 188.2,619.25 189.2,619.18 190.2,619.1 191.2,619.03 192.2,618.95 193.2,618.87 193.77,618.82 194.2,618.79 195.2,618.69 196.2,618.56 197.2,618.42 198.2,618.27 199.2,618.1 200.2,617.92 201.2,617.74 202.2,617.55 203.2,617.36 204.2,617.18 205.2,617 206.2,616.83 207.2,616.68 208.2,616.54 209.2,616.42 210.2,616.32 211.2,616.25 212.2,616.21 213.05,616.2 213.2,616.2 214.2,616.23 215.2,616.32 216.2,616.44 217.2,616.61 218.2,616.8 219.2,617.02 220.2,617.26 221.2,617.51 222.2,617.76 223.2,618.02 224.2,618.27 225.2,618.51 226.2,618.73 227.2,618.92 228.2,619.09 228.83,619.17 229.2,619.22 230.2,619.34 231.2,619.45 232.2,619.57 233.2,619.68 234.2,619.78 235.2,619.89 236.2,619.99 237.2,620.08 238.2,620.18 239.2,620.27 240.2,620.36 241.2,620.45 242.2,620.53 243.2,620.62 244.2,620.7 245.2,620.77 246.2,620.85 247.2,620.92 248.2,621 249.2,621.07 250.2,621.14 251.2,621.2 252.2,621.27 253.2,621.33 254.2,621.39 255.14,621.45 255.2,621.45 256.2,621.51 257.2,621.57 258.2,621.62 259.2,621.67 260.2,621.71 261.2,621.76 262.15,621.8" fill="none" stroke="#111111" stroke-width="1.15" stroke-linejoin="round" stroke-linecap="round"/>
<polyline points="172.2,611.3 173.2,611.5 174.2,611.6 175.2,611.64 176.2,611.65 176.23,611.65 177.2,611.55 178.2,611.27 179.2,610.84 180.2,610.32 181.2,609.72 181.49,609.54 182.2,608.97 183.2,607.76 184.2,606.28 185.2,604.7 186.2,603.24 186.75,602.54 187.2,602.04 188.2,601.02 189.2,600.09 190.2,599.2 191.2,598.29 192.2,597.32 193.2,596.23 193.77,595.54 194.2,594.96 195.2,593.45 196.2,591.73 197.2,589.87 198.2,587.91 199.2,585.92 200.2,583.95 201.2,582.07 202.2,580.33 202.53,579.78 203.2,578.68 204.2,576.89 205.2,575.01 206.2,573.13 207.2,571.31 208.2,569.65 209.2,568.22 210.2,567.1 211.2,566.38 212.18,566.13 212.2,566.13 213.2,566.19 214.2,566.35 215.2,566.62 216.2,566.97 217.2,567.41 218.2,567.92 219.2,568.48 220.2,569.1 221.2,569.77 222.2,570.47 223.2,571.19 224.2,571.94 225.2,572.69 225.33,572.78 226.2,573.52 227.2,574.54 228.2,575.72 229.2,577.03 230.2,578.43 231.2,579.89 232.2,581.38 233.2,582.86 234.09,584.16 234.2,584.31 235.2,585.77 236.2,587.27 237.2,588.82 238.2,590.4 239.2,592 240.2,593.63 241.2,595.26 242.2,596.89 243.2,598.52 244.2,600.13 244.62,600.79 245.2,601.74 246.2,603.42 247.2,605.15 248.2,606.9 249.2,608.62 250.2,610.28 251.2,611.86 252.2,613.3 253.2,614.58 253.38,614.8 254.2,615.72 255.2,616.82 256.2,617.87 257.2,618.86 258.2,619.79 259.2,620.64 260.2,621.42 261.2,622.11 262.15,622.67" fill="none" stroke="#f51b1b" stroke-width="1.15" stroke-linejoin="round" stroke-linecap="round"/>
<polyline points="172.2,605.17 173.2,606.37 174.2,607.45 175.2,608.35 176.2,609.03 177.2,609.44 177.99,609.54 178.2,609.54 179.2,609.38 180.2,609.03 181.2,608.53 182.2,607.93 183.2,607.28 184.2,606.61 185.2,605.98 186.2,605.43 186.75,605.17 187.2,604.99 188.2,604.62 189.2,604.3 190.2,603.99 191.2,603.66 192.2,603.29 193.2,602.84 193.77,602.54 194.2,602.27 195.2,601.42 196.2,600.33 197.2,599.06 198.2,597.67 199.2,596.25 200.2,594.84 201.2,593.53 202.2,592.38 202.53,592.04 203.2,591.37 204.2,590.3 205.2,589.2 206.2,588.12 207.2,587.08 208.2,586.14 209.2,585.33 210.2,584.7 211.2,584.3 212.18,584.16 212.2,584.16 213.2,584.3 214.2,584.67 215.2,585.23 216.2,585.96 217.2,586.82 218.2,587.77 219.2,588.77 220.2,589.8 221.2,590.8 222.2,591.76 223.2,592.62 223.57,592.91 224.2,593.39 225.2,594.13 226.2,594.87 227.2,595.6 228.2,596.33 229.2,597.05 230.2,597.77 231.2,598.48 232.2,599.2 233.2,599.91 234.2,600.63 235.2,601.36 236.2,602.09 237.2,602.83 238.2,603.57 239.2,604.33 240.2,605.1 241.2,605.88 242.2,606.68 243.2,607.49 244.2,608.32 244.62,608.67 245.2,609.18 246.2,610.11 247.2,611.09 248.2,612.11 249.2,613.15 250.2,614.18 251.2,615.2 252.2,616.18 253.2,617.1 254.2,617.94 255.14,618.65 255.2,618.69 256.2,619.38 257.2,620.03 258.2,620.65 259.2,621.22 260.2,621.76 261.2,622.25 262.15,622.67" fill="none" stroke="#138585" stroke-width="1.15" stroke-linejoin="round" stroke-linecap="round"/>
<polyline points="172.2,612.17 173.2,614.61 174.2,616.42 175.2,617.55 176.2,617.95 176.23,617.95 177.2,617.38 178.2,615.87 179.2,613.84 180.2,611.72 181.2,609.94 181.49,609.54 182.2,608.67 183.2,607.44 184.2,606.3 185.2,605.32 186.2,604.57 186.75,604.29 187.2,604.12 188.2,603.82 189.2,603.61 190.2,603.43 191.2,603.26 192.2,603.04 193.2,602.76 193.77,602.54 194.2,602.31 195.2,601.46 196.2,600.22 197.2,598.7 198.2,597.01 199.2,595.26 200.2,593.54 201.2,591.97 202.2,590.65 202.53,590.29 203.2,589.58 204.2,588.48 205.2,587.37 206.2,586.28 207.2,585.25 208.2,584.33 209.2,583.54 210.2,582.93 211.2,582.54 212.18,582.41 212.2,582.41 213.2,582.52 214.2,582.83 215.2,583.3 216.2,583.91 217.2,584.61 218.2,585.39 219.2,586.2 220.2,587.02 221.2,587.81 222.2,588.55 223.2,589.2 223.57,589.41 224.2,589.74 225.2,590.24 226.2,590.7 227.2,591.15 228.2,591.59 229.2,592.06 230.2,592.55 231.2,593.09 232.2,593.7 232.34,593.79 233.2,594.39 234.2,595.17 235.2,596.04 236.2,596.98 237.2,597.98 238.2,599.03 239.2,600.11 240.2,601.21 241.2,602.32 242.2,603.44 243.2,604.54 244.2,605.61 244.62,606.04 245.2,606.66 246.2,607.75 247.2,608.88 248.2,610.02 249.2,611.17 250.2,612.32 251.2,613.45 252.2,614.54 253.2,615.58 254.2,616.57 255.14,617.42 255.2,617.48 256.2,618.33 257.2,619.15 258.2,619.94 259.2,620.69 260.2,621.4 261.2,622.07 262.15,622.67" fill="none" stroke="#2222ee" stroke-width="1.15" stroke-linejoin="round" stroke-linecap="round"/>
<polyline points="172.2,604.64 173.2,605.75 174.2,606.74 175.2,607.57 176.2,608.19 177.2,608.57 177.99,608.67 178.2,608.67 179.2,608.61 180.2,608.49 181.2,608.31 182.2,608.08 183.2,607.81 183.25,607.79 184.2,607.27 185.2,606.4 186.2,605.53 186.75,605.17 187.2,604.95 188.2,604.54 189.2,604.21 190.2,603.91 191.2,603.61 192.2,603.26 193.2,602.84 193.77,602.54 194.2,602.27 195.2,601.41 196.2,600.31 197.2,599.03 198.2,597.63 199.2,596.2 200.2,594.8 201.2,593.49 202.2,592.36 202.53,592.04 203.2,591.4 204.2,590.39 205.2,589.36 206.2,588.34 207.2,587.38 208.2,586.5 209.2,585.76 210.2,585.18 211.2,584.81 212.18,584.69 212.2,584.69 213.2,584.81 214.2,585.13 215.2,585.63 216.2,586.27 217.2,587.02 218.2,587.84 219.2,588.69 220.2,589.55 221.2,590.38 222.2,591.15 223.2,591.82 223.57,592.04 224.2,592.38 225.2,592.88 226.2,593.35 227.2,593.8 228.2,594.25 229.2,594.71 230.2,595.2 231.2,595.73 232.2,596.33 232.34,596.41 233.2,596.99 234.2,597.74 235.2,598.56 236.2,599.44 237.2,600.37 238.2,601.33 239.2,602.33 240.2,603.34 241.2,604.37 242.2,605.39 243.2,606.4 244.2,607.39 244.62,607.79 245.2,608.36 246.2,609.37 247.2,610.41 248.2,611.47 249.2,612.53 250.2,613.58 251.2,614.62 252.2,615.63 253.2,616.59 254.2,617.51 255.14,618.3 255.2,618.35 256.2,619.15 257.2,619.91 258.2,620.64 259.2,621.34 260.2,622 261.2,622.63 262.15,623.2" fill="none" stroke="#f024f0" stroke-width="1.15" stroke-linejoin="round" stroke-linecap="round"/>
<text x="102.2" y="697.02" font-size="11.5" text-anchor="middle" font-weight="bold" font-style="normal" fill="#000">1</text>
<text x="126.5" y="697.02" font-size="11.5" text-anchor="middle" font-weight="bold" font-style="normal" fill="#000">2</text>
<text x="140.5" y="634.62" font-size="11.5" text-anchor="middle" font-weight="bold" font-style="normal" fill="#000">3</text>
<text x="242.3" y="671.42" font-size="11.5" text-anchor="middle" font-weight="bold" font-style="normal" fill="#000">4</text>
<text x="277.8" y="593.72" font-size="11.5" text-anchor="middle" font-weight="bold" font-style="normal" fill="#000">5</text>
<path d="M291.4,581 C293.57,586.67 297.6,590.19 297.6,593.6 A6.2,6.2 0 0 1 285.2,593.6 C285.2,590.19 289.23,586.67 291.4,581Z" fill="url(#dropg)" stroke="#9dbacb" stroke-width="1.1"/>
<line x1="387.05" y1="525.7" x2="674.15" y2="525.7" stroke="#000" stroke-width="1.8" stroke-linecap="butt"/>
<line x1="673.35" y1="525.7" x2="673.35" y2="739.6" stroke="#000" stroke-width="1.8" stroke-linecap="butt"/>
<line x1="387.25" y1="524.8" x2="387.25" y2="740.6" stroke="#000" stroke-width="2.0" stroke-linecap="butt"/>
<line x1="382.25" y1="739.6" x2="674.15" y2="739.6" stroke="#000" stroke-width="2.0" stroke-linecap="butt"/>
<line x1="382.25" y1="739.6" x2="387.25" y2="739.6" stroke="#000" stroke-width="1.3" stroke-linecap="butt"/>
<text x="380.25" y="742.43" font-size="7.9" text-anchor="end" font-weight="bold" font-style="normal" fill="#000">0.0</text>
<line x1="382.25" y1="711.08" x2="387.25" y2="711.08" stroke="#000" stroke-width="1.3" stroke-linecap="butt"/>
<text x="380.25" y="713.91" font-size="7.9" text-anchor="end" font-weight="bold" font-style="normal" fill="#000">0.2</text>
<line x1="382.25" y1="682.56" x2="387.25" y2="682.56" stroke="#000" stroke-width="1.3" stroke-linecap="butt"/>
<text x="380.25" y="685.39" font-size="7.9" text-anchor="end" font-weight="bold" font-style="normal" fill="#000">0.4</text>
<line x1="382.25" y1="654.04" x2="387.25" y2="654.04" stroke="#000" stroke-width="1.3" stroke-linecap="butt"/>
<text x="380.25" y="656.87" font-size="7.9" text-anchor="end" font-weight="bold" font-style="normal" fill="#000">0.6</text>
<line x1="382.25" y1="625.52" x2="387.25" y2="625.52" stroke="#000" stroke-width="1.3" stroke-linecap="butt"/>
<text x="380.25" y="628.35" font-size="7.9" text-anchor="end" font-weight="bold" font-style="normal" fill="#000">0.8</text>
<line x1="382.25" y1="597" x2="387.25" y2="597" stroke="#000" stroke-width="1.3" stroke-linecap="butt"/>
<text x="380.25" y="599.83" font-size="7.9" text-anchor="end" font-weight="bold" font-style="normal" fill="#000">1.0</text>
<line x1="382.25" y1="568.48" x2="387.25" y2="568.48" stroke="#000" stroke-width="1.3" stroke-linecap="butt"/>
<text x="380.25" y="571.31" font-size="7.9" text-anchor="end" font-weight="bold" font-style="normal" fill="#000">1.2</text>
<line x1="382.25" y1="539.96" x2="387.25" y2="539.96" stroke="#000" stroke-width="1.3" stroke-linecap="butt"/>
<text x="380.25" y="542.79" font-size="7.9" text-anchor="end" font-weight="bold" font-style="normal" fill="#000">1.4</text>
<line x1="384.25" y1="725.34" x2="387.25" y2="725.34" stroke="#000" stroke-width="1.1" stroke-linecap="butt"/>
<line x1="384.25" y1="696.82" x2="387.25" y2="696.82" stroke="#000" stroke-width="1.1" stroke-linecap="butt"/>
<line x1="384.25" y1="668.3" x2="387.25" y2="668.3" stroke="#000" stroke-width="1.1" stroke-linecap="butt"/>
<line x1="384.25" y1="639.78" x2="387.25" y2="639.78" stroke="#000" stroke-width="1.1" stroke-linecap="butt"/>
<line x1="384.25" y1="611.26" x2="387.25" y2="611.26" stroke="#000" stroke-width="1.1" stroke-linecap="butt"/>
<line x1="384.25" y1="582.74" x2="387.25" y2="582.74" stroke="#000" stroke-width="1.1" stroke-linecap="butt"/>
<line x1="384.25" y1="554.22" x2="387.25" y2="554.22" stroke="#000" stroke-width="1.1" stroke-linecap="butt"/>
<line x1="395.1" y1="739.6" x2="395.1" y2="743.6" stroke="#000" stroke-width="1.3" stroke-linecap="butt"/>
<text x="395.1" y="753.32" font-size="8.3" text-anchor="middle" font-weight="bold" font-style="normal" fill="#000">500</text>
<line x1="434.85" y1="739.6" x2="434.85" y2="743.6" stroke="#000" stroke-width="1.3" stroke-linecap="butt"/>
<text x="434.85" y="753.32" font-size="8.3" text-anchor="middle" font-weight="bold" font-style="normal" fill="#000">1000</text>
<line x1="474.6" y1="739.6" x2="474.6" y2="743.6" stroke="#000" stroke-width="1.3" stroke-linecap="butt"/>
<text x="474.6" y="753.32" font-size="8.3" text-anchor="middle" font-weight="bold" font-style="normal" fill="#000">1500</text>
<line x1="514.35" y1="739.6" x2="514.35" y2="743.6" stroke="#000" stroke-width="1.3" stroke-linecap="butt"/>
<text x="514.35" y="753.32" font-size="8.3" text-anchor="middle" font-weight="bold" font-style="normal" fill="#000">2000</text>
<line x1="554.1" y1="739.6" x2="554.1" y2="743.6" stroke="#000" stroke-width="1.3" stroke-linecap="butt"/>
<text x="554.1" y="753.32" font-size="8.3" text-anchor="middle" font-weight="bold" font-style="normal" fill="#000">2500</text>
<line x1="593.85" y1="739.6" x2="593.85" y2="743.6" stroke="#000" stroke-width="1.3" stroke-linecap="butt"/>
<text x="593.85" y="753.32" font-size="8.3" text-anchor="middle" font-weight="bold" font-style="normal" fill="#000">3000</text>
<line x1="633.6" y1="739.6" x2="633.6" y2="743.6" stroke="#000" stroke-width="1.3" stroke-linecap="butt"/>
<text x="633.6" y="753.32" font-size="8.3" text-anchor="middle" font-weight="bold" font-style="normal" fill="#000">3500</text>
<line x1="673.35" y1="739.6" x2="673.35" y2="743.6" stroke="#000" stroke-width="1.3" stroke-linecap="butt"/>
<text x="673.35" y="753.32" font-size="8.3" text-anchor="middle" font-weight="bold" font-style="normal" fill="#000">4000</text>
<line x1="414.98" y1="739.6" x2="414.98" y2="742.1" stroke="#000" stroke-width="1.1" stroke-linecap="butt"/>
<line x1="454.73" y1="739.6" x2="454.73" y2="742.1" stroke="#000" stroke-width="1.1" stroke-linecap="butt"/>
<line x1="494.48" y1="739.6" x2="494.48" y2="742.1" stroke="#000" stroke-width="1.1" stroke-linecap="butt"/>
<line x1="534.23" y1="739.6" x2="534.23" y2="742.1" stroke="#000" stroke-width="1.1" stroke-linecap="butt"/>
<line x1="573.98" y1="739.6" x2="573.98" y2="742.1" stroke="#000" stroke-width="1.1" stroke-linecap="butt"/>
<line x1="613.73" y1="739.6" x2="613.73" y2="742.1" stroke="#000" stroke-width="1.1" stroke-linecap="butt"/>
<line x1="653.48" y1="739.6" x2="653.48" y2="742.1" stroke="#000" stroke-width="1.1" stroke-linecap="butt"/>
<text x="350.4" y="642.58" font-size="10.0" text-anchor="middle" font-weight="bold" font-style="normal" fill="#000" transform="rotate(-90 350.4 639)">Absorbence (A.U)</text>
<text x="530.4" y="769.21" font-size="9.8" text-anchor="middle" font-weight="bold" font-style="normal" fill="#000">Wavenumbers (cm-1)</text>
<text x="346.4" y="545.94" font-size="15.2" text-anchor="start" font-weight="bold" font-style="normal" fill="#000">A6</text>
<text x="392.4" y="542.72" font-size="10.1" font-weight="bold" font-style="italic" fill="#138a13" textLength="123.6" lengthAdjust="spacingAndGlyphs">S. carpocapsae at 43% RH</text>
<line x1="534.6" y1="538.9" x2="557.8" y2="538.9" stroke="#111111" stroke-width="2.0" stroke-linecap="butt"/>
<text x="561.6" y="542.48" font-size="10" font-weight="bold" font-style="italic">Dry</text>
<line x1="590.3" y1="538.9" x2="613.5" y2="538.9" stroke="#f51b1b" stroke-width="2.0" stroke-linecap="butt"/>
<text x="616.5" y="542.48" font-size="10" font-weight="bold"><tspan font-style="italic">0</tspan><tspan dx="2">Hrs</tspan></text>
<line x1="393.7" y1="551.3" x2="416.9" y2="551.3" stroke="#2222ee" stroke-width="2.0" stroke-linecap="butt"/>
<text x="420.1" y="554.88" font-size="10" font-weight="bold"><tspan font-style="italic">2</tspan><tspan dx="2">Hrs</tspan></text>
<line x1="446.9" y1="551.3" x2="470.1" y2="551.3" stroke="#138585" stroke-width="2.0" stroke-linecap="butt"/>
<text x="473.3" y="554.88" font-size="10" font-weight="bold"><tspan font-style="italic">4</tspan><tspan dx="2">Hrs</tspan></text>
<line x1="500.6" y1="551.3" x2="523.8" y2="551.3" stroke="#f024f0" stroke-width="2.0" stroke-linecap="butt"/>
<text x="529.1" y="554.88" font-size="10" font-weight="bold"><tspan font-style="italic">6</tspan><tspan dx="2">Hrs</tspan></text>
<clipPath id="cpA6"><rect x="388.25" y="526.7" width="284.1" height="212.9"/></clipPath>
<g clip-path="url(#cpA6)">
<polyline points="396.45,739.6 396.61,731.9 397.09,732.06 397.56,732.23 398.04,732.39 398.52,732.54 399,732.7 399.47,732.85 399.95,733 400.43,733.14 400.9,733.28 401.38,733.41 401.86,733.54 402.33,733.66 402.81,733.78 403.29,733.89 403.77,733.99 404,734.04 404.24,734.09 404.72,734.18 405.2,734.26 405.67,734.34 406.15,734.42 406.63,734.49 407.1,734.56 407.58,734.62 408.06,734.69 408.54,734.75 409.01,734.81 409.49,734.87 409.97,734.93 410.44,735 410.92,735.06 411.4,735.12 411.87,735.19 412.35,735.26 412.83,735.33 413.31,735.4 413.78,735.48 414.26,735.56 414.5,735.61 414.74,735.65 415.21,735.76 415.69,735.88 416.17,736.01 416.64,736.15 417.12,736.3 417.6,736.45 418.08,736.6 418.55,736.76 419.03,736.91 419.51,737.05 419.98,737.19 420.46,737.32 420.94,737.44 421.41,737.54 421.89,737.62 422.37,737.69 422.85,737.73 423.32,737.75 423.4,737.75 423.8,737.74 424.28,737.72 424.75,737.69 425.23,737.63 425.71,737.57 426.18,737.49 426.66,737.39 427.14,737.27 427.62,737.14 428.09,736.99 428.57,736.83 429.05,736.65 429.52,736.45 430,736.23 430.48,736 430.95,735.75 431.43,735.48 431.91,735.19 432.39,734.89 432.86,734.56 433.34,734.22 433.58,734.04 433.82,733.74 434.29,732.58 434.77,730.9 435.25,729.01 435.72,727.21 436.2,725.78 436.52,725.2 436.68,724.99 437.16,724.44 437.63,724.2 438.11,724.47 438.59,725.15 439.06,726.06 439.54,727 440.02,727.79 440.42,728.19 440.49,728.24 440.97,728.5 441.45,728.7 441.93,728.87 442.4,729.02 442.88,729.17 443.36,729.34 443.67,729.48 443.83,729.55 444.31,729.76 444.79,729.98 445.26,730.22 445.74,730.46 446.22,730.72 446.7,731 446.78,731.04 447.17,731.33 447.65,731.78 448.13,732.25 448.6,732.69 449.08,733.02 449.56,733.18 449.64,733.18 450.03,733.03 450.51,732.52 450.99,731.73 451.47,730.78 451.94,729.77 452.42,728.8 452.9,727.98 453.37,727.41 453.85,727.19 454.33,727.5 454.8,728.29 455.28,729.35 455.76,730.5 456.24,731.53 456.71,732.25 457.11,732.47 457.19,732.47 457.67,732.47 458.14,732.45 458.62,732.43 459.1,732.41 459.57,732.38 460.05,732.34 460.53,732.3 461.01,732.25 461.48,732.2 461.96,732.14 462.44,732.08 462.91,732.01 463.39,731.94 463.87,731.87 464.34,731.8 464.58,731.76 464.82,731.71 465.3,731.59 465.78,731.44 466.25,731.26 466.73,731.06 467.21,730.84 467.68,730.61 468.16,730.37 468.24,730.33 468.64,730.08 469.11,729.68 469.59,729.26 470.07,728.93 470.55,728.77 470.62,728.76 471.02,728.85 471.5,729.13 471.98,729.51 472.45,729.92 472.93,730.27 473.41,730.46 473.57,730.47 473.88,730.18 474.36,728.88 474.84,726.96 475.32,724.92 475.79,723.25 476.19,722.49 476.27,722.41 476.75,722 477.22,721.66 477.7,721.43 478.18,721.35 478.65,721.75 479.13,722.75 479.61,724 480.09,725.18 480.17,725.34 480.56,726.28 481.04,727.5 481.52,728.35 481.75,728.48 481.99,728.32 482.47,727.24 482.95,725.52 483.42,723.62 483.74,722.49 483.9,721.93 484.38,719.87 484.86,717.8 485.33,716.42 485.57,716.21 485.81,716.42 486.29,717.84 486.76,719.99 487.24,722.17 487.32,722.49 487.72,724.1 488.19,726.2 488.67,728.33 489.15,730.38 489.63,732.2 489.71,732.47 490.1,733.92 490.58,735.7 491.06,737.04 491.45,737.46 491.53,737.46 492.01,737.38 492.49,737.22 492.96,737.02 493.44,736.85 493.92,736.76 494.08,736.75 494.4,736.96 494.87,737.79 495.35,738.64 495.67,738.89 495.83,738.91 496.3,738.96 496.78,739 497.26,739.02 497.66,739.03 497.73,739.03 498.21,739.03 498.69,739.03 499.17,739.03 499.64,739.03 500.12,739.03 500.6,739.03 501.07,739.03 501.55,739.03 502.03,739.03 502.5,739.03 502.98,739.03 503.46,739.03 503.94,739.03 504.41,739.03 504.89,739.03 505.37,739.03 505.84,739.03 506.32,739.03 506.8,739.03 507.27,739.03 507.75,739.03 508.23,739.03 508.71,739.03 509.18,739.03 509.66,739.03 510.14,739.03 510.61,739.03 511.09,739.03 511.57,739.03 512.04,739.03 512.52,739.03 513,739.03 513.48,739.03 513.95,739.03 514.35,739.03 514.43,739.03 514.91,739.03 515.38,739.03 515.86,739.03 516.34,739.03 516.81,739.03 517.29,739.03 517.77,739.03 518.25,739.02 518.72,739.02 519.2,739.02 519.68,739.02 520.15,739.02 520.63,739.02 521.11,739.02 521.58,739.01 522.06,739.01 522.54,739.01 523.02,739.01 523.49,739 523.97,739 524.45,739 524.92,739 525.4,738.99 525.88,738.99 526.35,738.99 526.83,738.98 527.31,738.98 527.79,738.97 528.26,738.97 528.74,738.97 529.22,738.96 529.69,738.96 530.17,738.95 530.65,738.95 531.12,738.95 531.6,738.94 532.08,738.94 532.56,738.93 533.03,738.93 533.51,738.92 533.99,738.92 534.46,738.91 534.94,738.9 535.42,738.9 535.89,738.89 536.37,738.89 536.85,738.88 537.33,738.88 537.8,738.87 538.28,738.86 538.76,738.86 539.23,738.85 539.71,738.84 540.19,738.84 540.66,738.83 541.14,738.82 541.62,738.82 542.1,738.81 542.57,738.8 543.05,738.79 543.53,738.79 544,738.78 544.48,738.77 544.96,738.76 545.43,738.76 545.91,738.75 546.15,738.74 546.39,738.74 546.87,738.73 547.34,738.72 547.82,738.71 548.3,738.69 548.77,738.68 549.25,738.66 549.73,738.64 550.2,738.62 550.68,738.6 551.16,738.58 551.64,738.56 552.11,738.53 552.59,738.51 553.07,738.48 553.54,738.45 554.02,738.43 554.5,738.4 554.97,738.37 555.45,738.34 555.93,738.31 556.41,738.28 556.88,738.25 557.36,738.21 557.84,738.18 558.31,738.15 558.79,738.12 559.27,738.08 559.74,738.05 560.22,738.02 560.7,737.98 561.18,737.95 561.65,737.92 562.05,737.89 562.13,737.88 562.61,737.85 563.08,737.82 563.56,737.79 564.04,737.75 564.51,737.72 564.99,737.69 565.47,737.66 565.95,737.62 566.42,737.59 566.9,737.55 567.38,737.51 567.85,737.47 568.33,737.43 568.81,737.39 569.28,737.35 569.76,737.3 570.24,737.25 570.72,737.2 571.19,737.14 571.67,737.08 572.15,737.02 572.62,736.95 573.1,736.89 573.58,736.81 573.98,736.75 574.05,736.73 574.53,736.65 575.01,736.54 575.49,736.43 575.96,736.29 576.44,736.14 576.92,735.97 577.39,735.77 577.87,735.56 578.35,735.32 578.82,735.05 579.3,734.76 579.54,734.61 579.78,734.38 580.26,733.61 580.73,732.63 581.21,731.71 581.69,731.13 581.93,731.04 582.16,731.13 582.64,731.65 583.12,732.25 583.51,732.47 583.59,732.46 584.07,732 584.55,730.98 585.03,729.56 585.5,727.91 585.98,726.19 586.46,724.57 586.93,723.21 587.41,722.27 587.89,721.92 588.36,722.31 588.84,723.33 589.32,724.69 589.8,726.15 590.27,727.44 590.67,728.19 590.75,728.3 591.23,728.98 591.7,729.62 592.18,730.16 592.66,730.51 593.06,730.62 593.13,730.62 593.61,730.61 594.09,730.6 594.57,730.58 595.04,730.56 595.52,730.54 596,730.52 596.47,730.5 596.95,730.49 597.43,730.48 597.83,730.47 597.9,730.47 598.38,730.49 598.86,730.52 599.34,730.57 599.81,730.62 600.29,730.67 600.77,730.71 601.24,730.74 601.72,730.76 601.8,730.76 602.2,730.74 602.67,730.67 603.15,730.55 603.63,730.39 604.11,730.2 604.58,729.98 605.06,729.73 605.54,729.46 606.01,729.17 606.49,728.88 606.97,728.58 607.44,728.28 607.92,728 608.4,727.72 608.88,727.46 609.35,727.23 609.75,727.05 609.83,727.02 610.31,726.81 610.78,726.59 611.26,726.36 611.74,726.13 612.21,725.89 612.69,725.66 613.17,725.43 613.65,725.21 614.12,725.01 614.6,724.83 615.08,724.67 615.55,724.54 616.03,724.44 616.51,724.37 616.98,724.34 617.06,724.34 617.46,724.36 617.94,724.43 618.42,724.54 618.89,724.7 619.37,724.89 619.85,725.11 620.32,725.36 620.8,725.63 621.28,725.92 621.75,726.22 622.23,726.52 622.71,726.83 623.19,727.14 623.66,727.43 624.14,727.72 624.62,727.98 625.09,728.23 625.57,728.44 625.65,728.48 626.05,728.64 626.52,728.83 627,729.01 627.48,729.2 627.96,729.37 628.43,729.55 628.91,729.72 629.39,729.89 629.86,730.06 630.34,730.22 630.82,730.39 631.29,730.55 631.77,730.71 632.25,730.87 632.73,731.03 633.2,731.19 633.6,731.33 633.68,731.36 634.16,731.51 634.63,731.67 635.11,731.81 635.59,731.96 636.06,732.1 636.54,732.24 637.02,732.38 637.5,732.52 637.97,732.66 638.45,732.8 638.93,732.95 639.4,733.11 639.88,733.27 640.36,733.44 640.83,733.61 641.31,733.8 641.55,733.9 641.79,734 642.27,734.23 642.74,734.48 643.22,734.75 643.7,735.04 644.17,735.33 644.65,735.64 645.13,735.94 645.6,736.24 646.08,736.53 646.56,736.8 647.04,737.06 647.51,737.29 647.91,737.46 647.99,737.49 648.47,737.69 648.94,737.89 649.42,738.09 649.9,738.28 650.37,738.44 650.85,738.58 651.33,738.68 651.81,738.74 651.88,738.74 652.28,738.76 652.76,738.78 653.24,738.81 653.71,738.83 654.19,738.84 654.67,738.86 655.14,738.88 655.62,738.9 656.1,738.92 656.58,738.93 657.05,738.95 657.53,738.96 658.01,738.98 658.48,738.99 658.96,739 659.44,739.02 659.91,739.03 660.39,739.04 660.87,739.05 661.35,739.06 661.82,739.07 662.3,739.08 662.78,739.09 663.25,739.1 663.73,739.1 664.21,739.11 664.68,739.12 665.16,739.12 665.64,739.13 666.12,739.14 666.59,739.14 667.07,739.14 667.55,739.15 668.02,739.15 668.5,739.16 668.98,739.16 669.45,739.16 669.93,739.16 670.41,739.17 670.89,739.17 671.36,739.17 671.84,739.17 672.32,739.17 672.79,739.17 673.27,739.17 673.35,739.17" fill="none" stroke="#111111" stroke-width="1.6" stroke-linejoin="round" stroke-linecap="round"/>
<polyline points="396.45,739.6 396.61,711.08 397.09,710.51 397.56,709.95 398.04,709.39 398.52,708.85 399,708.33 399.47,707.82 399.95,707.32 400.43,706.85 400.9,706.39 401.38,705.95 401.86,705.54 402.33,705.15 402.41,705.09 402.81,704.78 403.29,704.39 403.77,704 404.24,703.6 404.72,703.2 405.2,702.81 405.67,702.43 406.15,702.06 406.63,701.71 407.1,701.39 407.58,701.09 408.06,700.82 408.54,700.59 409.01,700.4 409.49,700.25 409.97,700.15 410.44,700.1 410.6,700.1 410.92,700.11 411.4,700.16 411.87,700.24 412.35,700.37 412.83,700.53 413.31,700.73 413.78,700.96 414.26,701.22 414.74,701.51 415.21,701.83 415.69,702.18 416.17,702.55 416.49,702.81 416.64,702.97 417.12,703.72 417.6,704.77 418.08,705.99 418.55,707.25 418.95,708.23 419.03,708.42 419.51,709.85 419.98,711.35 420.46,712.35 420.7,712.51 420.94,712.3 421.41,710.97 421.89,709.03 422.37,707.23 422.53,706.8 422.85,706.02 423.32,704.83 423.8,703.76 424.28,703.03 424.67,702.81 424.75,702.81 425.23,703.01 425.71,703.47 426.18,704.13 426.66,704.92 427.14,705.8 427.62,706.7 428.09,707.57 428.57,708.35 429.05,708.97 429.52,709.38 429.84,709.51 430,709.54 430.48,709.62 430.95,709.69 431.43,709.74 431.91,709.78 432.39,709.81 432.86,709.84 433.34,709.87 433.82,709.9 434.29,709.93 434.77,709.97 435.25,710.02 435.72,710.08 436.2,710.16 436.52,710.22 436.68,710.27 437.16,710.54 437.63,710.97 438.11,711.53 438.59,712.18 439.06,712.88 439.54,713.61 440.02,714.31 440.26,714.64 440.49,714.98 440.97,715.67 441.45,716.41 441.93,717.18 442.4,717.97 442.88,718.77 443.36,719.57 443.83,720.37 443.99,720.63 444.31,721.2 444.79,722.15 445.26,723.2 445.74,724.28 446.22,725.33 446.7,726.3 447.17,727.12 447.65,727.75 448.13,728.12 448.44,728.19 448.6,728.17 449.08,727.94 449.56,727.48 450.03,726.86 450.51,726.15 450.99,725.42 451.47,724.74 451.94,724.17 452.42,723.77 452.9,723.63 453.37,723.83 453.85,724.33 454.33,724.99 454.8,725.69 455.28,726.27 455.76,726.6 455.84,726.62 456.24,726.7 456.71,726.79 457.19,726.87 457.67,726.94 458.14,727.01 458.62,727.07 459.1,727.12 459.57,727.17 460.05,727.21 460.53,727.25 461.01,727.28 461.48,727.3 461.96,727.32 462.44,727.33 462.91,727.34 463.23,727.34 463.39,727.33 463.87,727.23 464.34,727.04 464.82,726.76 465.3,726.43 465.78,726.06 466.25,725.67 466.65,725.34 466.73,725.27 467.21,724.68 467.68,723.91 468.16,723.13 468.64,722.51 469.11,722.21 469.19,722.2 469.59,722.3 470.07,722.63 470.55,723.13 471.02,723.7 471.5,724.27 471.98,724.77 472.45,725.1 472.85,725.2 472.93,725.19 473.41,724.67 473.88,723.53 474.36,721.95 474.6,721.06 474.84,719.77 475.32,715.64 475.79,711.08 476.27,705.95 476.75,700.57 477.22,697.61 477.3,697.53 477.7,697.96 478.18,699.33 478.65,701.2 479.13,703.12 479.37,703.95 479.61,704.79 480.09,706.76 480.56,708.82 481.04,710.58 481.52,711.64 481.75,711.79 481.99,711.1 482.47,706.55 482.95,700.01 483.19,696.82 483.42,693.33 483.9,685.1 484.3,679.71 484.38,678.95 484.86,674.57 485.33,671.6 485.57,671.15 485.81,671.89 486.29,676.65 486.76,683.3 486.92,685.41 487.24,689.95 487.72,697.96 488.19,706.18 488.51,711.08 488.67,713.37 489.15,720.39 489.63,726.69 490.1,731.04 490.58,733.92 491.06,736.07 491.45,736.75 491.53,736.74 492.01,736.58 492.49,736.26 492.96,735.87 493.44,735.53 493.92,735.34 494.08,735.32 494.4,735.63 494.87,736.81 495.35,738.05 495.67,738.46 495.83,738.52 496.3,738.68 496.78,738.8 497.26,738.87 497.66,738.89 497.73,738.89 498.21,738.89 498.69,738.88 499.17,738.88 499.64,738.88 500.12,738.88 500.6,738.87 501.07,738.87 501.55,738.86 502.03,738.86 502.5,738.85 502.98,738.84 503.46,738.84 503.94,738.83 504.41,738.82 504.89,738.81 505.37,738.81 505.84,738.8 506.32,738.79 506.4,738.79 506.8,738.79 507.27,738.78 507.75,738.77 508.23,738.76 508.71,738.76 509.18,738.75 509.66,738.74 510.14,738.73 510.61,738.72 511.09,738.71 511.57,738.7 512.04,738.69 512.52,738.68 513,738.67 513.48,738.66 513.95,738.65 514.43,738.63 514.91,738.62 515.38,738.61 515.86,738.6 516.34,738.59 516.81,738.58 517.29,738.57 517.77,738.55 518.25,738.54 518.33,738.54 518.72,738.53 519.2,738.52 519.68,738.51 520.15,738.5 520.63,738.49 521.11,738.47 521.58,738.46 522.06,738.45 522.54,738.44 523.02,738.42 523.49,738.41 523.97,738.4 524.45,738.39 524.92,738.37 525.4,738.36 525.88,738.35 526.35,738.33 526.83,738.32 527.31,738.31 527.79,738.3 528.26,738.28 528.74,738.27 529.22,738.26 529.69,738.24 530.17,738.23 530.25,738.23 530.65,738.22 531.12,738.2 531.6,738.19 532.08,738.18 532.56,738.17 533.03,738.15 533.51,738.14 533.99,738.13 534.46,738.11 534.94,738.1 535.42,738.09 535.89,738.07 536.37,738.06 536.85,738.05 537.33,738.04 537.8,738.02 538.28,738.01 538.76,738 539.23,737.98 539.71,737.97 540.19,737.96 540.66,737.94 541.14,737.93 541.62,737.91 542.1,737.9 542.17,737.9 542.57,737.89 543.05,737.87 543.53,737.86 544,737.85 544.48,737.83 544.96,737.82 545.43,737.8 545.91,737.79 546.39,737.78 546.87,737.76 547.34,737.75 547.82,737.73 548.3,737.72 548.77,737.71 549.25,737.69 549.73,737.68 550.2,737.66 550.68,737.65 551.16,737.63 551.64,737.62 552.11,737.6 552.59,737.59 553.07,737.57 553.54,737.55 554.02,737.54 554.5,737.52 554.97,737.5 555.45,737.48 555.93,737.47 556.41,737.45 556.88,737.43 557.36,737.42 557.84,737.4 558.31,737.38 558.79,737.36 559.27,737.35 559.74,737.33 560.06,737.32 560.22,737.31 560.7,737.3 561.18,737.28 561.65,737.27 562.13,737.25 562.61,737.23 563.08,737.22 563.56,737.2 564.04,737.19 564.51,737.17 564.99,737.16 565.47,737.14 565.95,737.13 566.42,737.11 566.9,737.09 567.38,737.07 567.85,737.06 568.33,737.04 568.41,737.03 568.81,737.02 569.28,737 569.76,736.98 570.24,736.97 570.72,736.95 571.19,736.93 571.67,736.91 572.15,736.88 572.62,736.86 573.1,736.82 573.58,736.78 573.98,736.75 574.05,736.74 574.53,736.65 575.01,736.5 575.49,736.29 575.96,736.04 576.44,735.74 576.92,735.41 577.39,735.05 577.87,734.67 577.95,734.61 578.35,734.22 578.82,733.6 579.3,732.86 579.78,732.03 580.26,731.17 580.73,730.31 581.13,729.62 581.21,729.48 581.69,728.65 582.16,727.78 582.64,726.89 583.12,726 583.59,725.13 584.07,724.3 584.31,723.91 584.55,723.53 585.03,722.76 585.5,722 585.98,721.26 586.46,720.54 586.93,719.86 587.41,719.22 587.89,718.64 588.29,718.21 588.36,718.13 588.84,717.69 589.32,717.32 589.8,716.99 590.27,716.68 590.75,716.35 591.23,715.99 591.7,715.57 592.18,715.07 592.66,714.44 593.13,713.67 593.61,712.77 594.09,711.79 594.57,710.72 595.04,709.61 595.52,708.47 595.68,708.09 596,707.28 596.47,705.96 596.95,704.52 597.43,703.01 597.9,701.47 598.38,699.94 598.86,698.47 599.18,697.53 599.34,697.09 599.81,695.82 600.29,694.62 600.77,693.45 601.24,692.26 601.72,691 602.2,689.61 602.67,688.07 603.15,686.31 603.63,684.35 604.11,682.2 604.58,679.9 605.06,677.48 605.54,674.97 606.01,672.38 606.17,671.51 606.49,669.7 606.97,666.75 607.44,663.62 607.92,660.36 608.4,657.06 608.88,653.8 609.35,650.64 609.67,648.64 609.83,647.66 610.31,644.67 610.78,641.67 611.26,638.72 611.74,635.88 612.21,633.22 612.69,630.81 612.93,629.72 613.17,628.66 613.65,626.6 614.12,624.67 614.6,622.97 615.08,621.59 615.32,621.04 615.55,620.54 616.03,619.59 616.51,618.89 616.9,618.68 616.98,618.68 617.46,618.95 617.94,619.53 618.42,620.28 618.89,621.06 619.29,621.64 619.37,621.75 619.85,622.37 620.32,622.98 620.8,623.6 621.28,624.24 621.75,624.9 622.23,625.6 622.71,626.33 623.11,626.99 623.19,627.13 623.66,627.95 624.14,628.81 624.62,629.73 625.09,630.73 625.57,631.81 626.05,633.02 626.45,634.12 626.52,634.35 627,635.99 627.48,637.95 627.96,640.14 628.43,642.48 628.91,644.89 629.39,647.28 629.86,649.56 630.34,651.76 630.82,653.96 631.29,656.15 631.77,658.35 632.25,660.56 632.73,662.78 633.2,665.01 633.68,667.25 634.16,669.52 634.63,671.8 635.11,674.11 635.59,676.45 636.06,678.82 636.54,681.23 636.62,681.63 637.02,683.7 637.5,686.27 637.97,688.91 638.45,691.61 638.93,694.33 639.4,697.05 639.88,699.74 640.36,702.37 640.83,704.93 641.31,707.39 641.63,708.95 641.79,709.72 642.27,712.06 642.74,714.42 643.22,716.77 643.7,719.09 644.17,721.33 644.65,723.48 645.13,725.5 645.6,727.36 646.08,729.04 646.56,730.49 646.72,730.93 647.04,731.76 647.51,732.96 647.99,734.05 648.47,734.98 648.94,735.7 649.26,736.04 649.42,736.17 649.9,736.56 650.37,736.9 650.85,737.18 651.33,737.38 651.81,737.46 651.88,737.46 652.28,737.46 652.76,737.46 653.24,737.46 653.71,737.46 654.19,737.46 654.67,737.46 655.14,737.46 655.62,737.46 656.1,737.46 656.58,737.46 657.05,737.46 657.53,737.46 658.01,737.46 658.48,737.46 658.96,737.46 659.44,737.46 659.91,737.46 660.39,737.46 660.87,737.46 661.35,737.46 661.42,737.46 661.82,737.46 662.3,737.46 662.78,737.46 663.25,737.46 663.73,737.46 664.21,737.46 664.68,737.46 665.16,737.46 665.64,737.46 666.12,737.46 666.59,737.46 667.07,737.46 667.55,737.46 668.02,737.46 668.5,737.46 668.98,737.46 669.45,737.46 669.93,737.46 670.41,737.46 670.89,737.46 671.36,737.46 671.84,737.46 672.32,737.46 672.79,737.46 673.27,737.46 673.35,737.46" fill="none" stroke="#f51b1b" stroke-width="1.9" stroke-linejoin="round" stroke-linecap="round"/>
<polyline points="396.45,739.6 396.61,729.9 397.09,729.9 397.56,729.91 398.04,729.92 398.52,729.93 399,729.94 399.47,729.95 399.95,729.97 400.43,729.99 400.9,730.01 401.38,730.03 401.86,730.06 402.33,730.08 402.81,730.11 403.29,730.14 403.77,730.17 404,730.19 404.24,730.21 404.72,730.26 405.2,730.32 405.67,730.4 406.15,730.49 406.63,730.59 407.1,730.71 407.58,730.83 408.06,730.96 408.54,731.1 409.01,731.25 409.49,731.4 409.97,731.55 410.44,731.71 410.6,731.76 410.92,731.87 411.4,732.05 411.87,732.26 412.35,732.49 412.83,732.74 413.31,733 413.78,733.27 414.26,733.56 414.74,733.85 415.21,734.14 415.69,734.44 416.17,734.73 416.64,735.02 417.12,735.31 417.6,735.58 418.08,735.85 418.55,736.1 418.71,736.18 419.03,736.34 419.51,736.6 419.98,736.88 420.46,737.17 420.94,737.46 421.41,737.74 421.89,738.01 422.37,738.25 422.85,738.47 423.32,738.65 423.8,738.78 424.28,738.86 424.67,738.89 424.75,738.89 425.23,738.87 425.71,738.82 426.18,738.75 426.66,738.65 427.14,738.52 427.62,738.36 428.09,738.17 428.57,737.96 429.05,737.71 429.52,737.44 430,737.14 430.48,736.81 430.56,736.75 430.95,736.03 431.43,734.27 431.91,731.87 432.39,729.21 432.86,726.67 433.34,724.63 433.58,723.91 433.82,723.33 434.29,722.22 434.77,721.2 435.25,720.27 435.72,719.43 436.2,718.71 436.68,718.11 437.16,717.63 437.31,717.5 437.63,717.25 438.11,716.9 438.59,716.57 439.06,716.26 439.54,716 440.02,715.78 440.49,715.61 440.97,715.5 441.45,715.46 441.93,715.98 442.4,717.24 442.88,718.79 443.36,720.17 443.67,720.78 443.83,720.99 444.31,721.5 444.79,721.9 445.26,722.25 445.74,722.6 446.22,722.99 446.7,723.49 446.78,723.59 447.17,724.25 447.65,725.36 448.13,726.63 448.6,727.83 449.08,728.75 449.56,729.19 449.64,729.2 450.03,728.9 450.51,727.92 450.99,726.52 451.47,724.98 451.94,723.59 452.42,722.09 452.9,720.39 453.37,719 453.85,718.42 454.33,719.12 454.8,720.71 455.28,722.42 455.76,723.5 455.92,723.59 456.24,723.57 456.71,723.49 457.19,723.36 457.67,723.2 458.14,723.03 458.62,722.87 458.7,722.85 459.1,722.74 459.57,722.62 460.05,722.51 460.53,722.4 461.01,722.29 461.48,722.17 461.96,722.03 462.44,721.88 462.91,721.7 463.39,721.49 463.87,721.24 464.34,720.95 464.58,720.78 464.82,720.42 465.3,718.85 465.78,716.76 466.25,714.85 466.73,713.86 466.81,713.84 467.21,714.27 467.68,715.6 468.16,717.27 468.64,718.7 469.11,719.3 469.59,718.76 470.07,717.5 470.55,716.06 471.02,714.98 471.34,714.73 471.5,714.84 471.98,716.25 472.45,718.57 472.93,720.88 473.41,722.29 473.57,722.41 473.88,721.86 474.36,719.35 474.84,715.52 475.32,711.17 475.4,710.45 475.79,705.65 476.27,698.52 476.59,694.51 476.75,692.8 477.22,687.5 477.7,683.5 478.02,682.56 478.18,682.81 478.65,685.73 479.13,689.92 479.37,691.69 479.61,693.28 480.09,696.84 480.56,700.4 481.04,703.36 481.52,705.13 481.75,705.38 481.99,704.4 482.47,698.09 482.95,689.42 483.19,685.48 483.42,681.52 483.9,672.9 484.3,667.8 484.38,667.17 484.86,663.71 485.33,661.49 485.57,661.17 485.81,661.98 486.29,667.24 486.76,674.55 486.92,676.86 487.24,681.71 487.72,690.16 488.19,698.91 488.51,704.31 488.67,706.91 489.15,715.11 489.63,722.62 490.1,727.84 490.58,731.14 491.06,733.61 491.45,734.61 491.53,734.69 492.01,735.08 492.49,735.29 492.73,735.32 492.96,734.73 493.44,731.44 493.92,728.46 494.08,728.19 494.4,729.33 494.87,733.39 495.35,736.59 495.43,736.75 495.83,737.12 496.3,737.47 496.78,737.71 497.26,737.85 497.66,737.89 497.73,737.89 498.21,737.89 498.69,737.88 499.17,737.88 499.64,737.87 500.12,737.86 500.6,737.84 501.07,737.83 501.55,737.81 502.03,737.79 502.5,737.77 502.98,737.76 503.46,737.74 503.94,737.71 504.41,737.69 504.89,737.67 505.37,737.65 505.84,737.63 506.32,737.61 506.4,737.61 506.8,737.59 507.27,737.57 507.75,737.54 508.23,737.52 508.71,737.5 509.18,737.47 509.66,737.44 510.14,737.41 510.61,737.38 511.09,737.35 511.57,737.32 512.04,737.29 512.52,737.26 513,737.23 513.48,737.2 513.95,737.16 514.43,737.13 514.91,737.1 515.38,737.06 515.86,737.03 516.34,736.99 516.81,736.96 517.29,736.93 517.77,736.89 518.25,736.86 518.33,736.85 518.72,736.83 519.2,736.79 519.68,736.76 520.15,736.72 520.63,736.69 521.11,736.65 521.58,736.61 522.06,736.58 522.54,736.54 523.02,736.5 523.49,736.46 523.97,736.42 524.45,736.39 524.92,736.35 525.4,736.31 525.88,736.27 526.35,736.23 526.83,736.19 527.31,736.15 527.79,736.11 528.26,736.07 528.74,736.04 529.22,736 529.69,735.96 530.17,735.92 530.25,735.91 530.65,735.88 531.12,735.84 531.6,735.8 532.08,735.76 532.56,735.73 533.03,735.69 533.51,735.65 533.99,735.61 534.46,735.57 534.94,735.53 535.42,735.49 535.89,735.45 536.37,735.41 536.85,735.37 537.33,735.33 537.8,735.29 538.28,735.25 538.76,735.21 539.23,735.17 539.71,735.13 540.19,735.09 540.66,735.05 541.14,735.01 541.62,734.97 542.1,734.93 542.17,734.92 542.57,734.89 543.05,734.85 543.53,734.81 544,734.77 544.48,734.72 544.96,734.68 545.43,734.64 545.91,734.6 546.39,734.56 546.87,734.52 547.34,734.47 547.82,734.43 548.3,734.39 548.77,734.34 549.25,734.3 549.73,734.26 550.2,734.21 550.68,734.17 551.16,734.12 551.64,734.08 552.11,734.03 552.59,733.98 553.07,733.94 553.54,733.89 554.02,733.85 554.5,733.8 554.97,733.76 555.45,733.71 555.93,733.67 556.41,733.62 556.88,733.57 557.36,733.52 557.84,733.46 558.31,733.41 558.79,733.35 559.27,733.29 559.74,733.23 560.06,733.18 560.22,733.16 560.7,733.09 561.18,733.01 561.65,732.93 562.13,732.84 562.61,732.75 563.08,732.66 563.56,732.56 564.04,732.46 564.51,732.35 564.99,732.24 565.47,732.13 565.95,732.02 566.42,731.9 566.9,731.79 567.38,731.67 567.85,731.54 568.33,731.42 568.41,731.4 568.81,731.3 569.28,731.17 569.76,731.05 570.24,730.92 570.72,730.79 571.19,730.65 571.67,730.5 572.15,730.35 572.62,730.18 573.1,729.99 573.58,729.8 573.98,729.62 574.05,729.58 574.53,729.33 575.01,729.04 575.49,728.71 575.96,728.34 576.44,727.95 576.92,727.53 577.39,727.08 577.87,726.62 577.95,726.54 578.35,726.15 578.82,725.65 579.3,725.06 579.78,724.28 579.94,723.97 580.26,723.17 580.73,721.37 581.21,718.86 581.53,716.78 581.69,715.05 582.16,706.78 582.48,703.95 582.64,704.42 583.12,709.31 583.59,713.58 583.67,713.7 584.07,713.07 584.55,710.91 585.03,707.74 585.5,704.05 585.9,700.97 585.98,700.34 586.46,695.48 586.85,691.64 586.93,690.99 587.41,687 587.81,685.41 587.89,685.5 588.36,688.67 588.84,693.68 589.08,695.68 589.32,697.28 589.8,700.32 590.27,702.77 590.43,703.38 590.75,704.45 591.23,706 591.7,707.44 592.18,708.72 592.66,709.77 593.13,710.54 593.61,710.99 593.93,711.08 594.09,711.07 594.57,710.87 595.04,710.47 595.52,709.91 596,709.22 596.47,708.43 596.95,707.59 597.43,706.72 597.9,705.87 598.38,705.07 598.86,704.36 599.18,703.95 599.34,703.77 599.81,703.25 600.29,702.77 600.77,702.31 601.24,701.85 601.72,701.36 602.2,700.83 602.67,700.22 603.15,699.53 603.63,698.75 604.11,697.91 604.58,697 605.06,696.05 605.54,695.05 606.01,694.03 606.17,693.69 606.49,692.98 606.97,691.82 607.44,690.58 607.92,689.3 608.4,688 608.88,686.71 609.35,685.47 609.67,684.68 609.83,684.29 610.31,683.11 610.78,681.93 611.26,680.76 611.74,679.65 612.21,678.6 612.69,677.65 612.93,677.22 613.17,676.8 613.65,675.99 614.12,675.23 614.6,674.56 615.08,674.01 615.32,673.8 615.55,673.6 616.03,673.22 616.51,672.95 616.9,672.86 616.98,672.87 617.46,673.1 617.94,673.6 618.42,674.25 618.89,674.92 619.29,675.42 619.37,675.51 619.85,676.03 620.32,676.55 620.8,677.08 621.28,677.62 621.75,678.17 622.23,678.75 622.71,679.37 623.11,679.91 623.19,680.03 623.66,680.71 624.14,681.42 624.62,682.17 625.09,682.98 625.57,683.86 626.05,684.83 626.45,685.7 626.52,685.89 627,687.19 627.48,688.72 627.96,690.42 628.43,692.22 628.91,694.03 629.39,695.79 629.86,697.42 630.34,698.96 630.82,700.48 631.29,702 631.77,703.5 632.25,705 632.73,706.47 633.2,707.93 633.68,709.37 634.16,710.8 634.63,712.2 635.11,713.59 635.59,714.95 636.06,716.29 636.54,717.6 636.62,717.82 637.02,718.92 637.5,720.26 637.97,721.61 638.45,722.95 638.93,724.27 639.4,725.54 639.88,726.74 640.36,727.87 640.83,728.9 641.31,729.81 641.63,730.34 641.79,730.59 642.27,731.33 642.74,732.05 643.22,732.75 643.7,733.41 644.17,734.03 644.65,734.59 645.13,735.09 645.6,735.51 646.08,735.85 646.56,736.09 646.72,736.15 647.04,736.26 647.51,736.4 647.99,736.52 648.47,736.61 648.94,736.68 649.26,736.7 649.42,736.7 649.9,736.72 650.37,736.73 650.85,736.74 651.33,736.75 651.81,736.75 651.88,736.75 652.28,736.75 652.76,736.75 653.24,736.75 653.71,736.75 654.19,736.75 654.67,736.75 655.14,736.75 655.62,736.75 656.1,736.75 656.58,736.75 657.05,736.75 657.53,736.75 658.01,736.75 658.48,736.75 658.96,736.75 659.44,736.75 659.91,736.75 660.39,736.75 660.87,736.75 661.35,736.75 661.42,736.75 661.82,736.75 662.3,736.75 662.78,736.75 663.25,736.75 663.73,736.75 664.21,736.75 664.68,736.75 665.16,736.75 665.64,736.75 666.12,736.75 666.59,736.75 667.07,736.75 667.55,736.75 668.02,736.75 668.5,736.75 668.98,736.75 669.45,736.75 669.93,736.75 670.41,736.75 670.89,736.75 671.36,736.75 671.84,736.75 672.32,736.75 672.79,736.75 673.27,736.75 673.35,736.75" fill="none" stroke="#138585" stroke-width="1.9" stroke-linejoin="round" stroke-linecap="round"/>
<polyline points="396.45,739.6 396.61,728.9 397.09,728.91 397.56,728.91 398.04,728.93 398.52,728.94 399,728.96 399.47,728.98 399.95,729.01 400.43,729.04 400.9,729.07 401.38,729.1 401.86,729.14 402.33,729.18 402.81,729.22 403.29,729.27 403.77,729.31 404,729.33 404.24,729.36 404.72,729.42 405.2,729.5 405.67,729.58 406.15,729.69 406.63,729.8 407.1,729.92 407.58,730.06 408.06,730.2 408.54,730.35 409.01,730.5 409.49,730.66 409.97,730.82 410.44,730.99 410.6,731.04 410.92,731.16 411.4,731.36 411.87,731.57 412.35,731.81 412.83,732.06 413.31,732.33 413.78,732.61 414.26,732.9 414.74,733.19 415.21,733.49 415.69,733.8 416.17,734.1 416.64,734.4 417.12,734.69 417.6,734.98 418.08,735.26 418.55,735.52 418.71,735.61 419.03,735.78 419.51,736.07 419.98,736.37 420.46,736.69 420.94,737.01 421.41,737.32 421.89,737.62 422.37,737.89 422.85,738.14 423.32,738.34 423.8,738.49 424.28,738.58 424.67,738.6 424.75,738.6 425.23,738.58 425.71,738.53 426.18,738.45 426.66,738.35 427.14,738.21 427.62,738.04 428.09,737.84 428.57,737.61 429.05,737.35 429.52,737.06 430,736.74 430.48,736.38 430.56,736.32 430.95,735.57 431.43,733.72 431.91,731.22 432.39,728.44 432.86,725.79 433.34,723.66 433.58,722.92 433.82,722.3 434.29,721.06 434.77,719.87 435.25,718.77 435.72,717.81 436.2,717.04 436.68,716.5 437.16,716.23 437.31,716.21 437.63,716.26 438.11,716.46 438.59,716.81 439.06,717.25 439.54,717.75 440.02,718.27 440.49,718.77 440.97,719.21 441.45,719.59 441.93,719.95 442.4,720.29 442.88,720.64 443.36,721 443.83,721.38 444.31,721.79 444.79,722.24 445.26,722.74 445.42,722.92 445.74,723.37 446.22,724.32 446.7,725.43 447.17,726.53 447.65,727.47 448.13,728.06 448.44,728.19 448.6,728.16 449.08,727.68 449.56,726.73 450.03,725.43 450.51,723.91 450.99,722.29 451.47,720.68 451.94,719.22 452.42,718.03 452.9,717.22 453.37,716.93 453.85,717.29 454.33,718.16 454.8,719.23 455.28,720.15 455.76,720.62 455.84,720.63 456.24,720.63 456.71,720.63 457.19,720.63 457.67,720.63 458.14,720.63 458.62,720.63 459.1,720.63 459.57,720.63 460.05,720.63 460.53,720.63 461.01,720.63 461.48,720.63 461.96,720.63 462.44,720.63 462.52,720.63 462.91,720.19 463.39,718.75 463.87,716.75 464.34,714.63 464.82,712.85 465.3,711.87 465.46,711.79 465.78,712 466.25,712.87 466.73,714.04 467.21,715.06 467.68,715.5 468.16,715.01 468.64,713.79 469.11,712.24 469.59,710.76 470.07,709.74 470.39,709.51 470.55,709.66 471.02,711.61 471.5,714.94 471.98,718.54 472.45,721.32 472.85,722.2 472.93,722.17 473.41,720.8 473.88,717.84 474.36,713.91 474.84,709.63 475,708.23 475.32,704.87 475.79,698.67 476.19,693.97 476.27,693.15 476.75,687.79 477.22,682.97 477.7,680.48 477.78,680.42 478.18,681.86 478.65,686.08 479.13,690.76 479.37,692.54 479.61,694.04 480.09,697.19 480.56,700.19 481.04,702.62 481.52,704.04 481.75,704.24 481.99,703.31 482.47,697.37 482.95,689.16 483.19,685.41 483.42,681.65 483.9,673.43 484.3,668.3 484.38,667.6 484.86,663.6 485.33,660.66 485.73,659.74 485.81,659.82 486.29,663.14 486.76,669.52 487.16,675.43 487.24,676.62 487.72,685.75 488.19,696.21 488.51,702.52 488.67,705.44 489.15,714.47 489.63,722.61 490.1,728.19 490.58,731.8 491.06,734.48 491.45,735.32 491.53,735.32 492.01,735.32 492.49,735.32 492.73,735.32 492.96,734.33 493.44,728.8 493.92,723.8 494.08,723.34 494.4,725.18 494.87,731.67 495.35,736.57 495.43,736.75 495.83,736.99 496.3,737.21 496.78,737.36 497.26,737.44 497.66,737.46 497.73,737.46 498.21,737.46 498.69,737.45 499.17,737.45 499.64,737.44 500.12,737.43 500.6,737.41 501.07,737.4 501.55,737.38 502.03,737.37 502.5,737.35 502.98,737.33 503.46,737.31 503.94,737.29 504.41,737.27 504.89,737.24 505.37,737.22 505.84,737.2 506.32,737.18 506.4,737.18 506.8,737.16 507.27,737.14 507.75,737.12 508.23,737.09 508.71,737.07 509.18,737.04 509.66,737.01 510.14,736.99 510.61,736.96 511.09,736.93 511.57,736.9 512.04,736.87 512.52,736.83 513,736.8 513.48,736.77 513.95,736.74 514.43,736.7 514.91,736.67 515.38,736.63 515.86,736.6 516.34,736.57 516.81,736.53 517.29,736.5 517.77,736.46 518.25,736.43 518.33,736.43 518.72,736.4 519.2,736.36 519.68,736.33 520.15,736.29 520.63,736.26 521.11,736.22 521.58,736.18 522.06,736.15 522.54,736.11 523.02,736.07 523.49,736.03 523.97,736 524.45,735.96 524.92,735.92 525.4,735.88 525.88,735.84 526.35,735.8 526.83,735.76 527.31,735.72 527.79,735.69 528.26,735.65 528.74,735.61 529.22,735.57 529.69,735.53 530.17,735.49 530.25,735.48 530.65,735.45 531.12,735.41 531.6,735.38 532.08,735.34 532.56,735.3 533.03,735.26 533.51,735.22 533.99,735.18 534.46,735.14 534.94,735.1 535.42,735.06 535.89,735.02 536.37,734.99 536.85,734.95 537.33,734.91 537.8,734.87 538.28,734.83 538.76,734.79 539.23,734.75 539.71,734.71 540.19,734.67 540.66,734.63 541.14,734.59 541.62,734.54 542.1,734.5 542.17,734.5 542.57,734.46 543.05,734.42 543.53,734.38 544,734.34 544.48,734.3 544.96,734.26 545.43,734.21 545.91,734.17 546.39,734.13 546.87,734.09 547.34,734.05 547.82,734 548.3,733.96 548.77,733.92 549.25,733.87 549.73,733.83 550.2,733.78 550.68,733.74 551.16,733.69 551.64,733.65 552.11,733.6 552.59,733.56 553.07,733.51 553.54,733.47 554.02,733.42 554.5,733.38 554.97,733.33 555.45,733.29 555.93,733.24 556.41,733.19 556.88,733.15 557.36,733.09 557.84,733.04 558.31,732.99 558.79,732.93 559.27,732.87 559.74,732.8 560.06,732.76 560.22,732.73 560.7,732.66 561.18,732.58 561.65,732.49 562.13,732.4 562.61,732.3 563.08,732.2 563.56,732.09 564.04,731.98 564.51,731.87 564.99,731.75 565.47,731.63 565.95,731.5 566.42,731.38 566.9,731.25 567.38,731.12 567.85,730.99 568.33,730.85 568.41,730.83 568.81,730.72 569.28,730.59 569.76,730.45 570.24,730.32 570.72,730.18 571.19,730.03 571.67,729.87 572.15,729.7 572.62,729.52 573.1,729.32 573.58,729.1 573.98,728.9 574.05,728.86 574.53,728.58 575.01,728.25 575.49,727.88 575.96,727.46 576.44,727.01 576.92,726.53 577.39,726.02 577.87,725.49 577.95,725.4 578.35,724.95 578.82,724.39 579.3,723.71 579.78,722.83 579.94,722.47 580.26,721.56 580.73,719.51 581.21,716.66 581.53,714.29 581.69,712.32 582.16,702.89 582.48,699.67 582.64,700.21 583.12,705.78 583.59,710.64 583.67,710.78 584.07,710.05 584.55,707.58 585.03,703.92 585.5,699.69 585.9,696.16 585.98,695.43 586.46,689.85 586.85,685.43 586.93,684.69 587.41,680.1 587.81,678.28 587.89,678.39 588.36,682.45 588.84,688.84 589.08,691.4 589.32,693.44 589.8,697.34 590.27,700.47 590.43,701.24 590.75,702.61 591.23,704.6 591.7,706.43 592.18,708.06 592.66,709.4 593.13,710.39 593.61,710.96 593.93,711.08 594.09,711.07 594.57,710.87 595.04,710.46 595.52,709.89 596,709.19 596.47,708.39 596.95,707.54 597.43,706.67 597.9,705.83 598.38,705.04 598.86,704.34 599.18,703.95 599.34,703.77 599.81,703.29 600.29,702.85 600.77,702.43 601.24,702.01 601.72,701.57 602.2,701.08 602.67,700.53 603.15,699.89 603.63,699.18 604.11,698.41 604.58,697.57 605.06,696.7 605.54,695.79 606.01,694.85 606.17,694.54 606.49,693.88 606.97,692.82 607.44,691.68 607.92,690.51 608.4,689.31 608.88,688.13 609.35,686.99 609.67,686.27 609.83,685.91 610.31,684.83 610.78,683.75 611.26,682.68 611.74,681.65 612.21,680.69 612.69,679.82 612.93,679.42 613.17,679.04 613.65,678.3 614.12,677.6 614.6,676.98 615.08,676.48 615.32,676.29 615.55,676.11 616.03,675.76 616.51,675.51 616.9,675.43 616.98,675.44 617.46,675.67 617.94,676.16 618.42,676.79 618.89,677.45 619.29,677.94 619.37,678.02 619.85,678.54 620.32,679.05 620.8,679.57 621.28,680.09 621.75,680.64 622.23,681.21 622.71,681.81 623.11,682.34 623.19,682.45 623.66,683.12 624.14,683.82 624.62,684.56 625.09,685.35 625.57,686.21 626.05,687.15 626.45,688.01 626.52,688.19 627,689.46 627.48,690.96 627.96,692.62 628.43,694.37 628.91,696.14 629.39,697.85 629.86,699.44 630.34,700.93 630.82,702.41 631.29,703.89 631.77,705.35 632.25,706.79 632.73,708.22 633.2,709.64 633.68,711.03 634.16,712.41 634.63,713.77 635.11,715.1 635.59,716.42 636.06,717.7 636.54,718.97 636.62,719.17 637.02,720.23 637.5,721.51 637.97,722.8 638.45,724.08 638.93,725.34 639.4,726.55 639.88,727.7 640.36,728.77 640.83,729.75 641.31,730.6 641.63,731.1 641.79,731.34 642.27,732.03 642.74,732.71 643.22,733.36 643.7,733.97 644.17,734.55 644.65,735.07 645.13,735.53 645.6,735.92 646.08,736.23 646.56,736.45 646.72,736.5 647.04,736.6 647.51,736.72 647.99,736.83 648.47,736.92 648.94,736.97 649.26,736.99 649.42,736.99 649.9,737.01 650.37,737.02 650.85,737.03 651.33,737.03 651.81,737.03 651.88,737.03 652.28,737.03 652.76,737.03 653.24,737.03 653.71,737.03 654.19,737.03 654.67,737.03 655.14,737.03 655.62,737.03 656.1,737.03 656.58,737.03 657.05,737.03 657.53,737.03 658.01,737.03 658.48,737.03 658.96,737.03 659.44,737.03 659.91,737.03 660.39,737.03 660.87,737.03 661.35,737.03 661.42,737.03 661.82,737.03 662.3,737.03 662.78,737.03 663.25,737.03 663.73,737.03 664.21,737.03 664.68,737.03 665.16,737.03 665.64,737.03 666.12,737.03 666.59,737.03 667.07,737.03 667.55,737.03 668.02,737.03 668.5,737.03 668.98,737.03 669.45,737.03 669.93,737.03 670.41,737.03 670.89,737.03 671.36,737.03 671.84,737.03 672.32,737.03 672.79,737.03 673.27,737.03 673.35,737.03" fill="none" stroke="#f024f0" stroke-width="1.9" stroke-linejoin="round" stroke-linecap="round"/>
<polyline points="396.45,739.6 396.61,723.63 397.09,723.63 397.56,723.63 398.04,723.63 398.52,723.63 399,723.63 399.47,723.63 399.95,723.63 400.43,723.63 400.9,723.63 401.38,723.63 401.86,723.63 402.33,723.63 402.81,723.63 403.29,723.63 403.77,723.63 404,723.63 404.24,723.63 404.72,723.66 405.2,723.7 405.67,723.76 406.15,723.85 406.63,723.95 407.1,724.06 407.58,724.19 408.06,724.33 408.54,724.48 409.01,724.64 409.49,724.8 409.97,724.97 410.44,725.14 410.6,725.2 410.92,725.32 411.4,725.56 411.87,725.84 412.35,726.16 412.83,726.51 413.31,726.9 413.78,727.32 414.26,727.75 414.74,728.2 415.21,728.66 415.69,729.13 416.17,729.6 416.64,730.06 417.12,730.52 417.6,730.96 418.08,731.38 418.55,731.77 418.71,731.9 419.03,732.16 419.51,732.58 419.98,733.03 420.46,733.5 420.94,733.97 421.41,734.43 421.89,734.87 422.37,735.27 422.85,735.63 423.32,735.93 423.8,736.15 424.28,736.28 424.67,736.32 424.75,736.32 425.23,736.3 425.71,736.26 426.18,736.2 426.66,736.11 427.14,735.99 427.62,735.85 428.09,735.69 428.57,735.5 429.05,735.29 429.52,735.06 429.84,734.89 430,734.73 430.48,733.45 430.95,731.25 431.43,728.51 431.91,725.58 432.39,722.84 432.86,720.65 433.34,719.38 433.58,719.21 433.82,719.3 434.29,719.94 434.77,720.87 435.25,721.73 435.72,722.19 435.8,722.2 436.2,721.82 436.68,720.64 437.16,719.2 437.63,718.02 438.03,717.64 438.11,717.65 438.59,718.13 439.06,719.14 439.54,720.38 440.02,721.61 440.49,722.54 440.97,722.92 441.45,722.67 441.93,722.04 442.4,721.21 442.88,720.35 443.36,719.63 443.83,719.24 443.99,719.21 444.31,719.32 444.79,719.83 445.26,720.68 445.74,721.74 446.22,722.92 446.7,724.09 447.17,725.15 447.65,726 448.13,726.52 448.44,726.62 448.6,726.59 449.08,726.08 449.56,725.07 450.03,723.69 450.51,722.07 450.99,720.34 451.47,718.64 451.94,717.09 452.42,715.82 452.9,714.96 453.37,714.64 453.85,715.09 454.33,716.17 454.8,717.47 455.28,718.62 455.76,719.19 455.84,719.21 456.24,719.2 456.71,719.15 457.19,719.07 457.67,718.96 458.14,718.82 458.62,718.65 459.1,718.45 459.57,718.22 460.05,717.96 460.53,717.67 461.01,717.36 461.48,717.02 461.96,716.66 462.44,716.28 462.52,716.21 462.91,715.6 463.39,714.28 463.87,712.63 464.34,710.96 464.82,709.6 465.3,708.85 465.46,708.8 465.78,709.04 466.25,710.09 466.73,711.48 467.21,712.7 467.68,713.22 468.16,712.61 468.64,711.1 469.11,709.18 469.59,707.35 470.07,706.09 470.39,705.8 470.55,705.97 471.02,708.14 471.5,711.84 471.98,715.85 472.45,718.94 472.85,719.92 472.93,719.88 473.41,718.16 473.88,714.45 474.36,709.55 474.84,704.25 475,702.52 475.32,698.42 475.79,690.95 476.19,685.41 476.27,684.47 476.75,678.44 477.22,673.09 477.7,670.36 477.78,670.3 478.18,672.26 478.65,678.01 479.13,684.41 479.37,686.84 479.61,688.88 480.09,693.19 480.56,697.29 481.04,700.6 481.52,702.54 481.75,702.81 481.99,701.7 482.47,694.51 482.95,684.43 483.19,679.71 483.42,674.79 483.9,663.72 484.3,656.89 484.38,656 484.86,650.98 485.33,647.32 485.73,646.2 485.81,646.3 486.29,650.41 486.76,658.28 487.16,665.45 487.24,666.87 487.72,677.5 488.19,689.53 488.51,696.82 488.67,700.21 489.15,710.71 489.63,720.2 490.1,726.77 490.58,731.08 491.06,734.31 491.45,735.32 491.53,735.32 492.01,735.16 492.49,734.82 492.73,734.61 492.96,734.17 493.44,732.52 493.92,731.17 494.08,731.04 494.4,731.58 494.87,733.53 495.35,735.2 495.43,735.32 495.83,735.74 496.3,736.17 496.78,736.5 497.26,736.69 497.66,736.75 497.73,736.75 498.21,736.75 498.69,736.74 499.17,736.73 499.64,736.71 500.12,736.69 500.6,736.67 501.07,736.65 501.55,736.62 502.03,736.59 502.5,736.56 502.98,736.52 503.46,736.48 503.94,736.44 504.41,736.4 504.89,736.35 505.37,736.31 505.84,736.26 506.32,736.21 506.8,736.16 507.27,736.11 507.75,736.05 508.23,736 508.71,735.94 509.18,735.89 509.66,735.84 510.14,735.78 510.61,735.73 511.09,735.67 511.57,735.62 512.04,735.57 512.52,735.51 513,735.46 513.48,735.41 513.95,735.36 514.35,735.32 514.43,735.31 514.91,735.27 515.38,735.22 515.86,735.18 516.34,735.14 516.81,735.1 517.29,735.06 517.77,735.02 518.25,734.99 518.72,734.95 519.2,734.91 519.68,734.88 520.15,734.84 520.63,734.81 521.11,734.77 521.58,734.74 522.06,734.7 522.54,734.67 523.02,734.63 523.49,734.6 523.97,734.56 524.45,734.52 524.92,734.48 525.4,734.44 525.88,734.4 526.35,734.36 526.83,734.31 527.31,734.27 527.79,734.22 528.26,734.17 528.74,734.12 529.22,734.07 529.69,734.01 530.17,733.95 530.65,733.89 531.12,733.83 531.6,733.76 532.08,733.69 532.56,733.62 533.03,733.54 533.51,733.46 533.99,733.38 534.46,733.29 534.94,733.2 535.42,733.11 535.89,733.01 536.37,732.9 536.85,732.8 537.33,732.69 537.8,732.57 538.2,732.47 538.28,732.45 538.76,732.16 539.23,731.7 539.71,731.18 540.19,730.71 540.66,730.4 540.98,730.33 541.14,730.35 541.62,730.56 542.1,730.91 542.57,731.28 543.05,731.55 543.37,731.61 543.53,731.61 544,731.59 544.48,731.55 544.96,731.49 545.43,731.41 545.91,731.32 546.39,731.22 546.87,731.11 547.34,731 547.82,730.88 548.3,730.75 548.77,730.64 549.25,730.52 549.73,730.41 550.12,730.33 550.2,730.32 550.68,730.22 551.16,730.12 551.64,730.03 552.11,729.93 552.59,729.83 553.07,729.73 553.54,729.62 554.02,729.52 554.5,729.42 554.97,729.32 555.45,729.22 555.93,729.12 556.41,729.01 556.88,728.91 557.36,728.81 557.84,728.72 558.31,728.62 558.79,728.52 559.27,728.43 559.74,728.33 560.22,728.24 560.7,728.16 561.18,728.07 561.65,727.99 562.13,727.9 562.61,727.82 563.08,727.74 563.56,727.66 564.04,727.58 564.51,727.5 564.99,727.42 565.47,727.33 565.95,727.25 566.42,727.16 566.9,727.07 567.38,726.98 567.85,726.88 568.33,726.78 568.41,726.77 568.81,726.68 569.28,726.57 569.76,726.46 570.24,726.34 570.72,726.22 571.19,726.1 571.67,725.97 572.15,725.84 572.62,725.71 573.1,725.58 573.58,725.45 573.98,725.34 574.05,725.32 574.53,725.19 575.01,725.06 575.49,724.93 575.96,724.8 576.44,724.66 576.92,724.51 577.39,724.35 577.87,724.17 577.95,724.14 578.35,723.99 578.82,723.8 579.3,723.57 579.78,723.26 579.94,723.14 580.26,722.83 580.73,722.13 581.21,721.16 581.53,720.35 581.69,719.68 582.16,716.46 582.48,715.36 582.64,715.54 583.12,717.44 583.59,719.1 583.67,719.15 584.07,718.71 584.55,717.23 585.03,715.04 585.5,712.51 585.9,710.39 585.98,709.95 586.46,706.61 586.85,703.96 586.93,703.51 587.41,700.76 587.81,699.67 587.89,699.77 588.36,703.47 588.84,709.32 589.08,711.65 589.32,713.52 589.8,717.07 590.27,719.93 590.43,720.63 590.75,721.89 591.23,723.7 591.7,725.38 592.18,726.86 592.66,728.08 593.13,728.99 593.61,729.51 593.93,729.62 594.09,729.54 594.57,728.45 595.04,726.27 595.52,723.23 596,719.58 596.47,715.56 596.95,711.42 597.43,707.39 597.9,703.72 598.38,700.65 598.86,698.43 599.18,697.53 599.34,697.23 599.81,696.46 600.29,695.85 600.77,695.34 601.24,694.88 601.72,694.4 602.2,693.86 602.67,693.19 603.15,692.38 603.63,691.48 604.11,690.49 604.58,689.44 605.06,688.32 605.54,687.17 606.01,685.98 606.17,685.58 606.49,684.75 606.97,683.4 607.44,681.96 607.92,680.46 608.4,678.94 608.88,677.45 609.35,676 609.67,675.08 609.83,674.63 610.31,673.25 610.78,671.87 611.26,670.52 611.74,669.22 612.21,668 612.69,666.89 612.93,666.38 613.17,665.9 613.65,664.95 614.12,664.07 614.6,663.29 615.08,662.65 615.32,662.4 615.55,662.17 616.03,661.73 616.51,661.41 616.9,661.31 616.98,661.32 617.46,661.57 617.94,662.1 618.42,662.79 618.89,663.51 619.29,664.04 619.37,664.13 619.85,664.7 620.32,665.25 620.8,665.82 621.28,666.39 621.75,666.99 622.23,667.61 622.71,668.27 623.11,668.86 623.19,668.98 623.66,669.71 624.14,670.48 624.62,671.29 625.09,672.16 625.57,673.12 626.05,674.16 626.45,675.11 626.52,675.31 627,676.72 627.48,678.39 627.96,680.25 628.43,682.21 628.91,684.2 629.39,686.14 629.86,687.95 630.34,689.66 630.82,691.37 631.29,693.06 631.77,694.75 632.25,696.42 632.73,698.08 633.2,699.73 633.68,701.37 634.16,702.99 634.63,704.6 635.11,706.2 635.59,707.78 636.06,709.34 636.54,710.89 636.62,711.14 637.02,712.44 637.5,714.03 637.97,715.64 638.45,717.25 638.93,718.84 639.4,720.38 639.88,721.86 640.36,723.25 640.83,724.54 641.31,725.7 641.63,726.39 641.79,726.72 642.27,727.7 642.74,728.66 643.22,729.59 643.7,730.48 644.17,731.32 644.65,732.09 645.13,732.78 645.6,733.37 646.08,733.86 646.56,734.22 646.72,734.32 647.04,734.48 647.51,734.71 647.99,734.91 648.47,735.07 648.94,735.18 649.26,735.22 649.42,735.23 649.9,735.26 650.37,735.28 650.85,735.3 651.33,735.32 651.81,735.32 651.88,735.32 652.28,735.32 652.76,735.32 653.24,735.32 653.71,735.32 654.19,735.32 654.67,735.32 655.14,735.32 655.62,735.32 656.1,735.32 656.58,735.32 657.05,735.32 657.53,735.32 658.01,735.32 658.48,735.32 658.96,735.32 659.44,735.32 659.91,735.32 660.39,735.32 660.87,735.32 661.35,735.32 661.42,735.32 661.82,735.32 662.3,735.32 662.78,735.32 663.25,735.32 663.73,735.32 664.21,735.32 664.68,735.32 665.16,735.32 665.64,735.32 666.12,735.32 666.59,735.32 667.07,735.32 667.55,735.32 668.02,735.32 668.5,735.32 668.98,735.32 669.45,735.32 669.93,735.32 670.41,735.32 670.89,735.32 671.36,735.32 671.84,735.32 672.32,735.32 672.79,735.32 673.27,735.32 673.35,735.32" fill="none" stroke="#2222ee" stroke-width="1.9" stroke-linejoin="round" stroke-linecap="round"/>
</g>
<rect x="511.4" y="558.8" width="90.4" height="67.1" fill="#fff" stroke="#333" stroke-width="0.8"/>
<line x1="509.9" y1="625.9" x2="511.4" y2="625.9" stroke="#333" stroke-width="0.5" stroke-linecap="butt"/>
<text x="508.9" y="626.83" font-size="2.6" text-anchor="end" font-weight="normal" font-style="normal" fill="#444">0.0</text>
<line x1="509.9" y1="612.48" x2="511.4" y2="612.48" stroke="#333" stroke-width="0.5" stroke-linecap="butt"/>
<text x="508.9" y="613.41" font-size="2.6" text-anchor="end" font-weight="normal" font-style="normal" fill="#444">0.2</text>
<line x1="509.9" y1="599.06" x2="511.4" y2="599.06" stroke="#333" stroke-width="0.5" stroke-linecap="butt"/>
<text x="508.9" y="599.99" font-size="2.6" text-anchor="end" font-weight="normal" font-style="normal" fill="#444">0.4</text>
<line x1="509.9" y1="585.64" x2="511.4" y2="585.64" stroke="#333" stroke-width="0.5" stroke-linecap="butt"/>
<text x="508.9" y="586.57" font-size="2.6" text-anchor="end" font-weight="normal" font-style="normal" fill="#444">0.6</text>
<line x1="509.9" y1="572.22" x2="511.4" y2="572.22" stroke="#333" stroke-width="0.5" stroke-linecap="butt"/>
<text x="508.9" y="573.15" font-size="2.6" text-anchor="end" font-weight="normal" font-style="normal" fill="#444">0.8</text>
<line x1="509.9" y1="558.8" x2="511.4" y2="558.8" stroke="#333" stroke-width="0.5" stroke-linecap="butt"/>
<text x="508.9" y="559.73" font-size="2.6" text-anchor="end" font-weight="normal" font-style="normal" fill="#444">1.0</text>
<line x1="517.05" y1="625.9" x2="517.05" y2="627.1" stroke="#333" stroke-width="0.5" stroke-linecap="butt"/>
<text x="517.05" y="630.43" font-size="2.6" text-anchor="middle" font-weight="normal" font-style="normal" fill="#444">3000</text>
<line x1="528.35" y1="625.9" x2="528.35" y2="627.1" stroke="#333" stroke-width="0.5" stroke-linecap="butt"/>
<text x="528.35" y="630.43" font-size="2.6" text-anchor="middle" font-weight="normal" font-style="normal" fill="#444">3100</text>
<line x1="539.65" y1="625.9" x2="539.65" y2="627.1" stroke="#333" stroke-width="0.5" stroke-linecap="butt"/>
<text x="539.65" y="630.43" font-size="2.6" text-anchor="middle" font-weight="normal" font-style="normal" fill="#444">3200</text>
<line x1="550.95" y1="625.9" x2="550.95" y2="627.1" stroke="#333" stroke-width="0.5" stroke-linecap="butt"/>
<text x="550.95" y="630.43" font-size="2.6" text-anchor="middle" font-weight="normal" font-style="normal" fill="#444">3300</text>
<line x1="562.25" y1="625.9" x2="562.25" y2="627.1" stroke="#333" stroke-width="0.5" stroke-linecap="butt"/>
<text x="562.25" y="630.43" font-size="2.6" text-anchor="middle" font-weight="normal" font-style="normal" fill="#444">3400</text>
<line x1="573.55" y1="625.9" x2="573.55" y2="627.1" stroke="#333" stroke-width="0.5" stroke-linecap="butt"/>
<text x="573.55" y="630.43" font-size="2.6" text-anchor="middle" font-weight="normal" font-style="normal" fill="#444">3500</text>
<line x1="584.85" y1="625.9" x2="584.85" y2="627.1" stroke="#333" stroke-width="0.5" stroke-linecap="butt"/>
<text x="584.85" y="630.43" font-size="2.6" text-anchor="middle" font-weight="normal" font-style="normal" fill="#444">3600</text>
<line x1="596.15" y1="625.9" x2="596.15" y2="627.1" stroke="#333" stroke-width="0.5" stroke-linecap="butt"/>
<text x="596.15" y="630.43" font-size="2.6" text-anchor="middle" font-weight="normal" font-style="normal" fill="#444">3700</text>
<text x="556.6" y="635.85" font-size="3.2" text-anchor="middle" font-weight="bold" font-style="normal" fill="#333">Wavenumbers (cm-1)</text>
<text x="500.4" y="593.5" font-size="3.2" text-anchor="middle" font-weight="bold" font-style="normal" fill="#333" transform="rotate(-90 500.4 592.35)">Absorbance (A.U)</text>
<polyline points="511.4,619.77 512.4,620.33 513.4,620.91 514.4,621.41 515.4,621.75 516.31,621.87 516.4,621.87 517.4,621.87 518.4,621.85 519.4,621.83 520.4,621.8 521.4,621.77 522.4,621.73 523.4,621.68 524.4,621.63 525.4,621.57 526.4,621.52 527.4,621.45 528.4,621.39 529.4,621.32 530.4,621.25 531.4,621.17 532.4,621.1 533.4,621.03 533.82,620.99 534.4,620.95 535.4,620.84 536.4,620.71 537.4,620.56 538.4,620.4 539.4,620.22 540.4,620.03 541.4,619.83 542.4,619.63 543.4,619.44 544.4,619.25 545.4,619.07 546.4,618.9 547.4,618.74 548.4,618.61 549.4,618.51 550.4,618.43 551.4,618.38 552.22,618.37 552.4,618.37 553.4,618.4 554.4,618.48 555.4,618.6 556.4,618.76 557.4,618.94 558.4,619.14 559.4,619.37 560.4,619.6 561.4,619.84 562.4,620.07 563.4,620.3 564.4,620.52 565.4,620.72 566.4,620.89 567.11,620.99 567.4,621.03 568.4,621.17 569.4,621.3 570.4,621.43 571.4,621.55 572.4,621.68 573.4,621.8 574.4,621.91 575.4,622.03 576.4,622.14 577.4,622.25 578.4,622.36 579.4,622.47 580.4,622.58 581.4,622.68 582.4,622.78 583.4,622.88 584.4,622.98 585.4,623.08 586.4,623.18 587.4,623.27 588.4,623.36 589.4,623.46 590.4,623.55 591.4,623.64 592.4,623.73 593.4,623.82 594.4,623.91 595.14,623.97 595.4,624 596.4,624.08 597.4,624.16 598.4,624.24 599.4,624.32 600.4,624.39 601.4,624.47 601.8,624.5" fill="none" stroke="#111111" stroke-width="1.15" stroke-linejoin="round" stroke-linecap="round"/>
<polyline points="511.4,614.51 512.4,614.5 513.4,614.45 514.4,614.38 515.4,614.27 516.4,614.14 517.4,613.99 518.4,613.81 519.4,613.61 520.4,613.39 521.4,613.15 521.56,613.11 522.4,612.76 523.4,612.02 524.4,610.99 525.4,609.74 526.4,608.34 527.4,606.85 528.4,605.33 529.4,603.86 530.32,602.6 530.4,602.5 531.4,601.18 532.4,599.85 533.4,598.49 534.4,597.11 535.4,595.72 536.4,594.29 537.4,592.85 538.4,591.39 539.4,589.91 540.4,588.41 541.4,586.9 542.4,585.36 542.58,585.08 543.4,583.7 544.4,581.73 545.4,579.57 546.4,577.35 547.4,575.16 548.4,573.14 549.4,571.39 550.4,570.04 551.4,569.19 552.22,568.96 552.4,568.96 553.4,569.05 554.4,569.27 555.4,569.59 556.4,570.01 557.4,570.52 558.4,571.11 559.4,571.76 560.4,572.46 561.4,573.21 562.4,573.98 563.4,574.77 564.4,575.56 565.36,576.32 565.4,576.35 566.4,577.22 567.4,578.22 568.4,579.34 569.4,580.55 570.4,581.83 571.4,583.16 572.4,584.51 573.4,585.87 574.12,586.83 574.4,587.21 575.4,588.59 576.4,590.03 577.4,591.52 578.4,593.05 579.4,594.6 580.4,596.16 581.4,597.72 582.4,599.26 583.4,600.78 584.4,602.26 584.63,602.6 585.4,603.72 586.4,605.19 587.4,606.66 588.4,608.12 589.4,609.57 590.4,610.98 591.4,612.34 592.4,613.64 593.39,614.86 593.4,614.87 594.4,616.05 595.4,617.2 596.4,618.31 597.4,619.38 598.4,620.42 599.4,621.41 600.4,622.36 601.4,623.27 601.8,623.62" fill="none" stroke="#f51b1b" stroke-width="1.15" stroke-linejoin="round" stroke-linecap="round"/>
<polyline points="511.4,607.85 512.4,609.48 513.4,610.93 514.4,612.1 515.4,612.87 516.31,613.11 516.4,613.11 517.4,613.05 518.4,612.92 519.4,612.72 520.4,612.5 521.4,612.27 521.56,612.23 522.4,611.98 523.4,611.57 524.4,611.12 525.4,610.73 526.4,610.51 526.82,610.48 527.4,610.48 528.4,610.48 529.4,610.48 530.4,610.48 531.4,610.48 532.07,610.48 532.4,610.47 533.4,610.25 534.4,609.81 535.4,609.18 536.4,608.4 537.4,607.5 538.4,606.54 539.4,605.54 540.4,604.55 541.4,603.61 542.4,602.75 542.58,602.6 543.4,601.9 544.4,600.93 545.4,599.87 546.4,598.78 547.4,597.72 548.4,596.73 549.4,595.89 550.4,595.23 551.4,594.83 552.22,594.72 552.4,594.72 553.4,594.91 554.4,595.34 555.4,595.97 556.4,596.76 557.4,597.67 558.4,598.66 559.4,599.69 560.4,600.71 561.4,601.69 562.4,602.58 563.4,603.34 563.61,603.47 564.4,603.98 565.4,604.59 566.4,605.18 567.4,605.74 568.4,606.29 569.4,606.82 570.4,607.33 571.4,607.84 572.4,608.34 573.4,608.83 574.4,609.32 575.4,609.81 576.4,610.31 577.4,610.81 578.4,611.32 579.4,611.84 580.4,612.38 581.4,612.93 582.4,613.5 583.4,614.1 584.4,614.72 584.63,614.86 585.4,615.38 586.4,616.1 587.4,616.88 588.4,617.69 589.4,618.52 590.4,619.35 591.4,620.16 592.4,620.93 593.4,621.66 594.4,622.31 595.14,622.75 595.4,622.89 596.4,623.42 597.4,623.92 598.4,624.39 599.4,624.82 600.4,625.22 601.4,625.59 601.8,625.72" fill="none" stroke="#138585" stroke-width="1.15" stroke-linejoin="round" stroke-linecap="round"/>
<polyline points="511.4,607.5 512.4,609.36 513.4,611.01 514.4,612.33 515.4,613.19 516.31,613.46 516.4,613.46 517.4,613.37 518.4,613.17 519.4,612.89 520.4,612.58 521.4,612.28 521.56,612.23 522.4,611.95 523.4,611.53 524.4,611.09 525.4,610.72 526.4,610.51 526.82,610.48 527.4,610.48 528.4,610.48 529.4,610.48 530.4,610.48 531.4,610.48 532.07,610.48 532.4,610.47 533.4,610.28 534.4,609.89 535.4,609.34 536.4,608.65 537.4,607.87 538.4,607.01 539.4,606.13 540.4,605.24 541.4,604.39 542.4,603.61 542.58,603.47 543.4,602.83 544.4,601.91 545.4,600.9 546.4,599.86 547.4,598.84 548.4,597.9 549.4,597.08 550.4,596.45 551.4,596.05 552.22,595.94 552.4,595.95 553.4,596.12 554.4,596.53 555.4,597.14 556.4,597.89 557.4,598.76 558.4,599.71 559.4,600.69 560.4,601.67 561.4,602.61 562.4,603.47 563.4,604.22 563.61,604.35 564.4,604.85 565.4,605.46 566.4,606.05 567.4,606.63 568.4,607.2 569.4,607.75 570.4,608.29 571.4,608.82 572.4,609.35 573.4,609.87 574.4,610.38 575.4,610.89 576.4,611.4 577.4,611.91 578.4,612.42 579.4,612.94 580.4,613.46 581.4,613.98 582.4,614.51 583.4,615.06 584.4,615.61 584.63,615.74 585.4,616.17 586.4,616.74 587.4,617.3 588.4,617.87 589.4,618.45 590.4,619.02 591.4,619.6 592.4,620.18 593.4,620.76 594.4,621.34 595.4,621.93 596.4,622.52 597.4,623.11 598.4,623.7 599.4,624.29 600.4,624.89 601.4,625.49 601.8,625.72" fill="none" stroke="#f024f0" stroke-width="1.15" stroke-linejoin="round" stroke-linecap="round"/>
<polyline points="511.4,609.61 512.4,613.24 513.4,616.22 514.4,618.39 515.4,619.58 515.96,619.77 516.4,619.65 517.4,618.7 518.4,617.06 519.4,615.08 520.4,613.13 521.4,611.55 521.56,611.36 522.4,610.34 523.4,609.09 524.4,607.92 525.4,607.01 526.4,606.51 526.82,606.45 527.4,606.45 528.4,606.45 529.4,606.45 530.4,606.45 531.4,606.45 532.07,606.45 532.4,606.44 533.4,606.18 534.4,605.66 535.4,604.92 536.4,604 537.4,602.96 538.4,601.84 539.4,600.69 540.4,599.55 541.4,598.48 542.4,597.51 542.58,597.34 543.4,596.58 544.4,595.52 545.4,594.38 546.4,593.22 547.4,592.09 548.4,591.06 549.4,590.17 550.4,589.48 551.4,589.05 552.22,588.93 552.4,588.94 553.4,589.14 554.4,589.62 555.4,590.31 556.4,591.17 557.4,592.16 558.4,593.23 559.4,594.33 560.4,595.41 561.4,596.43 562.4,597.34 563.4,598.09 563.61,598.22 564.4,598.68 565.4,599.22 566.4,599.71 567.4,600.18 568.4,600.63 569.4,601.08 570.4,601.56 571.4,602.06 572.37,602.6 572.4,602.62 573.4,603.21 574.4,603.83 575.4,604.47 576.4,605.13 577.4,605.81 578.4,606.52 579.4,607.24 580.4,607.99 581.4,608.75 582.4,609.54 583.4,610.34 584.4,611.17 584.63,611.36 585.4,612.04 586.4,613.01 587.4,614.06 588.4,615.16 589.4,616.28 590.4,617.4 591.4,618.49 592.4,619.53 593.4,620.48 594.4,621.33 595.14,621.87 595.4,622.04 596.4,622.69 597.4,623.3 598.4,623.86 599.4,624.37 600.4,624.83 601.4,625.23 601.8,625.37" fill="none" stroke="#2222ee" stroke-width="1.15" stroke-linejoin="round" stroke-linecap="round"/>
<text x="444.2" y="693.12" font-size="11.5" text-anchor="middle" font-weight="bold" font-style="normal" fill="#000">1</text>
<text x="467" y="693.12" font-size="11.5" text-anchor="middle" font-weight="bold" font-style="normal" fill="#000">2</text>
<text x="481" y="637.12" font-size="11.5" text-anchor="middle" font-weight="bold" font-style="normal" fill="#000">3</text>
<text x="583.3" y="668.42" font-size="11.5" text-anchor="middle" font-weight="bold" font-style="normal" fill="#000">4</text>
<text x="618.1" y="597.02" font-size="11.5" text-anchor="middle" font-weight="bold" font-style="normal" fill="#000">5</text>
<path d="M637,582.5 C639.17,588.17 643.2,591.69 643.2,595.1 A6.2,6.2 0 0 1 630.8,595.1 C630.8,591.69 634.83,588.17 637,582.5Z" fill="url(#dropg)" stroke="#9dbacb" stroke-width="1.1"/>
</svg></body></html>
